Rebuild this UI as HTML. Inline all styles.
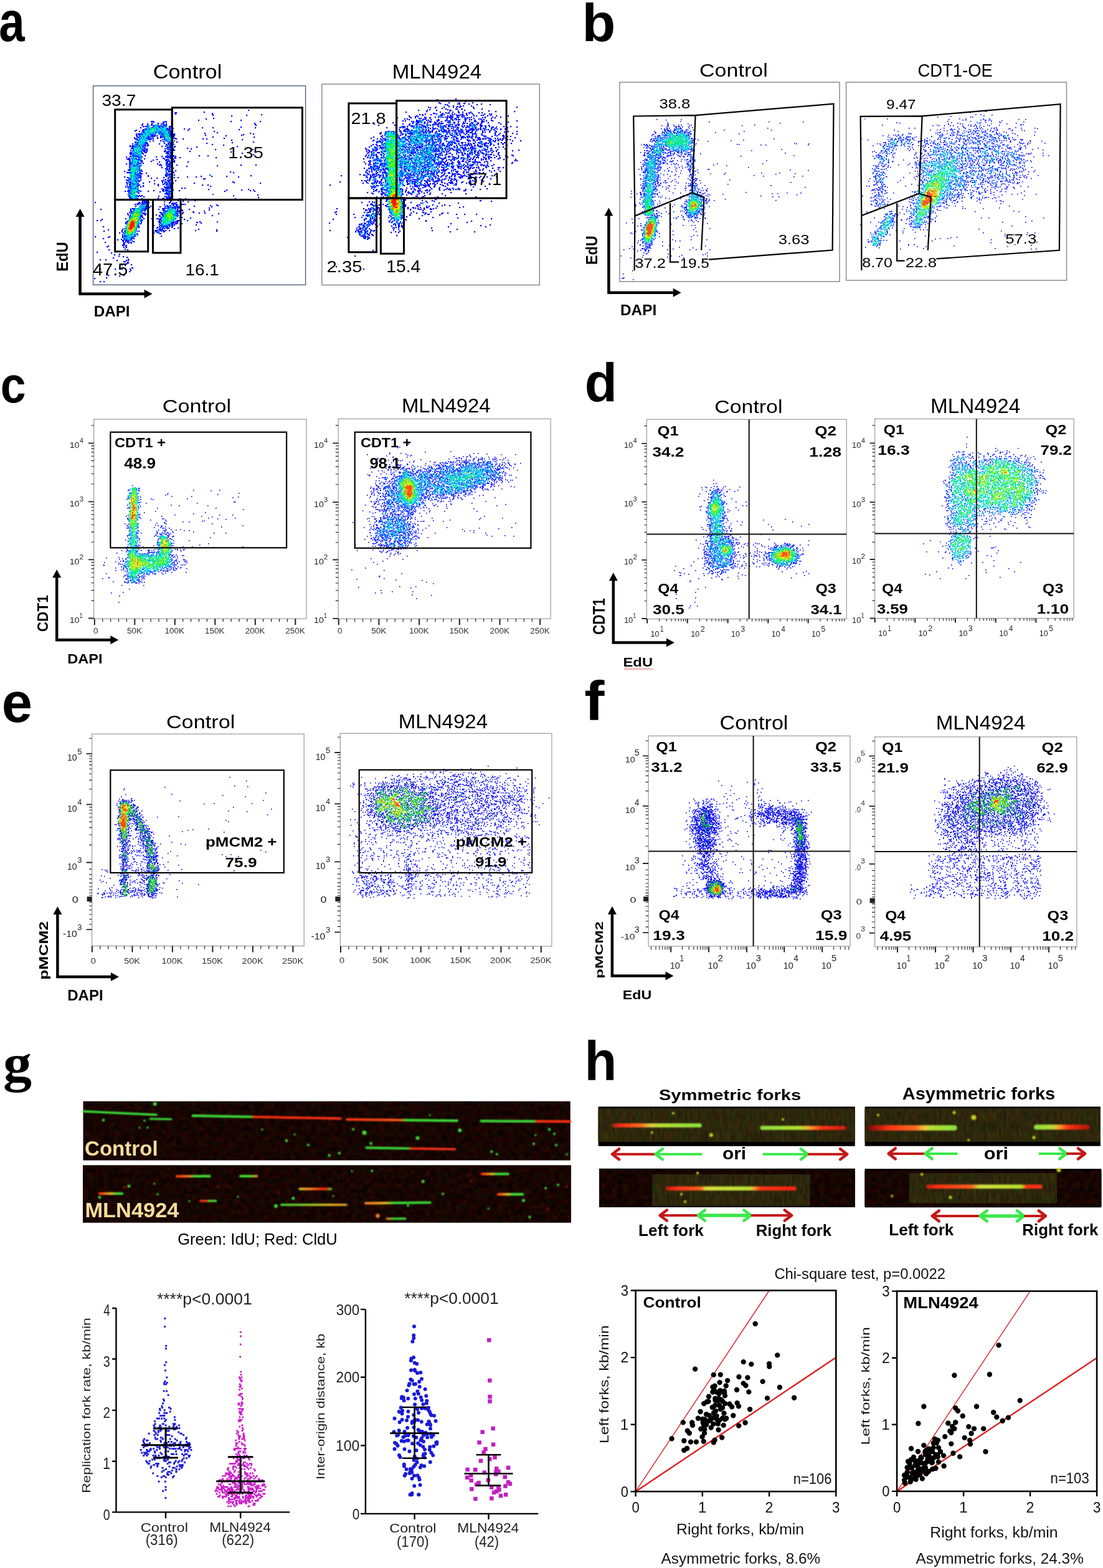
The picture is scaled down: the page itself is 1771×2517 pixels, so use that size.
<!DOCTYPE html><html><head><meta charset="utf-8"><title>Figure</title><style>html,body{margin:0;padding:0;background:#fff;width:1771px;height:2517px;overflow:hidden}svg{display:block}</style></head><body><svg width="1771" height="2517" viewBox="0 0 1771 2517" font-family="'Liberation Sans', Arial, sans-serif"><defs><marker id="k0" markerUnits="userSpaceOnUse" markerWidth="3" markerHeight="3" refX="0" refY="0" overflow="visible"><rect width="2.2" height="2.2" fill="#0000ff"/></marker><marker id="k1" markerUnits="userSpaceOnUse" markerWidth="3" markerHeight="3" refX="0" refY="0" overflow="visible"><rect width="2.2" height="2.2" fill="#0050ff"/></marker><marker id="k2" markerUnits="userSpaceOnUse" markerWidth="3" markerHeight="3" refX="0" refY="0" overflow="visible"><rect width="2.2" height="2.2" fill="#00b8ff"/></marker><marker id="k3" markerUnits="userSpaceOnUse" markerWidth="3" markerHeight="3" refX="0" refY="0" overflow="visible"><rect width="2.2" height="2.2" fill="#00f0c8"/></marker><marker id="k4" markerUnits="userSpaceOnUse" markerWidth="3" markerHeight="3" refX="0" refY="0" overflow="visible"><rect width="2.2" height="2.2" fill="#00f040"/></marker><marker id="k5" markerUnits="userSpaceOnUse" markerWidth="3" markerHeight="3" refX="0" refY="0" overflow="visible"><rect width="2.2" height="2.2" fill="#90f000"/></marker><marker id="k6" markerUnits="userSpaceOnUse" markerWidth="3" markerHeight="3" refX="0" refY="0" overflow="visible"><rect width="2.2" height="2.2" fill="#f8f000"/></marker><marker id="k7" markerUnits="userSpaceOnUse" markerWidth="3" markerHeight="3" refX="0" refY="0" overflow="visible"><rect width="2.2" height="2.2" fill="#ff8000"/></marker><marker id="k8" markerUnits="userSpaceOnUse" markerWidth="3" markerHeight="3" refX="0" refY="0" overflow="visible"><rect width="2.2" height="2.2" fill="#ff1800"/></marker><marker id="j0" markerUnits="userSpaceOnUse" markerWidth="3" markerHeight="3" refX="0" refY="0" overflow="visible"><rect width="1.6" height="1.6" fill="#0000ff"/></marker><marker id="j1" markerUnits="userSpaceOnUse" markerWidth="3" markerHeight="3" refX="0" refY="0" overflow="visible"><rect width="1.6" height="1.6" fill="#0050ff"/></marker><marker id="j2" markerUnits="userSpaceOnUse" markerWidth="3" markerHeight="3" refX="0" refY="0" overflow="visible"><rect width="1.6" height="1.6" fill="#00b8ff"/></marker><marker id="j3" markerUnits="userSpaceOnUse" markerWidth="3" markerHeight="3" refX="0" refY="0" overflow="visible"><rect width="1.6" height="1.6" fill="#00f0c8"/></marker><marker id="j4" markerUnits="userSpaceOnUse" markerWidth="3" markerHeight="3" refX="0" refY="0" overflow="visible"><rect width="1.6" height="1.6" fill="#00f040"/></marker><marker id="j5" markerUnits="userSpaceOnUse" markerWidth="3" markerHeight="3" refX="0" refY="0" overflow="visible"><rect width="1.6" height="1.6" fill="#90f000"/></marker><marker id="j6" markerUnits="userSpaceOnUse" markerWidth="3" markerHeight="3" refX="0" refY="0" overflow="visible"><rect width="1.6" height="1.6" fill="#f8f000"/></marker><marker id="j7" markerUnits="userSpaceOnUse" markerWidth="3" markerHeight="3" refX="0" refY="0" overflow="visible"><rect width="1.6" height="1.6" fill="#ff8000"/></marker><marker id="j8" markerUnits="userSpaceOnUse" markerWidth="3" markerHeight="3" refX="0" refY="0" overflow="visible"><rect width="1.6" height="1.6" fill="#ff1800"/></marker><marker id="i0" markerUnits="userSpaceOnUse" markerWidth="3" markerHeight="3" refX="0" refY="0" overflow="visible"><rect width="1.6" height="1.6" fill="#0000ff"/></marker><marker id="i1" markerUnits="userSpaceOnUse" markerWidth="3" markerHeight="3" refX="0" refY="0" overflow="visible"><rect width="1.6" height="1.6" fill="#0000d8"/></marker><marker id="i2" markerUnits="userSpaceOnUse" markerWidth="3" markerHeight="3" refX="0" refY="0" overflow="visible"><rect width="1.6" height="1.6" fill="#1a1aff"/></marker><marker id="i3" markerUnits="userSpaceOnUse" markerWidth="3" markerHeight="3" refX="0" refY="0" overflow="visible"><rect width="1.6" height="1.6" fill="#00b050"/></marker><marker id="i4" markerUnits="userSpaceOnUse" markerWidth="3" markerHeight="3" refX="0" refY="0" overflow="visible"><rect width="1.6" height="1.6" fill="#20e020"/></marker><marker id="i5" markerUnits="userSpaceOnUse" markerWidth="3" markerHeight="3" refX="0" refY="0" overflow="visible"><rect width="1.6" height="1.6" fill="#b0e800"/></marker><marker id="i6" markerUnits="userSpaceOnUse" markerWidth="3" markerHeight="3" refX="0" refY="0" overflow="visible"><rect width="1.6" height="1.6" fill="#f0e000"/></marker><marker id="i7" markerUnits="userSpaceOnUse" markerWidth="3" markerHeight="3" refX="0" refY="0" overflow="visible"><rect width="1.6" height="1.6" fill="#ff7000"/></marker><marker id="i8" markerUnits="userSpaceOnUse" markerWidth="3" markerHeight="3" refX="0" refY="0" overflow="visible"><rect width="1.6" height="1.6" fill="#ff1000"/></marker></defs><text x="-1.7" y="65.6" font-size="90.4" font-weight="bold" textLength="41.4" lengthAdjust="spacingAndGlyphs" fill="#000">a</text><text x="934.6" y="65.9" font-size="85.4" font-weight="bold" textLength="53.8" lengthAdjust="spacingAndGlyphs" fill="#000">b</text><text x="0.8" y="645.8" font-size="81.8" font-weight="bold" textLength="40.9" lengthAdjust="spacingAndGlyphs" fill="#000">c</text><text x="938.8" y="644" font-size="87.1" font-weight="bold" textLength="52.2" lengthAdjust="spacingAndGlyphs" fill="#000">d</text><text x="2.7" y="1158.7" font-size="90.4" font-weight="bold" textLength="49.2" lengthAdjust="spacingAndGlyphs" fill="#000">e</text><text x="938.3" y="1156.3" font-size="89.6" font-weight="bold" textLength="32.2" lengthAdjust="spacingAndGlyphs" fill="#000">f</text><text x="4.9" y="1736.1" font-size="85.6" font-weight="bold" font-family="'Liberation Serif', serif" textLength="46.0" lengthAdjust="spacingAndGlyphs">g</text><text x="938.6" y="1733.8" font-size="88.5" font-weight="bold" textLength="51.8" lengthAdjust="spacingAndGlyphs" fill="#000">h</text><g fill="none" stroke="none"><path d="m398 176-71 3-47 1 2 0 58 1-59 1 59 0 79 1-78 1 54 0-24 1-29 4-12 1-12 2 68 0-144 2 1 0 2 0 19 0 1 0 105 0 47 0-171 1 15 0 5 0-4 1-19 1 10 0 8 0 147 0-180 1 8 0 22 0 8 0-30 1 7 0 18 0 1 0 147 0-182 1 9 0 6 0 7 0 14 0 1 0 2 0 144 0-174 1 1 0 16 0 1 0 3 0 2 0-30 1 1 0 3 0 1 0 13 0 3 0 3 0 18 0 2 0-28 1 2 0 4 0 3 0 1 0 4 0 4 0 2 0 6 0 115 0-161 1 12 0 1 0 5 0 9 0 5 0 67 0 17 0 68 0-170 1 1 0 28 0 3 0 1 0 5 0-45 1 2 0 3 0 15 0 3 0 12 0 8 0 20 0 8 0-74 1 6 0 1 0 5 0 11 0 3 0 4 0 4 0 3 0 4 0 5 0 108 0-165 1 15 0 5 0 2 0 8 0 8 0 10 0 2 0 7 0 26 0-85 1 12 0 1 0 7 0 29 0 6 0-48 1 6 0 24 0 18 0 2 0 3 0 67 0-113 1 1 0 6 0 9 0 3 0 5 0 2 0 1 0 15 0-45 1 3 0 5 0 18 0 4 0 5 0 3 0 5 0 78 0-111 1 2 0 6 0 22 0 61 0 73 0-183 1 3 0 1 0 1 0 1 0 9 0 15 0 7 0 1 0 3 0 15 0 2 0 3 0 127 0-184 1 5 0 1 0 15 0 17 0 12 0 1 0 5 0 112 0-172 1 18 0 2 0 7 0 2 0 10 0 10 0 4 0 8 0 50 0 58 0-168 1 4 0 4 0 2 0 1 0 12 0 1 0 1 0 4 0 3 0 6 0 4 0 4 0 1 0 5 0 2 0 3 0 2 0 84 0-137 1 1 0 10 0 1 0 2 0 3 0 2 0 2 0 11 0 7 0 14 0-59 1 1 0 6 0 33 0 14 0 1 0 67 0 66 0-192 1 7 0 10 0 5 0 3 0 12 0 5 0 6 0 1 0 11 0 2 0-52 1 11 0 1 0 1 0 14 0 13 0 15 0 79 0-143 1 2 0 1 0 12 0 2 0 2 0 4 0 1 0 2 0 3 0 18 0 11 0 8 0 11 0 32 0 6 0-113 1 10 0 10 0 2 0 20 0 3 0 2 0 10 0 1 0 112 0-113 1 1 0 95 0-147 1 21 0 12 0 9 0 7 0-11 1 11 0-57 1 8 0 7 0 2 0 42 0 8 0 123 0-186 1 11 0 4 0 36 0 4 0 2 0 95 0-145 1 6 0 30 0 6 0 1 0 3 0 58 0-119 1 4 0 8 0 5 0 6 0 1 0 19 0 18 0 1 0-58 1 11 0 3 0 2 0 34 0 74 0-123 1 1 0 2 0 2 0 15 0 30 0 2 0 4 0 1 0 2 0 82 0-150 1 4 0 2 0 3 0 5 0 2 0 6 0 2 0 1 0 3 0 38 0-66 1 3 0 10 0 3 0 4 0 31 0 6 0 7 0 1 0 7 0 100 0-166 1 2 0 55 0 8 0 36 0-103 1 12 0 1 0 3 0 4 0 37 0 3 0 4 0-66 1 2 0 9 0 4 0 2 0 40 0 33 0-69 1 4 0 29 0 5 0 4 0 4 0 29 0-93 1 9 0 8 0 39 0 3 0 73 0 60 0-192 1 13 0 2 0 7 0 38 0 4 0 2 0-70 1 10 0 11 0 2 0 3 0 29 0 1 0 6 0 1 0 3 0-63 1 14 0 4 0 33 0 1 0 5 0 1 0 1 0 4 0 29 0-77 1 4 0 3 0 33 0 103 0-162 1 2 0 7 0 16 0 34 0 2 0 4 0-63 1 3 0 4 0 5 0 1 0 4 0 39 0 3 0 5 0 114 0-180 1 1 0 1 0 4 0 15 0 39 0-59 1 4 0 58 0 135 0-193 1 3 0 55 0-57 1 3 0 1 0 2 0 3 0 9 0 36 0 4 0 2 0 4 0 41 0 14 0-125 1 1 0 3 0 1 0 8 0 5 0 33 0 7 0 3 0 1 0 8 0 3 0-79 1 14 0 4 0 4 0 1 0 2 0 23 0 15 0 2 0 2 0 2 0 2 0-61 1 56 0 3 0 9 0 8 0 58 0-140 1 4 0 12 0 39 0 12 0 1 0 7 0-78 1 4 0 5 0 1 0 5 0 5 0 1 0 1 0 6 0 32 0 15 0-73 1 1 0 10 0 35 0 16 0 2 0 5 0 2 0-68 1 3 0 6 0 6 0 1 0 21 0 20 0 4 0 1 0 6 0-64 1 13 0 2 0 39 0 3 0 1 0 4 0 5 0-72 1 4 0 8 0 7 0 16 0 26 0 3 0 6 0-69 1 4 0 9 0 6 0 28 0 24 0 22 0-90 1 8 0 1 0 46 0 2 0 4 0 2 0-58 1 1 0 5 0 3 0 4 0 37 0 6 0-70 1 5 0 9 0 2 0 3 0 1 0 30 0 14 0 5 0 1 0-64 1 6 0 3 0 4 0 36 0 12 0 2 0-59 1 5 0 1 0 3 0 34 0 11 0 4 0 1 0 1 0 11 0 103 0 24 0-203 1 4 0 4 0 10 0 33 0 11 0 79 0-125 1 45 0 1 0 2 0 3 0 25 0-84 1 6 0 46 0 5 0 1 0-66 1 15 0 37 0 12 0 1 0-53 1 4 0 44 0 10 0-12 1 3 0 3 0-64 1 14 0 1 0 46 0 3 0-66 1 1 0 2 0 4 0 6 0 8 0 41 0-56 1 54 0 1 0 4 0 11 0-82 1 9 0 12 0 7 0 45 0 2 0-65 1 5 0 2 0 8 0 46 0 4 0 3 0 92 0-166 1 2 0 2 0 6 0 6 0 1 0 4 0 42 0 12 0 96 0-166 1 8 0 4 0 2 0 1 0 11 0-18 1 3 0 1 0 5 0 2 0 40 0 1 0 4 0-7 1 1 0 1 0 3 0 2 0 2 0-52 1 1 0 43 0 5 0 8 0-54 1 12 0 28 0 2 0 1 0 3 0 2 0 129 0-185 1 4 0 16 0 29 0 6 0 2 0 48 0 17 0 24 0-164 1 10 0 2 0 11 0 2 0 1 0 50 0 25 0 14 0 68 0-178 1 6 0 52 0 8 0 5 0 4 0 6 0-79 1 13 0 6 0 17 0 9 0 18 0-50 1 50 0 5 0 52 0 2 0-120 1 11 0 1 0 45 0 7 0-70 1 3 0 2 0 5 0 5 0 2 0 6 0 37 0-58 1 18 0 25 0 12 0 9 0 2 0 1 0 1 0 9 0-73 1 1 0 6 0 1 0 7 0 37 0 10 0 6 0-70 1 14 0 19 0 25 0 6 0 103 0-171 1 6 0 1 0 51 0 7 0 5 0 3 0 100 0-172 1 1 0 10 0 3 0 12 0 36 0 8 0 4 0 34 0 106 0-209 1 3 0 4 0 4 0 2 0 26 0 16 0 5 0 8 0-69 1 1 0 5 0 4 0 36 0 8 0 6 0 1 0 4 0 2 0-71 1 6 0 11 0 3 0 43 0 1 0 2 0 4 0 51 0 9 0-125 1 3 0 6 0 3 0 1 0 8 0 24 0 19 0-63 1 1 0 2 0 3 0 14 0 44 0 64 0-136 1 3 0 2 0 1 0 9 0 4 0 5 0 38 0 4 0 1 0-57 1 53 0 2 0 2 0 2 0 1 0 2 0 3 0-65 1 54 0 1 0 1 0 3 0 21 0 5 0-91 1 3 0 11 0 1 0 39 0 10 0 4 0-61 1 6 0 2 0 41 0 1 0 4 0 68 0 64 0-191 1 3 0 10 0 41 0 4 0 1 0 1 0 10 0 86 0 24 0 19 0-200 1 2 0 1 0 9 0 1 0 3 0 24 0 14 0 5 0 2 0 2 0 18 0 114 0-201 1 4 0 2 0 9 0 10 0 12 0 25 0 8 0 2 0 2 0 86 0 48 0-198 1 10 0 36 0 11 0-61 1 4 0 56 0 5 0 2 0-52 1 1 0 44 0 2 0 3 0 3 0 1 0-66 1 55 0 3 0 3 0 1 0-66 1 62 0 4 0 3 0-66 1 3 0 1 0 6 0 51 0 1 0 143 0-205 1 10 0 1 0 4 0 4 0 42 0 5 0 100 0-168 1 2 0 13 0 4 0 29 0 10 0 12 0-67 1 9 0 12 0 36 0 6 0 2 0-67 1 8 0 52 0 3 0 1 0 143 0-205 1 9 0 2 0 33 0 9 0 5 0 4 0 2 0-65 1 2 0 4 0 3 0 10 0 33 0 6 0 3 0 1 0 6 0 12 0 9 0 80 0-146 1 34 0 5 0 9 0 2 0 6 0 100 0-158 1 1 0 38 0 4 0 31 0 2 0-75 1 44 0 11 0 27 0-84 1 3 0 2 0 2 0 38 0 20 0-61 1 31 0 38 0-149 1 71 0 4 0 2 0 2 0 4 0 1 0 2 0 34 0 10 0-61 1 12 0 2 0 36 0 5 0 3 0-55 1 4 0 2 0 4 0 41 0 3 0 2 0-64 1 3 0 2 0 6 0 1 0 5 0 30 0 19 0 1 0 6 0 2 0 2 0 3 0-69 1 3 0 3 0 44 0 5 0 65 0-121 1 8 0 33 0 5 0 6 0 6 0 53 0 12 0-132 1 24 0 23 0 3 0 2 0 13 0 29 0-87 1 6 0 4 0 1 0 21 0 16 0 1 0 7 0 4 0 2 0 53 0-107 1 2 0 5 0 5 0 25 0 1 0 1 0 5 0 1 0 4 0 3 0 3 0-59 1 35 0 2 0 2 0 1 0 2 0 6 0 5 0 4 0 3 0 47 0-123 1 2 0 1 0 5 0 10 0 2 0 2 0 26 0 2 0 5 0 10 0 2 0 1 0-119 1 48 0 5 0 10 0 1 0 5 0 3 0 21 0 8 0 9 0 6 0 3 0 1 0 3 0 19 0-94 1 5 0 13 0 34 0 8 0 15 0 7 0 44 0-109 1 2 0 4 0 29 0 3 0 21 0 4 0 3 0-83 1 1 0 3 0 2 0 16 0 36 0 10 0 5 0 3 0 2 0 40 0-117 1 15 0 1 0 38 0 20 0 1 0 24 0-102 1 49 0 1 0 4 0 19 0 8 0 1 0 4 0 17 0-98 1 12 0 4 0 2 0 28 0 24 0 6 0 1 0 30 0 9 0-124 1 5 0 20 0 2 0 2 0 48 0 3 0 8 0 58 0-92 1 22 0 2 0-77 1 27 0 18 0 10 0 29 0-81 1 19 0 28 0 7 0 20 0 3 0 55 0-115 1 2 0 28 0 1 0 7 0 15 0-71 1 20 0-3 1 4 0 30 0 3 0 1 0 18 0 8 0 3 0-67 1 81 0-104 1 6 0 23 0 13 0 8 0 2 0 3 0 2 0 21 0 2 0-118 1 132 0-70 1 2 0 28 0 2 0-102 1 6 0 66 0 50 0 7 0 2 0 14 0-79 1 34 0 3 0 25 0-29 1 21 0 2 0 4 0 1 0 2 0 36 0 28 0-147 1 2 0 23 0 30 0 3 0 9 0 11 0 36 0 1 0-61 1 2 0 11 0 6 0 1 0 2 0 1 0 6 0 38 0-121 1 19 0 2 0 1 0 2 0 44 0 2 0 10 0 1 0 9 0-20 1 3 0 2 0-21 1 3 0 3 0 2 0 2 0 5 0 1 0 5 0 3 0 35 0-68 1 11 0 17 0 2 0-56 1 2 0 40 0 5 0 4 0 1 0-107 1 37 0 53 0 6 0 4 0 3 0 8 0-54 1 30 0 9 0 14 0-24 1 17 0 1 0 1 0 15 0-86 1 57 0 4 0 3 0 5 0 11 0-83 1 22 0 39 0 1 0 1 0 59 0-145 1 82 0 4 0 88 0-152 1 54 0 2 0 6 0 4 0 4 0 6 0 42 0-147 1 56 0 26 0 1 0 1 0 8 0 5 0 84 0-152 1 8 0 50 0 1 0 8 0-11 1 1 0 1 0-62 1 6 0 18 0 31 0-27 1 38 0-41 1-20 1 14 0 6 0-17 1 2 0 9 0-14 1 3 0 5 0 11 0 1 0 42 0-106 1 23 0 29 0-31 1 23 0 7 0 10 0-14 1 5 0 5 0 1 0 1 0-46 1 18 0 16 0 11 0 4 0-20 1-6 1 10 0 3 0 1 0 4 0 3 0 1 0-14 1 1 0 5 0-1 1 3 0 2 0-9 1 4 0 13 0-46 1 36 0 5 0-26 1 15 0 1 0 7 0 4 0-12 1-1 1 2 1-3 1 1 0 5 0-29 1-2 1 30 0-3 1 4 0-2 3-26 1 30 0-49 4 23 1 13 2-8 1 7 2 7 1 6 1-22 1 24 2-45 1 9 0 18 1 15 0 3 0-7 2 2 0 4 1 1 1-2 1-31 1 29 0-6 1 15 0-10 1 11 4 1 0-52 2 24 0 8 0 3 0 13 0 1 2-2 2-34 6 25 0-7 1-21 3-19 1 9 5 6 0" marker-start="url(#k0)" marker-mid="url(#k0)" marker-end="url(#k0)"/><path d="m252 199 10 0 1 0-17 1 5 0 15 0-28 1 7 0 4 0 3 0 7 0 6 0 1 0-28 1 9 0 3 0 2 0 9 0 4 0-14 1 2 0 6 0 1 0 2 0 1 0-27 1 4 0 10 0 6 0 1 0 2 0-22 1 5 0 1 0 4 0 7 0 1 0 2 0 2 0-23 1 3 0 1 0 1 0 7 0 2 0 2 0 3 0 4 0 6 0-28 1 18 0 10 0 2 0 1 0 4 0-41 1 5 0 25 0 1 0 1 0 5 0 4 0-35 1 8 0 2 0 7 0 4 0 5 0 4 0-34 1 3 0 3 0 5 0 1 0 3 0 2 0 5 0 6 0 3 0 1 0 5 0-35 1 1 0 2 0 6 0 9 0 2 0 1 0 2 0 1 0 3 0 2 0 8 0-39 1 7 0 10 0 7 0 9 0 3 0 4 0-42 1 5 0 4 0 8 0 7 0 6 0 1 0 5 0 3 0 2 0-46 1 3 0 1 0 3 0 1 0 8 0 13 0 12 0 1 0 8 0-51 1 1 0 6 0 2 0 6 0 8 0 10 0 4 0 3 0 1 0-39 1 1 0 3 0 15 0 14 0 6 0 4 0-47 1 40 0 10 0-49 1 3 0 1 0 3 0 12 0 22 0 7 0 2 0-50 1 4 0 5 0 2 0 6 0 20 0 6 0 3 0 3 0-44 1 4 0 11 0 29 0-50 1 2 0 1 0 1 0 4 0 2 0 6 0 39 0-55 1 11 0 1 0 5 0 30 0-47 1 4 0 43 0-50 1 1 0 9 0 36 0 2 0 1 0 1 0 1 0 3 0 1 0-51 1 1 0 1 0 8 0 33 0 3 0 9 0-57 1 1 0 2 0 1 0 2 0 4 0 8 0 21 0 2 0 5 0 2 0-52 1 14 0 42 0-57 1 7 0 3 0 3 0 45 0-55 1 1 0 2 0 7 0 2 0 43 0-58 1 2 0 2 0 5 0 1 0 1 0 3 0-13 1 7 0 1 0 44 0 1 0 3 0 4 0-52 1 44 0-46 1 44 0-47 1-7 1 4 0 1 0 49 0-40 1 2 0-13 1 4 0 1 0 1 0 1 0 3 0 50 0-63 1 3 0 5 0 3 0 43 0 2 0 3 0-58 1 1 0 1 0 8 0 4 0 4 0-24 1 5 0 2 0 1 0 6 0 1 0-2 1 1 0-11 1 5 0 1 0 1 0-4 1 6 0 1 0 1 0 1 0 48 0 3 0 1 0-57 1 2 0-8 1 6 0 1 0 4 0-8 1 3 0 3 0 2 0 46 0 3 0 1 0-64 1 3 0 10 0 2 0 46 0-59 1 7 0 2 0 2 0-7 1 7 0 44 0 4 0-55 1 2 0 3 0 5 0 45 0-59 1 11 0 1 0-12 1 5 0 5 0 48 0-59 1 2 0 1 0 1 0-2 1 1 0 2 0 2 1 2 0 1 0-8 1 6 0 1 0 49 0 1 0-57 1 1 0 1 0 2 0 3 0 1 0-9 1 6 0 2 0 1 0-6 1 2 0-10 1 3 0 4 0-5 1 1 1 8 0 1 0 1 0 3 0 1 0 44 0-57 1 6 0 49 0 2 0-52 1 1 0 2 0 48 0 3 0-60 1 2 0 3 0 1 0 58 0-60 1 6 0-12 1 10 0 4 0 50 0 1 0 1 0-63 1 4 0 7 0-4 1 4 0-14 1 2 0 2 0 1 0 1 0 3 0 3 0-5 1 57 0-63 1 2 0 2 0 2 0 2 0 7 0-10 1 9 0 43 0-47 1-9 1 5 0 60 0-66 1 1 0 9 0 48 0-57 1 1 0 4 0 3 0-8 1 1 0 3 0 2 0 51 0-56 1 1 1 4 0 1 0 1 0 2 0 51 0 65 0-127 1 3 0 7 0 1 0 48 0-59 1 2 0 5 0 1 0-6 1 2 0-5 1 2 0 1 0 6 0 1 0 4 0 51 0-64 1 5 0 2 0 1 0 1 0 2 0 1 0-6 1 5 0-10 1 2 0 2 0 1 0 5 0-13 1 5 0-1 1 1 0 7 0-7 1 3 0 2 0 48 0-59 1 1 0 6 0 5 0 2 0 1 0-11 1 2 0 1 1 3 0 2 0 47 0 6 0-60 1 7 0 51 0 1 0 3 0-54 1 51 0 1 0-56 1 1 0 2 0-9 1 11 0 50 0 1 0-59 1 5 1 1 0 1 0 51 0-64 1 3 0 1 0 2 0 3 0 2 0 3 0-10 1 6 0 3 0-5 1 3 0 49 0-53 1 6 0-10 1 2 0 5 0 2 0 2 0-12 1 3 0 12 0 48 0-61 1 5 0 3 0-6 1 3 0 2 0 2 0-11 1 5 0 1 0 7 0 51 0 1 0-66 1 63 0 1 0 1 0-62 1 1 0 4 0-7 1 6 0 55 0 72 0-131 1 2 0 57 0-62 1 4 0 5 0 2 0-10 1 1 0 3 0 4 0 1 0 54 0-61 1 5 0 54 0-61 1 2 0 2 0 2 0-2 1 8 0-5 1 3 0 55 1-40 4-4 1 0 1 3 2 1 0 1 0-3 1 2 0 43 0-47 1 44 0 11 0-59 1 2 0 3 0 42 0 6 0 7 0-60 1 2 0 1 0 1 0 3 0 40 0 10 0-11 1-55 1 9 0 42 0 7 0 5 0-70 1 11 0 5 0 3 0 2 0 42 0 5 0 1 0-59 1 1 0 2 0 3 0 2 0 4 0-17 1 4 0 3 0 1 0 5 0 3 0 33 0 7 0 2 0 1 0-59 1 6 0 2 0 1 0 48 0 4 0 1 0-60 1 7 0 1 0 1 0 1 0 5 0 32 0 2 0 6 0 2 0 4 0 2 0 1 0-61 1 6 0 38 0 1 0 1 0 12 0 1 0 2 0-67 1 1 0 3 0 44 0 15 0 2 0 1 0 3 0-71 1 1 0 1 0 3 0 1 0 6 0 41 0 3 0 3 0 4 0 4 0-18 1 8 0 12 0 2 0 3 0-72 1 12 0 37 0 2 0 4 0 9 0 5 0-58 1 2 0 37 0 15 0 1 0 2 0 2 0-60 1 37 0-50 1 1 0 4 0 7 0 39 0-50 1 9 0 40 0 2 0 6 0 12 0 4 0-76 1 16 0 37 0 3 0 6 0-61 1 52 0 4 0 1 0 13 0 1 0-72 1 16 0 33 0 6 0 17 0-55 1 38 0 6 0-47 1 42 0 13 0-72 1 1 0 54 0 1 0 1 0 9 0 1 0-69 1 2 0 1 0 13 0 6 0 44 0 7 0 1 0-72 1 1 0 56 0 6 0-47 1 51 0-69 1 17 0 39 0 2 0 3 0-44 1 41 0 3 0 1 0-1 1 1 0 9 0-54 1 1 0 39 0 4 0 4 0 6 0-70 1 15 0 39 0 3 0 3 0 1 0-45 1 39 0-56 1 56 0-40 1 37 0 1 0 3 1 6 0-64 1 53 0 1 0-54 2 14 0 37 0-53 1 58 0-59 1 1 0 16 0 3 0-15 1 49 0-53 1 3 0 13 0 35 0 3 0-49 1 9 0-15 1 8 0 48 0-55 1 1 0 1 0 10 0-7 1 10 0 5 0-19 1 1 1 2 0 3 0 7 0-11 1 1 0 1 0 3 0 1 0 1 0 1 0-14 1 2 0 2 0 6 0-9 1 3 0 2 0-3 1 3 0 3 0 5 0-8 1 2 0 2 0-4 1 4 0 1 0-2 1 6 1" marker-start="url(#k1)" marker-mid="url(#k1)" marker-end="url(#k1)"/><path d="m253 199-16 1 14 0-2 1-11 1 11 0 2 0 1 0 11 0-15 1 15 0 1 0-26 1 8 0 1 0 2 0 9 0 6 0-27 1 6 0 3 0 2 0 5 0 8 0-19 1 5 0 7 0 5 0 1 0 2 0-20 1 1 0 2 0 8 0 8 0 1 0 3 0 10 0-42 1 9 0 1 0 1 0 3 0 2 0 1 0 5 0 5 0 1 0 1 0 2 0 1 0-31 1 3 0 2 0 1 0 2 0 2 0 1 0 2 0 11 0 1 0 2 0 3 0-32 1 6 0 1 0 2 0 1 0 1 0 1 0 4 0 6 0 7 0 3 0 1 0-31 1 5 0 8 0 13 0 2 0-28 1 6 0 26 0-38 1 3 0 4 0 1 0 2 0 1 0 4 0 4 0 6 0 10 0 1 0-34 1 3 0 1 0 19 0 11 0 5 0-34 1 2 0 20 0 5 0 4 0 4 0-39 1 2 0 5 0 1 0 26 0 2 0 1 0 2 0-44 1 5 0 4 0 29 0 2 0-40 1 6 0 3 0 5 0 25 0 3 0 1 0-3 1 2 0 1 0 1 0 5 0 1 0-52 1 3 0 4 0 35 0 1 0 1 0 2 0-44 1 1 0 1 0 40 0 1 0 4 0-48 1 2 0 4 0 33 0 5 0 1 0 2 0-48 1 6 0 1 0 1 0 1 0 1 0 2 0 33 0 2 0 3 0-48 1 43 0 3 0-48 1 5 0 4 0 35 0 2 0 1 0 1 0-49 1 3 0 2 0 2 0 2 0 1 0-10 1 2 0 3 0 48 0-54 1 1 0 7 0-7 1 1 0 4 0-12 1 10 0 2 0 2 0-9 2-4 1 52 0-43 1-5 1-6 1 3 0 1 0 2 0-2 1 1 0-6 1 2 0 5 0 1 0-5 1 5 0 3 0-5 2 6 0 45 0-55 1 2 0 4 0-5 1 2 0 0 1 1 0 0 1 5 0-9 1 7 0 2 0-10 1 4 0 1 0 4 0-2 2 1 0-12 1 1 2 14 0-15 1 2 1 1 0 10 0-9 1-4 1 3 0 1 0 1 0 1 0 0 1 2 0 1 0 3 0-12 1 1 0 2 0 3 0-3 1 1 0 4 0-1 1-2 1-3 1 3 0 5 0-10 2 1 0 14 0-14 1 9 0-2 1-1 1 56 0-64 1 1 0 2 0 3 0 3 0 2 0-10 1 1 0 3 0 5 0-10 1 3 0 2 0 1 0 5 0-10 1 3 0 2 0 3 0-7 1 2 0 2 0 4 0-5 1 3 0 1 0 46 0-57 1 3 0 2 0 2 0-3 1 1 0 2 0-2 1 7 0-1 1 2 0-11 1 3 0-2 1 1 0 1 0 1 0-6 1 2 0 2 0 1 0 1 1 3 0 56 0-60 1 1 0-1 1 2 0-6 1 4 0 1 0 2 0-4 2 3 0 6 0 54 0-64 1 1 0 1 0 5 1-10 1 3 0-1 1 3 1 1 0 6 0-9 1 5 1-1 1 4 0-9 1 59 0-59 1 2 0 0 1 3 0 2 0-3 1 2 0-5 1 3 0-2 1-6 1 7 0 6 0-11 2 7 0 3 0 53 0-58 1 1 0 5 0 51 0-56 1 4 0-8 1 1 0 2 0 1 0 3 0 51 1-59 1 3 0 1 0 60 0-63 1 2 0 2 1 1 1-6 1 2 0 1 0 4 0 2 0-8 1 3 0 1 0 2 0-3 1-2 1 2 0 2 0-4 1 2 0 3 0 1 0 1 0-4 1 1 0-2 1 16 10 1 0 2 0-8 1 2 0 4 0-4 1 2 0-5 1 3 0 1 0 47 0-50 1 4 0 3 0-15 1 6 0 4 0 47 0-51 1 1 0 44 0 5 0-49 1 48 0 6 0-60 1 5 0 5 0 43 0 1 0 9 0-60 1 4 0 47 0 4 0 2 0-63 1 2 0 1 0 2 0 2 0 50 0 1 0 6 0 3 0-65 1 2 0 1 0 3 0 47 0 3 0 1 0 1 0 4 0-59 1 1 0 56 0-61 1 1 0 5 0 2 0 42 0 3 0 2 0 4 0 1 0 2 0 1 0 1 0-67 1 1 0 3 0 6 0 2 0 47 0 4 0-65 1 9 0 1 0 47 0 1 0 2 0 11 0-69 1 1 0 1 0 1 0 3 0 6 0 40 0 1 0-52 1 53 0 11 0-66 1 5 0 3 0 45 0 2 0 3 0 9 0 1 0 1 0-70 1 3 0 2 0 5 0 2 0 43 0 8 0 4 0 2 0 4 0-71 1 10 0 41 0 5 0 5 0 3 0 4 0-69 1 7 0 2 0 42 0 4 0 11 0-69 1 11 0 2 0 40 0 1 0 3 0 2 0 8 0 2 0-68 1 6 0 7 0 2 0 39 0 1 0 1 0 1 0 2 0 5 0 3 0 4 0-72 1 10 0 1 0 42 0 1 0 9 0 1 0 1 0 1 0 5 0-72 1 1 0 13 0 39 0 2 0 3 0 2 0 2 0-62 1 15 0 38 0 4 0 5 0 3 0 2 0-68 1 14 0 1 0 40 0 1 0 2 0 5 0-51 1 3 0 43 0 2 0 1 0 6 0-69 1 2 0 14 0 3 0 39 0 3 0 3 0-49 1 4 0 36 0 1 0 3 0 2 0 1 0 3 0-66 1 1 0 15 0 45 0 3 0-61 1 13 0 0 1 54 0-71 1 15 0-16 1 1 0 2 0-2 1 1 0 14 0 46 0-61 1-2 1 16 0 1 0-2 1-13 1 13 0-12 1 10 0-11 1 0 1 13 0-12 1 10 0-11 1 1 0 3 0 8 0-14 1 2 0 1 0 3 0 2 0 2 0 1 0 5 0-10 1 2 0 3 0-10 1 10 0-2 1 8 0-12 1 2 0-8 2 6 0 1 0 1 0-4 1 4 0-6 1 4 0 3 0-3 1 2 0" marker-start="url(#k2)" marker-mid="url(#k2)" marker-end="url(#k2)"/><path d="m240 204 8 0 4 0-8 1 17 0 1 0 1 0-27 1 5 0 14 0 8 0-19 1 3 0 2 0 7 0-20 1 4 0 5 0 1 0-5 1 1 0 2 0 20 0-32 1 2 0 1 1 10 0 1 0-11 1 8 0 24 1-30 1-7 2 36 0-38 1 7 0 29 0 2 0-34 1 35 0 1 0-36 1 37 0-41 1 4 0 33 0 1 0 1 0 4 2 2 0-1 1-46 1 2 0 2 1-4 2-4 3 2 0 1 0 0 3-3 2 4 0 0 1-9 1 6 0-7 2 1 0-1 1 7 0-8 1 5 0-3 1 7 2-3 1 3 0 1 0-10 11 0 1 3 0 0 2-4 1 3 2-1 1-3 5 2 0 1 0-1 1 1 0 1 0-4 1 1 0-4 1 2 1 3 0 0 1 3 0-8 1 2 0 2 0 4 1-6 1 2 1-4 1 0 1 3 0-2 1 1 0 2 0-2 1-4 2 3 0 1 1-1 1 1 0 0 1-1 1 1 0 3 4-1 1 2 0 1 4-6 3 4 0 4 1-7 4 3 0 1 0 2 0 0 1-5 1 3 0-3 1-1 2 2 1-2 1 2 0-5 1 3 0-1 1 1 0 2 1-3 1 3 2 10 17-5 1 60 0-62 2 1 0 2 0 2 0 0 1 49 0 7 0-60 1 5 0 50 0 4 0-60 1 2 0 1 0 3 0 44 0 4 0 2 0 3 0 1 0 1 0 1 0-62 1 4 0 1 0 48 0 1 0 1 0 2 0 1 0-59 1 4 0 1 0 1 0 44 0 2 0 2 0 2 0 1 0 1 0-60 1 2 0 1 0 1 0 3 0 1 0 46 0 1 0 4 0 1 0 1 0 1 0-61 1 1 0 2 0 4 0 1 0 40 0 4 0 5 0-60 1 1 0 1 0 1 0 2 0 1 0 2 0 1 0 43 0 5 0 2 0 1 0 1 0-57 1 4 0 44 0 3 0 2 0 1 0 1 0 2 0 1 0 1 0 1 0 4 0-65 1 2 0 49 0 3 0 1 0 4 0 1 0 2 0 1 0-66 1 8 0 40 0 3 0 5 0 1 0 4 0 1 0 1 0 2 0 2 0-69 1 1 0 1 0 2 0 4 0 1 0 46 0 3 0 5 0 1 0 2 0 1 0 2 0-64 1 3 0 1 0 2 0 44 0 8 0 3 0-67 1 4 0 4 0 3 0 43 0 2 0 2 0 1 0 1 0 4 0 1 0 1 0-66 1 2 0 4 0 3 0 47 0 3 0 2 0 1 0 2 0 1 0 1 0 1 0-66 1 8 0 44 0 6 0 1 0 3 0-63 1 8 0 44 0 7 0 1 0 2 0 1 0 3 0-58 1 42 0 3 0-44 1 41 0 3 0 4 0-60 1 1 0 11 0 44 0 2 0 3 0 4 0-65 1 13 0 50 0-64 1 12 0 1 0 1 0 45 0-2 1-57 1 12 0-13 1 2 0-2 1 1 0 11 0 1 0-13 1 12 1-12 1 8 0 2 0-1 2-11 1 13 0-10 1 6 0 3 0-11 1 1 0 1 0 4 0 2 0 3 0-8 1 1 0 6 0-10 1 3 0 1 0 1 0 2 0 3 0 1 0 1 0-12 1 6 0-8 1 1 0 4 1 3 3-5 1" marker-start="url(#k3)" marker-mid="url(#k3)" marker-end="url(#k3)"/><path d="m242 206 2 0 18 4 4 6 2 2-48 20 2 6-6 8-2 18-4 2 4 0-2 8 0 2 2 22-2 4 0 2 2 0-2 2 6 22 4 2 52 0 2 0-58 2 56 0-60 2 4 0 2 0 2 0 48 0 2 0-58 2 2 0 2 0 2 0 2 0 46 0 2 0 2 0 2 0-62 2 2 0 2 0 2 0 2 0 2 0 42 0 2 0 2 0 2 0 2 0 2 0 2 0-64 2 2 0 2 0 2 0 2 0 44 0 2 0 2 0 2 0 2 0 2 0-62 2 2 0 2 0 2 0 48 0 6 0 2 0 2 0-68 2 2 0 2 0 2 0 2 0 2 0 4 0 44 0 2 0 2 0 4 0 2 0-68 2 2 0 2 0 2 0 2 0 2 0 48 0 2 0-62 2 2 0 2 0 2 0 4 0 2 0 42 0 2 0 6 0-62 2 8 0 2 0 2 0 2 0 42 0-56 2 2 0 8 0-12 2 2 0 8 0 2 0-12 2 10 0 2 0-12 2 2 0 4 0 4 0 2 0-12 2 8 0 2 0 2 0-12 2 2 0 6 0 4 0-14 2 2 0 2 0 2 0 2 0 2 0-10 2 2 0 4 0 4 0-8 2 2 0 2 0-2 2" marker-start="url(#k4)" marker-mid="url(#k4)" marker-end="url(#k4)"/><path d="m244 208-28 134 2 0 52 0 2 0-58 2 2 0 2 0 2 0 48 0 2 0 4 0-6 2 2 0 2 0 2 0-60 2 2 0 2 0 2 0 50 0 2 0-60 2 2 0 2 0 60 0-66 2 2 0 2 0 2 0 2 0 52 0-62 2 2 0 2 0 2 0 2 0 2 0-12 2 2 0 2 0 2 0 2 0-8 2 8 0 2 0-10 2 2 0 6 0-10 2 2 0 2 0 4 0 2 0 2 0-12 2 2 0 2 0 2 0 4 0-10 2 2 0 2 0 2 0 2 0 2 0-10 2 2 0 2 0 2 0 2 0-6 2 2 0 2 0 2 0-6 2 2 0-2 2" marker-start="url(#k5)" marker-mid="url(#k5)" marker-end="url(#k5)"/><path d="m218 342-2 8-4 2 2 0 4 0-8 2 2 0 2 0-8 2 2 0 2 0 2 0 2 0-6 2 2 0 2 0 2 0-6 2 2 0 2 0 2 0 2 0-8 2 2 0 2 0 2 0-8 2 2 0 2 0 2 0-6 2 2 0 2 0 2 0-6 2 2 0 2 0 2 0-6 2 2 0" marker-start="url(#k6)" marker-mid="url(#k6)" marker-end="url(#k6)"/><path d="m218 342-6 10 4 0-6 2 4 0-6 2 2 0 2 0 2 0-6 2 2 0 2 0 2 0-6 2 2 0 2 0 2 0-6 2 2 0 2 0 2 0-8 2 2 0 2 0 2 0-6 2 2 0 2 0-2 2 2 0-4 2 4 0" marker-start="url(#k7)" marker-mid="url(#k7)" marker-end="url(#k7)"/><path d="m212 354-2 2 2 0 2 0-4 2 2 0 2 0-6 2 2 0 2 0 2 0-6 2 2 0 2 0 2 0-6 2 2 0 2 0-6 2 2 0 2 0" marker-start="url(#k8)" marker-mid="url(#k8)" marker-end="url(#k8)"/></g><rect x="149.6" y="137.7" width="341" height="319.6" fill="none" stroke="#5b6a88" stroke-width="1.5"/><rect x="184.7" y="175.9" width="91.5" height="144.7" fill="none" stroke="#000" stroke-width="3"/><rect x="276.4" y="172.8" width="209" height="147.8" fill="none" stroke="#000" stroke-width="3"/><rect x="184.7" y="320.6" width="53" height="83.2" fill="none" stroke="#000" stroke-width="3"/><rect x="245.5" y="320.6" width="44.5" height="85.3" fill="none" stroke="#000" stroke-width="3"/><text x="245.8" y="126" font-size="30.9" textLength="110.5" lengthAdjust="spacingAndGlyphs" fill="#000">Control</text><text x="163.4" y="170.2" font-size="26.5" textLength="55" lengthAdjust="spacingAndGlyphs" fill="#000">33.7</text><text x="366.3" y="253.8" font-size="26.5" textLength="56.6" lengthAdjust="spacingAndGlyphs" fill="#000">1.35</text><text x="148.9" y="441.5" font-size="26.9" textLength="56.5" lengthAdjust="spacingAndGlyphs" fill="#000">47.5</text><text x="297.5" y="441.5" font-size="26.5" textLength="54.2" lengthAdjust="spacingAndGlyphs" fill="#000">16.1</text><path d="M128.6 347V471.8H232.6" stroke="#000" stroke-width="4.5" fill="none" stroke-linejoin="miter"/><path d="M128.6 335l7 13h-14z" fill="#000"/><path d="M244.6 471.8l-13 7v-14z" fill="#000"/><text transform="translate(108.9 434.2) rotate(-90)" x="-1.6" y="0" font-size="25.9" font-weight="bold" textLength="47.6" lengthAdjust="spacingAndGlyphs" fill="#000">EdU</text><text x="150.8" y="508.2" font-size="24.3" font-weight="bold" textLength="57.8" lengthAdjust="spacingAndGlyphs" fill="#000">DAPI</text><g fill="none" stroke="none"><path d="m731 158-30 1 21 1 5 0 19 2-42 2 16 0 16 0 22 0-52 1 38 0 1 0-11 1 3 0 15 0 20 0-58 1 51 0 21 0-68 1 9 1 11 0 5 0 13 0-36 1 14 0 5 0-52 1 12 0 13 0 15 0 5 0 5 0 22 0 70 0-139 1 8 0 11 1 51 0-45 1 16 0 2 0 7 0 1 0 32 0-84 1 29 0-47 1 14 0 15 0 22 0 1 0 22 0-24 1 14 0 49 0-100 1 111 0 30 0-174 1 55 0 20 0 9 0 7 0 13 0-40 1 5 0 16 0 16 0 16 0 5 0-78 1 2 0 13 0 8 0 30 0 5 0 4 0-75 1 18 0 9 0 16 0 4 0 13 0 35 0 8 0 3 0-115 1 4 0 14 0 16 0 32 0 9 0 11 0-81 1 31 0 13 0 4 0 6 0 2 0 2 0 6 0 7 0 23 0 3 0 12 0-131 1 12 0 39 0 11 0 5 0 18 0 3 0 16 0 4 0 18 0 14 0 19 0-149 1 4 0 54 0 10 0-77 1 24 0 17 0 5 0 3 0 4 0 4 0 3 0 3 0 2 0 4 0 7 0 8 0 15 0 22 0 12 0 13 0-166 1 22 0 7 0 17 0 6 0 1 0 32 0 13 0 15 0 3 0 21 0 4 0 16 0-122 1 3 0 42 0 14 0 17 0 12 0 28 0-139 1 4 0 27 0 2 0 41 0 2 0 4 0 39 0 3 0-115 1 22 0 13 0 12 0 13 0 16 0 3 0 2 0 10 0 6 0 3 0 16 0 4 0-108 1 5 0 11 0 3 0 14 0 3 0 12 0 1 0 9 0 20 0 16 0 11 0 15 0-142 1 4 0 20 0 32 0 12 0 6 0 2 0 58 0 10 0 39 0-169 1 3 0 5 0 2 0 19 0 2 0 10 0 7 0 12 0 15 0 11 0 15 0 2 0 10 0 1 0 2 0-109 1 9 0 5 0 5 0 4 0 7 0 21 0 10 0 7 0 8 0 29 0 43 0-185 1 32 0 7 0 1 0 1 0 27 0 6 0 1 0 14 0 3 0 7 0 27 0 2 0 8 0 7 0 10 0 17 0-138 1 6 0 12 0 1 0 18 0 9 0 2 0 11 0 7 0 16 0 1 0 4 0 8 0 10 0-167 1 46 0 11 0 28 0 17 0 5 0 27 0 8 0 12 0 17 0 32 0-147 1 11 0 5 0 3 0 11 0 8 0 1 0 1 0 3 0 17 0 6 0 3 0 28 0 7 0 5 0-158 1 26 0 23 0 21 0 10 0 3 0 4 0 8 0 17 0 2 0 9 0 1 0 1 0 3 0 1 0 17 0 8 0 9 0 2 0 12 0-149 1 24 0 1 0 2 0 6 0 11 0 1 0 5 0 27 0 1 0 1 0 27 0 4 0 4 0 5 0 3 0 16 0 5 0-132 1 2 0 5 0 7 0 2 0 7 0 13 0 21 0 16 0 2 0 5 0 15 0 10 0 20 0 7 0 1 0 6 0 23 0 11 0-176 1 5 0 1 0 30 0 29 0 3 0 4 0 12 0 3 0 3 0 10 0 6 0 10 0 4 0 8 0 18 0 2 0 5 0 33 0-209 1 21 0 5 0 21 0 9 0 6 0 1 0 4 0 48 0 12 0 5 0 10 0 52 0-161 1 10 0 27 0 4 0 4 0 20 0 6 0 10 0 29 0 7 0 5 0 13 0 6 0-143 1 27 0 18 0 5 0 7 0 2 0 9 0 8 0 27 0 1 0 2 0 2 0 8 0 4 0 6 0 20 0 6 0 7 0-170 1 9 0 4 0 2 0 17 0 7 0 4 0 4 0 8 0 17 0 22 0 7 0 6 0 9 0 8 0 3 0 4 0 12 0 5 0 4 0 11 0 10 0-158 1 5 0 23 0 10 0 11 0 3 0 1 0 7 0 6 0 9 0 9 0 12 0 2 0 5 0 1 0 18 0-135 1 5 0 2 0 2 0 3 0 2 0 21 0 1 0 9 0 25 0 2 0 5 0 6 0 2 0 4 0 4 0 1 0 6 0 7 0 2 0 23 0 12 0 8 0-172 1 8 0 11 0 8 0 20 0 4 0 9 0 5 0 3 0 3 0 7 0 4 0 5 0 1 0 1 0 1 0 3 0 22 0 3 0 8 0 9 0 6 0 22 0 11 0 19 0 14 0-211 1 1 0 4 0 4 0 9 0 7 0 16 0 4 0 15 0 1 0 10 0 1 0 3 0 6 0 13 0 4 0 2 0 3 0 15 0 5 0 8 0 2 0 23 0 4 0 7 0 24 0-198 1 8 0 13 0 39 0 1 0 8 0 3 0 28 0 20 0 1 0 7 0 15 0 2 0 18 0 20 0-185 1 34 0 11 0 2 0 2 0 2 0 1 0 22 0 15 0 3 0 24 0 8 0 11 0 4 0 10 0 44 0 20 0-212 1 7 0 14 0 14 0 1 0 4 0 8 0 4 0 42 0 1 0 12 0 20 0 24 0 2 0 31 0 35 0-184 1 62 0 25 0 19 0 7 0 15 0 27 0-176 1 13 0 5 0 9 0 22 0 19 0 3 0 2 0 5 0 12 0 9 0 2 0 9 0 4 0 35 0 21 0 13 0-194 1 22 0 23 0 11 0 17 0 3 0 6 0 13 0 1 0 1 0 54 0 12 0 1 0 20 0 9 0 2 0-197 1 10 0 18 0 15 0 2 0 9 0 28 0 11 0 4 0 8 0 3 0 8 0 2 0 13 0 7 0 4 0 5 0 5 0 14 0 2 0 10 0 25 0 5 0-220 1 49 0 37 0 7 0 5 0 4 0 6 0 21 0 3 0 9 0 11 0 2 0 3 0 52 0-195 1 26 0 1 0 5 0 11 0 11 0 4 0 6 0 6 0 2 0 28 0 27 0 2 0 1 0 3 0 4 0 6 0 7 0 3 0 2 0 1 0 13 0 26 0 18 0-231 1 54 0 1 0 7 0 7 0 20 0 18 0 3 0 9 0 1 0 2 0 15 0 1 0 7 0 17 0 22 0 5 0 2 0 8 0 4 0 13 0-206 1 5 0 5 0 27 0 6 0 28 0 17 0 10 0 4 0 20 0 5 0 2 0 33 0 3 0 4 0 2 0 3 0 23 0 4 0 1 0-189 1 26 0 7 0 9 0 5 0 3 0 20 0 10 0 1 0 14 0 2 0 34 0 10 0 9 0 2 0 18 0 11 0 3 0 12 0 4 0-219 1 18 0 1 0 13 0 23 0 4 0 33 0 3 0 10 0 3 0 43 0 2 0 9 0 4 0 30 0 10 0-207 1 11 0 5 0 8 0 24 0 8 0 18 0 5 0 7 0 3 0 45 0 2 0 20 0 5 0 27 0 5 0 8 0 23 0 13 0-230 1 3 0 41 0 21 0 10 0 15 0 8 0 3 0 10 0 18 0 2 0 15 0 21 0 13 0 8 0 1 0-190 1 6 0 2 0 36 0 8 0 3 0 1 0 23 0 1 0 5 0 4 0 7 0 19 0 3 0 2 0 2 0 1 0 35 0-158 1 14 0 70 0 8 0 10 0 15 0 19 0 2 0 4 0 21 0 6 0 6 0 7 0 18 0 5 0-192 1 94 0 18 0 2 0 10 0 10 0 8 0 10 0 9 0 1 0 1 0 3 0 16 0 21 0-176 1 6 0 6 0 1 0 8 0 22 0 6 0 12 0 4 0 9 0 7 0 11 0 19 0 6 0 15 0 11 0 1 0 18 0 1 0-209 1 5 0 42 0 4 0 7 0 21 0 17 0 5 0 1 0 2 0 8 0 12 0 25 0 3 0 1 0 15 0 7 0 4 0 22 0-195 1 10 0 55 0 2 0 5 0 24 0 10 0 2 0 9 0 3 0 8 0 9 0 3 0 2 0 7 0 3 0 23 0 7 0 6 0 21 0-218 1 10 0 3 0 38 0 13 0 7 0 17 0 8 0 1 0 5 0 2 0 5 0 9 0 25 0 11 0 12 0 1 0 4 0 4 0 7 0 5 0-137 1 1 0 14 0 13 0 4 0 11 0 10 0 8 0 10 0 2 0 2 0 8 0 5 0 24 0 11 0 2 0 3 0 7 0-188 1 9 0 9 0 39 0 8 0 13 0 2 0 1 0 2 0 44 0 10 0 12 0 5 0 9 0 3 0 12 0 1 0 29 0 7 0-205 1 1 0 1 0 8 0 2 0 40 0 9 0 6 0 7 0 6 0 2 0 10 0 12 0 15 0 8 0 4 0 6 0 7 0 36 0 13 0-209 1 15 0 8 0 9 0 23 0 19 0 7 0 6 0 7 0 15 0 3 0 1 0 1 0 9 0 5 0 7 0 3 0 18 0 1 0 8 0 3 0 3 0 5 0 26 0-176 1 29 0 15 0 26 0 13 0 4 0 27 0 7 0 13 0 1 0 12 0 3 0 16 0 9 0 23 0-223 1 1 0 11 0 4 0 1 0 1 0 39 0 8 0 11 0 6 0 9 0 2 0 30 0 5 0 3 0 4 0 4 0 10 0 7 0 1 0 12 0 22 0 3 0 17 0-207 1 23 0 4 0 31 0 4 0 11 0 4 0 1 0 5 0 1 0 10 0 10 0 3 0 5 0 1 0 4 0 6 0 7 0 7 0 3 0 7 0 18 0 1 0 12 0 4 0 3 0 13 0 43 0-240 1 6 0 3 0 2 0 16 0 24 0 11 0 15 0 22 0 1 0 8 0 33 0 11 0 17 0 2 0 16 0 8 0 9 0 26 0-234 1 4 0 24 0 1 0 31 0 5 0 7 0 5 0 17 0 2 0 12 0 2 0 3 0 3 0 7 0 5 0 3 0 31 0 4 0 13 0 24 0 5 0-201 1 17 0 26 0 1 0 8 0 13 0 52 0 22 0 5 0 15 0 3 0 4 0 1 0 9 0 9 0 3 0 29 0-221 1 8 0 6 0 2 0 1 0 4 0 31 0 2 0 13 0 6 0 2 0 8 0 2 0 5 0 10 0 44 0 1 0 5 0 20 0 5 0 8 0 15 0 11 0-211 1 25 0 40 0 6 0 2 0 8 0 29 0 7 0 2 0 8 0 5 0 1 0 23 0 8 0 4 0 9 0 1 0 1 0 6 0 25 0-203 1 2 0 17 0 55 0 15 0 13 0 7 0 27 0 9 0 5 0 4 0 4 0 21 0 1 0 4 0-177 1 7 0 1 0 5 0 24 0 10 0 7 0 1 0 14 0 2 0 6 0 12 0 10 0 2 0 12 0 9 0 16 0 16 0 6 0 16 0 1 0 3 0 3 0 2 0 11 0-212 1 4 0 9 0 47 0 2 0 26 0 15 0 8 0 8 0 3 0 5 0 28 0 1 0 7 0 14 0 1 0 1 0 2 0 24 0 29 0-218 1 36 0 2 0 13 0 5 0 5 0 13 0 6 0 52 0 17 0 27 0 22 0 10 0 12 0-237 1 18 0 1 0 10 0 28 0 1 0 5 0 4 0 1 0 39 0 10 0 16 0 2 0 29 0 1 0 10 0 22 0 1 0 12 0-206 1 14 0 38 0 14 0 29 0 5 0 12 0 12 0 5 0 2 0 6 0 8 0 25 0 6 0 17 0 3 0 28 0-225 1 9 0 13 0 1 0 3 0 3 0 24 0 22 0 3 0 8 0 6 0 16 0 6 0 2 0 24 0 2 0 9 0 10 0 14 0 3 0 9 0 1 0 11 0 5 0 9 0-209 1 13 0 34 0 8 0 3 0 4 0 5 0 23 0 8 0 16 0 5 0 2 0 12 0 2 0 6 0 11 0 4 0 6 0 4 0 20 0 5 0 17 0-218 1 60 0 6 0 2 0 3 0 6 0 18 0 7 0 3 0 9 0 12 0 17 0 46 0 8 0 4 0 15 0-189 1 8 0 25 0 13 0 16 0 5 0 4 0 4 0 4 0 5 0 3 0 5 0 9 0 9 0 5 0 4 0 14 0 9 0 1 0 1 0 4 0 4 0 13 0 4 0 29 0 19 0-226 1 5 0 66 0 18 0 7 0 12 0 7 0 7 0 5 0 21 0 23 0-179 1 6 0 1 0 5 0 3 0 2 0 50 0 6 0 29 0 28 0 12 0 7 0 20 0 25 0 39 0 3 0-238 1 3 0 14 0 2 0 9 0 23 0 1 0 1 0 10 0 5 0 3 0 10 0 25 0 6 0 12 0 26 0 2 0 9 0 1 0 27 0-196 1 35 0 19 0 10 0 5 0 26 0 2 0 8 0 7 0 12 0 3 0 23 0 3 0 10 0 11 0 1 0 6 0 3 0 1 0 8 0 5 0-189 1 9 0 64 0 12 0 11 0 11 0 3 0 3 0 1 0 1 0 5 0 5 0 17 0 1 0 14 0 9 0 2 0 9 0 52 0-223 1 4 0 3 0 8 0 3 0 45 0 18 0 18 0 6 0 20 0 12 0 30 0 55 0-235 1 6 0 7 0 5 0 6 0 2 0 4 0 1 0 25 0 2 0 7 0 5 0 9 0 3 0 20 0 10 0 3 0 6 0 6 0 4 0 4 0 61 0-188 1 26 0 2 0 1 0 57 0 2 0 3 0 1 0 8 0 8 0 3 0 10 0 10 0 11 0 8 0 13 0 2 0 13 0 1 0 19 0-201 1 18 0 4 0 4 0 47 0 11 0 26 0 3 0 5 0 2 0 6 0 2 0 31 0 15 0 6 0 1 0 5 0-178 1 3 0 40 0 2 0 8 0 15 0 14 0 4 0 35 0 23 0 4 0 8 0 1 0 1 0 18 0 14 0-195 1 10 0 1 0 8 0 35 0 1 0 2 0 10 0 8 0 8 0 2 0 13 0 24 0 8 0 12 0 1 0 42 0 4 0-187 1 1 0 1 0 2 0 12 0 46 0 4 0 2 0 13 0 9 0 4 0 7 0 3 0 4 0 4 0 7 0 10 0 2 0 7 0 1 0 4 0 1 0 5 0 4 0 2 0 16 0 12 0-185 1 13 0 1 0 12 0 19 0 2 0 2 0 4 0 6 0 3 0 10 0 15 0 29 0 25 0 15 0 5 0 5 0 4 0 3 0 13 0 19 0 2 0 6 0-223 1 7 0 7 0 4 0 2 0 2 0 12 0 4 0 22 0 22 0 16 0 1 0 5 0 24 0 14 0 10 0 7 0 10 0 1 0 4 0 10 0 22 0-195 1 4 0 7 0 7 0 2 0 5 0 31 0 4 0 47 0 16 0 21 0 13 0 1 0 22 0-176 1 3 0 20 0 26 0 6 0 10 0 7 0 10 0 5 0 25 0 5 0 12 0 2 0 15 0 54 0-211 1 1 0 7 0 4 0 11 0 4 0 2 0 22 0 5 0 11 0 10 0 9 0 23 0 2 0 9 0 1 0 4 0 2 0 9 0 23 0 5 0 11 0 6 0 1 0 4 0-163 1 34 0 4 0 6 0 2 0 10 0 16 0 2 0 2 0 17 0 7 0 74 0 8 0-201 1 4 0 7 0 14 0 56 0 3 0 15 0 1 0 4 0 17 0 18 0 3 0 10 0 19 0 39 0-216 1 6 0 4 0 13 0 36 0 4 0 11 0 5 0 14 0 7 0 14 0 3 0 29 0 16 0 3 0 9 0 4 0 24 0-200 1 17 0 9 0 2 0 1 0 2 0 54 0 4 0 2 0 30 0 11 0 13 0 10 0 6 0 19 0 7 0-172 1 10 0 45 0 6 0 21 0 6 0 2 0 3 0 5 0 7 0 5 0 6 0 2 0 22 0 19 0 8 0 26 0-207 1 1 0 8 0 46 0 11 0 12 0 5 0 4 0 8 0 3 0 8 0 31 0 3 0 6 0 30 0 3 0-191 1 14 0 10 0 3 0 3 0 34 0 3 0 13 0 1 0 18 0 6 0 3 0 11 0 4 0 12 0 16 0 6 0 3 0 14 0 5 0 2 0-175 1 2 0 9 0 3 0 2 0 15 0 5 0 29 0 1 0 5 0 5 0 5 0 6 0 24 0 17 0 14 0 14 0 6 0-198 1 57 0 4 0 1 0 5 0 35 0 11 0 3 0 1 0 14 0 10 0 14 0 7 0 8 0 13 0 13 0 2 0 7 0 2 0 35 0-195 1 7 0 1 0 8 0 35 0 12 0 8 0 16 0 5 0 10 0 2 0 5 0 5 0 7 0 9 0 5 0 11 0 2 0 6 0 6 0 17 0-184 1 9 0 3 0 16 0 5 0 31 0 5 0 12 0 7 0 13 0 19 0 14 0 15 0 2 0 18 0 7 0 14 0 4 0 15 0-207 1 5 0 5 0 9 0 5 0 37 0 9 0 3 0 31 0 6 0 42 0 10 0 12 0 1 0 5 0-176 1 23 0 20 0 4 0 12 0 18 0 9 0 23 0 19 0 8 0 9 0 17 0 6 0-159 1 46 0 8 0 33 0 4 0 1 0 10 0 10 0 10 0 27 0 1 0 35 0-194 1 19 0 24 0 1 0 4 0 21 0 2 0 22 0 23 0 3 0 13 0 5 0 31 0 1 0-173 1 3 0 10 0 9 0 7 0 28 0 8 0 5 0 7 0 2 0 17 0 8 0 9 0 3 0 14 0 4 0 5 0 4 0 40 0-192 1 5 0 7 0 13 0 6 0 9 0 21 0 1 0 4 0 23 0 12 0 8 0 10 0 9 0 24 0 22 0 4 0-171 1 14 0 4 0 13 0 34 0 1 0 1 0 7 0 1 0 3 0 10 0 8 0 6 0 6 0 4 0 2 0 1 0 21 0 30 0 1 0 7 0 14 0-230 1 57 0 6 0 2 0 52 0 5 0 16 0 2 0 12 0 11 0 17 0 7 0 10 0 20 0-174 1 16 0 37 0 4 0 8 0 12 0 5 0 4 0 35 0 11 0 3 0 17 0 12 0 2 0-172 1 14 0 4 0 8 0 4 0 73 0 11 0 5 0 12 0 9 0 2 0 2 0 22 0-151 1 24 0 21 0 12 0 1 0 1 0 8 0 5 0 6 0 6 0 9 0 4 0 23 0 15 0 21 0-127 1 20 0 7 0 12 0 10 0 11 0 2 0 10 0 8 0 88 0-265 1 84 0 4 0 48 0 7 0 3 0 3 0 5 0 14 0 12 0 9 0 13 0 24 0 7 0-158 1 2 0 13 0 29 0 21 0 11 0 2 0 4 0 2 0 23 0-116 1 5 0 58 0 7 0 2 0 5 0 11 0 5 0 9 0 17 0 64 0-179 1 3 0 24 0 36 0 7 0 12 0 15 0 63 0-159 1 22 0 56 0 12 0 15 0-109 1 16 0 9 0 31 0 19 0 46 0 9 0-115 1 31 0 17 0 1 0 4 0 8 0 20 0 12 0 17 0 15 0 45 0-182 1 5 0 7 0 2 0 3 0 4 0 22 0 3 0 19 0 51 0 4 0 8 0 4 0 3 0 3 0 10 0 23 0-167 1 14 0 2 0 26 0 6 0 15 0 18 0 1 0 4 0 16 0 7 0 10 0 34 0-154 1 1 0 9 0 7 0 5 0 27 0 19 0 2 0 2 0 8 0 3 0 59 0 2 0-147 1 23 0 19 0 4 0 17 0 1 0 7 0-63 1 5 0 16 0 22 0 5 0 16 0 5 0-87 1 25 0 27 0 13 0 7 0 2 0 22 0 38 0-127 1 18 0 2 0 29 0 10 0 2 0 15 0 8 0 10 0-92 1 13 0 2 0 11 0 35 0 13 0 37 0 38 0-129 1 4 0 24 0 14 0 9 0 20 0-77 1 5 0 2 0 33 0 29 1 33 0-47 1 2 0-65 1 10 0 29 0 34 0 2 0 23 0 61 0-176 1 24 0 8 0 44 0 35 0-88 1 7 0 7 0 23 0 52 0 1 0 42 0-122 1 24 0 29 0 25 1 1 0-79 1 30 0 27 1 16 0 77 0 1 0-152 1 64 0 13 0 92 0-196 1 5 0 27 0 22 0-66 1 20 0 46 0 1 0 12 0 26 0-10 1 3 0 26 0 31 0-139 1 49 0-51 1 1 0 19 0 7 0 23 0-55 1 8 0 4 0 7 0 42 0 20 0 3 0 21 0 19 0-124 1 10 0 2 0 4 0 13 0 1 0 49 0 41 0 12 0-101 1 25 0 5 0 34 0 4 0 13 0-31 1 73 0-140 1 3 0 48 0 8 0 12 0 10 0 2 0 51 0-139 1 10 0 55 0 3 0 14 0 19 0-159 1 43 0 8 0 3 0 4 0 7 0 49 0 16 0 20 0 5 0-100 1 4 0 5 0 1 0 19 0 19 0 1 0 14 0 14 0 3 0 5 0 10 0 2 0-106 1 2 0 4 0 1 0 8 0 3 0 4 0 50 0-72 1 39 0 22 0 31 0-85 1 5 0 5 0 6 0-70 1 55 0 12 0 57 0 28 0-154 1 47 0 5 0 2 0 34 0 4 0 16 0 33 0 1 0-76 1 45 0 11 0 9 0 14 0 1 0 27 0 8 0-116 1 25 0 1 0 19 0 61 0-169 1 28 0 37 0 1 0 3 0 78 0 2 0 44 0 13 0 19 0-174 1 38 0 2 0 13 0 5 0 9 0 1 0 47 0-123 1 5 0 4 0 4 0 7 0 1 0 22 0 52 0-88 1 12 0 42 0-46 1 1 0 6 0 23 0 25 0-83 1 54 0 7 0 15 0 1 0 48 0-100 1 9 0 6 0 34 0 1 0 90 0-148 1 1 0 10 0 31 0 44 0 102 0 14 0-254 1 50 0 10 0 6 0 37 0 12 0-57 1 2 0 8 0 49 0-67 1 15 0 3 0 30 0 5 0 46 0-92 1 3 0 6 0 24 0 5 0 54 0 73 0-132 1 1 0 10 0 1 0 6 0-44 1 5 0 25 0 8 0 10 0 103 0-221 1 56 0 10 0 5 0 42 0 6 0-67 1 5 0 1 0 10 0 37 0 7 0 83 0-147 1 14 0 7 0 5 0 7 0 22 0 8 0-63 1 3 0 4 0 9 0 1 0 41 0 5 0 147 0-204 1 52 0 6 0 4 0 127 0-188 1 1 0 6 0 15 0 23 0 11 0 1 0 6 0-71 1 1 0 8 0 60 0 2 0 73 0 60 0-197 1 53 0 4 0-67 1 6 0 8 0 2 0 42 0 2 0 14 0 46 0-116 1 5 0 6 0 5 0-14 1 8 0 53 0 94 0-161 1 3 0 8 0 1 0 10 0 37 0-102 1 67 0 4 0 93 0-123 1 4 0 5 0 6 0 4 0 10 0 42 0-71 1 4 0 1 0 2 0 2 0 6 0 3 0 6 0 40 0 88 0 39 0-185 1 2 0 7 0 2 0 40 0 12 0-61 1 15 0-8 1-9 1 1 0 5 0 7 0 2 0 5 0-19 1 14 0 6 0-16 1 4 0 7 0 6 0 38 0-57 1 5 0-2 1 4 0 3 0-32 1 28 0 1 0 4 0 2 1-7 1 5 0-1 1 9 18-29 9-30 17 44 4" marker-start="url(#k0)" marker-mid="url(#k0)" marker-end="url(#k0)"/><path d="m717 167-5 16-8 2 33 0-30 2 7 0 30 0-20 1 22 0 1 1-2 1 16 2-89 1 3 0 1 0 46 0-50 1 81 0-79 1-7 1 30 1-2 1 9 0 32 0 28 0-95 1 52 0 38 0-91 1 16 0 69 0 3 0 6 0-56 1 1 0-39 1 5 0 3 0 31 0 17 0 37 0-116 1 19 0 8 0 22 0 16 0 42 0-89 1 1 0 4 0 6 0 1 0 11 0 20 0 51 0 22 0-108 1 39 0 1 0 23 0 44 0-46 1 7 0-71 1 2 0 1 0 70 0 20 0 19 0-125 1 20 0 79 0 11 0-106 1 3 0 3 0 1 0 2 0 18 0 43 0-105 1 3 0 6 0 18 0 15 0 7 0 6 0 8 0 43 0-108 1 5 0 9 0 17 0 4 0 5 0 2 0 5 0 1 0 5 0 9 0 35 0-97 1 13 0 22 0 11 0 48 0 13 0 2 0 9 0 3 0 19 0 33 0-167 1 61 0 10 0 22 0-104 1 2 0 3 0 34 0 6 0 9 0 3 0 2 0 2 0 23 0 15 0 15 0 17 0 16 0 8 0-143 1 9 0 22 0 3 0 15 0 2 0 22 0 20 0 24 0 5 0-134 1 51 0 1 0 3 0 3 0 3 0 1 0 2 0 1 0 2 0 7 0 9 0 4 0-69 1 15 0 21 0 28 0 1 0 2 0 50 0 5 0-138 1 1 0 39 0 3 0 5 0 2 0 3 0 7 0 17 0 18 0 12 0 1 0 12 0 5 0-115 1 9 0 33 0 3 0 11 0 7 0 40 0 25 0-134 1 13 0 10 0 2 0 22 0 1 0 10 0 9 0 3 0 1 0 18 0 12 0 27 0 12 0-146 1 14 0 4 0 10 0 1 0 9 0 1 0 3 0 2 0 7 0 7 0 10 0 90 0-156 1 1 0 16 0 4 0 19 0 6 0 2 0 12 0 5 0 7 0 6 0 7 0 24 0-116 1 10 0 27 0 4 0 9 0 21 0 5 0 18 0 9 0 24 0 47 0-174 1 9 0 2 0 18 0 11 0 9 0 5 0 4 0 7 0 6 0 2 0 5 0 12 0 26 0 1 0 54 0 1 0-170 1 9 0 3 0 8 0 2 0 7 0 11 0 14 0 6 0 3 0 4 0 4 0 3 0 16 0 1 0 1 0 19 0-89 1 5 0 2 0 1 0 18 0 19 0 2 0 11 0 28 0 48 0-164 1 16 0 3 0 16 0 5 0 12 0 5 0 5 0 26 0 1 0 3 0 9 0 18 0 4 0 59 0-175 1 26 0 28 0 4 0 1 0 4 0 18 0 26 0 4 0 45 0 4 0-151 1 5 0 8 0 16 0 10 0 3 0 3 0 8 0 8 0 36 0 2 0 14 0 19 0 17 0-159 1 3 0 7 0 15 0 9 0 7 0 12 0 3 0 5 0 5 0 10 0 8 0-77 1 22 0 6 0 11 0 8 0 3 0 1 0 13 0 3 0 2 0 48 0-123 1 8 0 14 0 4 0 11 0 5 0 4 0 6 0 26 0 3 0 6 0 17 0 3 0-115 1 5 0 14 0 11 0 3 0 25 0 3 0 14 0 11 0 18 0-92 1 1 0 21 0 9 0 4 0 41 0 40 0 49 0-168 1 1 0 2 0 29 0 5 0 5 0 12 0 25 0 12 0 13 0-97 1 6 0 34 0 3 0 12 0 4 0 6 0 4 0 2 0 12 0 4 0 7 0 30 0 15 0-156 1 10 0 1 0 27 0 8 0 10 0 1 0 4 0 20 0 18 0 3 0 7 0 23 0 26 0 13 0-178 1 24 0 6 0 19 0 31 0 13 0 1 0 7 0 20 0 30 0 13 0-126 1 25 0 24 0 1 0 2 0 13 0 2 0 6 0 6 0 8 0 11 0-131 1 2 0 13 0 12 0 10 0 7 0 3 0 6 0 1 0 5 0 10 0 8 0 12 0 3 0 15 0 26 0 4 0 8 0 5 0 37 0-172 1 5 0 1 0 11 0 7 0 2 0 5 0 1 0 14 0 16 0 8 0 4 0 2 0 7 0 70 0-174 1 15 0 1 0 44 0 2 0 7 0 4 0 9 0 2 0 28 0 36 0 12 0 28 0-136 1 1 0 7 0 6 0 19 0 5 0 3 0 6 0 13 0 9 0 15 0 24 0-143 1 8 0 15 0 18 0 4 0 5 0 8 0 5 0 4 0 1 0 8 0 66 0-159 1 3 0 20 0 26 0 9 0 23 0 6 0 5 0 17 0 15 0 41 0-122 1 2 0 5 0 13 0 8 0 2 0 7 0 9 0 4 0 1 0 13 0 54 0-158 1 16 0 24 0 23 0 6 0 7 0 5 0 6 0 14 0 3 0-108 1 41 0 3 0 10 0 18 0 8 0 15 0 4 0 10 0 37 0 8 0 3 0-153 1 13 0 12 0 25 0 7 0 13 0 8 0 11 0 7 0 71 0-116 1 29 0 8 0 11 0 1 0 26 0 50 0-181 1 21 0 11 0 22 0 21 0 2 0 8 0 2 0 2 0 1 0 2 0 12 0 30 0 25 0-108 1 3 0 13 0 19 0 8 0 4 0 3 0 1 0 6 0 13 0 28 0-146 1 6 0 11 0 4 0 15 0 14 0 4 0 7 0 11 0 4 0 10 0 43 0 16 0 3 0-142 1 16 0 7 0 12 0 9 0 6 0 3 0 7 0 15 0 3 0 6 0 7 0 17 0 21 0 7 0-139 1 5 0 33 0 9 0 11 0 9 0 6 0 5 0 10 0 5 0 3 0 5 0 24 0-126 1 1 0 3 0 13 0 23 0 10 0 1 0 15 0 4 0 19 0 4 0-94 1 7 0 6 0 1 0 29 0 14 0 16 0 10 0 3 0 1 0-74 1 5 0 3 0 1 0 32 0 1 0 8 0 6 0 17 0 20 0 3 0 2 0 45 0 7 0-106 1 6 0 5 0 5 0 1 0 3 0 4 0 4 0 25 0 17 0 38 0-125 1 4 0 3 0 4 0 2 0 1 0 2 0 9 0 2 0 5 0 3 0 1 0 10 0 2 0 1 0 4 0 36 0 23 0-150 1 5 0 5 0 2 0 2 0 5 0 28 0 1 0 10 0 8 0 10 0 27 0 23 0 23 0-147 1 2 0 20 0 14 0 11 0 8 0 1 0 17 0 14 0 49 0 12 0-111 1 25 0 4 0 5 0 29 0 52 0-154 1 11 0 1 0 5 0 24 0 3 0 9 0 22 0 5 0 6 0 3 0 3 0 1 0 40 0 7 0 41 0-168 1 2 0 2 0 32 0 10 0 4 0 8 0 9 0 11 0 1 0 2 0 7 0 26 0 7 0 19 0 28 0-180 1 7 0 5 0 4 0 35 0 5 0 11 0 1 0 1 0 2 0 1 0 13 0 2 0-80 1 7 0 23 0 6 0 13 0 6 0 20 0 14 0-102 1 10 0 55 0 2 0 10 0 1 0 21 0 2 0 28 0-121 1 20 0 25 0 2 0 12 0 17 0-87 1 26 0 32 0 6 0 11 0 10 0 2 0 14 0-83 1 49 0 15 0 1 0 8 0 10 0 54 0 4 0-145 1 1 0 3 0 6 0 22 0 1 0 11 0 12 0 4 0 13 0 3 0 14 0 2 0 26 0-136 1 8 0 8 0 19 0 13 0 6 0 25 0 5 0 7 0 10 0 8 0 30 0-91 1 15 0 11 0 6 0 3 0 26 0 14 0 13 0-110 1 28 0 2 0 1 0 17 0 6 0 14 0 11 0-80 1 1 0 26 0 14 0 11 0 21 0 10 0 52 0-134 1 6 0 23 0 2 0 2 0 5 0 6 0 15 0 52 0 19 0-126 1 3 0 15 0 1 0 6 0 20 0 4 0 16 0 1 0 6 0 10 0 31 0-89 1 3 0 7 0 2 0 8 0 5 0 18 0 6 0 3 0-90 1 7 0 26 0 1 0 8 0 2 0 1 0 2 0 26 0 4 0 10 0-103 1 33 0 10 0 5 0 6 0 1 0 11 0 21 0 4 0 16 0-76 1 20 0 4 0 12 0 9 0 6 0 11 0 2 0 6 0 64 0-133 1 17 0 4 0 16 0 11 0 11 0 12 0 7 0-83 1 3 0 36 0 2 0 1 0 12 0 5 0 3 0 11 0 32 0-120 1 13 0 13 0 30 0 1 0 17 0 4 0 20 0 17 0-98 1 26 0 11 0 1 0 17 0-72 1 22 0 3 0 41 0 2 0 2 0 1 0 2 0 19 0 11 0-105 1 4 0 38 0 4 0 8 0 1 0 1 0 15 0 8 0 17 0 1 0-59 1 8 0 13 0 13 0 6 0 11 0 17 0-83 1-21 1 57 0 3 0 3 0 4 0 8 0 80 0-144 1 4 0 4 0 3 0 3 0 12 0 5 0 3 0 21 0 7 0-83 1 8 0 26 0 37 0 13 0-71 1 8 0 31 0 3 0 16 0 5 0 8 0 1 0 55 0-110 1 4 0 3 0 11 0 2 0 6 0-36 1 12 0 45 0 5 0 56 0-128 1 12 0 4 0 9 0 2 0 7 0-36 1 1 0 19 0 8 0 12 0 1 0-42 1 3 0 28 0-14 1 14 0-3 1 110 0-114 1 23 0 30 0-59 1 18 0 6 0 88 0 7 0-106 1-7 1 2 0 3 0 10 0-28 1 80 0-75 1 6 0 4 0 4 0-8 1 5 0 2 0-2 1 20 0-20 1-5 1 3 0-1 1 23 0-24 1 19 0 3 0-20 1 3 3-4 1 2 0-1 1 22 0-1 1-18 1-2 1 21 0-20 1 18 0 1 3 3 3 1 0-48 1 44 0-21 1 2 0 20 0 2 0-50 1 50 0-48 1 46 0-44 1 24 0-24 1 23 0-24 1 2 0 42 0-44 1 46 0-53 2 51 0-16 1-29 1 9 0 37 0-43 1-13 1 8 0 2 0 42 0 41 0-93 1 3 0 1 0 54 0-46 1 44 0-52 1 54 0-53 1 41 0 3 0 2 0-59 1 14 0 3 0 39 0-50 1 14 0 30 0 1 0-31 1 32 1 11 0-17 1 13 0-1 1-9 1-41 1 2 0 2 0 2 0 2 0 33 0-38 2 53 1-66 1 13 0-3 1 4 1-3 1 1 0-1 1-4 2-1 3-5 1 1 0 9 0-2 1-7 2-4 1 3 0 8 0 2 0-5 3-2 1 1 4" marker-start="url(#k1)" marker-mid="url(#k1)" marker-end="url(#k1)"/><path d="m706 187-33 4 57 0-52 2-2 1-9 2 54 1-37 3 3 0 70 0-92 1 45 0-66 1 26 0 7 0 45 0 37 0-89 1 1 1-4 1 39 0 84 0-122 2 12 0 29 0-58 1 28 1-46 1 1 0 26 0 2 0 1 0 7 1 38 0-86 1 43 0 1 0 45 0-91 1 4 0 2 0 4 0 3 0 20 0 11 0 4 0 6 0 13 0 13 0-79 1 7 0 37 0 12 0-56 1 6 0 6 0 2 0 54 0 8 0 31 0-107 1 2 0 1 0 5 0 3 0 2 0 44 0 13 0 7 0 9 0 22 0-107 1 9 0 9 0-15 1 2 0 1 0 3 0 1 0 28 0 15 0 7 0 6 0 9 0-78 1 11 0 23 0 5 0 8 0 6 0 4 0 2 0 6 0-60 1 8 0 5 0 21 0 16 0 5 0 1 0 10 0-57 1 3 0 36 0 2 0 5 0 3 0-62 1 7 0 7 0 2 0 25 0 1 0 4 0 13 0 23 0 5 0-79 1 9 0 7 0 30 0-53 1 2 0 4 0 3 0 1 0 5 0 2 0 3 0 2 0 20 0 11 0 1 0 16 0-69 1 2 0 7 0 1 0 1 0 12 0 1 0 14 0 2 0 10 0 20 0 12 0 20 0-121 1 16 0 2 0 3 0 2 0 7 0 5 0 2 0 4 0 23 0 1 0 5 0 1 0 1 0-53 1 3 0 3 0 5 0 3 0 13 0 16 0 3 0 5 0 2 0 96 0-145 1 2 0 9 0 22 0 2 0 13 0-55 1 2 0 15 0 10 0 7 0 13 0 1 0-53 1 19 0 8 0 9 0 29 0 4 0 15 0-81 1 8 0 9 0 1 0 4 0 2 0 4 0 2 0 23 0 20 0-72 1 1 0 12 0 3 0 2 0 1 0 6 0 5 0 26 0 25 0 8 0-88 1 4 0 9 0 27 0 28 0-65 1 5 0 14 0 2 0 45 0 2 0 89 0-160 1 11 0 30 0 1 0 33 0 26 0-104 1 9 0 11 0 5 0 5 0 13 0 29 0 5 0 4 0-97 1 23 0 11 0 1 0 1 0 1 0 10 0 47 0 42 0 28 0 12 0-150 1 3 0 1 0 5 0 1 0 24 0 22 0-47 1 5 0 7 0 32 0-65 1 7 0 14 0 54 0 19 0-94 1 12 0 6 0 4 0 2 0 5 0 11 0 2 0 2 0 10 0 6 0 2 0-52 1 10 0 1 0 1 0 5 0 6 0 9 0 2 0 16 0 8 0 25 0 47 0-133 1 2 0 3 0 10 0 3 0 12 0 28 0 8 0 2 0 3 0 1 0-79 1 10 0 13 0 48 0-87 1 23 0 32 0 21 0 17 0 81 0-136 1 11 0 11 0 12 0-47 1 1 0 1 0 10 0 14 0 19 0 10 0 2 0 8 0 16 0 80 0-169 1 7 0 3 0 7 0 2 0 3 0 30 0 2 0 13 0 9 0-94 1 23 0 1 0 1 0 18 0 15 0 12 0-72 1 35 0 7 0 17 0 15 0 21 0 4 0-75 1 3 0 5 0 7 0 33 0 10 0 1 0-64 1 7 0 3 0 3 0 7 0 4 0 26 0 8 0 4 0 2 0-57 1 6 0 7 0 2 0 1 0 6 0 20 0 5 0 1 0 11 0 7 0-79 1 12 0 2 0 3 0 8 0 1 0 2 0 17 0 12 0-56 1 15 0 12 0 8 0 2 0 30 0 1 0 68 0-126 1 1 0 4 0 3 0 48 0 15 0 12 0-103 1 34 0 1 0 12 0 3 0 5 0 19 0-55 1 1 0 2 0 1 0 17 0 7 0 1 0 5 0 7 0 10 0 10 0 13 0 11 0-77 1 1 0 1 0 5 0 7 0 3 0 7 0 10 0 6 0 2 0 2 0 1 0 8 0-75 1 15 0 1 0 1 0 4 0 8 0 8 0 17 0 12 0 2 0 18 0-67 1 24 0 24 0 8 0-76 1 29 0 2 0 4 0 7 0 2 0 5 0 20 0 19 0 1 0 4 0 66 0-139 1 13 0 7 0 2 0 12 0 19 0 4 0-59 1 3 0 3 0 4 0 1 0 3 0 2 0 2 0 10 0 7 0 27 0 37 0-100 1 25 0 8 0 2 0 3 0 4 0 8 0 2 0 18 0 51 0-129 1 9 0 14 0 3 0 21 0 13 0 20 0 20 0 7 0-121 1 36 0 4 0 17 0 4 0 10 0 5 0 38 0 2 0-93 1 9 0 2 0 5 0 1 0 9 0 3 0 4 0 13 0 10 0 13 0-65 1 3 0 1 0 35 0 30 0 4 0-97 1 30 0 22 0 2 0 19 0 18 0-84 1 16 0 10 0 25 0 2 0 31 0-68 1 3 0 4 0 2 0 30 0 4 0 3 0 3 0 12 0 2 0 15 0-71 1 14 0 25 0 28 0-73 1 4 0 32 0-27 1 27 0 44 0-82 1 3 0 3 0 1 0 2 0 17 0 3 0 10 0 8 0-42 1 3 0 1 0 5 0 5 0 12 0 24 0-40 1 2 0 29 0 14 0-61 1 1 0 9 0 2 0-10 1 8 0 15 0-20 1 7 0 54 0-60 1 1 0 8 0 4 0 1 0 21 0 2 0 21 0 4 0 61 0-127 1 5 0 2 0 3 0 3 0 1 0-15 1 10 0 2 0 41 0 16 0-90 1 16 0 15 0 10 0 30 0-72 1 17 0 1 0 11 0 46 0 3 0-58 1 1 0 4 0-29 1 23 1 6 0 5 0 4 0 3 1 9 0-26 1 6 0 9 0 1 0 1 0 31 0-50 1 6 0 45 0-52 1 6 0 21 0-22 1 8 0 3 0 1 0 3 0 20 0 11 0-71 1 27 0 6 0 8 0 2 0-25 1 2 0 13 0 2 0 4 0 3 0-18 1 2 0 6 0 3 0 3 0 2 0 1 0 6 0-29 1 13 0 1 0 3 0 8 0-25 1 2 0 1 0 6 0 4 0 6 0 2 0 1 0 1 0-20 1 1 0 6 0 5 0 1 0 2 0 1 0 3 0-15 1 4 0 5 0 3 0 2 0 2 0-24 1 8 0 6 0 8 0-4 1 3 1 4 0-21 1 3 0 6 0 2 0 2 0 4 0 2 0 5 1-18 1 6 0 4 0 2 0 4 0-16 1 13 0-8 1 9 1-19 1 2 0 16 0 3 0-2 1 3 0 0 1-18 2-1 1 1 0 19 0-20 2 1 1-2 3 1 0 2 0 17 1 1 2 36 0-78 3 42 1-18 1 1 1 15 0 2 0-18 1 1 0 16 1-16 2 17 0-15 1 14 0-1 1-14 1 2 0 10 0-13 1 3 0 3 1 1 0 7 0 4 0-4 1 3 0-43 1 30 0 2 0 10 0-44 1 1 0 29 0 6 1 8 0-9 1-33 1 33 0 1 0-35 1 34 0 3 0 4 0 0 1 1 0-7 1 4 0 2 0-7 1 2 0 1 0 2 0 4 0-5 1-45 1 43 0 3 0-3 3 3 2-1 1-51 4-1 2 3 8-10 1 4 2" marker-start="url(#k2)" marker-mid="url(#k2)" marker-end="url(#k2)"/><path d="m760 203-96 2 9 0-4 2 1 0 0 3-44 1-4 1 1 0 3 1 4 0 4 0-10 1-3 1 2 0 5 0 40 0 1 0 3 0 14 0-62 1 1 0 5 0 2 0 67 0-72 1 9 0 31 0-43 1 1 0 9 0 1 0 32 0 2 0-44 1 1 0 6 0 3 0 40 0 15 0-59 1 5 0 24 0 16 0-47 1 5 0 31 0 5 0 9 0-51 1 2 0 3 0 15 0-15 1 1 0 29 0 11 0-39 1-7 1 2 0-6 1 9 0 40 0 3 0-53 1 11 0 3 0 4 0 20 0 11 0 3 0-46 1-6 1 8 0 1 0 1 0 12 0-22 1 5 0 1 0 5 0 5 0 5 0-24 1 4 0 2 0 1 0 2 0 2 0 3 0-12 1 9 0 13 0-19 1 2 0 10 0-16 1 1 0 5 0 8 0 1 0 52 0 2 0-64 1 4 0 4 0-14 1 3 0 4 0 2 0 7 0 1 0 6 0 38 0-52 1 1 0 3 0-6 1 11 0-21 1 7 0 1 0 1 0 4 0 1 0 4 0 1 0 1 0 1 0-15 1 8 0 55 0-65 1 3 0 2 0 7 0 1 0 13 0 41 0-62 1 5 0 1 0 5 0 54 0-67 1 6 0-7 1 2 0 2 0 1 0 3 0 3 0 10 0-24 1 5 0 1 0 1 0 2 0 7 0 55 0-71 1 6 0 1 0 6 0 2 0 1 0 3 0 7 0-21 1 7 0 2 0 34 0 2 0-44 1 3 0 2 0 2 0 41 0-51 1 2 0 4 0-6 1 4 0 1 0 1 0 13 0-21 1 4 0 4 0 2 0 9 0-16 1 10 0-15 1 11 0 5 0 1 0 19 0 10 0 12 0 17 0-73 1 4 0 9 0 14 0 37 0 13 0-75 1 2 0 4 0 2 0 2 0 1 0 1 0 1 0-13 1 2 0 1 0 4 0 4 0 36 0 4 0-53 1 5 0 5 0 2 0 6 0 12 0-44 1 21 0 2 0 5 0 1 0 4 0 23 0 5 0 12 0 11 0-69 1 5 0 2 0 1 0 1 0 5 0 1 0 10 0 24 0-49 1 3 0 12 0 42 0 4 0-59 1 6 0 8 0 58 0-69 1-5 1 6 0 1 0 2 0 24 0-30 1 8 0 3 0 19 0 34 0-66 1 2 0 1 0 2 0 3 0 4 0 17 0-32 1 8 0 4 0 4 0-12 1 1 0 3 0 6 0 6 0-14 1 3 0 1 0 3 0 2 0 3 0 17 0 5 0 35 0-69 1 1 0 1 0 30 0-34 1 1 0 5 0 2 0 3 0 3 0 45 0-58 1 6 0 4 0 1 0 38 0 6 0-55 1 10 0 3 0 55 0-66 1 2 0 2 0 2 0 1 0 1 0 1 0 3 0 34 0-44 1 3 0 36 0-45 1 4 0 1 0 4 0 2 0 14 0-26 1 2 0 4 0 2 0 1 0 3 0-6 1 1 0 1 0 8 0-14 1 1 0 3 0 4 0-8 1 2 0 3 0 3 0 2 0 1 0 5 0-14 2 4 0 4 0 1 0 2 0 3 0-11 1 1 0 3 0 4 0-11 1 2 0-6 1 5 0 2 0 4 0 4 0-16 1-1 1 3 0 1 0 3 0 2 0 2 0 2 0 1 0-12 1 1 0 2 0 3 0 2 0 2 0-10 1 8 0 5 0-2 1-12 1 3 0 2 0 5 0 1 0-4 1 1 0 1 0 2 0 5 0-14 1 3 0 1 0 2 0 5 0 1 0-2 1-6 1 1 0 10 0-9 1 4 0-8 1 1 0 3 0-4 1 4 0 4 0 5 0-5 1 4 0 2 0-22 1 18 1 1 0-3 1-4 1 6 0-10 1 1 0 3 0 5 0 2 0-6 1 2 0 3 0 1 0 4 0-15 1 3 0 1 0 1 0 9 0 1 0-5 1 2 0 2 0-7 1 1 0 2 0 2 0 1 0-6 1 32 0-38 1 4 0 1 0-9 1 4 0 1 0 8 0 2 0 3 0-15 1 14 0-15 1 5 0 10 0 1 0-15 2 1 0 1 0 0 2 13 0 1 0 0 1 1 0-3 1 1 0 1 0-16 2 1 1 2 0 12 0 0 1 1 1 1 0 1 1-19 1 17 0 1 0-19 1 4 0 1 0-2 1 0 1 18 0-14 2-4 1 2 0 1 0 10 0-2 1 1 0-7 1 9 0-11 1 7 0 6 0-13 1 2 0 1 0 7 0 1 0 4 1-6 1-7 1 1 0 2 0 6 0-5 1 2 0 2 0 1 0-4 1 2 0-9 1 1 0 1 0 2 0 2 0-1 1 6 0-10 1 3 0 1 0-2 1 3 0 1 0-1 1 1 0 1 0-44 1 45 1-5 1 1 0 2 0 1 0-2 1 3 0 3 0" marker-start="url(#k3)" marker-mid="url(#k3)" marker-end="url(#k3)"/><path d="m622 214 12 2-10 2 2 0 2 0 2 0 38 0-40 2 2 0 2 0-4 2 32 0-34 4 4 0-12 2 12 0 10 0-20 2 4 0 2 0 2 0 6 0-10 2 2 0 2 0 6 0-8 2 2 0 2 0 2 0-10 2 6 0-6 2 2 0 2 0 2 0 6 0 4 0-18 2 2 0 12 0-6 2 4 0-8 2 2 0 6 0 56 0-64 2 4 0 2 0 2 0-6 2 4 0 2 0-12 2 6 0 2 0 2 0 8 0-18 2 2 0 12 0 2 0-14 2 2 0 2 0 2 0 2 0-6 2 2 0 2 0 4 0-10 2 6 0 2 0 4 0 2 0 14 0-28 2 2 0 2 0 2 0 2 0 2 0 2 0-8 2 4 0 2 0 2 0-8 2 4 0 2 0 2 0-8 2 2 0 2 0 2 0 2 0-12 2 2 0 6 0 4 0 2 2-10 2 4 0 2 0 2 0 2 0-12 2 2 0 2 0 4 0 2 0-8 2 6 0 4 0-12 2 2 0 2 0-4 2 2 0 2 0 2 0-2 2 4 0 2 0-10 2 4 0 6 0-8 2 4 0-8 2 6 0 2 0-8 2 6 0 2 0 2 0-4 2 2 0 2 0 2 0-6 2 2 0 2 0 2 0 2 0-6 2 4 0-2 2-4 2 2 0 4 0-6 2 2 0 2 0 2 0-8 2 0 2 4 0 2 0 2 0-8 2 2 0 4 0 2 0 2 0 2 0-12 2 2 0 2 0 2 0 2 0 2 0 2 0-12 2 4 0 6 0 2 0-14 2 2 0 2 0 4 0 6 0-12 2 2 0 10 0 2 0-14 2 2 0 10 0 0 2 2 0-2 2-12 2 12 0 4 0-18 2 4 0 4 0 6 0 4 0-14 2 2 0 8 0 2 0-14 2 2 0 12 0 2 0-12 2 2 0 4 0 2 0-12 2 2 0 2 0 2 0 4 0 2 0 2 0 2 0-12 2 4 0 2 0 2 0-6 2 2 0 2 0 2 0 2 0-6 2 2 0 2 0-6 2 6 0-4 2 2 0 4 0-6 2 2 0" marker-start="url(#k4)" marker-mid="url(#k4)" marker-end="url(#k4)"/><path d="m628 220 4 0-2 2-2 10-4 6 2 0 2 2 2 0-2 2 2 0 2 0-4 2 2 0-2 2 2 2 2 0-6 6 8 0-10 2 2 0 2 0 2 0 4 0-2 4-4 2 2 0-4 2 2 0-4 2 6 0 2 2 4 2-2 2-8 2 2 2-2 2 4 0-6 2 2 0 2 0 2 0 4 0-6 2 2 0-2 4 4 0-4 2 2 2 0 2-4 4 2 0 4 0 2 0-6 8 2 0 2 0-2 4 2 0 2 0 2 0-8 2 2 0 2 0 2 0 2 0-10 2 2 0 4 0 2 0 2 0-10 2 2 0 2 0 2 0 2 0 2 0 2 0-10 2 8 0-10 2 2 0 2 0 6 0-10 2 2 0 10 0 2 0-16 2 2 0 2 0 6 0 2 0 2 0-12 2 2 0 8 0 2 0 2 0-12 2 2 0 2 0 4 0 2 0 2 0 2 0-14 2 6 0 2 0 2 0 2 0-10 2 2 0 2 0 2 0 2 0-10 2 2 0 2 0 2 0 2 0-6 2 2 0 2 0 6 0-8 2 2 0 6 0-8 2 2 0 6 0 2 0-10 2 2 0 2 0 2 0-2 2 0 4" marker-start="url(#k5)" marker-mid="url(#k5)" marker-end="url(#k5)"/><path d="m624 256 4 24 2 10 0 16 2 2 2 0-4 2 0 2 2 0 2 0 2 0-8 2 2 0 2 0 2 0 2 0-12 2 2 0 2 0 6 0 2 0 2 0-10 2 2 0 4 0 2 0-8 2 2 0 6 0 2 0-10 2 2 0 4 0 2 0 2 0-10 2 4 0 2 0 2 0 2 0-10 2 6 0 2 0 2 0-12 2 6 0 2 0 2 0-6 2 2 0 2 0 2 0 2 0 2 0-8 2 2 0 2 0 2 0 2 0-8 2 2 0 2 0 2 0-6 2 2 0 4 2" marker-start="url(#k6)" marker-mid="url(#k6)" marker-end="url(#k6)"/><path d="m630 312 2 0 2 0-8 2 4 0 4 0-6 2 2 0 2 0 2 0 2 0-8 2 2 0 2 0 2 0 2 0-8 2 2 0 2 0 2 0 2 0 2 0-10 2 2 0-2 2 4 0 2 0 4 0-8 2 2 0 2 0 2 0 2 0-8 2 2 0 2 0 2 0-6 2 4 0 4 0-8 2 2 0 2 0-4 2 6 4" marker-start="url(#k7)" marker-mid="url(#k7)" marker-end="url(#k7)"/><path d="m632 312 2 0-4 2 4 0-4 2 2 0 2 0-4 2 2 0 2 0-4 2 2 0 2 0-6 2 2 0 2 0 2 0-6 2 2 0 2 0 2 0-4 2 2 0 2 0 2 0-6 2 2 0 2 0-2 2 2 2 2 0 0 6" marker-start="url(#k8)" marker-mid="url(#k8)" marker-end="url(#k8)"/></g><rect x="516.8" y="135" width="349.5" height="322.5" fill="none" stroke="#8c8c8c" stroke-width="1.5"/><rect x="559.9" y="165.9" width="76.7" height="152.2" fill="none" stroke="#000" stroke-width="3"/><rect x="636.6" y="161.7" width="176.5" height="156.4" fill="none" stroke="#000" stroke-width="3"/><rect x="559.9" y="318.1" width="44.6" height="86.7" fill="none" stroke="#000" stroke-width="3"/><rect x="611.4" y="318.1" width="37.1" height="89.1" fill="none" stroke="#000" stroke-width="3"/><text x="629.7" y="125.8" font-size="31.9" textLength="143.6" lengthAdjust="spacingAndGlyphs" fill="#000">MLN4924</text><text x="563.5" y="198.8" font-size="26.5" textLength="56.1" lengthAdjust="spacingAndGlyphs" fill="#000">21.8</text><text x="751.4" y="297.3" font-size="26.9" textLength="54" lengthAdjust="spacingAndGlyphs" fill="#000">57.1</text><text x="524.5" y="437.2" font-size="26.5" textLength="57.1" lengthAdjust="spacingAndGlyphs" fill="#000">2.35</text><text x="620.3" y="437.2" font-size="26.9" textLength="55" lengthAdjust="spacingAndGlyphs" fill="#000">15.4</text><g fill="none" stroke="none"><path d="m1054 191 39 0-24 1 23 2 46 1 96 0 55 0-218 1 181 1-180 1 32 0-32 1-1 1 1 0 9 0 8 0 4 0 16 0 102 0-149 1 44 0 85 0-119 1 10 0 3 0 4 0-19 1 14 0 5 0 2 0 4 0 10 0-20 1 26 0-37 1 18 0 14 0 126 0-171 1 5 0 4 0 1 0 11 0 3 0 6 0 1 0 1 0-23 1 32 0-36 1 2 0 4 0 1 0 3 0 6 0 1 0 3 0 9 0 6 0 11 0 50 0 76 0-171 1 4 0 4 0 7 0 10 0 1 0 2 0 6 0-51 1 17 0 7 0 2 0 4 0 15 0 4 0 9 0 86 0-131 1 6 0 7 0 5 0 6 0 1 0 2 0 8 0 1 0 3 0-51 1 1 0 11 0 2 0 1 0 4 0 11 0 2 0 4 0 12 0 5 0 2 0 42 0-96 1 14 0 7 0 9 0 3 0 9 0 7 0 3 0 3 0-45 1 15 0 9 0 21 0 2 0 77 0-139 1 2 0 19 0 36 0 4 0-8 1 5 0-59 1 10 0 1 0 1 0 1 0 7 0 1 0 2 0 6 0 30 0-54 1 4 0 51 0 1 0-48 1-4 1 5 0 3 0 8 0-19 1 8 0 6 0 40 0 4 0-64 1 3 0 2 0 3 0 5 0 42 0 8 0 2 0 3 0 2 0 126 0-197 1 20 0-21 1 5 0 4 0 59 0 8 0 73 0-146 1 3 0 4 0 7 0 1 0 50 0 61 0-130 1 9 0 5 0 2 0 77 0-90 1 62 0 3 0-2 1 2 0-2 1 166 0-161 1 3 0 161 0 20 0-265 1 1 0 4 0 16 0 4 0 2 0 45 0 78 0 3 0-149 1 5 0 73 0 106 0 8 0 68 0-262 1 2 0 2 0 4 0 3 0 11 0 11 0 42 0-71 1 6 0 3 0 6 0 4 0 3 0 8 0 37 0 3 0-63 1 6 0 21 0 17 0-57 1 14 0 14 0 3 0-27 1 2 0 4 0 6 0 55 0 6 0-67 1 1 0 3 0 13 0 2 0 1 0 4 0 2 0 11 0 25 0 3 0 1 0-64 1 2 0 18 0 3 0 5 0 14 0 1 0 12 0 7 0 1 0 2 0 144 0-196 1 5 0 7 0 4 0 7 0 12 0 20 0 1 0-80 1 3 0 1 0 1 0 6 0 16 0 3 0 1 0 7 0 4 0 17 0 5 0 11 0 5 0 92 0-165 1 2 0 35 0 6 0 13 0 14 0-64 1 1 0 27 0 1 0 13 0 5 0 6 0 8 0-80 1 7 0 16 0 12 0 1 0 1 0 3 0 4 0 10 0 5 0 5 0 12 0 1 0 8 0-79 1 5 0 1 0 1 0 5 0 4 0 9 0 8 0 9 0 13 0 5 0 166 0-222 1 15 0 6 0 11 0 6 0 4 0 2 0 12 0 7 0 23 0-90 1 26 0 4 0 12 0 23 0 1 0 4 0 1 0 2 0-74 1 11 0 9 0 1 0 3 0 23 0 13 0 11 0 5 0 3 0-79 1 1 0 1 0 13 0 2 0 3 0 18 0 2 0 2 0 2 0 11 0 1 0 185 0-229 1 15 0 1 0 11 0 19 0 6 0 6 0 9 0 77 0-148 1 6 0 5 0 4 0 5 0 3 0 6 0 21 0 5 0 2 0 11 0 1 0-69 1 14 0 3 0 7 0 1 0 1 0 44 0-68 1 3 0 17 0 15 0 4 0 26 0-72 1 20 0 1 0 10 0 10 0 34 0-73 1 12 0 1 0 12 0 31 0 9 0 9 0-78 1 3 0 8 0 8 0 2 0 10 0 6 0 28 0 3 0 6 0 7 0-83 1 7 0 17 0 10 0 1 0 13 0 7 0 20 0 1 0 5 0 117 0-174 1 2 0 2 0 16 0 3 0 14 0 14 0 8 0-81 1 16 0 18 0 7 0 30 0 3 0 4 0-84 1 22 0 14 0 1 0-27 1 2 0 8 0 6 0 7 0 3 0 2 0 38 0 6 0-74 1 4 0 11 0 13 0 6 0 1 0 10 0 4 0 17 0 8 0 41 0 73 0-193 1 24 0 22 0 6 0 22 0-72 1 2 0 53 0 15 0 8 0 34 0-105 1 17 0 55 0 54 0-134 1 62 0 14 0 5 0-84 1 15 0 3 0 8 0 2 0 2 0 24 0 20 0 5 0 3 0-63 1 3 0 9 0 1 0 13 0 16 0 10 0 13 0 88 0-171 1 17 0 8 0 2 0 29 0 9 0 14 0 5 0-85 1 23 0 2 0 6 0 11 0 35 0 6 0-87 1 12 0 47 0 20 0 4 0 28 0 2 0-108 1 14 0 12 0 2 0 1 0 48 0 12 0 149 0-233 1 1 0 2 0 28 0 7 0 20 0 13 0 1 0 190 0-261 1 12 0 8 0 17 0 12 0 27 0 4 0-84 1 1 0 17 0 1 0 27 0 29 0 5 0-80 1 3 0 7 0 12 0 1 0 52 0 13 0-86 1 5 0 53 0 72 0 58 0 29 0-203 1 3 0 60 0 1 0 1 0 27 0 136 0-205 1 13 0 24 0 1 0 53 0 83 0-218 1 10 0 19 0 1 0 8 0 42 0 5 0 3 0-83 1 5 0 11 0 2 0 1 0 32 0 26 0 101 0-169 1 16 0 18 0 31 0 6 0 113 0 63 0-232 1 33 0 185 0-238 1 14 0 5 0 4 0-3 1 53 0 2 0-83 1 6 0 2 0 18 0 1 0 17 0 32 0 12 0 2 0-90 1 4 0 21 0 30 0 31 0 4 0-77 1 4 0 11 0 3 0 48 0 3 0 2 0 59 0-135 1 5 0 9 0 4 0 14 0 11 0 29 0 8 0 1 0 6 0-81 1 13 0 12 0-35 1 2 0 18 0 3 0 22 0 8 0 30 0-77 1 11 0 2 0 5 0 9 0 5 0 39 0 1 0 4 0 155 0-233 1 10 0 3 0 7 0 4 0 8 0 20 0 13 0 23 0-93 1 2 0 2 0 1 0 19 0 5 0 45 0 3 0 5 0 3 0 1 0-73 1 4 0 3 0 57 0 4 0 56 0-140 1 9 0 15 0 5 0 1 0 52 0 9 0-87 1 27 0 14 0 10 0 22 0 2 0 1 0 1 0 4 0 4 0 14 0 106 0-206 1 19 0 3 0 3 0 18 0 26 0 5 0 12 0-54 1 46 0 6 0-83 1 2 0 4 0 10 0 21 0 41 0 4 0 1 0 177 0-263 1 1 0 4 0 17 0 1 0 20 0 29 0 18 0 8 0-95 1 51 0 16 0 13 0 3 0 20 0-102 1 21 0 15 0 41 0 11 0 1 0-91 1 19 0 58 0 7 0 18 0-89 1 1 0 4 0 5 0 46 0 7 0 2 0 4 0 12 0 3 0 6 0-121 1 18 0 2 0 41 0 37 0 6 0 3 0 14 0-82 1-25 1 1 0 17 0 13 0 49 0 12 0 1 0 3 0 1 0 73 0-164 1 47 0 12 0 31 0 8 0 132 0 22 0-272 1 9 0 6 0 6 0 13 0 8 0 53 0 3 0 16 0 2 0 110 0 9 0-220 1 1 0 4 0 1 0 13 0 4 0 3 0 59 0 7 0 16 0 24 0-132 1 1 0 6 0 9 0 61 0 18 0 3 0 13 0 140 0-246 1 63 0 7 0 30 0-36 1 13 0 15 0 11 0 85 0-188 1 13 0 5 0 6 0 35 0 27 0 2 0 3 0 116 0 10 0-238 1 18 0 17 0 1 0 12 0 46 0 18 0-56 1 41 0 4 0 6 0 9 0-54 1 18 0 21 0 20 0 1 0-107 1 90 0 7 0 14 0 26 0-119 1 56 0 4 0 20 0 3 0 6 0-87 1 4 0 81 0 1 0 5 0 8 0 99 0-187 1 44 0 20 0 4 0 11 0-89 1 51 0 2 0 28 0 4 0-101 1 103 0-109 1 23 0 10 0 46 0 27 0-34 1 36 0-106 1 7 0 20 0 45 0-80 1 27 0 2 0 33 0 20 0-44 1 36 0 28 0 4 0-106 1 12 0 92 0 1 0 2 0 2 0-95 1 16 0 7 0 22 0 16 0 6 0 1 0 36 0-107 1 4 0 12 0 52 0 1 0-48 1 15 0 32 0 2 0 21 0-74 1 78 0-28 1 30 0 2 0-95 1 67 0 17 0 5 0 2 0 1 0-79 1 1 0 4 0 47 0 3 0-69 1 20 0 38 0 3 0 25 0 2 0-91 1 38 0 12 0 21 0 19 0 1 0 4 0-96 1 27 0 45 0 17 0-18 1 3 0 10 0 1 0 16 0-82 1 4 0 8 0 12 0 27 0 1 0 23 0-88 1 17 0 62 0 11 0-87 1 11 0 67 0 2 0 6 0 5 0-94 1 11 0 3 0 5 0 3 0 36 0 8 0 3 0 2 0-61 1 8 0 2 0 48 0 14 0-66 1 9 0 27 0 8 0 10 0 5 0 18 0-87 1 9 0 3 0 42 0 8 0 11 0 1 0 3 0-82 1 3 0 6 0 2 0 5 0 2 0 26 0 4 0 21 0 3 0 7 0 2 0 13 0-106 1 60 0 30 0 8 0 9 0-118 1 28 0 55 0-57 1 58 0 11 0-57 1 4 0 53 0 8 0-12 1 6 0-71 1 80 0-83 1 19 0 57 0-108 1 10 0 39 0-26 1 9 0 20 0 78 0-58 1-42 1 18 0-25 1 7 0 2 0 59 0 14 0 5 0-92 1 6 0 3 3 2 0 41 0 41 0 23 1-110 2 3 0 20 0 61 0-83 1 50 1-60 1 34 0 63 0-62 1-43 1 2 1 17 0 27 0-7 1-20 1 49 0-49 1 82 0 6 0-61 2 51 0-76 1 15 2 3 0-20 1 0 1 18 0 30 0 30 0 25 0-106 1-4 1 21 0 39 0 7 0-60 1 2 0 2 0 28 0-40 2 8 0 7 0 7 0-7 1 8 0-11 1 1 0 6 0-15 1 11 0 3 0 1 0 4 0-19 1 16 0 1 0 30 0-42 1 4 0 6 0 21 0 69 0-118 1 24 0 1 0 2 0-23 1 20 0 2 0 3 0 47 0-48 1 70 0-102 1 21 0 1 0 12 0-14 1 4 0 46 0-79 1 34 0 1 0 1 0 34 0 36 0 10 0 22 0-111 1 12 0 1 0-18 1 12 0 1 0 5 0-1 2-7 1 102 0-97 1-1 1 35 0 60 0-4 1-96 1 62 0-98 1 81 0 58 0-45 1-59 1 40 0-59 1 85 0 1 5 18 0 13 0-114 16-15 5 1 6-3 1 2 0 16 2" marker-start="url(#j0)" marker-mid="url(#j0)" marker-end="url(#j0)"/><path d="m1088 203-18 1 15 1-18 1 21 0 1 0 1 0-6 1-11 1 11 0 20 0-29 1 19 0-22 1 1 0 14 0 20 0-17 1 2 0 2 0-18 1 1 0 10 0 4 0 4 0 3 0 0 1 6 0-34 1 1 0 5 0 1 0 2 0 13 0 5 0 1 0-31 1 3 0-12 1 5 0 1 0 4 0 10 0 3 0 4 0 2 0 2 0 2 0 6 0 5 0-31 1 1 0 14 0 4 0 6 0 2 0 4 0 2 0-37 1 1 0 12 0 2 0 2 0 4 0 9 0 3 0 2 0-45 1 8 0 9 0 1 0 18 0-41 1 11 0 7 0 10 0 4 0 12 0 8 0-48 1 3 0 2 0 7 0 1 0 3 0 27 0 2 0-39 1 42 0-48 1 8 0 9 0 7 0 25 0-50 1 4 0 3 0 4 0 9 0 3 0-30 1 9 0 3 0 5 0 3 0 12 0 12 0 5 0 3 0 9 0 1 0-59 1 6 0 8 0 24 0 10 0-41 1 5 0 3 0 6 0-20 1 3 0 9 0 4 0 11 0 9 0 7 0 2 0 4 0 5 0-52 1 8 0 7 0 16 0 8 0 8 0 11 0-62 1 5 0 7 0 44 0 1 0-56 1 2 0 4 0 4 0 1 0 3 0 3 0 8 0 18 0 3 0 4 0-72 1 21 0 4 0 3 0 2 0 8 0 2 0 3 0 16 0 9 0 1 0-47 1 17 0 6 0 4 0 18 0-39 1 7 0 1 0 6 0 15 0 7 0 1 0 2 0 7 0 3 0-66 1 10 0 1 0 3 0 7 0 14 0 14 0 11 0 6 0 2 0-71 1 5 0 12 0 4 0 8 0 15 0 2 0 11 0 18 0-53 1 19 0 12 0 2 0 1 0-43 1 8 0 30 0 8 0 9 0-59 1 27 0 1 0 7 0 21 0 9 0-63 1 1 0 4 0 1 0 4 0 2 0 21 0 1 0 2 0 1 0 14 0 1 0 4 0 7 0-61 1 3 0 1 0 2 0 4 0 2 0 18 0 3 0 2 0 4 0 1 0 4 0 3 0 14 0-31 1 6 0 1 0 1 0-32 1 4 0 29 0 4 0 9 0-62 1 6 0 2 0 4 0 22 0 14 0 19 0-58 1 6 0 5 0 12 0-25 1 51 0 3 0-59 1 1 0 11 0 5 0 1 0 26 0 22 0-68 1 1 0 2 0 2 0 7 0 3 0 18 0 32 0 3 0-68 1 1 0 7 0 4 0 4 0 2 0 1 0-21 1 32 0 37 0-67 1 3 0-4 1 4 0 1 0 1 0 2 0 2 0 4 0 3 0 1 0 3 0 50 0-59 1 6 0 1 0-13 1 1 0 6 0 10 0 46 0-66 1 2 0 4 0 56 0 7 0-76 1 1 0 2 0 13 0 3 0 56 0-73 1 1 0 12 0 2 0 3 0 8 0-22 1 2 0 1 0 3 0 5 0 6 0-24 1 15 0 7 0 4 0 17 0 1 0 24 0 7 0-74 1 24 0-22 1 8 0 1 0 2 0 4 0 1 0 50 0-70 1 14 0 10 0 3 0-22 1 7 0 7 0 1 0 1 0 3 0 2 0 44 0 7 0-73 1 13 0 9 0 46 0 3 0-70 1 1 0 12 0 55 0-73 1 5 0 12 0 2 0 53 0 3 0-71 1 7 0 1 0-4 1 66 0-72 1 2 0 2 0 3 0 2 0 7 0 5 0-19 1 11 0 3 0-16 1 4 0 2 0-6 1 2 0 1 0 1 0 7 0 4 0 4 0 51 0 3 0-72 1 3 0 2 0 2 0 2 0 66 0-76 1 3 0 6 0 2 0 68 0-75 1 2 0 6 0 1 0-15 1 3 0 3 0 12 0 62 0-73 1 1 0 2 0 4 1 5 0 8 0-21 1 5 0 3 0 4 0 61 0-77 1 2 0 9 0 8 0 55 0-72 1 3 0 1 0 3 0 7 0-13 1 1 0 1 0-5 1 2 0 2 0 4 0 1 0 3 0 2 0 3 0 2 0 56 0-77 1 4 0 2 0 12 0 58 0-72 1 1 0 5 0 67 0 6 0-76 1 5 0 5 0 4 0-12 1 5 0 5 0 60 0-74 1 6 0 2 0 2 0 1 0 61 0 4 0-79 1 2 0-4 1 1 0 8 0 2 0 1 0 2 0 4 0 2 0-18 1 76 0-74 1 3 1 1 0 11 1-17 1 3 0 6 0 2 0 63 0-76 1 2 0 74 0-68 1 3 0 70 0 1 0-80 1 1 0 1 0 1 0 1 0 71 0 4 0-80 1 3 0 12 0 4 0 56 0-67 1 10 0-12 1-6 1 1 0 15 0 66 0-67 1 2 0 1 0-15 1 2 0 9 0-12 2 76 0-77 1 12 0 64 0-71 1 1 0 6 0 64 0-73 1 3 0 4 1 2 0 2 0 2 0 60 0 8 0-84 1 10 0 5 0 65 0 3 0-82 1 1 0 2 0 7 0 9 0 55 0 1 0 5 0 2 0 3 0-85 1 6 0 1 0 75 0 1 0-84 1 27 0 44 0 2 0 5 0 3 0 7 0-87 1 12 0 65 0 5 0 1 0 1 0-92 1 3 0 10 0 70 0 2 0 3 0 5 0 4 0-84 1-6 1 1 0 73 0 2 0 8 0 9 0-94 1 6 0 4 0 1 0 61 0 9 0 10 0-85 1 4 0 64 0 16 0 3 0-94 1 3 0 10 0 60 0 2 0 6 0 4 0-85 1 5 0 9 0 60 0 12 0 3 0 4 0-92 1 10 0 2 0 59 0 21 0-94 1 5 0 2 0 64 0 19 0 1 0 2 0-95 1 13 0 2 0 62 0 17 0 1 0-79 1-15 1 16 0 77 0 1 0-90 1 92 0-94 2 3 0 9 0 60 0 1 0-70 1 7 0 50 0 32 0-27 1 8 0 25 0-98 1 10 0 53 0 26 0-85 1 12 0 52 0 21 0 2 0-88 1 6 0 60 0 14 0 3 0-72 1 53 0 19 0 4 0-6 1-79 1 9 0 2 0 64 0 5 0-82 1 7 0 55 0 8 0 10 0-10 1 2 0 6 0 7 0-74 1 59 0 2 0 3 0 6 0 3 0 3 0-91 1 3 0 20 0 52 0 4 0 5 0 4 0-76 1 63 0 3 0 3 0 1 0 3 0-75 1 4 0 1 0 55 0 3 0 2 0 1 0 1 0-70 1 1 0 4 0 70 0-64 1 1 0 4 0 49 0 5 0 1 0 2 0 2 0-69 1 60 0 2 0-68 1 5 0 1 0 7 0 57 0-65 1 8 0 1 0 65 0-67 1 1 2 1 4-14 1 15 3-2 1 1 2-19 1 18 1-1 1 0 3 3 0-20 1 18 0 1 0-20 1 18 0-18 2 18 0-19 1 2 1 0 1 15 0 2 0-1 1 2 0-21 1 18 0 2 1-17 1 1 0-4 2 2 0-4 1 4 0 13 1-10 1-1 1 8 0 3 0-2 1 2 0-14 2 14 0-2 1 1 0-8 5-2 2 2 1 1 0 2 0-24 1" marker-start="url(#j1)" marker-mid="url(#j1)" marker-end="url(#j1)"/><path d="m1087 206 0 1 1 0-13 2 14 0 5 2-20 1-2 1 5 0 1 0 10 0 2 0 2 0 1 0 15 0-42 1 3 0 5 0 3 0 12 0-14 1 4 0 1 0 13 0 5 0-33 1 2 0 14 0 1 0 9 0 9 0 3 0-30 1 1 0 3 0 2 0 5 0 6 0 6 0-22 1 1 0 5 0 1 0 1 0 2 0 8 0 5 0 2 0 7 0-54 1 7 0 19 0 2 0 3 0 5 0 2 0 1 0 3 0 8 0 2 0-43 1 15 0 11 0 5 0 8 0 1 0 3 0-31 1 1 0 1 0 2 0 1 0 1 0 6 0 1 0 3 0 2 0 2 0 3 0 2 0 4 0-48 1 2 0 3 0 15 0 4 0 4 0 3 0 4 0 5 0 6 0 4 0 2 0-37 1 3 0 2 0 1 0 2 0 3 0 4 0 7 0 2 0 7 0 2 0 2 0 1 0 1 0-45 1 1 0 4 0 3 0 6 0 6 0 5 0 12 0 7 0-43 1 16 0 4 0 1 0 1 0 1 0 2 0 5 0 4 0 6 0 5 0-49 1 8 0 2 0 3 0 4 0 5 0 5 0 5 0 4 0-40 1 2 0 2 0 6 0 6 0 5 0 6 0 2 0 5 0 4 0 1 0 3 0 3 0 2 0 1 0 1 0 2 0 2 0-44 1 13 0 3 0 9 0 1 0 13 0 3 0 4 0-53 1 6 0 5 0 1 0 2 0 36 0-52 1 1 0 3 0 1 0 14 0 2 0 3 0 3 0 2 0 2 0 4 0 3 0 8 0 2 0 3 0 1 0 3 0-56 1 1 0 4 0 4 0 7 0 1 0 11 0 2 0 1 0 4 0 1 0 3 0 2 0 3 0 4 0-41 1 1 0 3 0 4 0 3 0 5 0 4 0 4 0 2 0 6 0 2 0 1 0 3 0 1 0 1 0 3 0-57 1 8 0 7 0 10 0 11 0 6 0 2 0 1 0 8 0 2 0 3 0-27 1 1 0 2 0 3 0 2 0 5 0 2 0 9 0 1 0 3 0 5 0-62 1 26 0 2 0 3 0 3 0 7 0 14 0 3 0 2 0-59 1 4 0 26 0 7 0 9 0 2 0 2 0 2 0-51 1 3 0 2 0 4 0 15 0 5 0 2 0 7 0 3 0 4 0 7 0 2 0-49 1 4 0 16 0 4 0 6 0 8 0 4 0 3 0 3 0 5 0-59 1 5 0 5 0 5 0 15 0 7 0 1 0 7 0 1 0 2 0 3 0 1 0 6 0-58 1 11 0 34 0 2 0 4 0-51 1 1 0 1 0 6 0 24 0 22 0-53 1 4 0 5 0 2 0 1 0 23 0-44 1 10 0 2 0 2 0 7 0-10 1 5 0 6 0 38 0-54 1 10 0 3 0 47 0-60 1 8 0 3 0 3 0-22 1 1 1 1 0 1 0 4 0-5 1 12 0-9 1 7 0 5 1-10 1 2 0 62 0-66 1 2 1 3 0-1 2 2 0 3 0-7 1 3 0-7 1 2 0 4 0 1 0 63 0-66 1 2 0-11 1 3 0 4 0 6 1-8 1 4 0 2 0 2 0-17 1 5 0 4 0 2 0 2 0 3 0-11 1 3 0 7 0 1 0 59 0-70 1 1 0 4 0-5 1 3 0 2 0 4 0 1 0 1 0-10 1 12 0-2 1 2 0-9 1 6 0-6 1 2 0 1 0 5 0-6 1 2 0 1 0-3 1-5 1 1 0 5 0 12 0-10 1-6 1 8 0-5 1 2 0 1 0-5 1 3 0 2 0-3 1 1 0 5 0 1 0 1 0-15 1 1 1 6 0 4 0-9 1 11 0 3 0-2 1-13 1 1 0 10 0 1 0-7 1 1 0 4 0 1 0 2 0-10 1 1 0 5 0 2 0-9 1-2 1 2 0 4 0 67 0-72 1 1 0-1 1 9 0 62 0-66 1 1 0 7 0-18 1 15 0 1 1-13 1 2 0 2 0 2 0 4 0-9 1 2 0 1 0 1 0 1 0 1 0-6 1 0 1 4 0 3 0 3 0-9 1 4 0-4 1 8 0 1 0 65 0-75 1 3 0 2 0 1 0 1 0-2 1 1 0 71 0-77 1 10 0-9 1 1 0 2 0 3 0 2 0-2 1-10 1 3 0 3 0 6 0-11 1 4 0 1 0 3 0 68 0 2 0-78 1 1 0 2 0 1 0 1 0 2 0 2 0 1 0 1 0 64 0-75 1 2 0 3 0 2 0 71 0-75 1 2 0 1 0 4 0 2 0 64 0 2 0-76 1 7 0 66 0 1 0 1 0 1 0 3 0-81 1 1 0 4 0 73 0 1 0-5 1 4 0 1 0-79 1 5 0 1 0 1 0 70 0 1 0-80 1 3 0 6 0 68 0 3 0-78 1 4 0 3 0 2 0 1 0 64 0 1 0 2 0 2 0 8 0 1 0-94 1 5 0 1 0 1 0 2 0 1 0 1 0 69 0 5 0 6 0-83 1 2 0 1 0 3 0 69 0 2 0 2 0 4 0-86 1 4 0 1 0 2 0 3 0 69 0 4 0-80 1 81 0 6 0-87 1 2 0 2 0 2 0 2 0 60 0 8 0 4 0 3 0 1 0 3 0-93 1 7 0 4 0 66 0 3 0 3 0 2 0-83 1 7 0 3 0 1 0 63 0 1 0 5 0 1 0-84 1 7 0 80 0 2 0 2 0-86 1 70 0 12 0 3 0 4 0-91 1 5 0 5 0 75 0 5 0-87 1 10 0 57 0 1 0 2 0 16 0-85 1 2 0 2 0 2 0 1 0 1 0 59 0 21 0-88 1 3 0 1 0 1 0 63 0 1 0 1 0 11 0-81 1 7 0 2 0 73 0 2 0-87 1 3 0 4 0 5 0 74 0-82 1 3 0 60 0 2 0 1 0 16 0-84 1 70 0-65 1 1 0 1 0 63 0 12 0 1 0-82 1 5 0 76 0-73 1 2 0 59 0 7 0-74 1 2 0 5 0 57 0 5 0 4 0 7 0-82 1 2 0 2 0 4 0 1 0 57 0 12 0 4 0-80 1 6 0 59 0 1 0 6 0 10 0-83 1 2 0 3 0 3 0 58 0 2 0 1 0 4 0 8 0-85 1 1 0 9 0 1 0 1 0 58 0 2 0 6 0 6 0-82 1 2 0 2 0 66 0 11 0-83 1 1 0 3 0 1 0 1 0 1 0 3 0 2 0 60 0 7 0 3 0 2 0-85 1 1 0 7 0 2 0 4 0 59 0 2 0 2 0 2 0 6 0-85 1 75 0-75 1 3 0 3 0 5 0 68 0-77 1 5 0 4 2 61 0-57 1-6 1 5 0-3 1 3 0 1 0 1 0 66 0 3 0-67 1-2 1-5 1 6 0 1 0-2 1 2 0-2 1-8 1 1 0 7 0-11 1 10 0-10 1 13 0 2 1-2 2 2 1-17 3 13 0 0 1 3 0-17 1-3 1 1 0 17 1-15 1 13 0-1 1-15 1 2 0 13 0-12 1-1 1 15 0-2 2-2 1-12 2 16 0-14 1 9 2 2 0-14 1 8 0 1 0 1 0 2 0-11 1 1 0 8 0-3 1-5 1 0 1 6 0-4 1 3 0 1 0-6 1 2 0 4 1 0 4-6 2" marker-start="url(#j2)" marker-mid="url(#j2)" marker-end="url(#j2)"/><path d="m1086 208 1 0-1 4-12 2 20 0-5 1 1 0 2 0 1 0 1 0 1 0 1 0 2 0-25 1 1 0 4 0 3 0 8 0 3 0 1 0 1 0 4 0-21 1 2 0 10 0 3 1 5 0 6 0-23 1 1 0 13 0 1 0 4 0-15 1 2 0 5 0 2 0 2 0 3 0 6 0-32 1 10 0 2 0 2 0 5 0 7 0 1 0 3 0-29 1 6 0 1 0 7 0 1 0 1 0 1 0 1 0 1 0 8 0 2 0-31 1 1 0 3 0 2 0 9 0 1 0 1 0 6 0 1 0 1 0 4 0 1 0 2 0 2 0-49 1 9 0 2 0 1 0 5 0 5 0 2 0 1 0 1 0 5 0 3 0 3 0 1 0 1 0-30 1 1 0 2 0 3 0 1 0 2 0 4 0 2 0 5 0 4 0 2 0 3 0 9 0-44 1 5 0 4 0 1 0 4 0 2 0 2 0 2 0 5 0 2 0 7 0 1 0 5 0 4 0-39 1 5 0 5 0 6 0 3 0 3 0 6 0 3 0 6 0 1 0 1 0 1 0-50 1 16 0 4 0 8 0 2 0 6 0 2 0 1 0 3 0 4 0 1 0 1 0-47 1 16 0 1 0 2 0 5 0 4 0 4 0 3 0 2 0 2 0 1 0 5 0 4 0-34 1 2 0 5 0 1 0 1 0 2 0 2 0 4 0 3 0 11 0 1 0-31 1 1 0 2 0 2 0 2 0 6 0 1 0 5 0 2 0-18 1 1 0 1 0 1 0 5 0 2 0 4 0 2 0 2 0 1 0 4 0 3 0-44 1 2 0 4 0 12 0 2 0 1 0 1 0 1 0 4 0 13 0 7 0-6 1-22 1 3 0 3 0 1 0 14 0 6 0 5 0-54 1 42 0 5 0 2 0 1 0 4 0-52 1 32 0 16 0-49 1 23 0 3 0 14 0 3 0 2 0 4 1-53 1-2 1 4 0 7 0-2 1 2 0-4 1 2 1-9 1 7 0 6 1-4 1-10 1-3 4 6 3-5 1 5 1-5 1-4 2 1 0 1 0 2 0 3 1-6 1-2 1 2 0 0 1 2 0 4 0 2 0-8 2 2 0 2 0-3 1 4 0 1 0-2 1-5 2 3 2 3 0-7 1 4 1 1 0-3 1 1 0 3 0 1 2 3 0-5 1-5 1 0 2 1 0 4 0 1 0 1 0 1 0-3 2 5 0-15 2 4 0 1 0 1 0 7 0-6 1 5 0-4 1-8 1 5 0 7 0-9 1 7 0 1 0 1 0-4 1 5 0-9 3 3 0 1 1-8 1 10 0-6 1 5 0 68 0-71 1 3 0-2 1 1 1-6 1 3 1 1 0 1 0 0 1 2 0-7 2 1 0 1 0 3 0 4 0-5 1 3 0 3 0-8 1 4 0 1 0-6 1 1 0 4 0 2 0 69 0-75 1 1 1 75 0-72 1 2 0 69 1-73 1 68 0-71 1 3 0 1 0 77 0-80 1 4 0 3 0 68 0 2 0-73 1 0 1 67 0 4 0 5 0-79 1-1 1 4 0 66 0 1 0 2 0-73 1 75 0-76 1 1 0 4 0 65 0 13 0-87 1 1 0 4 0 6 0 67 0 4 0-81 1 1 0 1 0 1 0 2 0 3 0 67 0 1 0 1 0 3 0 6 0-79 1 63 0 2 0 3 0 1 0 1 0 3 0 6 0-86 1 3 0 2 0 1 0 72 0 6 0-76 1 1 0 62 0 7 0-77 1 3 0 66 0 2 0 14 0 2 0-87 1 2 0 3 0 4 0 60 0 3 0 13 0 1 0 2 0-90 1 1 0 2 0 3 0 1 0 2 0 1 0 2 0 62 0 15 0-86 1 3 0 1 0 1 0 64 0 1 0 3 0-75 1 2 0 3 0 1 0 62 0 16 0 1 0 2 0-87 1 6 0 3 0 61 0 1 0 1 0 2 0-73 1 1 0 3 0 5 0 61 0-64 1 1 0 1 0 64 0 8 0 1 0 1 0 3 0-84 1 3 0 1 0 1 0 1 0 67 0 9 0 2 0 2 0-79 1 2 0 60 0 7 0 2 0-79 1 4 0 3 0 63 0 1 0 4 0 0 1-73 1 1 0 3 0 4 0 1 0 59 0 2 0 3 0 2 0 1 0-73 1 1 0 3 0 61 0 2 0 1 0 1 0 2 0-74 1 6 0 2 0 68 0-75 1 1 0 2 0 1 0 69 0-76 1 2 0 1 0 2 1 3 0 66 0-71 1 64 0-51 2-6 1 2 0-1 2 3 0 2 0-5 1-2 1 1 0 1 0 1 0 5 0-10 1 2 0 5 0-6 1 3 0 3 0-8 1 2 0 4 0 1 0 1 0-12 1 5 0 3 0 3 0-7 1 2 0 3 0 1 0 2 0 1 0-6 1 3 0 3 0 2 0-15 1 10 0-10 1 12 0 3 0-3 1 0 1-15 1 2 0 12 0 2 0 2 0-15 1 12 1 1 0-14 1 14 0-15 1 0 1 15 0-15 1 15 0-4 1 1 0 3 0-16 1 2 0-3 1 13 0 3 0-15 2 1 0 11 0 1 0-12 1 10 1-1 1 3 0-1 1 3 0-16 1 11 0-2 1 1 0-5 1 7 0-11 1 2 0 1 0 7 0 1 0-11 1 1 0-1 1 1 0 1 0 3 0 1 0-7 1 1 0 2 0 4 0-5 1 4 0 2 0-6 1 4 0 3 0-3 1-1 1 5 0" marker-start="url(#j3)" marker-mid="url(#j3)" marker-end="url(#j3)"/><path d="m1078 214-4 2 10 0 16 0-20 2 2 0 2 0 8 0 2 0-12 2 6 0 2 0-16 2 2 0 6 0 6 0 2 0 4 0-24 2 6 0 2 0 12 0 2 0 2 0 8 0-34 2 6 0 2 0 2 0 8 0 2 0 2 0 4 0 2 0 6 0 2 0-50 2 16 0 4 0 2 0 2 0 4 0 2 0 4 0 2 0 2 0 6 0-44 2 6 0 10 0 2 0 2 0 2 0 4 0 4 0 2 0 2 0 4 0 4 0 4 0-28 2 6 0 4 0 6 0 12 0-22 2 18 0-36 6-8 2 4 2-10 4 0 12 0 2 2 0-2 10-4 2 4 2-4 6 0 14 0 2 0 2-2 2-4 2 2 2 2 0 2 0-2 4 0 8 2 0-6 2 2 0 2 0 70 0 2 0 4 0 2 0-80 2 2 0 2 0 68 0 2 0 4 0 4 0-84 2 2 0 2 0 66 0 2 0 2 0 2 0 2 0 2 0 2 0 2 0 4 0-88 2 70 0 2 0 2 0 2 0 2 0 2 0 2 0 2 0 4 0-86 2 2 0 66 0 2 0 2 0 4 0 2 0 2 0 2 0 2 0-86 2 2 0 2 0 2 0 64 0 4 0 4 0 2 0 2 0 2 0-82 2 2 0 2 0 2 0 64 0 2 0 2 0 2 0 2 0 2 0-82 2 4 0 4 0 62 0 4 0 2 0 2 0 4 0-80 2 2 0 4 0 60 0 6 0 2 0-76 2 4 0 2 0 4 0 64 0-72 2 2 0 2 0 2 0 66 0-70 2 2 0-2 2 2 0 6 6 2 0-8 2 4 0 4 0-8 2 2 0 2 0 2 0 2 0-10 2 2 0 2 0 2 0 4 0-10 2 2 0 2 0 2 0 2 0-10 2 2 0 8 0-10 2-2 2 2 0 2 0 10 0-12 2 2 0 6 0 2 0-12 2 2 0 10 0 2 0-14 2 10 0 2 0 2 0-14 2 10 0 2 0-14 2 2 0 2 0 6 0 2 0-2 2 2 0-8 2 2 0 2 0 4 0-10 2 2 0 2 0 2 0 2 0-6 2 2 0 2 0 2 0 2 0-14 2 4 0 2 0 2 0 2 0-4 2 2 0" marker-start="url(#j4)" marker-mid="url(#j4)" marker-end="url(#j4)"/><path d="m1090 220-20 4 12 0 12 0-18 2-2 2-2 2 4 0 28 4-64 86 72 2 2 0-6 2 2 0 4 0 6 0-10 2 2 0 2 0 2 0 2 0-6 2 2 0 2 0 4 0-80 2 68 0 2 0 2 0 2 0 2 0-72 2 64 0 2 0 2 0 4 0 2 0-80 2 68 0 2 0 2 0 4 0 2 0-8 2 4 0-68 2 66 0-70 2 2 0 4 10-2 4 2 0 2 0-8 2 6 0 2 0-8 2 2 0 2 0 2 0 2 0 2 0-12 2 2 0 6 0 2 0-10 2 2 0 4 0 2 0 2 0 2 0-12 2 2 0 6 0-8 2 2 0 4 0 2 0 2 0-12 2 2 0 2 0 6 0 2 0-10 2 2 0 4 0 2 0-8 2 2 0 2 0 2 0 2 0 2 0-10 2 4 0 2 0 2 0-10 2 2 0 6 0-8 2 2 0 2 0 2 0 2 0 2 0-8 2 2 0-2 2 2 0 2 0-4 4" marker-start="url(#j5)" marker-mid="url(#j5)" marker-end="url(#j5)"/><path d="m1078 228 34 96 2 0-6 2 4 0 4 0 2 0-6 2 2 0 4 0-8 2 2 0 2 0 2 0-6 2 2 0 2 0-74 8 4 14 0 2 2 0-4 2 2 0 2 0-6 2 2 0 4 0 4 0-10 2 2 0 4 0 2 0-10 2 8 0 2 0-12 2 2 0 2 0 4 0 2 0 2 0-10 2 4 0 4 0-10 2 2 0 2 0 2 0 2 0 2 0 2 0-12 2 2 0 2 0 2 0 2 0 2 0-8 2 2 0 2 0 4 0-10 2 2 0 2 0 2 0 2 0-6 2 2 0 2 0-6 2 2 0 4 0 2 2" marker-start="url(#j6)" marker-mid="url(#j6)" marker-end="url(#j6)"/><path d="m1112 324 0 2 4 0-2 2-4 2 4 0 2 0-6 2 6 0-70 24-2 2-4 2 2 0 2 0 2 0-8 2 2 0 2 0 2 0 2 0-6 2 2 0 2 0 2 0 2 0-10 2 2 0 2 0 2 0 2 0-8 2 2 0 2 0 2 0 2 0-6 2 2 0 2 0 2 0-8 2 2 0 2 0 2 0-6 2 2 0 2 0-4 2 2 0 0 2 2 0" marker-start="url(#j7)" marker-mid="url(#j7)" marker-end="url(#j7)"/><path d="m1114 328 2 0-6 2 2 0-68 26-2 2 2 0-4 2 2 0 2 0 2 0 2 0-8 2 2 0 2 0 2 0-8 2 2 0 2 0 2 0 2 0-8 2 2 0 2 0 2 0 2 0-8 2 2 0 2 0 2 0-4 2 2 0 2 0-4 2 2 0 2 0-6 2 2 0 2 0 2 0-4 2 2 0" marker-start="url(#j8)" marker-mid="url(#j8)" marker-end="url(#j8)"/></g><rect x="994.9" y="132" width="353.1" height="320" fill="none" stroke="#8c8c8c" stroke-width="1.5"/><path d="M1017.2 186.5L1116.6 185.1L1111.4 309.6L1019.4 346.6Z" fill="none" stroke="#000" stroke-width="2.2" stroke-linejoin="miter"/><path d="M1116.6 185.1L1338.5 166.6L1336.6 401.6L1137.8 416.6" fill="none" stroke="#000" stroke-width="2.2" stroke-linejoin="miter"/><path d="M1111.4 309.6L1130.5 316.6L1126.1 401.6" fill="none" stroke="#000" stroke-width="2.2" stroke-linejoin="miter"/><path d="M1019.4 346.6L1018.6 434.3" fill="none" stroke="#000" stroke-width="2.2" stroke-linejoin="miter"/><path d="M1076 326L1076 420.6L1090 420.6" fill="none" stroke="#000" stroke-width="2.2" stroke-linejoin="miter"/><text x="1123" y="123.1" font-size="30.1" textLength="109.7" lengthAdjust="spacingAndGlyphs" fill="#000">Control</text><text x="1058.4" y="174.2" font-size="21.3" textLength="50" lengthAdjust="spacingAndGlyphs" fill="#000">38.8</text><text x="1249.8" y="392" font-size="21.3" textLength="49.7" lengthAdjust="spacingAndGlyphs" fill="#000">3.63</text><text x="1019.2" y="430.2" font-size="21.3" textLength="49.7" lengthAdjust="spacingAndGlyphs" fill="#000">37.2</text><text x="1091.6" y="430.2" font-size="21.3" textLength="47.3" lengthAdjust="spacingAndGlyphs" fill="#000">19.5</text><path d="M977.4 345.5V469.7H1081.7" stroke="#000" stroke-width="4.5" fill="none" stroke-linejoin="miter"/><path d="M977.4 333.5l7 13h-14z" fill="#000"/><path d="M1093.7 469.7l-13 7v-14z" fill="#000"/><text transform="translate(959.2 423.4) rotate(-90)" x="-1.6" y="0" font-size="26" font-weight="bold" textLength="46.6" lengthAdjust="spacingAndGlyphs" fill="#000">EdU</text><text x="996" y="506.4" font-size="23.8" font-weight="bold" textLength="58.3" lengthAdjust="spacingAndGlyphs" fill="#000">DAPI</text><g fill="none" stroke="none"><path d="m1581 178 2 0-26 2 9 3 8 0 18 1-13 1-53 1-21 1 53 0 3 0-137 3 116 0 10 0 38 0-65 1 55 0 57 0 11 0-101 1 5 0 24 0 13 0 3 0-9 1 1 0 26 0-87 1 37 0 33 0 13 1 39 0-204 1 88 0 47 0 8 0 24 0-162 1 93 0 35 0 59 0-109 1 19 0 4 0 71 0-94 1 117 0 3 0-226 1 88 0 50 0 4 0 7 0 8 0 12 0 19 0 34 0-141 1 10 0 9 0 9 0 5 0 15 0 22 0 21 0-30 1 5 0 16 0-42 1 9 0 21 0 5 0-25 1 28 0 24 0 31 0-171 1 9 0 47 0 34 0 19 0 23 0 4 0 1 0 43 0 22 0-134 1 12 0 26 0 4 0 4 0 27 0 19 0 2 0 44 0-156 1 16 0 2 0 5 0 23 0 30 0-150 1 58 0 36 0 29 0 32 0 7 0 3 0 1 0 24 0 15 0-125 1 5 0 17 0 10 0 15 0 1 0 4 0 4 0 10 0 43 0 20 0-203 1 88 0 36 0 24 0 5 0-85 1 28 0 17 0 23 0 2 0 14 0 6 0 12 0 50 0-156 1 3 0 29 0 17 0 6 0 16 0 5 0 18 0 16 0-157 1 44 0 25 0 18 0 23 0 1 0 15 0 20 0 21 0-165 1 2 0 50 0 8 0 16 0 27 0 21 0 15 0 2 0 28 0-180 1 56 0 57 0 10 0 17 0 7 0 5 0 6 0-181 1 8 0 3 0 4 0 1 0 67 0 4 0 12 0 6 0 5 0 3 0 4 0 37 0 1 0 37 0 42 0-243 1 91 0 18 0 3 0 12 0 7 0 19 0 3 0 21 0 12 0 30 0-194 1 18 0 38 0 50 0 7 0 19 0 14 0 4 0 22 0-186 1 20 0 10 0 4 0 2 0 9 0 65 0 39 0 2 0 13 0-139 1 7 0 52 0 10 0 22 0 14 0 5 0 5 0 10 0 10 0 7 0 3 0 2 0 5 0 12 0 5 0 6 0-183 1 4 0 18 0 1 0 13 0 10 0 18 0 9 0 8 0 14 0 19 0 6 0 3 0 5 0 2 0 25 0-166 1 1 0 5 0 5 0 11 0 70 0 19 0 6 0 31 0 15 0 10 0 11 0 4 0-194 1 11 0 2 0 11 0 7 0 5 0 23 0 21 0 4 0 19 0 12 0 6 0 7 0 25 0 10 0 4 0 28 0 6 0 4 0 8 0 1 0 2 0-248 1 53 0 1 0 3 0 6 0 4 0 7 0 25 0 48 0 9 0 5 0 3 0 3 0 9 0 26 0 33 0-247 1 99 0 7 0 1 0 12 0 15 0 1 0 19 0 15 0 1 0 23 0 8 0 17 0 1 0 4 0 3 0 4 0 4 0 7 0 18 0 13 0-227 1 2 0 12 0 1 0 6 0 13 0 14 0 1 0 2 0 7 0 3 0 22 0 25 0 6 0 29 0 3 0 82 0 18 0-226 1 8 0 62 0 30 0 9 0 6 0 16 0 9 0 2 0 12 0 21 0 1 0 14 0-218 1 2 0 1 0 42 0 11 0 10 0 15 0 11 0 4 0 20 0 31 0 7 0 12 0 8 0 16 0 42 0-229 1 8 0 9 0 13 0 6 0 31 0 5 0 12 0 21 0 5 0 16 0 16 0 74 0 2 0 4 0 10 0 24 0-269 1 4 0 14 0 60 0 12 0 7 0 15 0 8 0 20 0 8 0 17 0 6 0 1 0 14 0 1 0 46 0 8 0-217 1 15 0 18 0 25 0 11 0 7 0 7 0 1 0 1 0 14 0 7 0 12 0 50 0 11 0 22 0 16 0-236 1 6 0 1 0 18 0 13 0 13 0 21 0 31 0 24 0 11 0 18 0 12 0 28 0 2 0-210 1 35 0 1 0 3 0 6 0 28 0 8 0 12 0 1 0 29 0 22 0 36 0 15 0 40 0 7 0-226 1 6 0 56 0 5 0 35 0 7 0 65 0 2 0 11 0 41 0-229 1 14 0 4 0 25 0 49 0 5 0 8 0 13 0 35 0 1 0 27 0 5 0 25 0-200 1 3 0 33 0 19 0 7 0 10 0 9 0 23 0 5 0 7 0 1 0 17 0 3 0 18 0 11 0 23 0 5 0 17 0-113 1 13 0 4 0 12 0 3 0 9 0 3 0 5 0 2 0 11 0 20 0 10 0 3 0 17 0 8 0 20 0-247 1 38 0 48 0 12 0 26 0 6 0 13 0 3 0 6 0 4 0 12 0 2 0 3 0 28 0 17 0-214 1 4 0 11 0 23 0 5 0 16 0 11 0 28 0 7 0 22 0 39 0 25 0 9 0 14 0 1 0 19 0-179 1 6 0 14 0 22 0 9 0 6 0 36 0 103 0-259 1 6 0 11 0 27 0 27 0 16 0 25 0 9 0 26 0 3 0 4 0 4 0 23 0 38 0-231 1 81 0 2 0 20 0 2 0 4 0 33 0 8 0 15 0 29 0 12 0 20 0-229 1 14 0 5 0 4 0 79 0 3 0 26 0 37 0 5 0 35 0 4 0 6 0 13 0-225 1 24 0 1 0 39 0 56 0 8 0 11 0 13 0 63 0 3 0 16 0-228 1 5 0 5 0 14 0 43 0 10 0 49 0 1 0 13 0 13 0 5 0 11 0 11 0 10 0 53 0 19 0-247 1 7 0 36 0 9 0 73 0 34 0 26 0 4 0 1 0 30 0 3 0 1 0-241 1 74 0 6 0 19 0 17 0 19 0 16 0 32 0 34 0 4 0 22 0-244 1 23 0 36 0 25 0 1 0 10 0 6 0 3 0 14 0 21 0 5 0 6 0 26 0 14 0 12 0 11 0 13 0 2 0 5 0-236 1 4 0 2 0 1 0 9 0 60 0 9 0 12 0 59 0 15 0 13 0 4 0 21 0 1 0 23 0 5 0 30 0 9 0-282 1 6 0 16 0 108 0 9 0 22 0 8 0 11 0 4 0 5 0 12 0 15 0 24 0-226 1 18 0 38 0 9 0 31 0 25 0 37 0 7 0 18 0 8 0 3 0 15 0 35 0-240 1 15 0 44 0 15 0 1 0 30 0 6 0 14 0 11 0 73 0 4 0-228 1 64 0 4 0 16 0 18 0 18 0 16 0 4 0 5 0 5 0 5 0 8 0 33 0 9 0 4 0-191 1 57 0 4 0 16 0 9 0 15 0 12 0 15 0 29 0 30 0 9 0 10 0 11 0-225 1 3 0 5 0 74 0 16 0 11 0 70 0 2 0 5 0 5 0 1 0 33 0 4 0-193 1 53 0 63 0 4 0 7 0 7 0 15 0 21 0 11 0 1 0-213 1 7 0 47 0 10 0 3 0 57 0 7 0 7 0 3 0 21 0 3 0 9 0 10 0 2 0 21 0 14 0 9 0 5 0-221 1 55 0 20 0 22 0 9 0 6 0 5 0 5 0 6 0 9 0 23 0 9 0 5 0 5 0 34 0-220 1 6 0 37 0 7 0 7 0 26 0 55 0 19 0 28 0 26 0 18 0-230 1 45 0 5 0 3 0 13 0 40 0 32 0 6 0 26 0 7 0 9 0 20 0 5 0 7 0-173 1 37 0 30 0 16 0 4 0 26 0 13 0 7 0 13 0 22 0 6 0-229 1 45 0 89 0 9 0 11 0 67 0-226 1 12 0 121 0 3 0 21 0 14 0 39 0 8 0-208 1 22 0 15 0 13 0 5 0 10 0 58 0 9 0 6 0 12 0 8 0 27 0 2 0 20 0-225 1 3 0 10 0 61 0 2 0 17 0 1 0 35 0 5 0 23 0 5 0 7 0 7 0 2 0 7 0 1 0 21 0 2 0 18 0 12 0 3 0-238 1 2 0 2 0 8 0 1 0 6 0 82 0 32 0 12 0 42 0 22 0 4 0-202 1 54 0 78 0 84 0 4 0-212 1 4 0 35 0 79 0 12 0 1 0 7 0 9 0 20 0 12 0 14 0 20 0 18 0-249 1 63 0 3 0 67 0 3 0 19 0 4 0 4 0 20 0 18 0 3 0 24 0 6 0-241 1 10 0 12 0 115 0 13 0 25 0 18 0 8 0 12 0 11 0 7 0-217 1 5 0 60 0 5 0 97 0 3 0 2 0 29 0 7 0 5 0 1 0 18 0-243 1 89 0 52 0 32 0 21 0 4 0-121 1 2 0 13 0 48 0 14 0 5 0 2 0 8 0 6 0 4 0 39 0 4 0 18 0 18 0-257 1 2 0 1 0 2 0 2 0 58 0 4 0 20 0 4 0 44 0 19 0 7 0 8 0 11 0 15 0 5 0 9 0-198 1 67 0 67 0 5 0 9 0 25 0 15 0 25 0 6 0 1 0 3 0 11 0 8 0-258 1 13 0 4 0 73 0 56 0 5 0 1 0 62 0 15 0 1 0-223 1 52 0 124 0 41 0 8 0-232 1 19 0 53 0 68 0 5 0 12 0 12 0 7 0 11 0 10 0 6 0 11 0 13 0-217 1 67 0 23 0 50 0 58 0 41 0-175 1 88 0 7 0 5 0 2 0 24 0 3 0 13 0 24 0-223 1 56 0 8 0 3 0 67 0 29 0 11 0 4 0 31 0 5 0 13 0 21 0-261 1 65 0 80 0 23 0 8 0 9 0 7 0 12 0 18 0 16 0-241 1 1 0 19 0 1 0 49 0 10 0 47 0 22 0 17 0 24 0 10 0 11 0 8 0 27 0-243 1 45 0 17 0 66 0 19 0 33 0 4 0 11 0 28 0 8 0 2 0 6 0-239 1 13 0 62 0 10 0 42 0 9 0 19 0 1 0 7 0 3 0 15 0 2 0 9 0 18 0 11 0 21 0-251 1 88 0 54 0 2 0 11 0 10 0 17 0 1 0 36 0 16 0 24 0-250 1 64 0 50 0 67 0 17 0 30 0-155 1 5 0 4 0 39 0 52 0 38 0 8 0 3 0 9 0-226 1 35 0 33 0 70 0 12 0 3 0 4 0 10 0 18 0 20 0 6 0-227 1 9 0 77 0 49 0 7 0 6 0 11 0 4 0 24 0 3 0 4 0 4 0 14 0 1 0 2 0 4 0 4 0-210 1 6 0 114 0 23 0 7 0 7 0 36 0 6 0 14 0 21 0-232 1 4 0 3 0 25 0 41 0 7 0 35 0 30 0 6 0 2 0 13 0 3 0 40 0 4 0 11 0 3 0-156 1 56 0 38 0 12 0 6 0 2 0 3 0 30 0 6 0-227 1 9 0 60 0 73 0 41 0 19 0 3 0 23 0-216 1 1 0 44 0 18 0 49 0 2 0 6 0 13 0 20 0 3 0 3 0-175 1 1 0 2 0 3 0 70 0 3 0 73 0 9 0 27 0 9 0 8 0 12 0-203 1 57 0 66 0 6 0 14 0 33 0-201 1 4 0 26 0 32 0 123 0 22 0 40 0-224 1 2 0 4 0 126 0 29 0 10 0 12 0 3 0 5 0 10 0 2 0 33 0-240 1 14 0 51 0 58 0 19 0 8 0 11 0 21 0 34 0 1 0-216 1 1 0 156 0 1 0 1 0 7 0 39 0-210 1 70 0 73 0 20 0 12 0 16 0 16 0 15 0-225 1 5 0 9 0 64 0 47 0 2 0 3 0 15 0 42 0 18 0 7 0-215 1 10 0 2 0 5 0 120 0 4 0 1 0 8 0 7 0 23 0-181 1 3 0 7 0 12 0 92 0 19 0 4 0 16 0 9 0 23 0 16 0-186 1 7 0 51 0 71 0 20 0 18 0 9 0 17 0 37 0-228 1 48 0 4 0 99 0 14 0 24 0 9 0-210 1 6 0 5 0 53 0 11 0 37 0 23 0 32 0 5 0 5 0 14 0-185 1 12 0 12 0 109 0 15 0 32 0 49 0-219 1 51 0 54 0 3 0 18 0 8 0 17 0 3 0 16 0-70 1 17 0 5 0 30 0 52 0 9 0 30 0-256 1 60 0 2 0 64 0 1 0 5 0 1 0 18 0 37 0 13 0-203 1 62 0 49 0 7 0 8 0 7 0 24 0 82 0-260 1 20 0 5 0 8 0 44 0-57 1 128 0 5 0 2 0 21 0 43 0-204 1 65 0 51 0 8 0 14 0 7 0 4 0 11 0 23 0 1 0 3 0 10 0-199 1 10 0 17 0 49 0 47 0 24 0 24 0 4 0 5 0 3 0 18 0-183 1 51 0 48 0 10 0 16 0 19 0 34 0-188 1 24 0 31 0 3 0 56 0 5 0 11 0 36 0 70 0-238 1 9 0 5 0 3 0 54 0 98 0 3 0-170 1 2 0 58 0 10 0 40 0 11 0 4 0 2 0 1 0 72 0-207 1 3 0 16 0 101 0 26 0 24 0 31 0 8 0-199 1 9 0 8 0 34 0 59 0 19 0 73 0-195 1 47 0 52 0 5 0 9 0 8 0-68 1 45 0 60 0-166 1 99 0 9 0 17 0 74 0-208 1 9 0 4 0 9 0 4 0 42 0 53 0-120 1 18 0 3 0 4 0 37 0 59 0-111 1 114 0-119 1 5 0 4 0 29 0 19 0 36 0 11 0 2 0 23 0 87 0-171 1 54 0 4 0 8 0 30 0-134 1 45 0 6 1 37 0 21 0 84 0-59 1 4 0 29 0-130 1 17 0 2 0 37 0-49 1 16 0 33 0 3 1-77 1 29 0 36 0 3 0 129 0-236 1 36 0 4 0 24 0 110 0 70 0-164 1 26 0-53 1 57 0-77 1 7 0 6 0 57 0-73 1 1 0 6 0 1 0 22 0 42 0-57 1 5 0-8 1 7 0 26 0-31 1 1 0 67 0-84 1 21 0 20 0 1 0 28 0 1 0 156 0-225 1 7 0 2 0 33 0 8 0 13 0 6 0-87 1 30 0 30 0 22 0 16 0 74 0 12 0 88 0-241 1 22 0 3 0 1 0-39 1 71 0 5 0-78 1 14 0 13 0 9 0 40 0-48 1 16 0-47 1 44 0 32 0 9 0 155 0-225 1 7 0 26 0 2 0 21 0 7 0 7 0-104 1 13 0 25 0 50 0 7 0 117 0 37 0-233 1 57 0-16 1 35 0-55 1 25 0 2 0 2 0 13 0-95 1 98 0 6 0-69 1-10 1 27 0 28 0 163 0-211 1 49 0 14 0-11 1 4 0 5 0 2 0-64 1 2 0 12 0 6 0 36 0 8 0-64 1 39 0-42 1 162 0-106 1 12 0 5 0 6 0-50 1-31 1 2 0 40 0 158 0-203 1 19 0 1 0 45 1-72 1 7 0 2 0 18 0 25 0 129 0 71 0 12 0-256 2 208 0-191 1 6 0 199 0 21 0-163 2 6 0 122 0-195 1 118 1-10 1-117 1 5 0 54 0 41 0 12 0-121 1 101 0-108 1 198 0-178 1 5 0 5 0-25 1 2 0 11 0 33 0 52 0-103 1 1 1 270 0-251 1 177 0-178 2 46 1 9 0 162 0-228 1 7 0 4 0 46 0 197 0-124 1-124 1 65 0 14 0 131 0-228 1 22 1 71 1 115 0-152 1 210 0 8 0" marker-start="url(#j0)" marker-mid="url(#j0)" marker-end="url(#j0)"/><path d="m1388 190 190 0 3 1-13 4 1 2 22 1-26 1 73 1-66 3-23 3 28 0-73 2 22 0 43 1 6 0-24 1 6 0 25 0-43 1 18 0 9 0-36 1 2 0 16 0 17 0 16 0 18 0-69 1 29 1-30 1 26 0 1 0-108 1 64 0 30 0 40 0 9 0 15 0-158 1 63 0 41 0 55 0 3 0 7 0-105 1 46 0 11 0 13 0 22 0-160 1 51 0 15 0 69 0 13 0 18 0-182 1 27 0 12 0 97 0 47 0 1 0 13 0-181 1 10 0 63 0 17 0 32 0 14 0 18 0 15 0-159 1 84 0 8 0 7 0 14 0 45 0-183 1 2 0 27 0 7 0 101 0 32 0-168 1 12 0 3 0 12 0 131 0-156 1 3 0 49 0 65 0 22 0-112 1 36 0 32 0 12 0 56 0-155 1 58 0 26 0 25 0 11 0 2 0 8 0 25 0 5 0-169 1 3 0 65 0 19 0 44 0-127 1 4 0 8 0 50 0 31 0 24 0 6 0 8 0 40 0-176 1 27 0 2 0 29 0 13 0 61 0 4 0 18 0 8 0-170 1 28 0 97 0 23 0 3 0 7 0-154 1 77 0 2 0 3 0 11 0 63 0 35 0 1 0-180 1 163 0-178 1 5 0 4 0 20 0 5 0 88 0 35 0 14 0 8 0 1 0 12 0 1 0-190 1 33 0 40 0 6 0 54 0 24 0-164 1 82 0 3 0 7 0 11 0 29 0 30 0 36 0 3 0 17 0-203 1 73 0 39 0 3 0 1 0 11 0 42 0 17 0-196 1 2 0 8 0 68 0 12 0 20 0 4 0 9 0 2 0 24 0 4 0 1 0 18 0 7 0 32 0-213 1 89 0 2 0 37 0 29 0 11 0 7 0-172 1 73 0 8 0 21 0 26 0 31 0 10 0-180 1 19 0 83 0 8 0 29 0 31 0 15 0 3 0 27 0-208 1 1 0 5 0 66 0 1 0 4 0 21 0 4 0 79 0 8 0 5 0 18 0-135 1 15 0 19 0 18 0 23 0 4 0 4 0 11 0 7 0-169 1 69 0 20 0 14 0 13 0 38 0-162 1 76 0 4 0 14 0 5 0 3 0 1 0 19 0 12 0 47 0 25 0-108 1 8 0 8 0 7 0 39 0 26 0 1 0 10 0-195 1 72 0 1 0 9 0 5 0 9 0 28 0 5 0-75 1 15 0 6 0 21 0 62 0 41 0-136 1 28 0 24 0 1 0 5 0 10 0 17 0 1 0 11 0 3 0 38 0-210 1 99 0 2 0 9 0 3 0 27 0 17 0 12 0 5 0 13 0 11 0 13 0 10 0-225 1 99 0 17 0 16 0 10 0 11 0 7 0 4 0 5 0 1 0 14 0 38 0-225 1 2 0 5 0 92 0 21 0 39 0 7 0 54 0 1 0 6 0-225 1 6 0 51 0 18 0 30 0 16 0 26 0 26 0 8 0 1 0 25 0 15 0 2 0 2 0-233 1 11 0 1 0 7 0 80 0 13 0 1 0 4 0 9 0 8 0 6 0 25 0 4 0 21 0 10 0 34 0-211 1 111 0 13 0 5 0 3 0 2 0 20 0 11 0 4 0 19 0 4 0 12 0 4 0-216 1 94 0 2 0 19 0 31 0 23 0 30 0 26 0-140 1 46 0 40 0 1 0 17 0 9 0-198 1 74 0 3 0 3 0 1 0 34 0 2 0 21 0 61 0 2 0 2 0-209 1 1 0 4 0 78 0 7 0 3 0 10 0 4 0 2 0 40 0 15 0 12 0 2 0 5 0 32 0-144 1 27 0 10 0 3 0 3 0 58 0 4 0 18 0 9 0 4 0 2 0-209 1 3 0 11 0 55 0 3 0 10 0 26 0 8 0 4 0 3 0 10 0 34 0 9 0 20 0-191 1 51 0 7 0 3 0 1 0 7 0 21 0 7 0 3 0 2 0 15 0 7 0 7 0 13 0 11 0 16 0 22 0 6 0-145 1 2 0 39 0 4 0 91 0 10 0 5 0 5 0-127 1 25 0 36 0 44 0 19 0 7 0-216 1 11 0 49 0 6 0 7 0 2 0 7 0 28 0 11 0 9 0 70 0-120 1 7 0 10 0 4 0 56 0 22 0-123 1 19 0 17 0 3 0 20 0 3 0 11 0 1 0 12 0 3 0 15 0 18 0-187 1 72 0 5 0 11 0 11 0 6 0 10 0 14 0 7 0 33 0 16 0 11 0 12 0-205 1 72 0 3 0 14 0 3 0 5 0 5 0 11 0 10 0 13 0 13 0 18 0 3 0 10 0 18 0 7 0-210 1 80 0 5 0 23 0 9 0 13 0 53 0 9 0 2 0 11 0 33 0-226 1 71 0 35 0 17 0 8 0 31 0 20 0 2 0-195 1 93 0 36 0 26 0 16 0 15 0 8 0 2 0 42 0-155 1 17 0 24 0 60 0 4 0 8 0-101 1 31 0 30 0 10 0 2 0 17 0 50 0-158 1 7 0 3 0 3 0 43 0 52 0 1 0 15 0-188 1 63 0 5 0 8 0 52 0 12 0 33 0 4 0-179 1 108 0 17 0 6 0 62 0-203 1 73 0 8 0 11 0 21 0 31 0 7 0 5 0 8 0 20 0 41 0-224 1 9 0 76 0 39 0 1 0 83 0 16 0-219 1 75 0 8 0 65 0 37 0 8 0 15 0 7 0-222 1 3 0 1 0 5 0 76 0 45 0 10 0 31 0 42 0 19 0-231 1 4 0 2 0 108 0 24 0 1 0 10 0 13 0 39 0 13 0-93 1 1 0 2 0 14 0 2 0 11 0-146 1 76 0 19 0 48 0 1 0 19 0 2 0 17 0 9 0 8 0-196 1 80 0 49 0 16 0 9 0 2 0 21 0-184 1 6 0 87 0 29 0 15 0 15 0 42 0 7 0 2 0 16 0-214 1 4 0 1 0 104 0 2 0 50 0 9 0-170 1 91 0 18 0 12 0 2 0 7 0 2 0 2 0 27 0 47 0 6 0-220 1 78 0 4 0 11 0 30 0 8 0 8 0 5 0 9 0 5 0 14 0-61 1 17 0 3 0 9 0-137 1 3 0 68 0 1 0 11 0 21 0 21 0 15 0 28 0 5 0 46 0-212 1 110 0 15 0 6 0 5 0 9 0 2 0 22 0 1 0 1 0-180 1 111 0 3 0 2 0 4 0 13 0 85 0-100 1 7 0 1 0 66 0 33 0-154 1 45 0 90 0-198 1 121 0 4 0 4 0 3 0 2 0 14 0 1 0 34 0-115 1 37 0 4 0 1 0 9 0 16 0-26 1 15 0 2 0-57 1 34 0 1 0 6 0 2 0 21 0 17 0-82 1 38 0 13 0 12 0 22 0 27 0 7 0-187 1 64 0 32 0 15 0 4 0 16 0-133 1 3 0 59 0 4 0 47 0-5 1 5 0 18 0-143 1 1 0 83 0 27 0 6 0 16 0 34 0 12 0-175 1 15 0 55 0 38 0 1 0 4 0 3 0 28 0-73 2 40 0 9 0 5 0 41 0-147 1 85 0 12 0 4 0 13 0 22 0 22 0-114 1 8 0 44 0 5 0 47 0-172 1 16 0 59 0 38 0 1 0 1 0 22 0-127 1 1 0 113 0 12 0 23 0-149 1 114 0 3 0 1 0-116 1 67 0 41 0 24 0 1 0-131 1 51 0 54 0 1 0 57 0-166 1 3 0 60 0 54 0-126 1 66 0 11 0 49 0-21 1 7 0 13 0 3 0 28 0-148 1 102 0-42 1 42 0 7 0 7 0-56 1 39 0 3 0 7 0-53 1 6 1-1 2-66 1 2 0 12 0 45 0 2 0 38 0 6 0-104 1 1 0 64 0-65 1 7 0 1 0 86 1-26 1 5 0-73 1 62 0 1 0 7 0-5 1 26 0-27 1 26 0-1 1 22 0-98 1 43 0 8 0 4 0-3 1 3 0-3 1 5 0-9 1 4 0 19 0 20 0-80 1 40 0 20 0 4 0-65 1 41 1 16 0 7 0-32 1 6 0 23 0 4 0-64 1 2 0 30 0 1 0 3 0-37 1 8 0 47 0-60 1 42 0 20 0-64 1 41 0 19 0-55 1 6 0 57 0 3 0-24 1 18 0-16 1-42 1 3 0 40 0 10 0 7 0-65 1 1 0 64 0 5 0-64 1 1 0 36 0 10 0 3 0-10 1 8 0 2 0-49 1 2 0 37 0 14 0-66 1 5 0 6 0 4 0 35 0-43 1 6 0 2 0-18 1 17 0 49 0 2 0-68 1 47 0 1 0 10 0 9 0-65 1 10 0 45 0 2 0-49 1 36 0 15 0 3 0-61 1 7 0 48 0-58 1 15 0 47 0-63 1 14 0 42 0 3 0-6 1 6 0-54 1 66 0-60 1 46 0-44 1-13 2 5 0 5 0-1 2-9 1-9 1 11 0-6 2 14 0-6 1 3 0 1 0-23 1 3 0 4 0 4 0 4 1-5 1 5 0 3 0-16 1 13 0 5 0-20 1 4 0 2 0 3 0-6 1 8 1-2 1 1 1 2 1-8 1 2 0 9 0-19 1 14 0-11 1 14 1-2 1 1 1-2 1" marker-start="url(#j1)" marker-mid="url(#j1)" marker-end="url(#j1)"/><path d="m1570 213 9 2 9 1-144 1 67 0 35 0 7 0 36 0 23 0 1 0-20 1-136 1 51 0 106 0-231 3 62 0 72 0 36 0 29 0 20 0-155 2 119 0 24 0-142 1 132 0 10 0 2 0 6 0-142 1-22 1 14 0 40 0 83 0-138 1 6 0 88 0 41 0 3 0-133 1 89 0 39 0-133 1 19 0 9 0-25 1-7 1 5 0 170 0-20 1 4 0-166 1 167 0-88 1 86 0-84 1 24 0 58 0-167 1 150 0-145 1 145 0-136 1 76 0 2 0 15 0 53 0-35 1 38 0-164 1 127 0 7 0 2 0-54 1 16 0 61 0 6 0 18 0-21 1 19 0 3 0 24 0-111 1 25 0 45 0 22 0 19 0-201 1 85 0 5 0 8 0 105 0-48 1 1 0 19 0 17 0 3 0 4 0-122 1 4 0 5 0 3 0 4 0 24 0 57 0 28 0 2 0-125 1 1 0 13 0 22 0 79 0-115 1 5 0 12 0 11 0 13 0-15 1 50 0 8 0-174 1 117 0 97 0-215 1 106 0 1 0 2 0 10 0 2 0 22 0 52 0 19 0-95 1-2 1 26 0 42 0 32 0-217 1 2 0 93 0 35 0 21 0 56 0-196 1 83 0 2 0 8 0 11 0 9 0 81 0 19 0-217 1 89 0 9 0 15 0 4 0 49 0-171 1 86 0 2 0 13 0 14 0 63 0-96 1 3 0 17 0 1 0 7 0 3 0 17 0 77 1-128 1 3 0 4 0 4 0 1 0 15 0 101 0-142 1 17 0 2 0 4 0 14 0 7 0 97 0-120 1 2 0 5 0 2 0 4 0 28 0-58 1 2 0 5 0 2 0 17 0 4 0 3 0 3 0 3 0 7 0 7 0-49 1 10 0 2 0 2 0 7 0 3 0 8 0 1 0 16 0 16 0 4 0 70 0-141 1 24 0 5 0 14 0 3 0-51 1 19 0 6 0 11 0 10 0 3 0 45 0 33 0 37 0-163 1 3 0 23 0 3 0 7 0 9 0 3 0 34 0 27 0-84 1 2 0 8 0 6 0 4 0 36 0-76 1 15 0 1 0 11 0 10 0 7 0 29 0-75 1 16 0 1 0 6 0 4 0 3 0 2 0 1 0 6 0 9 0-35 1 10 0 3 0 4 0 8 0 5 0 3 0 2 0-109 1 90 0 19 0 1 0 1 0 6 0 52 0-189 1 3 0 3 0 95 0 3 0 9 0 11 0 4 0 2 0 3 0 3 0 48 0-67 1 15 0 35 0 20 0-103 1 8 0 5 0 9 0 1 0 2 0 5 0 4 0 3 0 41 0-78 1 23 0 18 0 3 0 1 0 27 0 16 0-93 1 21 0 1 0 13 0 3 0 5 0 1 0 1 0 21 0-59 1 1 0 1 0 4 0 4 0 14 0 7 0 10 0 28 0 22 0 10 0-176 1 2 0 73 0 2 0 2 0 7 0 11 0 8 0 10 0 5 0 75 0 8 0-119 1 13 0 1 0 10 0 6 0 26 0 8 0-151 1 70 0 12 0 23 0 16 0 1 0 6 0 4 0 2 0 34 0 26 0-83 1 1 0 1 0 11 0 6 0-40 1 6 0 8 0 7 0 13 0 1 0 2 0 71 0-115 1 2 0 38 0-19 1 18 0 7 0 2 0 62 0-105 1 1 0 3 0 12 0 6 0 14 0 9 0 70 0-128 1 1 0 7 0 2 0 13 0 11 0 73 0-179 1 77 0 1 0 4 0 23 0-31 1 4 0 2 0 26 0 5 0 5 0 35 0-150 1 2 0 72 0 4 0 11 0-7 1 16 0 13 0 39 0 1 0 32 0-84 1 4 0 24 0 1 0 22 0-79 1 3 0 23 0 7 0-9 1 12 0 12 0 8 0 1 0 22 0 30 0-108 1 1 0 27 0 2 0 5 0 6 0 52 0-95 1 12 0 14 0 5 0 24 0-122 1 68 0 24 0 11 0 13 0 3 0-48 1 23 0 3 0 26 0-57 1 37 0 2 0 10 0 7 0-59 1 6 0 10 0 21 0-32 1 21 0 18 0-45 1 31 0 13 0 19 0-44 1 12 0 13 0 12 1-64 1 13 0 28 0 5 0 4 0-52 1 4 0 1 0 2 0 7 0 25 0 2 0 7 0 8 1-49 1 3 0 3 0-5 1 33 0 13 0-6 1 11 0-117 1 63 0 59 0-123 1 65 0 7 0 27 0-34 1 1 0 3 0 29 0 3 0 8 0-8 1 1 0 2 0-41 1 38 0 23 0 22 0-81 2 34 0-1 1 8 0-37 1 25 0 1 0 1 0-31 1-74 1 70 0 35 0 24 0-55 1 30 1 2 0 8 0-105 1 62 0 2 0 27 0 1 0-91 1 1 0 60 0 1 0-2 1 30 0-28 1 26 0 9 0-15 1 1 0-16 1 26 1-33 1 2 0 3 0 14 1-18 1 3 0 13 0 6 0-13 1 8 2-24 1 5 0 9 0-17 1 3 0 2 0 7 0 10 0 3 0-3 1 7 0 1 0 4 1-25 1 13 0-21 1 4 0 18 0 6 0-21 2 12 0 4 0-61 1 44 0 1 0 3 0 6 0-5 1 8 0-57 1 51 0-55 1 2 1 47 0 7 0-56 1 53 0-47 1 47 0-54 1 45 0 6 0 6 0-55 1 1 0 60 0-65 1 9 0 1 0 36 0 15 0-62 1 5 0 1 0 3 0 1 0 2 0 46 0-57 1 2 0 2 0 5 0 39 0 8 0 7 0-63 1 11 0 38 0-48 1 46 0 2 0 1 1 1 0-52 1 2 0 2 0 2 0 6 0 2 0 41 0 1 0-49 1 49 0-5 1 2 0 3 0-54 1-9 1 7 0 3 0 52 0-58 2 1 0 1 0 4 0 6 0-5 1-2 1-10 2 2 0 4 1 4 0 1 0-6 1 1 0 1 0-8 1 4 0 5 0-12 1 4 0 5 0-2 1-1 1 2 1 4 0-17 2 4 0 1 0-4 1 2 0 3 1-5 1 3 0 5 2-6 2 3 0-6 1 5 0-5 2 2 0 1 1 1 0-1 2" marker-start="url(#j2)" marker-mid="url(#j2)" marker-end="url(#j2)"/><path d="m1553 220-122 4 2 1 1 3-1 2 1 0 90 0 19 5 9 0-41 2 6 2 76 1-94 1 1 0 21 3 59 0 20 0-109 1 50 0-29 1 8 0 1 0 21 0 33 0 7 0-69 1 90 0-102 1 45 0 6 0 4 0-40 1 20 0-17 2 71 0-9 2 12 1-44 1-20 2 2 0-13 1 1 0 7 1 4 0 61 0-101 1 38 0 3 0 8 0-18 1 3 0-16 1 14 0 4 0-30 1 3 0 27 0 3 0-44 1 3 0 1 0 10 0 24 0-34 1 13 0 16 0-13 1-11 1 9 0 3 0 14 0 8 0-7 1 1 0 66 0 1 0-76 1 3 0 16 0-16 1 4 0 5 0-4 1 1 0 3 0 5 0-2 1 8 0-39 1 7 0 21 0 2 0 72 0-90 1 2 0 7 0 2 0 7 0 2 0 3 0-47 1 28 0 8 0 9 0-24 1 1 0 1 0 8 0 2 0 21 0-52 1 16 0 7 0 7 0 23 0-50 1 14 0 2 0 9 0 1 0 2 0 4 0-24 1 13 0 1 0 11 0 3 0-34 1 7 0 1 0 4 0 2 0 2 0 5 0 2 0 5 0 10 0-40 1 9 0 3 0 9 0 13 0 2 0-33 1 9 0 31 0-39 1 1 0 3 0 8 0 4 0 5 0 4 0 16 0 21 0-60 1 8 0 7 0 1 0 1 0 6 0-12 1 2 0 13 0 3 0-32 1 12 0 2 0 64 0-77 1 10 0 3 0 3 0 2 0 8 0-19 1 9 0 2 0 1 0 2 0 2 0 4 0-26 1 4 0 19 0 5 0 3 0 4 0-41 1 10 0 4 0 2 0 3 0 2 0 5 0 7 0 41 0-57 1 3 0 26 0 1 0-26 1 8 0 7 0-30 1 13 0 29 0-38 1 2 0 1 0 8 0-29 1 6 0 1 0 3 0 3 0 13 0 5 0 4 0 27 0-59 1 1 0 5 0 15 0 6 0 4 0 27 0 1 0 20 0-70 1 6 0 7 0 9 0-33 1 9 0 3 0 4 0 1 0 10 0 4 0 2 0 32 0-65 1 3 0 6 0 1 0 8 0 10 0-27 1 31 0 1 0 7 0-36 1 12 0 12 0 9 0 4 0-36 1 5 0 13 0 2 0 3 0 12 0-39 1 4 0 24 0 4 0 5 0-38 1 7 0 19 0 2 1 4 0-37 1 5 0 16 0 11 0 2 1 7 0-35 1-2 1 1 0 1 1 1 0 24 0 0 1 1 0-25 1 26 0 1 0 11 0-44 1 35 0 12 0-20 1-27 1 3 0 27 0-2 1 1 0-26 1 26 0-30 1 3 0 28 0-9 1 3 0-21 1-4 1 27 0-26 1-2 2 28 0-27 1 25 0 3 0-25 1-9 1 21 0 10 0-24 1 1 0 14 0 1 0 6 0-27 2 4 1 9 0-2 2 3 0-15 1 17 0 3 0-16 1 1 0 1 0 6 0 6 0 3 0-13 1 2 0 3 0 4 0 6 0-18 1 5 0 2 0-15 1 10 0 8 0-13 1 1 0 2 0-1 1 1 0 4 0 9 0-15 1 3 0 3 0-9 1 5 0 10 0-13 1 9 0 2 0-13 1 1 0 2 0 1 0 1 1 4 0-54 1 45 0 6 0 1 0-51 1-1 1 3 0 46 0 2 0-54 1 46 1 2 1 7 0-8 1 3 0 2 0-51 2 2 0 46 0 4 0-6 1 4 0-55 1 3 0 59 0-11 1 8 0-10 1 2 0-41 1-8 1 1 0 8 0-14 1-1 1 2 0 2 1 1 0 1 1-4 2 1 2-6 3 2 2-1 1 1 0-5 1 2 0 2 0-10 4 11 0-9 2 0 2-3 1 3 0-2 2 8 0-6 1-1 1 1 0 0 1-4 1 1 0 4 0-5 1 1 0-1 1 2 0 1 0-2 1 3 0" marker-start="url(#j3)" marker-mid="url(#j3)" marker-end="url(#j3)"/><path d="m1436 230 164 12-82 12 0 2 12 0 2 0 62 0-70 6-6 4 2 0-16 2 12 0 6 0 4 0-12 2 12 0-10 2 2 0 10 0-18 2 14 0 2 0 4 0-24 2 2 0 4 0 2 0 4 0 10 0-38 2 18 0 4 0 2 0 6 0 4 0-26 2 2 0 4 0 2 0 10 0-20 2 4 0 2 0 2 0 6 0 4 0-20 2 2 0 8 0 2 0 4 0 2 0-10 2 6 0 4 0 4 0 16 0-34 2 6 0 4 0 2 0 2 0 2 0-16 2 2 0 2 0 2 0 4 0 4 0 6 0 4 0-32 2 4 0 2 0 2 0 4 0 2 0 2 0 6 0-24 2 4 0 4 0 2 0 2 0 4 0 2 0 4 0 6 0-28 2 2 0 6 0 2 0 2 0 2 0 4 0 2 0 6 0-26 2 2 0 2 0 2 0 2 0 2 0 4 0 2 0 2 0 4 0 2 0 2 0 6 0-32 2 14 0 4 0 6 0-24 2 2 0 12 0 2 0 2 0 4 0-24 2 4 0 2 0 2 0 2 0 2 0 2 0 4 0 2 0 2 0 4 0-22 2 14 0-22 2 22 0 4 0-10 2 4 0 6 0 2 0-26 2 18 0 6 0-26 2 2 0 2 0 14 0 2 0 2 0 2 0-26 2 2 0 18 0 2 0 2 0-26 2 2 0 22 0 2 0-26 2 4 0 14 0 2 0 6 0-6 2 2 0 4 0-26 2 12 0 6 0 2 0 2 0-22 2 10 0 8 0 8 0-18 2 2 0 4 0 2 0 2 0-12 2 4 0 2 0 2 0-18 2 6 0 2 0 2 0 2 0 2 0 4 0-16 2 8 0 2 0 2 0 2 0-12 2 2 0 4 0-8 2 8 0-6 2 4 0-8 2 2 0 2 0 2 0 2 0 2 0-6 2 2 0-8 6 4 0 0 4-56 2-2 2 2 2 2 2 0 6-6 4-6 2 2 0-8 10 4 0-4 6 2 0" marker-start="url(#j4)" marker-mid="url(#j4)" marker-end="url(#j4)"/><path d="m1528 258-18 20-10 4 2 0 6 0-2 2-14 2 16 0-2 2 6 0 6 0-22 2 4 0 4 0-14 2 14 0-12 2 2 0 6 0 2 0 2 0 2 0 8 0-26 2 6 0 6 0 2 0-10 2 12 0 4 0-12 2 6 0 2 0 4 0-22 2 4 0 2 0 2 0 4 0 4 0 2 0 2 0-18 2 4 0 2 0 2 0 2 0 2 0 2 0 2 0 2 0-18 2 4 0 2 0 2 0 2 0 2 0 2 0 2 0-18 2 2 0 2 0 6 0 4 0 2 0 6 0-24 2 4 0 8 0 2 0 2 0 2 0-16 2 6 0 6 0 2 0 2 0 2 0-14 2 6 0 4 0 2 0 2 0-26 2 8 0 8 0 6 0 2 0 2 0-24 2 4 0 6 0 8 0-16 2 12 0 2 0 2 0 2 0-20 2 2 0 12 0 2 0-14 2 10 0 4 0 2 0 2 0-20 2 12 0 2 0-16 2 4 0 4 0 6 0 2 0 2 0-16 2 2 0 2 0 2 0 2 0 2 0 2 0-12 2 4 0 4 0-4 2 2 0 2 0-12 4 2 2 2 0-2 2 2 0 4 0-2 2-8 6 2 6-56 2 2 8" marker-start="url(#j5)" marker-mid="url(#j5)" marker-end="url(#j5)"/><path d="m1498 296 2 0 4 0 2 0-6 2 4 0-10 4-4 2 8 0 6 0 2 0-18 2 8 0 4 0-14 2 2 0 2 0 2 0 4 0 6 0 2 0-18 2 2 0 4 0 2 0 2 0 6 0-16 2 8 0 2 0 2 0 2 0 2 0-14 2 4 0 4 0 2 0 2 0-14 2 2 0 6 0 2 0 2 0-14 2 2 0 4 0 2 0 4 0 2 0-18 2 2 0 2 0 2 0 4 0 2 0 4 0-16 2 12 0 2 0 2 0-14 2 8 0 2 0-10 2 2 0 2 0 2 0 4 0-12 2 2 0 2 0 2 0-6 2 2 0 2 0 4 0-6 2 2 0 2 0 4 0-14 6 2 2" marker-start="url(#j6)" marker-mid="url(#j6)" marker-end="url(#j6)"/><path d="m1504 292-8 2 4 0 0 8-8 2 2 0 6 0-6 2 2 0 2 0 2 0 2 0-16 2 10 0 2 0 2 0-12 2 2 0 2 0 2 0 2 0 2 0 2 0 2 0-14 2 2 0 2 0 2 0-6 2 6 0 2 0 4 0 2 0-18 2 2 0 2 0 2 0 2 0 2 0-8 2 2 0 2 0 4 0 2 0-12 2 4 0 2 0-6 2 2 0 4 0 2 0 4 0-16 2 2 0 2 0 2 0 2 0 4 0-10 2 2 0 4 0 2 0-10 2 2 0 4 0-4 2 2 0" marker-start="url(#j7)" marker-mid="url(#j7)" marker-end="url(#j7)"/><path d="m1490 306 6 0-8 2 2 0 2 0-4 2 2 0 2 0-4 2 2 0 2 0 2 0 2 0-6 2 2 0 2 0 4 0 2 0 2 0-16 2 2 0 2 0 2 0 2 0-8 2 4 0 2 0 2 0-8 2 2 0 2 0 2 0 2 0 2 0-16 2 2 0 2 0 2 0 2 0 2 0 2 0 2 0-12 2 2 0 2 0 2 0 2 0-10 2 2 0 2 0 2 0 2 0-6 2 2 0" marker-start="url(#j8)" marker-mid="url(#j8)" marker-end="url(#j8)"/></g><rect x="1358.6" y="132" width="353.9" height="318" fill="none" stroke="#8c8c8c" stroke-width="1.5"/><path d="M1381.6 186.9L1480.6 186.4L1475.6 310.7L1383.3 346.1Z" fill="none" stroke="#000" stroke-width="2.2" stroke-linejoin="miter"/><path d="M1480.6 186.4L1702.6 167.1L1700.9 401.8L1503.4 415.4" fill="none" stroke="#000" stroke-width="2.2" stroke-linejoin="miter"/><path d="M1475.6 310.7L1494.7 316.4L1489.8 401.8" fill="none" stroke="#000" stroke-width="2.2" stroke-linejoin="miter"/><path d="M1383.3 346.1L1383.3 434" fill="none" stroke="#000" stroke-width="2.2" stroke-linejoin="miter"/><path d="M1440.2 326.3L1440.2 418.6L1452.6 418.6" fill="none" stroke="#000" stroke-width="2.2" stroke-linejoin="miter"/><text x="1473.5" y="122.6" font-size="29.1" textLength="120.2" lengthAdjust="spacingAndGlyphs" fill="#000">CDT1-OE</text><text x="1423.1" y="175.3" font-size="21.3" textLength="47.4" lengthAdjust="spacingAndGlyphs" fill="#000">9.47</text><text x="1614.2" y="391.4" font-size="21.3" textLength="50" lengthAdjust="spacingAndGlyphs" fill="#000">57.3</text><text x="1384.2" y="429" font-size="21.3" textLength="48.8" lengthAdjust="spacingAndGlyphs" fill="#000">8.70</text><text x="1453.8" y="429" font-size="21.3" textLength="50.2" lengthAdjust="spacingAndGlyphs" fill="#000">22.8</text><g fill="none" stroke="none"><path d="m212 779 10 4 1 0-4 2-14 1 1 0 104 0 42 0-130 1 1 0 115 0-131 4 14 0 162 0-115 2 81 0-84 1 10 2 32 0-102 1 20 0 157 0-9 1-131 2 58 0-97 1 22 0 20 0-20 4 150 0 2 0-154 1 11 1 82 0-112 3 70 0 13 1 46 0-108 1-19 2-2 1 48 0 94 0 44 2-183 3 42 0-18 2 98 0-19 2-86 1-19 1 17 0 58 0 72 0 21 0-171 2 57 0 64 0-116 1 16 0 117 0-115 2 109 0 43 0-173 1 1 0 55 0 2 0 87 0-144 1 157 0-142 1 21 0 24 0 62 1-61 1 58 0-31 1 10 0-40 1-12 1 13 0-64 1 66 0 74 0-135 2 44 0-46 1 50 0 6 0 130 0-130 1-54 1 53 0 7 0 90 0-134 1 26 0-44 1 2 0 55 0 2 0 9 0-6 1 9 1 15 0-35 1 12 0 16 0-20 1 2 0 31 0 8 0-95 1 14 0 29 0 13 0 12 0 34 1-50 1 4 0 4 0 1 0 8 0-57 1 6 0 25 0 1 0 91 0 19 0-143 1 37 0 3 0 3 0 8 0 3 0-16 1 8 0 1 0-60 1 12 0 31 0 1 0 8 0 13 0-67 1 64 0 2 0-66 1 16 0 27 0 5 0 7 0 18 0 1 0-9 1 1 0 6 0-20 1 81 0-69 1-45 1 31 0 18 0 1 0 2 1-74 1 22 0 55 1 25 0-98 1 47 1-28 1 29 0-36 1 35 0 26 0-3 1 59 0-112 2 32 0 66 0-96 1 22 0 7 0 21 0 3 0-63 1 7 0-17 1 25 0 64 0 15 0 81 0-183 1 7 0 31 0 8 0-51 1 20 0 53 0 5 0-76 1 19 1 59 0 3 0 11 0-91 1 34 0 15 0 31 0 5 0 5 0-99 1 8 0 2 0 21 0 11 0 1 0 1 0 4 0-24 1 56 0 15 0-88 1 36 0 14 0 2 0 1 0-16 1 2 0 2 0 1 0 3 0 27 0-87 1 49 0 2 0-14 1 7 0-27 1 23 0 23 0 20 0 2 0 1 0-66 1 70 0 5 0-7 1 1 0 16 0 2 0-56 1 37 0 9 0-5 1 1 0-90 1 14 0 73 0-107 1 114 0-88 1 6 0 73 0-84 1 10 0 81 1 1 0 11 0 2 0-99 1 42 0 41 0-87 1 4 0 1 0 84 0 15 0 2 0-114 1 16 0 78 0 8 0 9 0-129 1 110 0 7 0-94 1 86 0 3 0 20 0-99 1 84 0-94 1 3 0 3 0 83 0-113 1 111 0 3 0 2 0 8 0 3 0 3 0-130 1 32 0 70 1 4 0-78 1 4 0 3 0 50 0 23 0 5 0 6 0-19 1 6 0 5 0 13 0-105 1 12 0 5 0 79 0 8 0-91 1 70 0 1 0 5 0 4 0 5 0 16 0-71 1 1 0 29 0 9 0 15 0-88 1 3 0 74 0 7 0-93 1 19 0 20 0 34 0 4 0 1 0 5 0 12 0-80 1 41 0 20 0 4 0 2 0 2 0-66 1 37 0 14 0-18 1 39 0 23 0-72 1 33 0 6 0-95 1 61 0 8 0 5 0 5 0-46 1 32 0 1 0 12 0 13 0-31 1 8 0-39 1 2 0 3 0 17 0 6 1 5 0-34 1 6 0 2 0 2 0 21 0-55 1 45 0 4 0 7 0-56 1 53 0-63 1 39 0 2 0 26 0-30 1 8 1 10 0 1 0 3 0 4 0-19 1 13 0-16 1 10 0-34 1 18 0 17 0 6 0 3 0-25 1 2 0 3 0 7 0 2 0 13 0 4 0-27 1 13 0 1 0 1 0-24 4 35 0-23 6-10 5-19 1 13 5-1 10" marker-start="url(#j0)" marker-mid="url(#j0)" marker-end="url(#j0)"/><path d="m216 782 2 1-6 1 6 1 4 0-14 1 9 2-8 2-2 1 3 0 9 0 50 0-50 2-14 2 2 1 15 0-2 1-16 2 2 0 13 0-13 1 16 0-1 2-1 1-13 3 1 0 13 0 1 0-15 2 16 1-15 3 13 0 1 1-15 1-3 1 18 0-15 1 2 3 12 3-13 1 12 3 1 3 2 1-19 1 16 1-13 3-1 1 12 3 3 0-15 1 12 1 2 1 1 0-13 2 12 1-12 1 49 0-50 1 5 0 4 0 3 0-1 1-11 2 13 0-12 1 13 0 44 0-56 1 8 0-3 1 5 0 33 0-34 1-10 1 4 0 9 0-14 1 60 0-59 1 8 0-7 1-2 1 53 0 9 0-51 1 38 0 7 1 7 0-61 1 5 0 5 0 1 0 37 0-52 1 4 0 8 0 4 0 46 0-60 1 49 0-48 1 45 1 14 0 2 0-16 1-33 1-15 1 50 1-2 1 22 0-68 1 3 0 9 0 55 0-66 1 44 0-47 1 11 0 40 0-39 1 1 0 1 0 36 0 21 0-62 1 4 0 55 1-55 1 32 0 1 0-40 1 5 0 4 0 39 0-46 1 2 0 33 1 6 0-45 1 45 0-37 1 3 0 26 0 30 0-69 1 11 0-5 1 5 0 29 0 27 0-28 1 4 0 4 0-37 1 2 0 33 0 18 0-42 1 5 0 12 0 7 0 3 0-39 1 14 0 5 0 2 0-13 1 4 0 6 0 8 0 1 0 3 0 4 0 1 0 4 0 1 0 1 0 9 0-61 1 19 0 18 0 29 0 1 0-51 1 3 0 16 0 1 0 7 0 2 0 5 0-14 1-36 1 42 0 18 0 8 0-41 2 17 0 24 1 1 0 20 0-54 1 3 0 5 0 15 0 13 0-1 1-70 1 2 0 39 0 26 0 2 0-72 1 1 0 2 0 42 0 24 0-26 1 15 0 6 0 3 2 5 0 1 1 4 0-76 1 61 0 9 0-74 1 1 0 51 0 18 0-70 1 60 0 20 0-77 1 3 0 32 0 23 0 7 0 3 0 1 0-14 1 3 0 5 0 9 0-43 1 29 0 3 0-59 1 34 0 21 0 3 0-59 1 54 0 20 0-23 1 19 0-65 1 24 0 6 0 10 0 4 0 5 0-25 1 14 0 3 0-25 1 2 0 17 0 4 0-30 1 11 0 1 0 11 0 2 0 2 0-39 1 6 0 15 0 2 0 6 0 2 0-27 1 13 0 3 0 22 0-25 1 8 0-2 2-21 1 4 0 1 0 4 0 7 0-11 1 6 0 6 0-6 1-10 1 2 0 2 0 6 0 3 0-9 1 1 0 16 0-27 1 1 0 9 0 9 0 1 0-10 1-7 1 3 0 2 1 13 0-17 2 17 0-12 1 11 1" marker-start="url(#j1)" marker-mid="url(#j1)" marker-end="url(#j1)"/><path d="m212 783 4 0-8 1 3 0 1 0 1 0 1 0 1 0 4 0-2 1 1 1-6 1 6 0-6 2-4 1 1 2 1 0-3 2 12 1-10 2 11 0-12 2 13 0-10 2 6 0 4 4-13 3-1 1 10 0 2 0 2 2-13 1 10 0-7 2-3 1 1 1 10 0 2 1-2 2 1 0-12 1 1 4 11 0-14 5 13 2-1 3-12 1 5 0-3 4 11 1-11 1 6 3 2 0 1 0 3 0-1 1-10 1 1 1 2 0 7 0-10 1 2 0 3 1 0 2-8 1 3 0 2 1 3 0-4 1 2 0-1 1-1 1 8 0-6 1 4 0 48 0-54 1 1 0 7 0-10 1 3 0 1 0 1 0 2 1 42 0 1 0 1 0-44 1 1 0 43 0-48 1 4 0 1 0 40 0 9 0 2 0-57 1 1 0 2 0 4 0 40 0 3 0 5 0-55 1 3 0 3 0 3 0-9 1 1 0-2 1 11 0 50 0-64 1 12 0 48 0 3 0-61 1 3 0 4 0 2 0 3 0 38 0-42 1 1 0 53 0 3 0-64 1 3 0 4 0 2 0 1 0 36 0 4 0-51 1 1 0 5 0 2 0 36 0 6 0-51 1 2 0 3 0 7 0 53 0-61 1 7 0-5 1 59 0-62 1 1 0 44 0-47 1 1 0 7 0 42 0 13 0-59 1 8 0 35 0 18 0-62 1 5 0 55 0 1 0-62 1 3 0 3 0 35 0 5 0 14 0-58 1 2 0 5 0 32 0 4 0 6 0-5 1 15 0 2 0-64 1 1 0 6 0 41 0 3 0-53 1 5 0 3 0 59 0-66 1 1 0 51 0 5 0 6 0 3 0-68 1 2 0 5 0 1 0 3 0 4 0 37 0-51 1 2 0 7 0 3 0 39 0 1 0 1 0 1 0-52 1 1 0 2 0 3 0 3 0 32 0 2 0 5 0 1 0 8 0-45 1 1 0 1 0 23 0 5 0 6 0 4 0 3 0 7 0-67 1 1 0 8 0 10 0 7 0-25 1 1 0 11 0 9 0 4 0 2 0 12 0 1 0 16 0 1 0 1 0 3 0-49 1 3 0 16 0 1 0 1 0 5 0 2 0 1 0 10 0 11 0 3 0-60 1 13 0 3 0 6 0 2 0 1 0 1 0 3 0 4 0 2 0 3 0 3 0 3 0 12 0-58 1 13 0 6 0 2 0 4 0 18 0 19 0-64 1 1 0 20 0 15 0 16 0 3 0-56 1 26 0 6 0 3 0 11 0 1 0 6 0 8 0 4 0-42 1 40 0-42 1 5 0 8 0 7 0 5 0 1 0 17 0 5 0-69 1 28 0 3 0 1 0 3 0 7 0 10 0 17 0-71 1 39 0 2 0 6 0 9 0 7 0 2 0-64 1 1 0 2 0 30 0 2 0 13 0 19 0 2 0-48 1 25 0 1 0 17 0 1 0 1 0-64 1 30 0 36 0-26 1-42 1 1 0 32 0 1 0 30 0 1 0 5 0-71 1 48 0 10 0 5 0 3 0 1 0-68 1 39 0 25 0 1 0-62 1 24 0 14 0 15 0 1 0 6 0 5 0-32 1 8 0 8 0 16 0-72 1 9 0 32 0 9 0 7 0 5 0 5 0 1 0-66 1 29 0 3 0 15 0 5 0 3 0 8 0-31 1 20 0 11 0-58 1 3 0 1 0 4 0 17 0 1 0 4 0 2 0 2 0 14 0 6 0 10 0-34 1 12 0 6 0-31 1 2 0 6 0 4 0 1 0 1 0 10 0 4 0 2 0-29 1 4 0 6 0 4 0 1 0 1 0-5 1 4 0 1 0 3 0 10 0-33 1 1 0 4 0 5 0 6 0 2 0-32 1 2 0 1 0 20 0 2 0 1 0 4 0 10 0-36 1 1 0 5 0 2 0-6 1 12 0 1 0-18 1 8 0 1 0 6 0 9 0-24 1 3 0 2 0 8 1-13 1 4 0 16 1-21 1 2 0 3 0 5 0 4 0-5 1 2 0 1 0 0 1-2 1-1 1-3 1 2 0-3 2 3 0 10 0-11 1-7 1" marker-start="url(#j2)" marker-mid="url(#j2)" marker-end="url(#j2)"/><path d="m213 782-2 1 2 0 1 0 3 0-4 1 2 0 2 0-5 1 1 0 2 0-3 2 2 0 5 0-6 1 5 0-6 1 2 0 3 0 1 0-7 1 0 1 3 0-3 1 4 0 2 0 2 0-10 1 4 0 1 0 3 0-6 1 1 0 6 0-9 1 4 0 2 0 4 0-12 1 9 1 1 0-10 1 1 0 2 0 1 0-1 1 8 0 1 0-8 1 6 0-7 1 1 0-1 1 8 0 1 0-9 1 7 0 4 0-5 2 3 1 1 0-10 1 5 0 2 0 2 0 1 0-12 1 2 0 7 3-7 1 2 0-3 1 11 1-2 1-10 1 2 0 10 3-12 1 11 1 0 1-8 1-2 1 11 0 1 0-4 1-10 1 2 0 1 0 8 1-11 1 0 1 10 0 1 0 1 0-10 1 9 0-9 1 7 0 1 0 2 0-12 1 1 1-1 1 1 0 1 0 1 1 5 0 2 1-1 1 1 0 1 1-10 1 4 0 1 0-5 1 4 0 3 0 5 0-11 1 3 0 5 0 4 0-10 1 3 0-3 2 4 0 1 0-5 1 3 2 2 0 2 0-8 1 3 1 1 0 2 0-6 1 2 0 3 0-1 1 0 1 3 0-4 1-1 1 3 0 2 0-1 2-8 1 2 1 6 0 0 1 1 1 37 0 4 0 3 0 1 0-49 1 2 0 46 0 3 0 1 0-48 1 41 0 1 0 4 0 1 0 1 0-49 1 45 0 3 0-3 1 1 0 2 0-53 1 3 0 44 0 1 0 6 0-51 1 1 0 45 0 1 0-50 1 2 0 45 0 2 0 8 0-58 1 5 0 1 0 43 0 2 0 3 0 5 0 1 0-59 1 1 0 1 0 45 0 10 0 2 0 3 0-64 1 4 0 4 0 39 0 13 0 4 0-62 1 7 0 39 0 2 0 11 0-60 1 1 0 43 0 1 0 1 0 15 0-56 1 4 0 32 0 9 0 4 0 7 0 1 0 1 0-62 1 3 0 54 0-10 1 12 0-56 1 1 0 38 0 18 0-61 1 2 0 1 0 3 0 44 0 2 0 4 0 5 0-8 1 1 0-7 1 9 0-55 1 4 0 1 0 43 0 12 0 1 0-54 1 40 0-48 1 3 0 1 0 2 0 41 0 7 0 6 0-10 1 1 0 1 0-49 1 46 0 9 0 2 0-59 1 1 0 53 0 5 0 2 0-66 1 8 0 2 0 49 0-60 1 7 0 47 0 2 0 5 0 2 0 3 0 1 0-66 1 2 0 4 0 6 0 41 0 1 0 3 0 7 0 1 0-64 1 1 0 1 0 3 0 27 0 11 0 8 0 5 0 3 0-54 1 7 0 2 0 3 0 7 0 36 0-56 1 2 0 1 0 13 0 1 0 1 0 2 0 22 0 2 0 3 0 4 0 4 0 1 0-61 1 6 0 1 0 3 0 3 0 3 0 5 0 6 0 2 0 1 0 9 0 11 0 1 0 2 0 5 0-49 1 2 0 8 0 5 0 13 0 11 0 2 0 3 0 1 0 1 0 9 0-62 1 7 0 1 0 7 0 2 0 4 0 4 0 5 0 2 0 3 0 2 0 2 0 4 0 5 0 1 0 6 0 8 0-62 1 10 0 1 0 5 0 6 0 15 0 2 0 3 0 2 0 8 0 5 0-56 1 10 0 1 0 3 0 1 0 2 0 3 0 3 0 9 0 1 0 1 0 5 0 1 0 2 0 1 0 3 0 4 0 1 0 5 0 2 0 1 0 1 0 1 0-62 1 23 0 1 0 7 0 2 0 3 0 9 0 14 0-59 1 14 0 3 0 9 0 8 0 2 0 8 0 4 0 2 0 2 0 1 0 2 0 8 0-63 1 10 0 8 0 1 0 2 0 5 0 1 0 1 0 4 0 5 0 6 0 4 0 1 0 1 0 1 0 2 0 4 0 1 0-61 1 5 0 12 0 4 0 3 0 8 0 5 0 1 0 2 0 4 0 5 0 1 0 3 0 7 0 6 0-62 1 1 0 19 0 4 0 2 0 4 0 4 0 2 0 1 0 10 0 2 0 1 0 2 0 4 0 1 0-60 1 3 0 28 0 2 0 6 0 3 0 13 0 7 0-65 1 11 0 5 0 5 0 4 0 3 0 1 0 6 0 10 0 4 0 9 0 6 0 1 0 6 0-68 1 3 0 33 0 3 0 2 0 6 0 2 0 3 0 3 0 3 0-28 1 9 0 4 0 1 0 4 0 2 0 1 0 6 0 7 0-67 1 4 0 24 0 3 0 7 0 4 0 1 0 4 0 4 0 8 0 7 0 3 0-70 1 2 0 2 0 2 0 18 0 2 0 4 0 7 0 2 0 5 0 8 0 1 0 3 0 2 0 1 0 1 0-50 1 9 0 9 0 3 0 1 0 3 0 1 0 1 0 2 0 6 0 10 0 3 0-39 1 8 0 7 0 8 0 1 0 1 0 1 0 3 0 6 0 4 0-53 1 19 0 8 0 8 0 1 0 3 0 3 0 5 0 18 0-65 1 22 0 3 0 8 0 5 0 2 0 5 0-44 1 10 0 7 0 19 0 2 0-37 1 6 0 3 0 1 0 1 0 15 0 5 0 1 0 1 0 8 0 1 0 1 0 5 0-50 1 1 0 2 0 6 0 3 0 16 0 15 0 1 0-44 1 1 0 1 0 1 0 2 0 6 0 4 0 3 0 11 0 16 0-42 1 3 0 1 0 3 0 3 0 2 0 11 0-22 1 2 0 5 0 2 0 1 0 7 0-19 1 2 0 1 0 1 0 1 0 1 0 3 0 18 0-27 1 4 0 10 0-15 1 5 0 3 0 1 0 2 0-7 1 3 0-6 1 2 0 1 0 4 0-4 1 4 0-1 1-6 1 6 0 1 0-3 1 0 2 4 0-2 1 5 2-9 2" marker-start="url(#j3)" marker-mid="url(#j3)" marker-end="url(#j3)"/><path d="m212 784 2 0 2 0-4 2 2 0 2 0-4 2 4 0-4 2 2 0 2 0 2 0-8 2 2 0 2 0-6 2 2 0 4 0 2 0 2 0-8 2 6 0 2 0-10 2 4 0 2 0 2 0 2 0-8 2 4 0 2 0 2 0-10 2 2 0 4 0 2 0-6 2 2 0 4 0 2 0-10 2 2 0 2 0 2 0 2 0 2 0-8 2 4 0-4 2 6 0 2 0-8 2 2 0 4 0-4 2 4 0 2 0-2 2 2 0-8 2 8 0-10 2 2 0 4 0-6 2 2 0 2 0 4 0 2 0-10 2 2 0 6 0-8 2 2 0 8 0-2 2 2 0-8 2 6 0-8 2 2 0 8 0-8 2 2 0 2 0 2 0-8 2 4 0 2 0 2 0-8 2 4 0 2 0 2 0-6 2 2 0 2 0 2 0 2 0-10 2 2 0 2 0 4 0 2 0-8 2 4 0 2 0 2 0-8 2 2 0 2 0-2 2 2 0-2 2 2 0-2 2 2 0-2 2-2 2 2 2 2 0-4 2 2 2 4 0 44 0 2 0-4 2 2 0-52 2 4 0 46 0 2 0 2 0 2 0-58 2 8 0 44 0 6 0 2 0 2 0-56 2 6 0 38 0 2 0 2 0 6 0-56 2 48 0 2 0 4 0 4 0 2 0 2 0-62 2 50 0 2 0 2 0 2 0 4 0 2 0-14 2 2 0 2 0 2 0 2 0 2 0 2 0-12 2 2 0 2 0 4 0-50 2 50 0 2 0 2 0-58 2 46 0 4 0 2 0 2 0 2 0 2 0-60 2 2 0 2 0 44 0 2 0 2 0 2 0 2 0 2 0-60 2 54 0 6 0-62 2 4 0 2 0 42 0 4 0 2 0 4 0 2 0-60 2 2 0 2 0 2 0 18 0 30 0 6 0 4 0-62 2 4 0 2 0 4 0 2 0 2 0 8 0 12 0 12 0 4 0 6 0-56 2 2 0 2 0 4 0 2 0 2 0 2 0 2 0 6 0 4 0 14 0 4 0 2 0 6 0 2 0 4 0 2 0-60 2 4 0 2 0 2 0 4 0 2 0 2 0 2 0 4 0 2 0 6 0 2 0 2 0 2 0 6 0 2 0 2 0 4 0 4 0 4 0 2 0-58 2 2 0 2 0 2 0 2 0 2 0 2 0 2 0 2 0 2 0 2 0 2 0 2 0 10 0 10 0 2 0 4 0 2 0 2 0 4 0 2 0-62 2 2 0 2 0 2 0 2 0 2 0 2 0 2 0 2 0 2 0 2 0 2 0 2 0 2 0 10 0 4 0 4 0 2 0 2 0 2 0 4 0 2 0-58 2 2 0 4 0 4 0 2 0 2 0 2 0 4 0 4 0 2 0 2 0 2 0 10 0 2 0 4 0 2 0 2 0 2 0 2 0 2 0 2 0 2 0 2 0 2 0-64 2 2 0 2 0 2 0 2 0 2 0 4 0 4 0 2 0 2 0 4 0 2 0 2 0 2 0 2 0 4 0 2 0 4 0 2 0 2 0 2 0 2 0 2 0 2 0 2 0 4 0-62 2 2 0 2 0 2 0 4 0 4 0 2 0 2 0 2 0 4 0 4 0 2 0 2 0 2 0 2 0 2 0 2 0 4 0 2 0 2 0 2 0 2 0-54 2 2 0 2 0 2 0 2 0 4 0 4 0 4 0 2 0 8 0 6 0 2 0 2 0 2 0 4 0 4 0 2 0 12 0-58 2 2 0 4 0 2 0 2 0 2 0 2 0 10 0 2 0 6 0 4 0 6 0-44 2 2 0 4 0 2 0 2 0 2 0 2 0 4 0 8 0 10 0 4 0 2 0 2 0-42 2 2 0 4 0 2 0 2 0 2 0-10 2 2 0 2 0 2 0 4 0-6 2 2 0 2 0 6 0-18 2 6 0 2 0-6 2 6 0-8 2 6 0 2 0-6 2 4 0 0 6" marker-start="url(#j4)" marker-mid="url(#j4)" marker-end="url(#j4)"/><path d="m214 784 2 2-2 2 2 0-4 2-2 4 2 0 2 0 2 0-4 2 2 0-4 2 2 0 2 0 2 0-6 2 2 0 2 0 2 0 2 0-8 2 2 0 4 0-6 2 2 0 2 0 2 0-8 2 2 0 2 0 2 0 2 0-6 2 2 0 2 0-2 2 2 0 2 0-6 2 6 0 2 0-6 2 2 0 2 0-8 2 4 0 2 0 4 0-6 2 2 0 2 0 2 0-8 2 2 0 2 0 2 0-8 2 2 0 2 0 2 0 2 0 2 0-8 2 2 0 2 0 2 0-8 2 2 0 2 0 2 0 2 0-6 2 4 0-4 2 2 0 2 0-4 2 2 0 2 0 2 0-4 2 2 0 2 0-6 2 2 0 2 0-4 2 2 0 2 0 2 0-8 2 2 0 4 0 4 0-8 2 6 0-4 2 2 2 0 2-2 2 2 0-2 2 2 6 0 4 2 0 44 0 0 2 2 0 2 0-48 2 42 0 2 0 2 0 4 0-8 2 2 0 4 0 2 0-50 2 44 0 2 0 2 0 2 0 2 0-8 2 2 0 2 0 2 0 2 0-56 2 46 0 2 0 2 0 4 0 2 0-10 2 2 0 2 0 2 0 2 0-8 2 2 0 2 0 2 0 2 0 2 0-6 2 2 0 4 0-6 2 4 0 2 0-6 2 4 0 4 0-58 2 46 0 6 0 2 0-56 2 2 0-4 2 2 0 2 0 2 0-4 2 2 0 2 0 2 0 50 0 2 0-60 2 2 0 2 0 2 0 2 0 2 0 2 0 10 0 14 0 22 0-56 2 2 0 4 0 6 0 2 0 18 0 18 0 2 0 2 0-56 2 2 0 4 0 2 0 2 0 6 0 6 0 16 0 2 0 6 0 4 0 4 0 2 0-56 2 4 0 2 0 2 0 2 0 2 0 6 0 4 0 26 0 2 0 4 0 2 0-56 2 4 0 2 0 2 0 2 0 2 0 2 0 4 0 2 0 2 0 2 0 4 0 2 0 10 0 2 0 2 0 4 0 2 0 2 0 4 0-56 2 2 0 2 0 2 0 2 0 2 0 2 0 2 0 2 0 2 0 2 0 4 0 2 0 4 0 16 0 4 0-50 2 4 0 2 0 2 0 2 0 2 0 2 0 2 0 2 0 2 0 4 0 4 0 8 0 16 0-52 2 2 0 2 0 2 0 2 0 2 0 2 0 4 0 2 0 4 0 10 0 4 0 2 0-36 2 2 0 2 0 2 0 2 0 2 0 2 0 2 0 12 0-24 2 2 0 2 0 6 0-12 2 4 0 2 0 2 4-4 6" marker-start="url(#j5)" marker-mid="url(#j5)" marker-end="url(#j5)"/><path d="m214 790-2 4 2 0 2 0-4 2 2 0-4 2 2 0 2 0 2 0-2 2 2 0 2 0-8 2 2 0 2 0-4 2 2 0 4 0-6 4 4 0-2 2 2 0 2 0 2 0-6 2 4 0-6 2 2 0 2 0 2 0-6 2 2 0 2 0 2 0-6 2 2 0 4 0-4 2 2 0 2 0-6 2 4 0 2 0-6 2 2 0 2 0 2 0-4 2 2 0 2 0-8 2 2 0 2 0 2 0 2 0-6 2 2 0 2 0 2 0-6 2 2 0 2 0-2 2 2 0 0 4 0 10 50 18 0 2-4 2 2 0 2 0 2 0-2 2 2 0-6 2 2 0-2 2 4 0 4 0-4 2 2 0-4 2 2 0 2 0-2 2 0 2-54 8 42 0-34 2 0 2-8 2 4 0 4 0-2 2 2 0 2 0 14 0 30 0-54 2 4 0 4 0 2 0 2 0 2 0 2 0-16 2 6 0 2 0 2 0 4 0 2 0 4 0 4 0 2 0-24 2 2 0 2 0 2 0 2 0 6 0-18 2 6 0 2 0 4 0 2 0 2 0 2 0 16 0-32 2 2 0 2 0-2 2 2 0" marker-start="url(#j6)" marker-mid="url(#j6)" marker-end="url(#j6)"/><path d="m210 798 2 0 6 2-8 4 0 2 2 0 0 4 2 0 0 4 0 2 2 0-4 2 2 0 2 0 2 0-4 2-2 2 0 2 2 0-2 2 2 0 2 0-6 2 2 0 2 0-4 2 2 0 4 0-6 2 2 0 2 0-2 6 50 38 6 0-8 2-36 18-8 2 4 0 2 0-6 2 6 0-8 4 6 0 12 0-12 2 4 0-12 4 6 0" marker-start="url(#j7)" marker-mid="url(#j7)" marker-end="url(#j7)"/><path d="m214 800 0 4-2 4 2 2 0 2-2 2 2 0 2 0-2 2-2 2 0 4 0 4 2 0 2 0-4 2-2 2 2 0 54 38-6 2 4 4-52 24 8 4" marker-start="url(#j8)" marker-mid="url(#j8)" marker-end="url(#j8)"/></g><rect x="150.7" y="672.9" width="341.3" height="320.3" fill="none" stroke="#9a9a9a" stroke-width="1.2"/><rect x="177.3" y="693.7" width="282.8" height="185.6" fill="none" stroke="#000" stroke-width="2.2"/><path d="M142 992.5h9M142 898.3h9M142 805.3h9M142 711.3h9" stroke="#222" stroke-width="1.8" fill="none"/><path d="M146.5 964.1h4.5M146.5 947.6h4.5M146.5 935.8h4.5M146.5 926.7h4.5M146.5 919.2h4.5M146.5 912.9h4.5M146.5 907.4h4.5M146.5 902.6h4.5M146.5 870.3h4.5M146.5 853.9h4.5M146.5 842.3h4.5M146.5 833.3h4.5M146.5 825.9h4.5M146.5 819.7h4.5M146.5 814.3h4.5M146.5 809.6h4.5M146.5 777h4.5M146.5 760.5h4.5M146.5 748.7h4.5M146.5 739.6h4.5M146.5 732.2h4.5M146.5 725.9h4.5M146.5 720.4h4.5M146.5 715.6h4.5M146.5 683h4.5" stroke="#222" stroke-width="1.1" fill="none"/><text x="111.7" y="999.9" font-size="12.2" textLength="15.8" lengthAdjust="spacingAndGlyphs" fill="#222">10</text><text x="127.4" y="991.8" font-size="11.5" textLength="5.1" lengthAdjust="spacingAndGlyphs" fill="#222">1</text><text x="111.7" y="905.7" font-size="12.2" textLength="15.8" lengthAdjust="spacingAndGlyphs" fill="#222">10</text><text x="127.5" y="897.6" font-size="11.3" textLength="6.6" lengthAdjust="spacingAndGlyphs" fill="#222">2</text><text x="111.7" y="812.7" font-size="12.2" textLength="15.8" lengthAdjust="spacingAndGlyphs" fill="#222">10</text><text x="127.7" y="804.6" font-size="11.3" textLength="6.3" lengthAdjust="spacingAndGlyphs" fill="#222">3</text><text x="111.7" y="718.7" font-size="12.2" textLength="15.8" lengthAdjust="spacingAndGlyphs" fill="#222">10</text><text x="127.9" y="710.6" font-size="11.5" textLength="5.9" lengthAdjust="spacingAndGlyphs" fill="#222">4</text><path d="M151.8 993.2v10M216.3 993.2v10M280.8 993.2v10M345.3 993.2v10M409.8 993.2v10M474.3 993.2v10" stroke="#222" stroke-width="2" fill="none"/><path d="M164.7 993.2v5M177.6 993.2v5M190.5 993.2v5M203.4 993.2v5M229.2 993.2v5M242.1 993.2v5M255 993.2v5M267.9 993.2v5M293.7 993.2v5M306.6 993.2v5M319.5 993.2v5M332.4 993.2v5M358.2 993.2v5M371.1 993.2v5M384 993.2v5M396.9 993.2v5M422.7 993.2v5M435.6 993.2v5M448.5 993.2v5M461.4 993.2v5" stroke="#222" stroke-width="1.2" fill="none"/><text x="150" y="1017" font-size="12.5" textLength="7.5" lengthAdjust="spacingAndGlyphs" fill="#333">0</text><text x="204.1" y="1017" font-size="12.5" textLength="24" lengthAdjust="spacingAndGlyphs" fill="#333">50K</text><text x="264.6" y="1017" font-size="12.5" textLength="31.5" lengthAdjust="spacingAndGlyphs" fill="#333">100K</text><text x="329.1" y="1017" font-size="12.5" textLength="31.5" lengthAdjust="spacingAndGlyphs" fill="#333">150K</text><text x="393.8" y="1017" font-size="12.5" textLength="31.5" lengthAdjust="spacingAndGlyphs" fill="#333">200K</text><text x="458.3" y="1017" font-size="12.5" textLength="31.5" lengthAdjust="spacingAndGlyphs" fill="#333">250K</text><text x="260.7" y="661.5" font-size="29.9" textLength="110.4" lengthAdjust="spacingAndGlyphs" fill="#000">Control</text><text x="184" y="718.4" font-size="22.1" font-weight="bold" textLength="82.1" lengthAdjust="spacingAndGlyphs" fill="#000">CDT1 +</text><text x="199.2" y="751.8" font-size="23.1" font-weight="bold" textLength="50.8" lengthAdjust="spacingAndGlyphs" fill="#000">48.9</text><path d="M91.2 926.3V1027.2H178.3" stroke="#000" stroke-width="4.5" fill="none" stroke-linejoin="miter"/><path d="M91.2 914.3l7 13h-14z" fill="#000"/><path d="M190.3 1027.2l-13 7v-14z" fill="#000"/><text transform="translate(77.2 1013.3) rotate(-90)" x="-0.9" y="0" font-size="24.2" font-weight="bold" textLength="58.9" lengthAdjust="spacingAndGlyphs" fill="#000">CDT1</text><text x="108.2" y="1065" font-size="21.2" font-weight="bold" textLength="56.4" lengthAdjust="spacingAndGlyphs" fill="#000">DAPI</text><g fill="none" stroke="none"><path d="m619 703-23 9 59 0-14 5-3 1 85 6-41 1-57 1 18 1 117 0 7 0-142 1 26 0 130 0-192 1 164 0 51 0 23 0-173 1 6 0-40 1 38 0 96 0-26 1 15 0 7 0-120 1 1 0 22 0 95 0 7 0 9 0 20 0 10 0-58 1 1 0 36 0 38 0-205 1 125 0 2 0 7 0 20 0 14 0 22 0-191 1 5 0 110 0 20 0 8 0 13 0 7 0 3 0 2 0 4 0 8 0 5 0 2 0 2 0 14 0-133 1 84 0 9 0 26 0 8 0-179 1 16 0 6 0 88 0 3 0 11 0 5 0 2 0 13 0 7 0 23 0 9 0 9 0-173 1 22 0 69 0 8 0 3 0 4 0 11 0 8 0 24 0-160 1 59 0 29 0 3 0 5 0 19 0 3 0 45 0-185 1 48 0 6 0 35 0 26 0 7 0 6 0 6 0 2 0 6 0 1 0 25 0 5 0 14 0-168 1 68 0 10 0 3 0 5 0 8 0 3 0 3 0 12 0 6 0 1 0 2 0 11 0 2 0 8 0 2 0 3 0 7 0 24 0 3 0 6 0 1 0-133 1 23 0 9 0 2 0 1 0 29 0 2 0 4 0 4 0 11 0 15 0 3 0 30 0 19 0-182 1 59 0 21 0 1 0 13 0 13 0 2 0 3 0 2 0 11 0 3 0 16 0 5 0 9 0 15 0-206 1 5 0 13 0 5 0 10 0 1 0 42 0 6 0 6 0 19 0 10 0 10 0 7 0 12 0 3 0 6 0 5 0 8 0 18 0 11 0 9 0-187 1 2 0 21 0 20 0 18 0 5 0 5 0 4 0 18 0 4 0 2 0 4 0 1 0 6 0 3 0 14 0 29 0 6 0 4 0 13 0-176 1 46 0 11 0 4 0 1 0 7 0 10 0 22 0 12 0 14 0 4 0 28 0 8 0 11 0-217 1 21 0 2 0 5 0 33 0 6 0 22 0 18 0 4 0 2 0 2 0 4 0 5 0 12 0 10 0 15 0 4 0 3 0 22 0 6 0 3 0-173 1 4 0 4 0 5 0 18 0 15 0 30 0 2 0 13 0 7 0 17 0 3 0 24 0 13 0 2 0 4 0 21 0-174 1 9 0 1 0 42 0 3 0 1 0 11 0 2 0 4 0 6 0 4 0 17 0 4 0 18 0 1 0 1 0 4 0 14 0 4 0 15 0 5 0 10 0 1 0 10 0-230 1 25 0 20 0 5 0 4 0 6 0 2 0 23 0 7 0 14 0 3 0 22 0 10 0 60 0 3 0 3 0 4 0-167 1 7 0 6 0 1 0 5 0 4 0 3 0 1 0 16 0 1 0 5 0 7 0 7 0 2 0 4 0 1 0 4 0 5 0 5 0 5 0 6 0 42 0 12 0 12 0 9 0 9 0-194 1 4 0 5 0 6 0 4 0 19 0 14 0 9 0 14 0 13 0 15 0 6 0 2 0 13 0 12 0 17 0 20 0 2 0 2 0 2 0-180 1 5 0 21 0 4 0 19 0 2 0 15 0 2 0 9 0 15 0 4 0 10 0 6 0 1 0 3 0 3 0 23 0 7 0 7 0 4 0 11 0 5 0 32 0-223 1 6 0 22 0 27 0 8 0 5 0 9 0 4 0 3 0 6 0 17 0 7 0 10 0 6 0 8 0 29 0 8 0 1 0-135 1 10 0 5 0 5 0 13 0 5 0 4 0 10 0 2 0 1 0 3 0 12 0 9 0 2 0 6 0 4 0 3 0 13 0 25 0 28 0-212 1 20 0 11 0 5 0 8 0 1 0 1 0 28 0 9 0 9 0 9 0 1 0 13 0 5 0 5 0 3 0 12 0 44 0 1 0 2 0 8 0 3 0 7 0 6 0-165 1 4 0 11 0 3 0 8 0 1 0 9 0 10 0 10 0 8 0 10 0 66 0 4 0 16 0 8 0-180 1 11 0 21 0 4 0 19 0 16 0 4 0 6 0 18 0 5 0 62 0 10 0 6 0-201 1 9 0 7 0 26 0 13 0 16 0 2 0 23 0 3 0 2 0 8 0 16 0 1 0 3 0 41 0 8 0 3 0 6 0 1 0-209 1 38 0 4 0 23 0 8 0 28 0 4 0 5 0 40 0 3 0 9 0 15 0 6 0 9 0 7 0 5 0 16 0-217 1 62 0 9 0 4 0 4 0 4 0 5 0 5 0 18 0 8 0 16 0 8 0 50 0 4 0 27 0 3 0-228 1 41 0 7 0 3 0 16 0 13 0 5 0 15 0 9 0 9 0 27 0 50 0 4 0 3 0 9 0 7 0-206 1 27 0 7 0 5 0 6 0 8 0 17 0 3 0 5 0 3 0 8 0 1 0 8 0 7 0 79 0 4 0 9 0 5 0-188 1 17 0 1 0 5 0 24 0 5 0 7 0 6 0 6 0 5 0 3 0 11 0 7 0 1 0 51 0 20 0 10 0-184 1 2 0 3 0 3 0 13 0 10 0 36 0 1 0 7 0 2 0 1 0 7 0 8 0 1 0 2 0 7 0 14 0 3 0 54 0 15 0 2 0 24 0-220 1 21 0 2 0 9 0 3 0 30 0 4 0 14 0 12 0 2 0 68 0 10 0 1 0 1 0 4 0 1 0 11 0 3 0 2 0-177 1 11 0 23 0 19 0 4 0 7 0 4 0 9 0 11 0 41 0 10 0 5 0 7 0 20 0-182 1 1 0 9 0 38 0 4 0 5 0 10 0 13 0 7 0 9 0 43 0 6 0 17 0 4 0 4 0 3 0 3 0 1 0 8 0 8 0-178 1 3 0 40 0 13 0 10 0 7 0 12 0 15 0 8 0 31 0 18 0 3 0 8 0 3 0 1 0 9 0 5 0 3 0-219 1 5 0 17 0 10 0 27 0 31 0 2 0 36 0 23 0 15 0 10 0 14 0-174 1 6 0 4 0 3 0 49 0 1 0 8 0 4 0 6 0 2 0 8 0 45 0 8 0 2 0 20 0 12 0 9 0-194 1 11 0 63 0 7 0 5 0 5 0 11 0 35 0 6 0 7 0 3 0 17 0 11 0 23 0-201 1 13 0 53 0 16 0 10 0 7 0 22 0 4 0 4 0 4 0 2 0 10 0 28 0 8 0 9 0-203 1 8 0 7 0 9 0 5 0 2 0 1 0 5 0 50 0 13 0 34 0 13 0 32 0 1 0 1 0 1 0-175 1 6 0 2 0 13 0 38 0 21 0 6 0 8 0 15 0 5 0 1 0 17 0 20 0 8 0 1 0 5 0 3 0 12 0 3 0-164 1 7 0 45 0 11 0 4 0 1 0 24 0 1 0 14 0 4 0 2 0 28 0 6 0 12 0 1 0-186 1 1 0 62 0 16 0 17 0 9 0 4 0 50 0 3 0 9 0 2 0 2 0 11 0 3 0-188 1 9 0 9 0 2 0 5 0 7 0 39 0 12 0 15 0 59 0 2 0 1 0 36 0-194 1 1 0 12 0 1 0 5 0 4 0 44 0 17 0 23 0 3 0 30 0 9 0 18 0 2 0 13 0 5 0 27 0-225 1 12 0 10 0 14 0 2 0 43 0 7 0 6 0 8 0 10 0 11 0 6 0 34 0 6 0 2 0 4 0 4 0 1 0 12 0 38 0-219 1 11 0 6 0 2 0 6 0 5 0 36 0 29 0 18 0 19 0 3 0 22 0 7 0 5 0-181 1 4 0 2 0 9 0 1 0 5 0 2 0 9 0 4 0 1 0 9 0 43 0 7 0 2 0 25 0 28 0 12 0 6 0 10 0-169 1 1 0 12 0 15 0 3 0 47 0 11 0 9 0 48 0 10 0 14 0 4 0 4 0 23 0-206 1 4 0 12 0 62 0 1 0 6 0 5 0 24 0 12 0 16 0 8 0 5 0 1 0 7 0 18 0 11 0-191 1 6 0 4 0 15 0 2 0 9 0 38 0 1 0 11 0 11 0 11 0 18 0 8 0 2 0 5 0 34 0 8 0-173 1 8 0 3 0 7 0 1 0 5 0 37 0 14 0 2 0 10 0 18 0 15 0 4 0 14 0 3 0 5 0-161 1 4 0 20 0 3 0 1 0 4 0 11 0 1 0 45 0 4 0 3 0 6 0 25 0 13 0 2 0 7 0 1 0 11 0-151 1 18 0 4 0 4 0 75 0 9 0 1 0 7 0 3 0 4 0 10 0 3 0 1 0 2 0 16 0-164 1 9 0 76 0 2 0 9 0 39 0 14 0 8 0-159 1 14 0 4 0 5 0 17 0 33 0 20 0 4 0 14 0 22 0 2 0 1 0 3 0 3 0 2 0 12 0 1 0-153 1 8 0 11 0 18 0 41 0 5 0 13 0 15 0 2 0 7 0 3 0 24 0 1 0-152 1 27 0 9 0 52 0 6 0 4 0 10 0 2 0 4 0 2 0 13 0 2 0 19 0 8 0 3 0-168 1 11 0 14 0 9 0 5 0 2 0 47 0 10 0 3 0 11 0 7 0 16 0 3 0 1 0 7 0 9 0 7 0 24 0-153 1 1 0 53 0 10 0 4 0 11 0 1 0 4 0 19 0 5 0 6 0 33 0-175 1 16 0 4 0 2 0 2 0 1 0 7 0 7 0 4 0 45 0 17 0 11 0 18 0 18 0-136 1 18 0 1 0 8 0 1 0 42 0 1 0 2 0 2 0 10 0 12 0 7 0 3 0 10 0 1 0 6 0-141 1 24 0 20 0 35 0 4 0 13 0 14 0 14 0 4 0 18 0 55 0-189 1 13 0 13 0 9 0 32 0 9 0 2 0 22 0 3 0 1 0 2 0 2 0 2 0 13 0 7 0 25 0-129 1 3 0 42 0 1 0 10 0 1 0 4 0 35 0 13 0-136 1 5 0 3 0 2 0 4 0 6 0 9 0 6 0 48 0 10 0 1 0 2 0 22 0 4 0 16 0-133 1 7 0 11 0 4 0 36 0 7 0 19 0 15 0-102 1 16 0 2 0 8 0 11 0 31 0 8 0 8 0 13 0-108 1 8 0 17 0 21 0 3 0 58 0 6 0 3 0 9 0 3 0 56 0-179 1 4 0 3 0 9 0 8 0 5 0 1 0 4 0 5 0 25 0 13 0 29 0-85 1 9 0 5 0 4 0 27 0 13 0-78 1 1 0 15 0 3 0 2 0 2 0 3 0 50 0 3 0 77 0-156 1 7 0 5 0 24 0 2 0 34 0 21 0 29 0-123 1 6 0 15 0 5 0 5 0 32 0 9 0 1 0 26 0 17 0 8 0 87 0-225 1 30 0 16 0 14 0 2 0 13 0 8 0 4 0 9 0-71 1 7 0 1 0 20 0 12 0 9 0 8 0 14 0 14 0 1 0 100 0-200 1 18 0 3 0 4 0 5 0 15 0 3 0 7 0 11 0 1 0 4 0 1 0 33 0 14 0-117 1 4 0 9 0 15 0 3 0 3 0 5 0 12 0 10 0 2 0 4 0 5 0 8 0-77 1 15 0 27 0 2 0 3 0 31 0 4 0-63 1 6 0 13 0 12 0 1 0 1 0 11 0 10 0 42 0-101 1 5 0 2 0 2 0 8 0 5 0 17 0 5 0 28 0 72 0-157 1 2 0 1 0 10 0 4 0 9 0 1 0 17 0 3 0 7 0 2 0 6 0-57 1 2 0 2 0 2 0 3 0 31 0 3 0 9 0-78 1 35 0 3 0 4 0 9 0 5 0 1 0 3 0 11 0 1 0 9 0 4 0 13 0 9 0-80 1 6 0 17 0 33 0 48 0 52 0-172 1 21 0 5 0 11 0 1 0 1 0 3 0 9 0 1 0 2 0 6 0 2 0 6 0 1 0 4 0 23 0-87 1 25 0 33 0-62 1 28 0 2 0 27 0 8 0 10 0 11 0-71 1 5 0 11 0 4 0 1 0 9 0 5 0 7 0 3 0 1 0 2 0-35 1 7 0 4 0 1 0 1 0 3 0 19 0-31 1 5 0 4 0 1 0 6 0 8 0 2 0 5 0-45 1 3 0 2 0 8 0 27 0-59 1 35 0 6 0 3 0 6 0 1 0 5 0 23 0 101 0-177 1 15 0 7 0 7 0 16 0 3 0 2 0 5 0 4 0-49 1 1 0 5 0 1 0 4 0 11 0 7 0 16 0 11 0-74 1 27 0 16 0 19 0 5 0 2 0 32 0 78 0 35 0-217 1 12 0 2 0 7 0 5 0 2 0 27 0 6 0 4 0-53 1 10 0 11 0 1 0 4 0 4 0 8 0 2 0 12 0 5 0 8 0 103 0-158 1 18 0 6 0 1 0 6 0 1 0 7 0 72 0-118 1 4 0 2 0 31 0 5 0 3 0 46 0-103 1 11 0 1 0 5 0 2 0 18 0 4 0 37 0 5 0 3 0 2 0 31 0-101 1 3 0 11 0 6 0 4 0 4 0 9 0 7 0 4 0 1 0-93 1 35 0 7 0 9 0 4 0 13 0-17 1 1 0 16 0 15 0 4 0 12 0 162 0-200 1 6 0 10 0 1 0 5 0 7 0 1 0 5 0-69 1 11 0 7 0 2 0 9 0 4 0 25 0 4 0 11 0-62 1 11 0 16 0 8 0 1 0 8 0 9 0 1 0 12 0 1 0-72 1 5 0 1 0 12 0 18 0 28 0 25 0-89 1 16 0 6 0 17 0 4 0 9 0 4 0 7 0-67 1 15 0 6 0 15 0 11 0 1 0 1 0 2 0 18 0-80 1 20 0 2 0 22 0 7 0 2 0 2 0 13 0 10 0 2 0 53 0 104 0-221 1 4 0 1 0 2 0 28 0 11 0 2 0 1 0 34 0 86 0-174 1 13 0 7 0 16 0 17 0 5 0 5 0 12 0 130 0-202 1 4 0 1 0 5 0 39 0 9 0 1 0 4 0 81 0-149 1 6 0 16 0 5 0 1 0 8 0 21 0 4 0 17 0 7 0-73 1 11 0 9 0 5 0 13 0 24 0 87 0 6 0-154 1 4 0 15 0 2 0 4 0 5 0 10 0 3 0 7 0 4 0 4 0 81 0-129 1 3 0 4 0 11 0 4 0 5 0 13 0 2 0 9 0-74 1 12 0 10 0 5 0 9 0 12 0 3 0 2 0 7 0 5 0 7 0 95 0-166 1 8 0 2 0 29 0 6 0 2 0 7 0 6 0 8 0 5 0 4 0 27 0 81 0-164 1 32 0 2 0 1 0 6 0 3 0 17 0-64 1 5 0 20 0 18 0 5 0-57 1 6 0 2 0 3 0 14 0 5 0 3 0 5 0 2 0 1 0 10 0 7 0 120 0-186 1 9 0 9 0 4 0 3 0 1 0 11 0 6 0 7 0 10 0 155 0-221 1 18 0 3 0 2 0 13 0 4 0 18 0 18 0 2 0 2 0 120 0 35 0-221 1 16 0 7 0 23 0 6 0 9 0-65 1 3 0 10 0 2 0 26 0 2 0 4 0 2 0 14 0 8 0 2 0 14 0-90 1 17 0 10 0 1 0 22 0 4 0 5 0 17 0-77 1 5 0 1 0 13 0 12 0 7 0 2 0 16 0 1 0 5 0 3 0-75 1 16 0 5 0 9 0 2 0 42 0 8 0-69 1 3 0 4 0 2 0 2 0 3 0 14 0 15 0 1 0 2 0-42 1 17 0 1 0 23 0 6 0 1 0 4 0 4 0-48 1 3 0 20 0 1 0 7 0 1 0 9 0 2 0-48 1 7 0 12 0 13 0 1 0 18 0-65 1 13 0 14 0 1 0 1 0 13 0 5 0 9 0 2 0 8 0 1 0-55 1 25 0 11 0 1 0 10 0 4 0 3 0 3 0 7 0-69 1 1 0 2 0 9 0 15 0 3 0 17 0-37 1 18 0 3 0 3 0 10 0 23 0-95 1 37 0 4 0 4 0 5 0 1 0 5 0 7 0 9 0 13 0-46 1 3 0 1 0 4 0 1 0 32 0 1 0 3 0 14 0-70 1 4 0 9 0 5 0 4 0 3 0 10 0 33 0-46 1 2 0 5 0 12 0 6 0 8 0-43 1 11 0 4 0 23 0 2 0-34 1 7 0 9 0 8 0-33 1 12 0 5 0 6 0 1 0 1 0 8 0 7 0 4 0-23 1 9 0 2 0 4 0-45 1 17 0 15 0-57 1 51 0 3 0 42 0-60 1 5 0 21 0-24 1 10 0 18 0-27 1 7 0 19 0-11 1 11 0-4 1 8 0-16 1 13 0-7 1-7 2 28 0-58 4 26 0 25 1-32 3-15 2 6 3-19 6-22 3 52 1 28 5-35 4-1 1 8 3-44 1 63 1 42 1 7 3 11 2-54 5 26 0-92 1 84 1-48 4 18 2 33 0-60 2 10 0 49 3 31 1-24 5" marker-start="url(#j0)" marker-mid="url(#j0)" marker-end="url(#j0)"/><path d="m771 737-34 2 41 0-3 1 8 0 3 0 1 0-72 1 52 0 8 0 9 0 2 0-75 1 34 0 24 0 12 0 6 0-34 1 1 0 8 0 13 0 9 0-58 1 12 0 1 0 18 0 1 0 30 0 2 0 5 0-72 1 2 0 1 0 16 0 32 0 8 0 7 0-85 1 44 0 8 0 2 0 5 0 9 0 4 0 2 0 2 0 3 0 7 0-76 1 7 0 3 0 24 0 9 0 5 0 14 0 6 0 4 0-137 1 63 0 34 0 5 0 1 0 1 0 9 0 6 0 16 0 5 0 1 0-143 1 41 0 2 0 50 0 3 0 38 0 1 0 25 0-141 1 51 0 3 0 4 0 5 0 11 0 2 0 21 0 4 0 1 0 5 0 5 0 8 0 17 0 3 0-159 1 70 0 2 0 18 0 4 0 6 0 1 0 2 0 3 0 4 0 23 0 2 0 9 0 3 0 12 0-142 1 1 0 28 0 12 0 11 0 11 0 11 0 9 0 9 0 8 0 6 0 2 0 16 0-136 1 39 0 36 0 4 0 1 0 6 0 10 0 2 0 3 0 25 0-131 1 3 0 38 0 19 0 7 0 11 0 4 0 10 0 2 0 14 0 1 0 5 0 5 0 1 0 6 0 1 0 6 0 4 0 3 0 2 0 8 0 3 0-129 1 36 0 7 0 2 0 7 0 6 0 1 0 4 0 2 0 5 0 8 0 2 0 2 0 14 0 3 0 5 0 10 0 3 0 1 0 1 0 4 0-143 1 2 0 2 0 6 0 13 0 3 0 17 0 16 0 2 0 3 0 9 0 3 0 18 0 2 0 5 0 1 0 5 0 4 0 2 0 3 0 6 0 5 0 12 0 5 0-145 1 1 0 4 0 15 0 13 0 14 0 8 0 3 0 2 0 16 0 11 0 13 0 1 0 14 0 9 0 6 0 6 0 4 0 7 0 7 0-158 1 1 0 1 0 1 0 5 0 1 0 3 0 15 0 13 0 2 0 9 0 15 0 9 0 4 0 1 0 13 0 12 0 6 0 6 0 4 0 19 0 10 0 5 0-155 1 3 0 2 0 8 0 3 0 2 0 43 0 3 0 7 0 2 0 1 0 1 0 3 0 4 0 2 0 11 0 14 0 3 0 5 0 1 0 6 0 6 0 4 0 15 0 4 0 1 0-153 1 12 0 2 0 12 0 1 0 2 0 3 0 2 0 10 0 5 0 33 0 5 0 13 0 9 0 8 0 1 0 12 0 21 0-144 1 9 0 11 0 2 0 4 0 3 0 3 0 3 0 3 0 1 0 5 0 6 0 5 0 5 0 3 0 9 0 13 0 1 0 23 0 14 0 1 0 16 0 4 0-153 1 3 0 1 0 8 0 1 0 1 0 8 0 26 0 6 0 13 0 3 0 3 0 1 0 5 0 6 0 1 0 4 0 8 0 6 0 27 0 1 0 5 0 2 0 8 0 8 0-160 1 4 0 5 0 13 0 13 0 6 0 1 0 7 0 14 0 2 0 10 0 11 0 7 0 17 0 3 0 8 0 6 0 2 0 6 0-138 1 4 0 1 0 2 0 2 0 4 0 21 0 13 0 38 0 3 0 6 0 12 0 3 0 3 0 8 0 4 0 7 0 13 0 3 0 9 0 8 0-165 1 10 0 38 0 2 0 6 0 8 0 2 0 1 0 3 0 10 0 5 0 1 0 1 0 6 0 11 0 2 0 3 0 4 0 16 0 2 0 4 0 5 0 17 0 3 0 1 0-180 1 1 0 30 0 1 0 26 0 1 0 12 0 23 0 27 0 21 0 2 0 2 0 1 0 11 0 2 0 18 0 2 0 2 0 1 0-163 1 7 0 14 0 2 0 1 0 5 0 8 0 2 0 8 0 3 0 13 0 5 0 6 0 1 0 12 0 14 0 9 0 2 0 7 0 1 0 4 0 13 0 6 0 1 0-164 1 3 0 12 0 55 0 1 0 27 0 3 0 1 0 9 0 14 0 5 0 19 0 15 0 10 0 4 0-156 1 27 0 3 0 16 0 2 0 8 0 10 0 10 0 6 0 5 0 2 0 8 0 10 0 8 0 4 0 4 0 7 0 26 0-155 1 7 0 14 0 5 0 1 0 5 0 2 0 3 0 2 0 8 0 21 0 5 0 1 0 7 0 5 0 16 0 10 0 1 0 11 0 4 0 2 0-136 1 34 0 2 0 17 0 1 0 6 0 10 0 19 0 5 0 15 0 9 0 1 0 13 0 2 0 2 0 2 0 3 0 1 0 2 0-141 1 4 0 27 0 40 0 4 0 2 0 3 0 1 0 1 0 14 0 2 0 14 0 11 0 7 0 1 0 17 0-152 1 6 0 3 0 3 0 1 0 24 0 5 0 2 0 4 0 1 0 4 0 3 0 14 0 1 0 1 0 8 0 3 0 13 0 23 0 3 0 16 0-89 1 6 0 20 0 6 0 3 0 3 0 5 0 4 0 13 0 13 0 3 0 3 0 4 0 1 0 2 0 2 0 1 0 7 0-157 1 19 0 3 0 32 0 1 0 12 0 3 0 5 0 1 0 32 0 3 0 1 0 10 0 2 0 7 0 1 0 1 0 11 0 3 0 5 0 2 0 13 0-118 1 1 0 2 0 9 0 4 0 10 0 15 0 5 0 22 0 7 0 9 0 2 0 11 0-143 1 11 0 5 0 31 0 1 0 2 0 2 0 10 0 9 0 7 0 2 0 6 0 10 0 21 0 3 0 3 0 1 0 1 0 8 0 1 0-123 1 4 0 37 0 5 0 4 0 13 0 6 0 7 0 29 0 3 0 2 0 10 0 10 0-143 1 10 0 5 0 30 0 7 0 6 0 5 0 5 0 4 0 1 0 5 0 5 0 8 0 14 0 16 0 3 0 2 0 3 0 6 0 1 0-126 1 9 0 39 0 6 0 5 0 9 0 3 0 1 0 1 0 3 0 3 0 1 0 4 0 8 0 10 0 17 0 1 0 2 0 4 0 2 0 4 0-145 1 2 0 2 0 19 0 29 0 8 0 4 0 14 0 8 0 4 0 7 0 4 0 3 0 10 0 1 0 17 0 2 0 1 0 17 0-155 1 5 0 12 0 2 0 6 0 29 0 2 0 3 0 3 0 7 0 8 0 8 0 2 0 23 0 2 0 2 0 1 0 3 0 2 0 7 0 1 0 6 0 1 0 5 0-140 1 3 0 56 0 19 0 13 0 4 0 14 0 6 0 1 0 3 0 8 0 7 0 1 0-128 1 20 0 27 0 12 0 16 0 2 0 1 0 8 0 1 0 2 0 8 0 11 0 1 0 5 0 2 0 22 0-129 1 4 0 32 0 1 0 1 0 1 0 3 0 3 0 1 0 3 0 2 0 15 0 4 0 5 0 1 0 2 0 8 0 6 0 14 0 1 0-110 1 7 0 7 0 29 0 8 0 18 0 9 0 2 0 10 0 3 0 4 0 1 0 3 0 14 0 1 0 4 0-120 1 5 0 7 0 1 0 2 0 33 0 7 0 29 0 1 0 4 0 19 0 5 0 6 0 2 0 4 0-131 1 4 0 4 0 8 0 32 0 4 0 3 0 6 0 10 0 2 0 2 0 4 0 14 0 6 0 2 0 12 0 7 0-114 1 7 0 5 0 1 0 58 0 7 0 4 0 3 0 4 0 3 0 37 0-138 1 4 0 10 0 5 0 26 0 8 0 3 0 18 0 8 0 4 0 1 0 2 0 2 0 4 0 4 0 1 0 4 0 7 0-124 1 20 0 2 0 1 0 2 0 8 0 29 0 24 0 9 0 6 0-93 1 5 0 4 0 6 0 2 0 7 0 4 0 26 0 7 0 4 0 4 0 12 0 14 0 13 0 1 0 4 0 3 0-113 1 4 0 2 0 12 0 4 0 1 0 6 0 28 0 4 0 20 0 6 0 7 0 4 0 4 0-102 1 7 0 6 0 39 0 2 0 8 0 28 0 3 0-105 1 18 0 4 0 9 0 1 0 6 0 34 0 1 0 33 0-72 1 3 0 46 0-60 1 8 0 38 0 11 0 8 0 7 0-73 1 3 0 1 0 11 0 29 0 27 0-81 1 47 0 7 0 2 0 8 0 1 0 4 0-67 1 13 0 1 0 35 0 6 0 6 0 6 0 1 0-58 1 7 0 2 0 6 0 2 0 25 0 27 0-74 1 44 0 10 0-40 1 8 0 24 0-49 1 2 0 13 0 4 0 12 0 13 0 12 0-82 1 29 0 3 0 6 0 2 0 3 0 3 0 22 0 2 0-49 1 5 0 1 0 21 0-30 1 15 0 8 0 8 0 5 0 2 0 12 0 4 0-51 1 6 0 5 0 1 0 7 0 11 0 1 0 4 0 9 0 7 0 9 0-53 1 25 0 5 0 20 0-49 1 17 0 2 0 5 0 5 0 27 0-55 1 6 0 5 0 18 0-40 1 13 0 16 0 5 0 24 0-43 1 3 0 6 0 1 0 14 0 1 0 8 0 3 0-43 1 4 0 21 0 2 0 3 0 7 0 2 0-26 1 5 0 14 0 1 0 5 0 1 1-41 1 19 0 7 0 19 0-47 1 10 0 3 0 16 0 9 0-37 1 19 0 6 0 10 0 2 0-39 1 13 0 19 0 2 0-38 1 29 0 13 0 1 0-39 1 27 0 14 0-3 1-34 1 32 0-25 1 30 0 4 0-43 1 1 0 30 1 7 0-43 1 10 0-1 1 1 0 10 0 9 0 1 0-17 1 5 0 21 0-40 1 19 0 5 0 7 0-16 1 2 0 5 0 3 0 4 0 2 0-24 1 6 0 3 0 18 0-22 1 11 0 1 0 9 0-24 1 14 0 8 0-37 1 4 0 1 0 5 0 12 0 6 0 4 0 8 0-28 1 1 0 7 0 2 0 5 0 6 0-27 1 2 0 1 0 7 0 10 0 6 0 9 0-23 1 4 0 4 0 3 0 6 0 6 0-36 1 4 0 7 0 3 0 2 0 5 0 2 0 2 0 7 0 1 0-45 1 23 0 25 0-25 1 6 0 1 0 6 0 15 0 3 0-39 1 6 0 10 0 11 0 2 0 1 0 2 0 1 0-26 1 14 0 10 0 4 0-32 1 28 0 5 0 6 0 3 0-50 1 5 0 5 0 4 0 1 0 2 0 12 0 15 0 6 0-50 1 11 0 6 0 14 0 15 0-50 1 9 0 1 0 7 0 8 0 5 0 5 0 5 0-33 1 1 0 1 0 16 0 6 0 5 0 1 0 4 0-38 1 5 0 4 0 22 0 9 0 2 0 3 0-36 1 7 0 2 0 6 0 6 0-32 1 1 0 4 0 1 0 13 0 1 0 4 0 6 0 1 0-29 1 11 0 11 0 2 0 7 0 1 0 9 0 5 0-46 1 13 0 8 0 9 0 8 0-39 1 4 0 14 0 7 0 2 0 13 0-43 1 10 0 6 0 4 0 4 0 3 0 15 0-29 1 4 0 4 0 2 0 2 0 17 0-39 1 1 0 5 0 2 0 1 0 4 0 7 0 1 0 3 0 17 0 1 0 6 0 10 0-64 1 14 0 6 0 34 0-36 1 20 0 1 0 9 0-44 1 5 0 5 0 5 0 7 0 20 0-34 1 3 0 3 0 14 0 1 0 10 0 8 0-49 1 2 0 12 0 1 0 15 0 1 0 1 0 4 0 8 0-22 1 1 0 5 0 2 0 5 0 7 0 1 0 19 0-47 1 1 0 14 0 27 0-59 1 14 0 22 0 10 0-46 1 11 0 3 0 8 0 1 0 7 0 2 0 3 0 7 0 9 0 4 0-56 1 23 0 7 0 17 0-17 1 7 0 3 0-23 1 14 0 17 0-30 1 6 0 5 0 10 0-23 1 2 0 11 0 1 0 17 0-37 1 10 0 5 0 12 0 2 0 3 0 1 0 6 0-26 1 7 0-9 1 8 0 16 0 3 0-18 1 7 0 2 0 4 0-22 1 20 0-28 1 17 0 13 0-14 2 5 0-14 4" marker-start="url(#j1)" marker-mid="url(#j1)" marker-end="url(#j1)"/><path d="m756 743 24 0-54 2 22 0 7 1 4 0 3 0 14 0 2 0 8 0-37 1 37 0-45 1 15 0 1 0 3 0 1 0 1 0 22 0-74 1 7 0 26 0 13 0 1 0 31 0-65 1 5 0 14 0 4 0 4 0 1 0 1 0 3 0 4 0 5 0 16 0-71 1 10 0 8 0 5 0 13 0 25 0 8 0 3 0 2 0-92 1 4 0 2 0 12 0 30 0 9 0 5 0 1 0 7 0 9 0 1 0 2 0-52 1 23 0 2 0 6 0 4 0 3 0 14 0 5 0 2 0 3 0-135 1 59 0 15 0 3 0 2 0 4 0 10 0 6 0 7 0 1 0 2 0 18 0 1 0-124 1 89 0 19 0 13 0 3 0 2 0 5 0 4 0 4 0-130 1 47 0 3 0 8 0 26 0 10 0 4 0 3 0 2 0 5 0 1 0 1 0 2 0 12 0 1 0-78 1 8 0 17 0 12 0 1 0 10 0 3 0 7 0 1 0 6 0 12 0 3 0 1 0 4 0-142 1 31 0 32 0 13 0 2 0 5 0 3 0 2 0 3 0 7 0 2 0 5 0 4 0 5 0 4 0 2 0 2 0 18 0 1 0-139 1 42 0 15 0 2 0 29 0 8 0 9 0 15 0 26 0-151 1 1 0 4 0 27 0 1 0 40 0 12 0 1 0 5 0 6 0 12 0 9 0 3 0 3 0 2 0 13 0-137 1 3 0 52 0 8 0 5 0 12 0 21 0 3 0 2 0 3 0 2 0 6 0 1 0 2 0 5 0-128 1 3 0 2 0 24 0 10 0 30 0 27 0 1 0 1 0 1 0 5 0 18 0 1 0 3 0-131 1 5 0 1 0 2 0 2 0 2 0 2 0 4 0 18 0 13 0 7 0 1 0 5 0 15 0 1 0 2 0 2 0 5 0 4 0 2 0 4 0 5 0 6 0 6 0 6 0 3 0 1 0 2 0 3 0 14 0 16 0-141 1 16 0 21 0 3 0 18 0 6 0 3 0 3 0 7 0 12 0 5 0 1 0 6 0 3 0 6 0 9 0 1 0 4 0-133 1 1 0 10 0 44 0 9 0 1 0 1 0 3 0 9 0 3 0 1 0 3 0 1 0 5 0 1 0 8 0 3 0 2 0 4 0 13 0 3 0 5 0 20 0-154 1 4 0 4 0 1 0 6 0 2 0 7 0 1 0 1 0 4 0 26 0 10 0 5 0 5 0 4 0 5 0 7 0 5 0 3 0 5 0 6 0 3 0 11 0 1 0 13 0-138 1 1 0 5 0 1 0 7 0 15 0 5 0 31 0 9 0 9 0 1 0 5 0 5 0 4 0 5 0 23 0 7 0-140 1 4 0 1 0 1 0 6 0 6 0 6 0 9 0 3 0 24 0 9 0 4 0 8 0 5 0 5 0 7 0 26 0 4 0-133 1 1 0 2 0 2 0 2 0 12 0 10 0 20 0 2 0 20 0 7 0 8 0 2 0 3 0 8 0 3 0 11 0 15 0 2 0 10 0-134 1 2 0 11 0 2 0 1 0 21 0 4 0 26 0 6 0 7 0 6 0 6 0 3 0 2 0 5 0 3 0 3 0 7 0 4 0 10 0 3 0 2 0 6 0 1 0-146 1 6 0 4 0 15 0 5 0 1 0 6 0 19 0 17 0 12 0 3 0 7 0 3 0 1 0 1 0 5 0 3 0 1 0 4 0 1 0 2 0 12 0 5 0 8 0-142 1 2 0 5 0 16 0 3 0 1 0 5 0 9 0 2 0 6 0 2 0 15 0 20 0 19 0 1 0 10 0 4 0 4 0 4 0 2 0 9 0 1 0-110 1 7 0 5 0 4 0 22 0 10 0 8 0 3 0 9 0 2 0 28 0 13 0 5 0-134 1 15 0 1 0 8 0 2 0 3 0 1 0 8 0 1 0 26 0 2 0 10 0 2 0 3 0 8 0 3 0 18 0 6 0 8 0 2 0-140 1 6 0 2 0 1 0 20 0 1 0 8 0 10 0 19 0 8 0 11 0 2 0 2 0 6 0 2 0 2 0 2 0 11 0 15 0 7 0 8 0-95 1 2 0 3 0 25 0 9 0 4 0 1 0 1 0 3 0-94 1 29 0 4 0 19 0 7 0 36 0 1 0 8 0 3 0 1 0 4 0-115 1 27 0 4 0 3 0 65 0 5 0 7 0 4 0 6 0 1 0 4 0-117 1 1 0 30 0 4 0 18 0 4 0 4 0 25 0 1 0 15 0 5 0 3 0 4 0 5 0-118 1 22 0 2 0 8 0 4 0 15 0 2 0 12 0 4 0 9 0 18 0 9 0 13 0-122 1 24 0 4 0 11 0 26 0 10 0 14 0 1 0 2 0 1 0 3 0 1 0 1 0 11 0-125 1 16 0 4 0 2 0 22 0 12 0 7 0 14 0 23 0 3 0 3 0 12 0 7 0 1 0 9 0-119 1 27 0 7 0 26 0 4 0 5 0 1 0 11 0 1 0 5 0 9 0 6 0 8 0-123 1 11 0 29 0 12 0 29 0 4 0 1 0 8 0 3 0 11 0 3 0-98 1 5 0 21 0 4 0 5 0 30 0 1 0 14 0 17 0-116 1 10 0 11 0 33 0 5 0 19 0 21 0 1 0 1 0 3 0 8 0 8 0-114 1 44 0 28 0 2 0 5 0 15 0 14 0 11 0-76 1 4 0 1 0 3 0 14 0 16 0 1 0 2 0 11 0 1 0 8 0 2 0 4 0-106 1 9 0 31 0 8 0 15 0 5 0 2 0 4 0 13 0-75 1 1 0 1 0 2 0 27 0 3 0 11 0 9 0 1 0 19 0-94 1 42 0 1 0 6 0 25 0 9 0 10 0 1 0 4 0-100 1 10 0 10 0 5 0 27 0-43 1 9 0 2 0 28 0 3 0 20 0 13 0-74 1 3 0 1 0 3 0 3 0 2 0 2 0 23 0 5 0-41 1 6 0 29 0-47 1 46 0 2 0 3 0-26 1-14 1 7 0 1 0 2 0 3 0 2 0 2 0 23 0 1 0 28 0-59 1 2 0 1 0 22 0 2 0 1 0-33 1 2 0 6 0 2 0 1 0 1 0 14 0 2 0-17 1 5 0 2 0 10 0 2 0-43 1 2 0 3 0 10 0 1 0 1 0 9 0 3 0 14 0-45 1 14 0 2 0 4 0 6 0 3 0 1 0 6 0 6 0 3 0-44 1 6 0 8 0 12 0 1 0 2 0 3 0 13 0-28 1 1 0 1 0 4 0 3 0 1 0 1 0 3 0 3 0 1 0 1 0 1 0 1 0-15 1 13 0 1 0 1 0 8 0 4 0 4 0-27 1 5 0 6 0 2 0 3 0 4 0 2 0-22 1 6 0-9 1 5 0 3 0 8 0 7 0-29 1 5 0 8 0 0 1 3 0 2 0 10 0-42 1-2 1 24 0 9 0-31 1 1 0 31 0-3 1-6 1-13 2 7 3-24 1-4 3 41 1-21 1 13 2-25 2 4 0 16 0-22 1 3 0 1 0-1 1 13 1 3 0-18 1 21 0-17 1 10 0-25 1 30 0 3 0-24 1 15 0 5 0 3 0-20 1 14 0 8 0-32 1 7 0 12 0 1 0 10 1 3 0 7 0 5 0-42 1 6 0 2 0 2 0 7 0 5 0-14 1 9 0 6 0 6 0-6 1 3 0-24 1 3 0 1 0 1 0 2 0 1 0 3 0 16 0 3 0 4 0-30 1 2 0 2 0 17 0-26 1 5 0 3 0 4 0 6 0 2 0 1 0 4 0-33 1 30 0-26 1 26 0-24 1 6 0 1 0 21 0-35 1 3 0 7 0 12 0 9 0 5 0 4 1 2 0-28 1 14 0 2 0-17 1 9 0 20 0-41 1 6 0 14 0-21 1 2 0 14 0 9 0-24 1 2 0 20 0 17 0-25 1 12 0 5 0-21 1 11 0 5 0-2 1 2 0-5 1 24 0-32 1 23 0-27 1 30 0-9 1 9 0 1 0 6 1-12 2-37 2 52 0-40 3 7 0 5 0-3 1 17 1 1 0-11 1-5 1-19 3" marker-start="url(#j2)" marker-mid="url(#j2)" marker-end="url(#j2)"/><path d="m767 743 10 0-61 3 42 0-16 2 3 2-34 1 33 1 7 0 5 0 11 0 3 0 2 0-7 1 1 0-23 1 24 0 2 0-26 1 7 0 17 0-119 1 95 0 2 0 1 0 1 0 1 0 6 0 5 0 5 0-21 1 1 0 1 0 25 0-36 1 24 0-110 1 3 0 70 0 12 0 37 0 9 0-129 1 33 0 47 0 2 0 21 0 6 0 2 0 5 0 3 0 28 0-146 1 32 0 14 0 22 0 12 0 5 0 20 0 2 0 2 0 9 0-48 1 2 0 24 0 4 0 5 0 3 0 6 0 3 0 3 0-122 1 2 0 29 0 3 0 11 0 36 0 2 0 13 0 2 0 1 0 5 0 3 0 6 0 7 0 11 0-133 1 3 0 3 0 26 0 36 0 7 0 4 0 12 0 10 0 14 0 27 0-66 1 3 0 15 0 5 0 3 0 4 0 8 0 1 0-109 1 18 0 55 0 15 0 2 0 4 0 1 0 1 0 4 0 5 0 11 0 10 0-129 1 8 0 3 0 64 0 1 0 10 0 3 0 15 0 13 0 8 0-128 1 5 0 1 0 2 0 2 0 56 0 10 0 14 0 5 0 7 0 1 0 33 0-139 1 35 0 30 0 14 0 3 0 1 0 6 0 2 0 4 0 2 0 5 0 1 0-102 1 6 0 1 0 4 0 4 0 16 0 5 0 31 0 14 0 3 0 5 0 1 0 5 0 1 0 1 0 1 0-98 1 1 0 1 0 18 0 7 0 52 0 11 0-90 1 6 0 4 0 5 0 4 0 57 0 4 0 6 0 14 0 8 0 4 0-116 1 3 0 3 0 3 0 1 0 10 0 19 0 42 0 44 0-125 1 3 0 1 0 2 0 1 0 13 0 57 0 3 0 11 0 12 0 24 0 2 0-129 1 9 0 2 0 6 0 2 0 1 0 2 0 2 0 19 0 48 0 10 0 4 0 3 0 5 0 2 0 16 0-137 1 11 0 1 0 21 0 1 0 54 0 24 0-102 1 1 0 1 0 16 0 2 0 80 0 2 0-106 1 1 0 6 0 18 0 6 0 22 0 1 0 25 0 11 0 6 0 7 0 13 0-113 1 2 0 19 0 24 0 24 0 11 0 8 0-91 1 3 0 1 0 15 0 3 0 5 0 20 0 38 0 3 0 9 0 8 0 1 0-106 1 1 0 6 0 18 0 3 0 29 0 13 0-68 1 3 0 31 0 22 0 27 0 2 0 1 0 7 0 11 0-105 1 3 0 2 0 33 0 27 0 19 0 14 0-96 1 20 0 7 0 50 0-55 1 4 0 29 0 2 0 4 0-58 1 18 0 10 0 31 0-59 1 2 0 17 0 1 0 1 0 68 0-88 1 17 0 42 0-64 1 3 0 20 0 35 0 23 0-60 1 6 0 1 0-22 1 18 0 2 0 38 0 15 0-84 1 6 0 24 0-31 1 6 0 3 0 17 0-26 1 1 0 4 0 5 0 2 0 17 0-18 1 2 0 12 0 1 0 1 0-18 1 3 0 17 0 3 0-39 1 17 0 1 0 1 0 12 0 7 0 4 0-25 1 1 0 2 0 4 0 7 0 3 0 1 0 1 0 1 0-20 1 2 0 1 0 1 0 9 0 3 0 1 0 4 0-31 1 1 0 3 0 9 0 13 0 2 0-23 1 13 0 2 0 1 0 3 0 7 0 1 0-15 1 2 0 3 0-12 1 4 0 3 0 1 0 3 0 1 0 2 0 4 0 3 0-17 1 1 0 10 0 2 0 2 0 1 0-24 1 22 0-10 1 1 0 2 0-13 1 12 0 1 0-30 1 28 0 2 0-3 1-28 2 29 0-1 2-4 22-26 1 12 0-13 1-1 4 1 0 16 0-17 5 0 2 23 0-6 1-28 1 30 0 3 0-4 1 10 2-39 1 20 1-7 1 7 0-2 3 2 1 10 3-7 1" marker-start="url(#j3)" marker-mid="url(#j3)" marker-end="url(#j3)"/><path d="m752 752 14 2 6 0 14 2-138 2 2 0 94 0 12 0 2 2-34 2 26 0 6 0 14 0-96 2 48 0 10 0 10 0 12 0 4 0-108 2 74 0 6 0 4 0 12 0 2 0 2 0 4 0-104 2 2 0 2 0 2 0 2 0 66 0 12 0-88 2 2 0 2 0 2 0 2 0 4 0 72 0-88 2 4 0 2 0 2 0 2 0 2 0 2 0 2 0-14 2 2 0 2 0 2 0 2 0 2 0 2 0 2 0 2 0-20 2 2 0 4 0 2 0 2 0 4 0 4 0 2 0 2 0 66 0-84 2 6 0 2 0 6 0 2 0 2 0 64 0 18 0-104 2 2 0 2 0 2 0 2 0 10 0 2 0 2 0 62 0-82 2 4 0 16 0 84 0-104 2 2 0 2 0 14 0 2 0 70 0-86 2 2 0 12 0 2 0 58 0-74 2 2 0 14 0 4 0-26 2 2 0 4 0 2 0 8 0 4 0 2 0-22 2 4 0 2 0 4 0 2 0 6 0 2 0 2 0 2 0-20 2 2 0 2 0 2 0 8 0 2 0 2 0 2 0 2 0-18 2 2 0 2 0 2 0 2 0 2 0 2 0 4 0-22 2 6 0 2 0 2 0 2 0 2 0 2 0 2 0 2 0-16 2 2 0 2 0 2 0 4 0 2 0-18 2 4 0 4 0 2 0 4 0 4 0-6 2 6 0-2 2 2 0-20 46" marker-start="url(#j4)" marker-mid="url(#j4)" marker-end="url(#j4)"/><path d="m752 752-2 6 6 0-2 6 4 0-108 4 2 0 2 0 4 0-8 2 2 0 2 0 2 0-10 2 4 0 2 0 2 0 2 0 2 0 4 0-20 2 2 0 6 0 2 0 2 0 2 0 2 0 2 0 4 0-20 2 2 0 2 0 2 0 2 0 2 0 2 0 2 0 2 0 2 0-16 2 2 0 2 0 2 0 2 0 2 0 2 0 2 0 2 0-16 2 2 0 2 0 2 0 4 0 2 0 2 0 2 0 4 0 64 0-82 2 2 0 4 0 4 0 4 0 2 0-16 2 2 0 2 0 2 0 2 0 4 0 2 0 2 0-18 2 2 0 2 0 2 0 4 0 6 0-14 2 2 0 2 0 8 0 2 0-16 2 4 0 4 0 2 0 2 0 2 0-14 2 4 0 2 0 2 0 4 0 2 0 2 0 2 0-14 2 2 0 4 0 2 0 2 0 2 0-12 2 2 0 2 0 2 0 2 0 2 0 2 0 2 0-14 2 2 0 2 0 2 0 2 0 2 0-6 2 6 0-4 2 4 0-6 8" marker-start="url(#j5)" marker-mid="url(#j5)" marker-end="url(#j5)"/><path d="m654 770 2 0-6 2 4 0-6 2 8 0 2 0-6 2 4 0 2 0-14 2 4 0 2 0 2 0 2 0 2 0 4 0-12 2 2 0 2 0 2 0 2 0 2 0 2 0-12 2 2 0 2 0 2 0 2 0 2 0 2 0 2 0-14 2 2 0 2 0 2 0 2 0 2 0 2 0 2 0-14 2 6 0 2 0 2 0 2 0 2 0-12 2 2 0 2 0 2 0 2 0 2 0 2 0-12 2 2 0 2 0 2 0 2 0 2 0-6 2 2 0 2 0-8 2 2 0 2 0 2 0 2 0 2 0-10 2 2 0 4 0 4 0-8 2 2 0 2 0 2 0 2 0-4 2 4 0-4 2 0 2" marker-start="url(#j6)" marker-mid="url(#j6)" marker-end="url(#j6)"/><path d="m650 770 0 2 6 0-8 6 4 0 2 0 2 0-8 2 4 0 2 0 2 0 2 0-10 2 2 0 2 0 4 0 2 0 4 0-8 2 2 0 2 0 2 0-10 2 2 0 2 0 2 0 2 0 2 0 2 0-10 2 2 0 2 0 4 0-10 2 2 0 2 0 2 0 2 0-8 2 2 0 2 0 2 0 2 0 2 0 2 0-8 2 2 0 2 0 2 0-8 2 4 0 2 0-4 2" marker-start="url(#j7)" marker-mid="url(#j7)" marker-end="url(#j7)"/><path d="m658 778-6 2 2 0 2 0 2 0 2 0-10 2 2 0 2 0 2 0 2 0 2 0-8 2 2 0 2 0 2 0 2 0-4 2 2 0-8 2 4 0 2 0 2 0 2 0-6 2 2 0 4 0-8 2 2 0 2 0 2 0 2 0-6 2 2 0 2 0-2 2 2 0-4 2" marker-start="url(#j8)" marker-mid="url(#j8)" marker-end="url(#j8)"/></g><rect x="543.1" y="672.4" width="341" height="320.9" fill="none" stroke="#9a9a9a" stroke-width="1.2"/><rect x="569.7" y="693.7" width="282.7" height="186.1" fill="none" stroke="#000" stroke-width="2.2"/><path d="M534.3 992.8h9M534.3 898.5h9M534.3 806.2h9M534.3 711.4h9" stroke="#222" stroke-width="1.8" fill="none"/><path d="M538.8 964.4h4.5M538.8 947.8h4.5M538.8 936h4.5M538.8 926.9h4.5M538.8 919.4h4.5M538.8 913.1h4.5M538.8 907.6h4.5M538.8 902.8h4.5M538.8 870.7h4.5M538.8 854.5h4.5M538.8 842.9h4.5M538.8 834h4.5M538.8 826.7h4.5M538.8 820.5h4.5M538.8 815.1h4.5M538.8 810.4h4.5M538.8 777.7h4.5M538.8 761h4.5M538.8 749.1h4.5M538.8 739.9h4.5M538.8 732.4h4.5M538.8 726.1h4.5M538.8 720.6h4.5M538.8 715.7h4.5M538.8 682.9h4.5" stroke="#222" stroke-width="1.1" fill="none"/><text x="504" y="1000.2" font-size="12.2" textLength="15.8" lengthAdjust="spacingAndGlyphs" fill="#222">10</text><text x="519.7" y="992.1" font-size="11.5" textLength="5.1" lengthAdjust="spacingAndGlyphs" fill="#222">1</text><text x="504" y="905.9" font-size="12.2" textLength="15.8" lengthAdjust="spacingAndGlyphs" fill="#222">10</text><text x="519.8" y="897.8" font-size="11.3" textLength="6.6" lengthAdjust="spacingAndGlyphs" fill="#222">2</text><text x="504" y="813.6" font-size="12.2" textLength="15.8" lengthAdjust="spacingAndGlyphs" fill="#222">10</text><text x="520" y="805.5" font-size="11.3" textLength="6.3" lengthAdjust="spacingAndGlyphs" fill="#222">3</text><text x="504" y="718.8" font-size="12.2" textLength="15.8" lengthAdjust="spacingAndGlyphs" fill="#222">10</text><text x="520.2" y="710.7" font-size="11.5" textLength="5.9" lengthAdjust="spacingAndGlyphs" fill="#222">4</text><path d="M543.7 993.3v10M608.4 993.3v10M673.1 993.3v10M737.8 993.3v10M802.5 993.3v10M867.2 993.3v10" stroke="#222" stroke-width="2" fill="none"/><path d="M556.6 993.3v5M569.6 993.3v5M582.5 993.3v5M595.5 993.3v5M621.3 993.3v5M634.3 993.3v5M647.2 993.3v5M660.2 993.3v5M686 993.3v5M699 993.3v5M711.9 993.3v5M724.9 993.3v5M750.7 993.3v5M763.7 993.3v5M776.6 993.3v5M789.6 993.3v5M815.4 993.3v5M828.4 993.3v5M841.3 993.3v5M854.3 993.3v5" stroke="#222" stroke-width="1.2" fill="none"/><text x="541.9" y="1016.7" font-size="12.5" textLength="7.5" lengthAdjust="spacingAndGlyphs" fill="#333">0</text><text x="596.2" y="1016.7" font-size="12.5" textLength="24" lengthAdjust="spacingAndGlyphs" fill="#333">50K</text><text x="656.9" y="1016.7" font-size="12.5" textLength="31.5" lengthAdjust="spacingAndGlyphs" fill="#333">100K</text><text x="721.6" y="1016.7" font-size="12.5" textLength="31.5" lengthAdjust="spacingAndGlyphs" fill="#333">150K</text><text x="786.5" y="1016.7" font-size="12.5" textLength="31.5" lengthAdjust="spacingAndGlyphs" fill="#333">200K</text><text x="851.2" y="1016.7" font-size="12.5" textLength="31.5" lengthAdjust="spacingAndGlyphs" fill="#333">250K</text><text x="644.9" y="662" font-size="31.7" textLength="142.8" lengthAdjust="spacingAndGlyphs" fill="#000">MLN4924</text><text x="579" y="717.8" font-size="22.1" font-weight="bold" textLength="81.2" lengthAdjust="spacingAndGlyphs" fill="#000">CDT1 +</text><text x="593.4" y="751.6" font-size="23.1" font-weight="bold" textLength="49.7" lengthAdjust="spacingAndGlyphs" fill="#000">98.1</text><g fill="none" stroke="none"><path d="m1145 770 4 5-4 1 1 4 5 0 13 0-32 1 29 0 26 0-61 1 8 0 7 0 4 2 6 0 2 0 7 0-9 1 1 0 19 0-32 1 1 0 8 0 3 0 3 0 3 0 27 0-26 1-25 1 11 0 8 0 15 0 12 0-37 1 8 0 1 0 4 0 1 0 10 0-17 1 6 0-13 1 12 0-31 1 14 0 14 0 10 0-21 1 1 0 4 0 12 0-1 2 6 0-41 1 31 0 2 0 10 0-27 1 4 0 2 0 2 0-5 1 2 0 3 0-3 1 32 1-38 1 5 0 15 0-1 1 3 0-28 1 12 0 20 1-3 1 1 0 21 0 16 0-60 1 1 0 25 0-26 1 24 0-1 1 1 0 5 0-6 2 32 1 6 0-73 1-2 1 13 0 25 0-27 1 47 0-45 1 2 0 23 0 7 2-44 1 37 0 24 0-49 1 35 0-38 1 1 1 21 0 8 0 5 0-34 1 1 1 2 1 24 0-1 2-20 1 24 0 1 0-3 1-26 1 23 0-13 1 13 0 2 0-25 1 1 0 3 0 21 0 1 0 1 0 3 0-27 1 3 0 25 1 93 0-126 1 27 0 64 0-68 1 2 0 9 0 15 1 8 1 81 0-131 1 24 0-23 1 2 0 16 1 1 0 12 0-38 1 1 0 5 0 92 0 65 0-160 1 1 0 50 0-50 1 1 0 2 0 10 0-16 1 25 0 125 0-147 1 17 0 7 0 7 0 68 0-112 1 12 1 32 0-30 1 25 0 9 0-46 1 32 0 0 1 80 0-107 1 7 0 16 0 7 0 4 0 5 0 1 0-32 1 25 0 7 0-34 2 3 0 16 0 8 1-22 1 16 0 3 0-20 1 27 0 14 0 37 0-80 1 31 0 1 0-37 1 5 0 1 0-3 1 1 0 23 0 5 0 2 0-41 1 6 0 23 0 1 0 6 0 3 0 7 0 13 0-23 1 3 0 7 0-36 1 2 0 2 0 11 0 8 0 8 0 7 0-17 1 8 0 1 0 7 0 5 0-40 1 15 0 78 0-117 1 41 0 2 0 10 0 3 0 8 0 3 0-51 1 1 0 22 0 1 0 20 0 121 0-160 1 2 0 30 0-5 1 3 0 4 0 1 0-31 1 32 0 1 0 7 0 1 0 3 0-54 1 2 0 1 0 11 0 7 0 24 0 4 0 31 0 31 0 16 0-135 1 11 0 36 0 3 0 12 0 10 0 4 0 15 0 3 0 42 0 3 0 4 0-139 1 7 0 18 0 15 0 7 0 8 0 1 0 10 0 51 0 17 0 2 0-122 1 1 0 3 0 30 0 3 0 30 0 13 0 36 0 6 0 4 0 5 0 1 0 10 0 13 0-162 1 34 0 30 0 45 0 10 0 8 0 4 0 6 0-141 1 5 0 4 0 38 0 12 0 33 0 10 0 13 0 1 0 18 0 8 0-98 1 37 0 15 0 15 0 12 0 3 0 12 0 3 0-142 1 8 0 11 0 8 0 36 0 50 0 1 0 2 0 5 0 3 0 15 0 10 0-158 1 30 0 24 0 10 0 52 0 2 0 22 0 17 0 10 0-154 1 5 0 2 0 7 0 3 0 27 0 37 0 18 0 45 0-148 1 8 0 6 0 92 0 44 0-151 1 47 0 63 0 2 0 34 0 9 0-69 1 63 0 11 0-158 1 1 0 7 0 4 0 3 0 4 0 4 0 61 0-83 1 8 0 39 0 6 0 26 0 8 0 9 0 53 0-151 1 6 0 11 0 26 0 11 0 38 0 13 0 1 0 3 0 2 0-111 1 50 0 24 0 11 0 14 0 5 0-101 1 22 0 21 0 20 0 32 0 3 0 2 0 55 0-158 1 4 0 2 0 3 0 3 0 1 0 12 0 20 0 22 0 41 0 39 0 3 0 9 0-156 1 4 0 18 0 13 0 3 0 7 0 4 0 5 0 15 0 8 0 8 0 8 0 54 0 5 0-150 1 5 0 29 0 11 0 13 0 19 0 2 0 12 0 7 0 2 0 46 0-136 1 7 0 22 0 23 0 9 0 8 0 24 0 42 0 3 0-153 1 10 0 6 0 29 0 4 0 31 0 9 0 15 0 4 0 41 0-147 1 3 0 11 0 32 0 16 0 36 0 1 0 48 0-152 1 15 0 3 0 28 0 2 0 18 0 32 0 9 0 47 0 1 0-162 1 11 0 2 0 4 0 6 0 3 0 9 0 3 0 14 0 106 0-112 1 2 0 5 0 36 0 17 0 9 0 3 0-101 1 9 0 13 0 10 0 2 0 5 0 39 0 17 0 3 0-102 1 2 0 11 0 1 0 25 0 1 0 46 0 7 0 51 0 3 0-149 1 52 0 3 0 91 0 6 0 2 0-172 1 22 0 4 0 5 0 1 0 4 0 19 0 5 0 21 0 21 0 24 0-104 1 4 0 13 0 20 0 5 0 31 0 34 0 3 0 28 0-140 1 4 0 2 0 1 0 2 0 3 0 15 0 6 0 1 0 9 0 50 0 3 0 5 0 12 0 24 0 4 0 2 0-145 1 7 0 12 0 1 0 13 0 13 0 3 0 17 0 12 0 1 0 13 0 11 0 10 0 10 0 5 0 14 0 3 0-146 1 8 0 19 0 5 0 11 0 11 0 55 0 8 0 1 0 12 0 23 0-146 1 7 0 8 0 2 0 1 0 15 0 1 0 2 0 18 0 35 0 5 0 9 0 17 0 3 0 4 0 4 0-159 1 47 0 4 0 19 0 18 0 50 0 4 0 16 0-183 1 47 0 16 0 13 0 1 0 29 0 1 0 12 0 30 0 19 0 3 0-115 1 4 0 1 0 4 0 17 0 10 0 4 0 3 0 31 0 5 0 32 0 8 0 7 0 6 0-137 1 16 0 6 0 3 0 13 0 1 0 72 0-118 1 9 0 40 0 10 0 8 0 55 0 14 0 5 0-172 1 52 0 2 0 1 0 23 0-41 1 4 0 10 0 13 0 88 0 13 0-129 1 12 0 11 0 6 0 3 0 2 0 2 0-87 1 34 0 25 0 18 0-20 1 3 0 1 0 15 0 2 0 134 0-140 1 10 0 91 0-165 1 48 0 6 0 4 0 3 0 1 0 6 0 3 0 3 0 125 0-197 1 66 0 27 0-87 1 31 0 7 0 6 0 1 0 1 0 13 0 121 0 20 0-193 1 46 0 5 0 35 1-100 1 1 0 38 0 66 0 95 0-107 1-35 1 5 0 14 1-26 1 128 0-149 1 64 0-27 1 1 1-51 1-1 2 25 9-12 3-4 5-31 3 31 6-31 1 30 6-7 6 11 0-13 3" marker-start="url(#j0)" marker-mid="url(#j0)" marker-end="url(#j0)"/><path d="m1150 781 1 3-24 1 21 1 2 0-4 1 1 0 1 1-6 1 1 1 2 0-1 1 3 0 1 1-4 1 1 0 13 0-12 1 6 0 3 0-11 1 7 0 1 0-10 2 4 0 3 0 4 0 0 1 4 0-5 1-9 1 10 0-6 1 2 1 3 0 3 0 2 0-8 1-9 1 4 0 14 1-18 1 4 0 14 0-5 2 5 0-19 1 1 0 15 0 4 0-23 2 5 0 17 1-21 1 3 0 17 2 0 2 3 1 1 0-2 1-21 2 23 0-26 1 3 0 18 1 7 0-25 1 18 0 3 0-20 1 4 1-7 1 10 0 7 0 3 0 7 0-22 2 18 1-22 1 10 0 4 0 5 0-15 1 3 0 15 0-16 1 1 0 4 0 4 0-12 1 2 0 10 0 3 0-14 2 8 0 7 0 1 0 1 0 2 0-23 1 11 0 7 0-10 1 6 0 4 0-7 1-9 1 4 1 5 1 2 0 4 0 3 0 1 0-17 1 11 0 1 0 2 0 1 0 1 0 14 0-26 1 8 0-10 1 4 0 3 0 3 0 1 0 1 0-15 1 8 0 3 0-8 1 1 0 3 0 12 0-12 1 3 0-11 1 8 0 7 0 7 0-22 1 6 0 1 0-2 1 5 0-5 1-4 1 11 0 4 0 4 0 1 0-18 1 8 0 9 0-12 1-4 1 14 0-12 1 4 0 8 0-19 1 7 0 6 0-13 1 13 0 1 0 7 0-11 1 7 0 7 0 3 0-24 1 11 1-13 1 6 0 6 0 5 0 8 0-16 1 13 0 3 0-15 1 8 0 3 0 5 0-25 1 13 0 6 0 1 0 11 0-23 1 18 0 5 0-39 1 8 0 2 0 1 0 1 0 10 0 1 0 6 0 5 0-29 1 3 0 3 0 3 0 2 0 2 0 21 0-20 1 4 0 4 0 1 0 3 0 4 0 2 0 1 0 7 0-34 1 12 0 6 0 3 0-24 1 4 0 14 0 1 0 1 0 3 0 9 0-31 1 1 0 7 0 6 0 8 0 2 0-17 1 4 0 5 0 3 0 2 0 105 0-128 1 1 0 3 0 7 0 10 0 6 0 7 0 2 0 72 0 2 0 4 0 7 0 4 0 1 0-125 1 1 0 9 0 21 0 4 0 78 0 12 0-123 1 6 0 3 0 91 0 15 0 3 0 11 0-131 1 1 0 6 0 6 0 3 0 87 0 2 0 10 0 3 0 5 0-121 1 3 0 2 0 10 0 85 0 3 0 21 0 3 0 9 0-138 1 3 0 35 0 65 0 6 0 18 0 6 0-139 1 7 0 3 0 1 0 4 0 1 0 23 0 1 0 3 0 64 0 2 0 3 0 7 0 4 0-121 1 4 0 6 0 1 0 9 0 21 0 64 0 4 0 10 0 18 0 1 0-135 1 8 0 4 0 2 0 89 0 8 0 24 0-136 1 5 0 4 0 8 0 17 0 80 0 19 0-137 1 6 0 14 0 21 0 104 0-140 1 2 0 7 0 9 0 20 0 56 0 5 0-93 1 6 0 8 0 14 0 60 0 6 0 4 0 32 0-134 1 11 0 3 0 15 0 8 0 64 0 36 0-136 1 10 0 16 0 109 0 10 0-156 1 15 0 3 0 7 0 79 0 4 0 34 0-135 1 9 0 1 0 6 0 4 0 5 0 5 0 5 0 60 0 6 0 35 0 3 0-136 1 4 0 4 0 8 0 73 0 45 0-137 1 4 0 9 0 5 0 2 0 3 0 1 0 7 0 4 0 56 0 9 0 5 0 34 0-131 1 7 0 15 0 20 0 50 0 42 0-136 1 5 0 3 0 4 0 2 0 1 0 1 0 5 0 1 0 7 0 57 0 13 0 39 0-142 1 7 0 15 0 2 0 17 0 49 0 6 0 41 0 2 0-132 1 92 0-96 1 13 0 2 0 7 0 111 0 1 0-135 1 1 0 6 0 3 0 12 0 2 0 11 0 58 0 1 0 2 0 3 0 13 0-103 1 4 0 11 0 11 0 72 0 25 0-130 1 1 0 1 0 9 0 2 0 13 0 71 0 3 0 8 0 15 0 4 0 7 0-122 1 9 0 5 0 92 0 7 0 6 0-135 1 6 0 15 0 87 0 5 0 3 0 2 0 5 0 15 0-127 1 12 0 1 0 90 0 3 0 6 0 7 0 8 0-135 1 17 0 2 0 5 0 7 0 1 0 73 0 6 0 1 0 4 0 9 0 1 0-128 1 3 0 8 0 1 0 1 0 9 0 7 0 5 0 59 0-94 1 18 0 5 0 2 0 7 0 80 0 1 0-110 1 3 0 3 0 9 0 2 0 1 0 2 0 1 0 14 0 97 0-132 1 1 0 8 0 12 0 83 0 13 0-117 1 11 0 5 0 1 0 1 0-17 1 9 0 1 0-17 1 1 0 31 2-8 4-9 5" marker-start="url(#j1)" marker-mid="url(#j1)" marker-end="url(#j1)"/><path d="m1147 789-4 1 7 1-6 2 8 1 4 0-13 1 8 1 1 0-4 1 5 0-7 1 1 0 1 0 1 0 1 1 2 0-8 1 2 0 2 0 6 0-5 1 5 0-3 1 4 0 2 0-16 1 3 0 1 0 4 0 1 0-9 1 3 0 9 0 3 0 3 0-15 1 2 0 3 0-4 1 1 0 5 1 1 0 2 0 3 0-18 1 1 0 10 0 6 0-17 1 4 0 4 0 6 0 4 0-15 1 6 0 4 0 4 0 1 0 2 0-19 1 18 0-20 1 6 0 14 0-21 1 4 1 3 0 12 0 1 0 3 0-22 1 15 0 2 0-16 1 1 0 1 0 15 0 4 0-23 1 3 0 1 0 16 0-21 1 4 0 3 0 10 0 1 1 3 0 1 0 1 0 1 0-6 1 4 0 1 0-18 1 5 0 12 0-18 1-6 1 4 0 2 0 4 0 5 0 3 0 5 0 2 0-18 1 2 0-6 1 1 0 1 0 1 0 12 0 1 0 2 0 5 0-17 1 1 0 2 0 2 0 8 0-15 1 10 0 2 0 4 0-10 1 3 0 5 0 1 0-11 1 1 0 6 0-9 1 0 1 8 0 1 0 2 0-12 1 2 0 1 0 6 0 10 1-17 1 6 0-6 1 1 0 4 0 4 0 1 0 1 0-16 1 11 0-9 1 5 0 3 0 1 0 2 0 1 0 1 0 1 0-5 1 5 0-8 1 10 0-15 1 1 0 6 0 2 0 3 0-11 1 4 0-5 1 3 0 4 0 2 0-3 1 5 0-11 1 1 0 7 0 5 0 5 0-17 1 10 0 3 0 1 0 2 0-18 1 9 0 7 0-13 1 4 1 2 0 1 0 2 1-4 1 2 0 2 0 1 0 1 0-6 1 5 0 4 0 4 1-15 1 6 0 1 0 2 0 1 0-13 1 4 0 5 0 4 0-13 1 6 0 1 0 3 0-7 1 1 0 5 0 3 0 1 0 5 0-11 1 2 0 2 0 2 0-13 1 10 0 2 0-12 1 1 0 2 0 1 0 1 0 6 0 4 0-10 1 9 0-11 1 3 0-10 1 8 0 3 0 2 0 2 0 4 0-15 1 6 0 3 0 1 0 4 0 4 0 8 0-27 1 4 1 2 0-8 1 4 0 2 0 2 0 1 0 12 0 5 0-17 1 1 0 3 0 3 0 2 0 7 0 3 0 4 0 3 0-11 1 1 0-11 1 8 0-15 1 1 0 2 0 13 0-9 1 6 0 3 0-24 1 1 0 21 0-7 1 1 0 16 0 1 0-21 1 1 0 1 0 1 0 1 0 9 0 2 0 1 0 87 0-105 1 4 0 1 0 8 0 11 0 89 0-126 1 22 0 9 0 2 0 3 0 1 0-37 1 12 0 2 0 4 0 4 0 8 0-30 1 22 0 8 0 4 0 86 0-114 1 12 0 2 0 12 0 78 0 6 0 14 0-128 1 17 0 1 0 100 0 2 0 2 0 3 0-111 1 90 0 2 0 3 0 2 0 1 0 2 0 3 0 9 0 3 0-119 1 25 0 3 0 67 0 3 0 1 0 3 0 5 0 13 0 3 0-133 1 14 0 6 0 11 0 72 0 2 0 5 0 6 0 7 0 10 0-121 1 4 0 5 0 14 0 73 0 3 0 2 0 4 0 17 0 1 0-141 1 17 0 5 0 3 0 14 0 99 0 4 0-127 1 5 0 4 0 2 0 13 0 2 0 66 0 1 0 3 0 1 0 25 0 8 0-124 1 2 0 1 0 10 0 7 0 64 0 5 0 1 0-97 1 3 0 16 0 2 0 2 0 2 0 68 0 4 0 31 0 6 0-139 1 12 0 7 0 1 0 9 0 1 0 66 0 2 0 5 0 1 0 25 0 4 0-132 1 18 0 4 0 1 0 73 0 30 0 7 0 2 0-128 1 3 0 7 0 6 0 3 0 69 0 3 0 31 0 5 0-130 1 3 0 3 0 6 0 3 0 7 0 69 0 4 0 7 0 21 0 3 0 3 0 4 0-128 1 10 0 8 0 68 0 33 0-133 1 8 0 2 0 20 0 66 0 5 0 3 0 28 0 1 0 6 0-134 1 5 0 8 0 16 0 65 0 1 0 3 0 5 0-95 1 8 0 81 0 6 0 18 0 13 0-123 1 2 0 10 0 73 0 1 0 6 0 23 0 2 0 5 0 1 0-129 1 4 0 1 0 2 0 12 0 74 0 2 0 1 0 1 0 26 0 1 0 3 0 3 0-121 1 1 0 7 0 1 0 76 0 17 0 6 0 1 0 3 0 1 0 2 0 6 0-133 1 1 0 6 0 2 0 105 0 5 0 3 0 3 0 1 0 3 0-122 1 9 0 80 0 1 0 1 0 1 0 13 0 4 0 5 0 3 0 1 0 1 0-120 1 9 0 2 0 2 0 8 0 73 0 3 0 8 0 1 0-121 1 30 0 5 0 73 0 7 0-96 1 14 0 81 0 6 0 6 0-101 1 86 0 6 0 4 0 1 0 5 0-120 1 18 0 5 0 96 0 3 0-108 1 105 0-120 1 2 0 3 0 2 0 4 0 4 0 5 0-19 1 8 1 2 1 7 7" marker-start="url(#j2)" marker-mid="url(#j2)" marker-end="url(#j2)"/><path d="m1146 793 3 0 3 0-2 1 4 0-7 3 5 0-7 1 3 1 0 1 3 1 3 0-8 1 0 1 6 0 3 0 1 0 1 0-10 1 2 0 1 0 4 0 1 0-10 1 3 1 3 0 1 0 1 0 1 0-8 1-5 1 4 0-2 1 1 0 2 0 7 0 3 0-19 1 2 0 1 0 11 0 3 0-14 1 4 0 3 0 5 0 2 0-3 1 1 0 1 0-9 1-4 1 5 0 10 0 1 0-7 1 3 0 3 0 5 0-14 1 8 0 2 0-14 1 9 0 1 0 7 0-16 1 12 0 1 0-13 1 1 0 4 0 3 0 3 0 2 0-14 1 2 0 3 0 4 0 1 0 7 0-20 1 1 0 1 0 2 0 1 0 1 0 1 0 1 0 5 0 1 0-12 1 1 0 11 0-11 1 1 0 7 0-7 1 7 0 1 0 4 0 2 0-10 1 3 0-6 1 1 0 3 0 1 0-8 1 6 0 2 0 3 0 1 0 2 0 1 0-12 1 3 0 5 0 1 0 1 0-8 1 8 0 2 0-12 1 1 0 9 0-11 1 5 0 2 1 2 0-8 1 5 0 3 0-1 3 1 0-5 2 2 0 4 0-3 1 0 1-1 1-7 1 8 0 1 0 1 0-3 3 1 0 5 0 2 0-14 2 2 0 4 0 0 1-1 1 5 0 4 0-13 1 0 1 2 0 4 0 2 0 1 0 2 0-10 1 1 0 5 0 3 0 2 1-4 1 2 0 3 0 3 0-17 1 6 1 8 0-8 1 1 0 5 0-8 3-5 1 7 0-1 1 6 0-9 1 2 1 7 0-5 1-1 1 3 0 16 0-25 1 5 0 1 0 4 0 12 0-12 1 10 0 5 0-17 2 1 0-4 1 17 1-12 1 6 1 10 0-29 1 20 0 1 0 7 0 2 0 1 1-28 1 18 0 1 0 3 0 1 0-27 1 16 0 3 0 2 0 8 0 2 0 2 0 88 0-103 1 5 0 10 0 83 0 2 0 4 0-115 1 4 0 23 0 80 0 2 0 9 0 1 0 2 0-124 1 17 0 10 0 1 0 1 0 1 0 1 0 78 0 7 0 1 0 1 0 2 0 1 0 3 0 2 0-122 1 14 0 1 0 1 0 1 0 10 0 70 0 8 0 3 0 3 0 9 0 1 0-123 1 15 0 12 0 1 0 76 0 4 0 9 0 2 0 2 0 1 0 3 0-121 1 12 0 1 0 8 0 1 0 1 0 1 0 1 0 1 0 79 0 1 0 6 0 11 0-115 1 3 0 10 0 1 0 4 0 69 0 6 0 3 0 5 0 13 0 1 0 4 0-120 1 7 0 5 0 2 0 1 0 3 0 70 0 1 0 2 0 4 0 2 0 2 0 17 0 4 0-132 1 15 0 3 0 1 0 3 0 2 0 1 0 4 0 1 0 93 0 1 0 6 0 2 0-122 1 9 0 1 0 2 0 1 0 76 0 9 0 24 0 2 0-117 1 1 0 2 0 6 0 72 0 5 0-101 1 7 0 9 0 79 0 6 0 31 0-111 1 76 0 2 0 7 0 19 0 5 0-122 1 9 0 79 0 3 0 26 0 3 0-112 1 2 0 82 0 1 0 1 0 24 0 1 0-112 1 1 0 7 0 74 0 1 0 29 0 4 0 3 0-38 1 6 0 2 0 20 0-23 1 3 0 1 0 4 0 7 0 13 0-124 1 19 0 84 0 5 0 8 0 1 0 1 0 2 0 1 0-118 1 95 0 3 0 2 0 2 0 2 0 1 0 1 0 4 0 1 0 10 0-108 1 78 0 3 0 1 0 4 0-109 1 11 0 91 0 1 0 3 0 13 0 3 0 3 0 1 0 1 0-26 1 1 0 1 0 6 0 12 0-105 1 88 0 3 0 2 0 1 0 3 0 9 0-22 1 6 0 3 0-91 1 3 0 87 0 7 0-93 1 84 0 10 0 1 0-106 3 4 1" marker-start="url(#j3)" marker-mid="url(#j3)" marker-end="url(#j3)"/><path d="m1152 796-4 2 0 4 2 0 2 0-6 2 6 0-8 2 2 0 2 0 2 0-10 2 4 0 2 0 2 0 2 0 2 0 2 0-16 2 4 0 2 0 2 0 4 0 4 0-14 2 2 0 4 0 2 0 2 0 2 0 2 0-14 2 2 0 4 0 2 0-4 2 2 0 2 0 4 0 2 0 2 0-14 2 6 0 2 0 2 0 4 0 2 0-16 2 2 0 2 0 2 0 2 0 4 0-14 2 4 0 2 0 2 0 2 0 4 0-12 2 2 0 2 0 2 0 2 0 2 0-4 2-4 2 4 2-2 8 10 0-6 4-2 2 4 0 2 0-4 8 4 2 0 2 0 2-6 2 0 2 2 0-6 4 2 0 4 0 12 0-14 2 10 2-2 4 0 2 4 0 4 0 2 0 2 0 2 0-14 2 4 0 4 0 2 0 6 0 86 0-100 2 2 0 2 0 2 0 2 0 2 0 2 0 92 0 2 0 4 0-108 2 2 0 2 0 2 0 4 0 80 0 2 0 4 0 2 0 2 0 4 0 4 0 2 0-110 2 2 0 4 0 2 0 2 0 76 0 2 0 4 0 2 0 2 0 4 0 2 0 4 0 2 0-110 2 6 0 84 0 4 0 12 0 2 0 2 0 2 0 2 0-106 2 72 0 2 0 2 0 2 0 2 0 2 0 2 0 2 0 2 0 14 0 2 0 2 0 2 0 2 0-112 2 78 0 2 0 2 0 2 0 4 0 18 0 4 0 2 0-32 2 2 0 2 0 4 0 2 0 6 0 2 0 4 0 4 0 2 0-30 2 2 0 2 0 2 0 2 0 2 0 4 0 2 0 2 0 2 0 4 0 2 0 2 0 2 0-32 2 8 0 2 0 2 0 2 0 2 0 2 0 2 0 6 0 2 0 2 0 2 0-26 2 2 0 2 0 4 0 4 0 2 0 4 0 2 0-24 2 6 0 2 0 2 0 4 0 2 0 4 0 2 0 2 0 4 0-24 2 4 0 14 0" marker-start="url(#j4)" marker-mid="url(#j4)" marker-end="url(#j4)"/><path d="m1144 808 4 0-4 2 2 0 2 0 4 0-8 2 4 0 2 0 2 0-10 2 2 0 2 0 2 0 2 0 2 0-8 2 2 0 2 0-4 2 2 0 2 0 2 0-6 2 2 0 2 0 4 0-8 2 4 0-6 2 6 0 4 0-8 2 6 18 4 8 10 24 6 0-8 2 4 0 2 0 2 0 2 0-12 2 2 0 2 0 2 0 2 0 90 0 2 0-100 2 2 0 2 0 4 0 90 0 2 0 2 0 6 0-108 2 2 0 2 0 2 0 2 0 80 0 4 0 2 0 2 0 2 0 4 0 2 0 2 0 4 0 2 0-110 2 2 0 2 0 80 0 2 0 4 0 2 0 2 0 2 0 2 0 2 0 2 0 2 0-102 2 82 0 2 0 2 0 2 0 2 0 2 0 4 0 2 0 2 0 2 0 2 0-104 2 82 0 2 0 2 0 2 0 2 0 2 0 2 0 2 0 4 0 2 0 2 0 6 0-32 2 2 0 2 0 2 0 2 0 2 0 2 0 2 0 2 0 2 0 2 0 2 0 2 0 2 0 2 0-24 2 2 0 2 0 2 0 2 0 2 0 2 0 2 0 2 0 2 0 2 0-20 2 4 0 2 0 2 0 2 0 2 0 2 0 2 0 2 0 2 0-22 2 12 0 10 0 4 0-20 2" marker-start="url(#j5)" marker-mid="url(#j5)" marker-end="url(#j5)"/><path d="m1146 810 0 2 2 0-4 2 2 0 4 0-6 2 2 0 2 0-4 2 2 0 2 0 12 62 2 0 4 0-4 2 2 0-2 2 2 0 2 0 92 0 2 0 2 0 6 0-104 2 90 0 2 0 2 0 4 0 2 0 2 0-22 2 6 0 2 0 2 0 2 0 2 0 2 0 2 0 2 0 2 0 8 0-28 2 4 0 2 0 2 0 4 0 2 0 2 0 2 0 2 0-18 2 4 0 2 0 2 0 2 0 2 0 2 0 2 0-12 2 2 0 2 0 2 0 2 0 2 0 2 0 2 0 2 0 2 0-14 2 2 0 6 0 2 0-6 2" marker-start="url(#j6)" marker-mid="url(#j6)" marker-end="url(#j6)"/><path d="m1148 810 0 2 16 70 94 0-96 2 2 0 96 0-4 2 4 0 4 0-12 2 2 0 2 0 2 0 2 0 2 0 2 0-16 2 6 0 2 0 4 0 2 0 2 0 2 0-20 2 8 0 2 0 4 0 4 0-4 2 2 0 2 0 2 0 0 2" marker-start="url(#j7)" marker-mid="url(#j7)" marker-end="url(#j7)"/><path d="m1164 882 102 2-10 2 2 0 2 0 2 0 4 0-10 2 2 0 2 0 2 0 4 0-10 2 2 0 2 0 2 0 4 0-14 2 4 0 2 0 4 0" marker-start="url(#j8)" marker-mid="url(#j8)" marker-end="url(#j8)"/></g><rect x="1038.4" y="673.3" width="320.8" height="320.3" fill="none" stroke="#9a9a9a" stroke-width="1.2"/><path d="M1202.7 673.3V993.6M1038.4 857.4H1359.2" stroke="#111" stroke-width="2"/><path d="M1030.4 993h8M1030.4 898.9h8M1030.4 805.6h8M1030.4 711.8h8" stroke="#222" stroke-width="1.8" fill="none"/><path d="M1034.4 964.7h4M1034.4 948.1h4M1034.4 936.3h4M1034.4 927.2h4M1034.4 919.8h4M1034.4 913.5h4M1034.4 908h4M1034.4 903.2h4M1034.4 870.8h4M1034.4 854.4h4M1034.4 842.7h4M1034.4 833.7h4M1034.4 826.3h4M1034.4 820.1h4M1034.4 814.6h4M1034.4 809.9h4M1034.4 777.4h4M1034.4 760.8h4M1034.4 749.1h4M1034.4 740h4M1034.4 732.6h4M1034.4 726.3h4M1034.4 720.9h4M1034.4 716.1h4M1034.4 683.6h4" stroke="#222" stroke-width="1.1" fill="none"/><text x="1001.9" y="1000.3" font-size="12.3" textLength="14.4" lengthAdjust="spacingAndGlyphs" fill="#222">10</text><text x="1016.3" y="992.4" font-size="11.5" textLength="5.1" lengthAdjust="spacingAndGlyphs" fill="#222">1</text><text x="1001.9" y="906.2" font-size="12.3" textLength="14.4" lengthAdjust="spacingAndGlyphs" fill="#222">10</text><text x="1016.4" y="898.3" font-size="11.3" textLength="6.6" lengthAdjust="spacingAndGlyphs" fill="#222">2</text><text x="1001.9" y="812.9" font-size="12.3" textLength="14.4" lengthAdjust="spacingAndGlyphs" fill="#222">10</text><text x="1016.6" y="805" font-size="11.3" textLength="6.3" lengthAdjust="spacingAndGlyphs" fill="#222">3</text><text x="1001.9" y="719.1" font-size="12.3" textLength="14.4" lengthAdjust="spacingAndGlyphs" fill="#222">10</text><text x="1016.8" y="711.2" font-size="11.5" textLength="5.9" lengthAdjust="spacingAndGlyphs" fill="#222">4</text><path d="M1039.1 993.6v7M1103.8 993.6v7M1168.6 993.6v7M1233.3 993.6v7M1297.6 993.6v7" stroke="#222" stroke-width="2" fill="none"/><path d="M1058.6 993.6v4M1070 993.6v4M1078.1 993.6v4M1084.3 993.6v4M1089.4 993.6v4M1093.8 993.6v4M1097.5 993.6v4M1100.8 993.6v4M1123.3 993.6v4M1134.7 993.6v4M1142.8 993.6v4M1149.1 993.6v4M1154.2 993.6v4M1158.6 993.6v4M1162.3 993.6v4M1165.6 993.6v4M1188.1 993.6v4M1199.5 993.6v4M1207.6 993.6v4M1213.8 993.6v4M1218.9 993.6v4M1223.3 993.6v4M1227 993.6v4M1230.3 993.6v4M1252.7 993.6v4M1264 993.6v4M1272 993.6v4M1278.2 993.6v4M1283.3 993.6v4M1287.6 993.6v4M1291.4 993.6v4M1294.7 993.6v4M1317 993.6v4M1328.3 993.6v4M1336.3 993.6v4M1342.5 993.6v4M1347.6 993.6v4M1351.9 993.6v4M1355.7 993.6v4" stroke="#222" stroke-width="1.1" fill="none"/><text x="1044.6" y="1021.6" font-size="12" textLength="13.9" lengthAdjust="spacingAndGlyphs" fill="#222">10</text><text x="1059.9" y="1014.1" font-size="12.2" textLength="5.4" lengthAdjust="spacingAndGlyphs" fill="#222">1</text><text x="1109.3" y="1021.6" font-size="12" textLength="13.9" lengthAdjust="spacingAndGlyphs" fill="#222">10</text><text x="1124.7" y="1014.1" font-size="12" textLength="7" lengthAdjust="spacingAndGlyphs" fill="#222">2</text><text x="1174.1" y="1021.6" font-size="12" textLength="13.9" lengthAdjust="spacingAndGlyphs" fill="#222">10</text><text x="1189.6" y="1014.1" font-size="12" textLength="6.7" lengthAdjust="spacingAndGlyphs" fill="#222">3</text><text x="1238.8" y="1021.6" font-size="12" textLength="13.9" lengthAdjust="spacingAndGlyphs" fill="#222">10</text><text x="1254.5" y="1014.1" font-size="12.2" textLength="6.3" lengthAdjust="spacingAndGlyphs" fill="#222">4</text><text x="1303.1" y="1021.6" font-size="12" textLength="13.9" lengthAdjust="spacingAndGlyphs" fill="#222">10</text><text x="1318.6" y="1014.1" font-size="12.2" textLength="6.7" lengthAdjust="spacingAndGlyphs" fill="#222">5</text><text x="1147.2" y="662.5" font-size="29.9" textLength="109.3" lengthAdjust="spacingAndGlyphs" fill="#000">Control</text><text x="1055.4" y="699.2" font-size="22" font-weight="bold" textLength="34.3" lengthAdjust="spacingAndGlyphs" fill="#000">Q1</text><text x="1047.5" y="733.2" font-size="22" font-weight="bold" textLength="50.9" lengthAdjust="spacingAndGlyphs" fill="#000">34.2</text><text x="1308.2" y="699.2" font-size="22" font-weight="bold" textLength="34.7" lengthAdjust="spacingAndGlyphs" fill="#000">Q2</text><text x="1299.3" y="733.2" font-size="22" font-weight="bold" textLength="51.7" lengthAdjust="spacingAndGlyphs" fill="#000">1.28</text><text x="1056.3" y="952.1" font-size="22" font-weight="bold" textLength="32.8" lengthAdjust="spacingAndGlyphs" fill="#000">Q4</text><text x="1048.1" y="986.1" font-size="22" font-weight="bold" textLength="50.8" lengthAdjust="spacingAndGlyphs" fill="#000">30.5</text><text x="1309.4" y="952.1" font-size="22" font-weight="bold" textLength="33.4" lengthAdjust="spacingAndGlyphs" fill="#000">Q3</text><text x="1301.4" y="986.1" font-size="22" font-weight="bold" textLength="50.1" lengthAdjust="spacingAndGlyphs" fill="#000">34.1</text><path d="M984.8 931.2V1031.5H1070.9" stroke="#000" stroke-width="4.5" fill="none" stroke-linejoin="miter"/><path d="M984.8 919.2l7 13h-14z" fill="#000"/><path d="M1082.9 1031.5l-13 7v-14z" fill="#000"/><text transform="translate(971.2 1018.1) rotate(-90)" x="-0.9" y="0" font-size="27.5" font-weight="bold" textLength="58.6" lengthAdjust="spacingAndGlyphs" fill="#000">CDT1</text><text x="1000.5" y="1069.6" font-size="21.1" font-weight="bold" textLength="47.6" lengthAdjust="spacingAndGlyphs" fill="#000">EdU</text><polyline points="1002,1073.3 1003.5,1074.5 1005,1073.3 1006.5,1074.5 1008,1073.3 1009.5,1074.5 1011,1073.3 1012.5,1074.5 1014,1073.3 1015.5,1074.5 1017,1073.3 1018.5,1074.5 1020,1073.3 1021.5,1074.5 1023,1073.3 1024.5,1074.5 1026,1073.3 1027.5,1074.5 1029,1073.3 1030.5,1074.5 1032,1073.3 1033.5,1074.5 1035,1073.3 1036.5,1074.5 1038,1073.3 1039.5,1074.5 1041,1073.3 1042.5,1074.5 1044,1073.3 1045.5,1074.5 1047,1073.3 1048.5,1074.5" fill="none" stroke="#e03030" stroke-width="0.9"/><g fill="none" stroke="none"><path d="m1552 701-1 11 0 5 47 2 36 0-33 3 15 1-78 1 9 0 51 0-63 1 5 0 5 0 60 0 1 0 3 0 11 0-59 1 9 0 15 0 31 0-11 1-58 1 10 0 15 0 14 0 9 0 20 0-86 1 15 0 11 0 31 0 9 0 18 0 14 0-70 1 36 0 47 0 6 0-67 1 59 0-107 1 30 0 37 0 6 0 3 0 13 0 2 0 8 0 15 0 14 0-109 1 10 0 11 0 29 1 49 0 5 0-96 1 4 0 42 0 8 0 11 0 13 0-105 1 10 0 38 0 14 0 13 0 28 0 27 0-115 1 35 0 9 0 58 0-122 1 10 0 30 0 15 0 6 0-61 1 16 0 15 0 15 0 8 0 40 0 1 0 1 0 25 0-96 1 33 0 9 0 38 0-60 1 4 0 14 0 45 0 11 0 5 0 21 0-132 1 4 0 8 0 15 0 81 0 6 0-98 2 12 0 19 0 58 0 8 0-108 1 10 0 103 0-79 1 72 0-124 1 8 0 23 0 12 0 81 0 6 0-99 1 17 0 79 0-130 1 5 0 30 0 8 0 77 0 17 0-131 1 29 0 88 0 14 1-132 1 128 1-125 1 144 0-19 1 8 1-139 1 136 0 8 0-140 1 145 0-146 4 130 0 12 0 1 0-139 1 135 0 6 1-150 1 137 0-132 1 141 0-6 1 11 0 2 0-152 1 153 1-160 1 0 1-3 1 9 1 1 0 142 1-151 1 8 0 147 1-152 1 146 0-144 1 145 0-3 1-135 1-4 1 126 0-122 1 128 1 1 0 6 1 8 0-145 1 141 0-139 1 132 0-140 1 146 0 3 0 6 0 5 0-158 2 139 1 15 0-156 1 68 0 78 0-145 2 8 0 1 0 136 0-142 2 12 1 9 0-28 1 1 0 5 0 11 0 108 0-123 1 101 0 27 0 15 0-140 1 130 0 9 1 1 0-132 1 138 0-148 1 25 0 119 0-113 1 67 0 40 0-139 1 4 0 8 2 59 0 67 0 3 0-138 2-1 1 32 0 41 0 59 0 10 0-129 1 114 0 6 0-141 1 20 0-3 1 22 0 105 0 1 0-139 2 71 0 6 0 52 0-125 1 11 0 35 0 13 0-57 1 38 0 17 0 46 0 24 0 11 0-8 1-16 1 7 0 9 0-133 1 2 0 5 0 46 0 76 0 7 0-70 1 15 0 14 0-87 1 54 0 7 0 5 0 42 0-104 1 36 0 2 0 50 0 26 0 3 0-120 1 69 0 54 0-73 1 24 0 30 0 9 0-36 1 20 0 4 0 26 0-130 1 70 0-23 1 3 0 4 0 60 0-118 1 44 0 23 0 35 0-107 1 96 0-83 1 68 0 33 0 15 0 2 0 5 0 2 0-132 1 11 0 59 0 52 0-123 1 44 0 18 0 15 0 10 0-32 1-43 1 29 0 26 0 3 0 15 0 42 0-123 1 82 0-55 1 29 0 3 0 38 0-55 1 36 0-81 1 32 0 64 0 11 0-109 1 24 0 6 0 45 0-77 1 51 0 13 0 65 0-110 1 19 0 6 0 17 0 9 0 31 0-99 1 12 0 23 1 71 0-73 1-31 1 2 0 6 0 12 0 26 0 7 0 23 0 53 0-125 1 33 0 94 0-21 1-102 1 8 0 22 0 52 0-88 1 18 0 3 0 3 0 5 0 24 0 13 0 24 0-80 1 20 0-9 2 23 0-42 1 30 0 1 0-3 2-6 1-24 1 7 0 25 3 33 0-62 1 5 0 33 1 4 0-6 2-37 2-33 1 39 0-7 2-6 2-37 1 40 2 45 0-49 1 35 0-40 1 82 2-30 1 26 0 2 0-71 2 80 2-74 1 26 0 3 0 13 0-83 1 19 0 12 0-1 1 41 0-34 1 31 0 45 0-43 1-28 1 29 0-6 2 32 0-48 1 14 0 41 0-52 1 15 1-41 1 15 0 1 1 0 2 17 1 49 0-54 2-3 1 39 0 61 0-79 1-32 3 15 0 53 2-73 3 7 1 90 0-37 2-79 3 125 0-45 1-98 3 7 1 63 1 50 3-96 2 41 0" marker-start="url(#j0)" marker-mid="url(#j0)" marker-end="url(#j0)"/><path d="m1574 728-29 1 2 0-9 2 8 0-9 1 16 0 36 0 1 0 24 0-35 1 40 0-82 1 2 0 16 0 78 0-98 1 12 0 60 0 5 0 4 0 13 0-41 1 2 0 23 0 15 0-97 1 6 0 47 0 31 0 36 0-103 1 35 0 47 0 5 0-106 1 5 0 23 0 7 0 28 0 26 0 9 0 6 0 2 0-72 1 77 0-109 1 7 0 40 0 12 0 27 0 10 0-94 1 1 0 7 0 7 0 2 0 22 0 22 0 42 0 8 0-115 1 3 0 50 0 7 0 38 0 3 0 8 0-108 1 10 0 5 0 5 0 15 0-35 1 7 0 36 0 8 0 2 0 10 0 53 0-91 1 8 0 48 0 23 0-103 1 13 0 1 0 4 0 3 0 9 0 6 0 70 0 16 0 3 0-7 1-116 1 6 0 10 0 22 0 8 0 9 0 21 0 25 0 9 0-109 1 4 0 6 0 9 0 71 0 11 0-76 1 3 0 9 0-37 1 5 0 1 0 6 0 7 0 24 0 2 0 70 0-115 1 3 0 6 0 2 0 4 0 26 0 62 0 28 0-136 1 2 0 25 0 72 0 15 0 2 0 9 0-106 1 38 0 66 0 8 0-83 1 67 0 13 0 4 0 4 0-127 1 36 0 5 0-29 1 22 0 69 0 8 1 6 0-125 1 4 0 12 0 98 0 11 0-121 1 101 0 18 0-127 1 1 0 2 0 4 0 58 0 51 1 14 0-122 2 109 1 13 0-129 1 135 0 7 0-138 1 2 0 29 0 76 1-97 1 53 0 9 0 42 0 17 0-72 1 33 0 26 0 14 0-110 1 58 0 11 0 42 0-140 1 22 1 91 0 18 0 2 0 7 0-116 1 54 0-60 1 93 0 20 0-125 1 14 0 66 0 46 0-136 1 4 0 85 0-70 1 98 0-117 1 16 0 56 1 57 0-125 1 139 1 1 0-78 1 77 0-140 1 18 0 4 0 27 1-54 1 9 0 6 0 5 0 49 0 72 0-139 1 6 0 21 0 37 0 6 0 8 0 52 0 14 0 7 0-43 1 29 0 7 0-135 1 66 0 28 0 5 0 33 0-42 1 41 0 13 0 5 0-157 2 1 0 18 0 4 0 104 0-99 1-7 1 50 0-68 2 24 0 33 0 35 0-83 1 19 0 35 0 64 0-132 1 5 0 11 0 8 0 10 0-7 1 4 0 7 0 1 0 74 0-86 1 88 0 19 0 14 0-142 1 25 0 28 0 39 0 35 0-130 1 1 0 21 0 25 0 42 0 34 0 8 0 4 0 6 0-136 1 8 0 40 0 85 0-89 1 3 0 19 0 40 0 13 0 7 0-86 1 69 0-113 1 44 0 56 0 20 0 13 0-117 1 97 0 2 0-102 1 2 0 10 0 21 0 33 0 15 0 33 0-86 1 27 0 57 0-126 1 22 0 13 0 45 0 47 0-129 1 2 0 14 0 38 0 3 0 72 0 6 0-125 1 62 0 2 0 29 0 9 0 18 0-55 1 3 0 2 0 20 0 9 0 11 0-102 1 48 0 16 0 3 0 20 0 16 0-114 1 2 0 35 0 6 0 10 0 2 0 57 0 13 0-123 1 28 0 33 0 3 0 4 0 24 0 8 0 1 0 4 0 22 0-114 1 37 0 1 0 24 0 24 0 7 0 2 0-73 1 37 0 13 0 3 0 23 0-105 1 13 0 25 0-38 1 29 0 13 0 26 0 3 0 2 0 12 0 6 0 12 0-103 1 1 0 33 0 19 0 3 0 32 0 4 0 7 0-101 1-3 1 9 0 54 0 50 0-116 1 37 0 1 0 57 0-91 1 3 0 111 0-111 1 26 0 3 0 6 0 10 0 12 0-40 1 2 0 57 0-83 1 41 2 15 0-61 1 8 0 24 0 9 0-17 1 6 0-31 1 26 0-5 1 12 0 6 0-37 1 7 1 53 0-59 1 7 0 13 0 4 0 101 0-97 1-27 1 4 0 5 0 23 0-21 1 3 0 7 0 1 0 10 0 8 0-22 1 7 1 14 0-31 1 29 0-9 1-9 1 9 0-3 2-23 1 13 0 7 1 4 1 7 1-28 1 5 0-2 1 2 0 21 0-6 1-15 2-2 1 7 0-11 1 18 0 5 0-20 1 2 0 23 2-20 1-7 2 28 0-35 3 35 0-49 1 34 0 13 1-30 2 19 0-1 2-20 2 0 1 74 0-74 1-4 1 6 1 31 0-24 1 13 0-20 1 11 1 16 1 0 4-21 1 15 0-7 2 5 0-13 1 11 0 12 0-17 1-9 1 17 0 5 0 1 1-13 1-2 3 5 0 1 2-3 3" marker-start="url(#j1)" marker-mid="url(#j1)" marker-end="url(#j1)"/><path d="m1545 733 1 1-2 1 55 0 16 0-82 1 9 0 61 0-73 1 65 0 4 0 1 0 4 0-67 1 60 0 1 0 4 0 4 0 14 0 11 0-56 1 2 0 31 0 4 0-69 1 21 0 47 0 3 0-52 1 13 0 36 0-67 1 17 0 6 0 11 0 22 0 8 0 21 0-67 1 15 0 5 0 11 0 4 0 12 0 3 0 4 0 10 0 3 0-65 1 12 0 21 0 6 0 1 0 15 0 21 0 4 0-117 1 4 0 21 0 20 0 1 0 10 0 7 0 17 0 3 0 6 0 2 0 7 0-94 1 8 0 1 0 9 0 36 0 2 0 1 0 1 0 2 0 32 0 1 0-88 1 14 0 2 0 14 0 12 0 2 0 19 0 3 0 8 0 1 0 15 0 2 0 1 0 1 0-42 1 7 0 9 0 25 0-95 1 11 0 2 0 27 0 41 0 4 0 4 0 6 0-89 1 30 0 6 0 2 0 7 0 17 0 19 0 4 0 16 0-93 1 1 0 102 0-119 1 2 0 1 0 39 0 26 0 1 0 40 0 9 0 4 0-103 1 6 0 4 0 1 0 16 0 1 0 48 0 11 0 1 0 6 0 8 0 10 0-102 1 58 0 1 0 16 0 11 0 4 0 3 0 8 0-121 1 7 0 2 0 18 0 18 0 55 0 20 0-124 1 13 0 5 0 1 0 10 0 1 0 1 0 13 0 21 0 26 0 1 0 12 0 8 0-113 1 5 0 1 0 3 0 5 0 4 0 3 0 7 0 11 0 61 0 11 0 8 0-124 1 4 0 3 0 11 0 3 0 20 0 1 0 28 0 19 0 38 0-113 1 24 0 56 0 1 0 25 0-86 1 38 0 23 0 14 0 16 0-112 1 61 0 31 0-106 1 13 0 11 0 12 0 17 0 64 0 5 0 2 0 6 0-76 1 6 0 5 0 8 0 26 0 11 0 4 0-107 1 1 0 30 0 19 0 9 0 40 0 6 0 6 0 2 0 1 0 23 0-134 1 51 0 3 0 13 0 16 0 1 0 4 0 9 0-100 1 8 0 21 0 4 0 34 0 2 0 3 0 3 0 28 0-111 1 15 0 58 0 24 0 18 0 5 0 10 0-131 1 13 0 65 0 2 0 1 0 35 0 5 0-80 1 3 0 85 0-129 1 19 0 1 0 45 0 19 0 29 0 2 0 1 0 1 0 10 0-128 1 15 0 13 0 17 0 31 0 2 0 11 0 44 0 7 0-135 1 5 0 4 0 49 0 62 0 1 0-122 1 15 0 38 0 52 0 3 0 14 0 7 0 1 0 2 0-120 1 69 0 36 0-119 1 6 0 3 0 2 0 69 0 31 0 3 0 5 0 13 0-131 1 13 0 10 0 97 0 4 0-111 1 6 0 40 0 7 0 19 0 11 0 6 0 1 0 4 0 17 0 4 0-130 1 1 0 22 0 3 0 2 0 7 0 33 0 2 0 4 0 6 0 1 0 13 0 3 0 24 0 4 0 9 0-130 1 13 0 4 0 8 0 9 0 31 0 53 0 3 0 4 0-138 1 24 0 3 0 28 0 11 0 33 0 11 0 14 0-110 1 10 0 1 0 7 0 7 0 2 0 42 0 43 0-113 1 11 0 15 0 4 0 16 0 70 0 2 0 9 0-123 1 6 0 5 0 14 0 3 0 12 0 54 0 17 0-120 1 8 0 19 0 7 0 12 0 17 0 53 0 11 0-109 1 49 0 10 0 15 0-82 1 1 0 33 0 12 0 71 0-128 1 5 0 20 0 27 0 23 0 53 0 1 0-82 1 47 0 28 0-102 1 6 0 33 0 11 0 2 0 8 0 1 0 5 0 2 0 13 0 11 0 5 0 14 0-123 1 5 0 4 0 41 0 8 0 23 0 41 0-121 1 54 0 1 0 8 0 28 0 16 0-120 1 61 0 7 0-59 1 11 0 5 0 1 0 65 0 5 0 9 0 1 0 16 0 7 0 6 0-126 1 2 0 18 0 24 0 74 0 4 0 8 0-86 1 2 0 8 0 19 0 15 0 2 0 3 0 1 0 6 0 22 0 1 0 4 0-129 1 3 0 49 0 1 0 10 0 30 0 22 0 4 0-110 1 7 0 15 0 33 0 23 0 29 0 3 0-124 1 2 0 28 0 18 0 9 0 33 0 7 0 1 0 3 0 9 0 15 0 5 0 2 0-124 1 9 0 2 0 5 0 17 0 22 0 18 0 17 0 20 0 8 0 3 0-125 1 4 0 31 0 57 0 2 0 1 0 3 0 26 0 2 0-107 1 2 0 1 0 1 0 4 0 9 0 4 0 2 0 16 0 77 0-136 1 11 0 14 0 15 0 3 0 2 0 1 0 6 0 3 0 2 0 1 0 10 0 27 0 17 0-113 1 4 0 27 0 24 0 41 0 5 0-100 1 7 0 7 0 8 0 24 0 31 0 2 0 20 0 6 0-106 1 4 0 5 0 6 0 2 0 54 0 8 0 14 0 2 0 1 0 4 0-96 1 13 0 10 0 24 0 4 0 7 0 16 0 4 0 33 0 2 0-102 1 6 0 2 0 1 0 8 0 9 0 11 0 5 0 30 0 2 0 4 0 6 0 6 0-88 1 5 0 12 0 32 0 5 0 14 0 10 0-77 1 8 0 10 0 17 0 1 0 4 0 24 0 3 0 17 0 3 0 8 0-67 1 15 0 17 0 6 0 4 0 28 0 3 0-114 1 3 0 14 0 1 0 21 0 1 0 10 0 40 0 11 0 1 0 5 0 3 0-101 1 4 0 20 0 14 0 29 0 1 0 3 0 11 0 11 0-92 1 14 0 8 0 8 0 19 0 8 0 5 0 2 0 5 0 17 0 4 0 7 0-114 1 6 0 3 0 21 0 11 0 2 0 1 0 3 0 13 0 1 0 13 0 8 0 3 0 8 0 20 0 1 0 2 0-116 1 19 0 2 0 9 0 8 0 27 0 22 0 16 0-99 1 5 0 5 0 6 0 5 0 40 0 11 0 40 0-112 1 19 0 58 0 1 0 10 0 23 0-93 1 15 0 1 0 5 0 42 0 2 0 15 0-95 1 7 0 8 0 2 0 8 0 2 0 3 0 27 0 18 0 19 0-73 1 58 0 1 0 1 0 10 0 7 0 2 0-91 1 18 0 35 0 9 0 3 0 2 0-63 1 13 0 49 0 18 0-88 1 17 0 7 0 16 0 17 0 31 0-86 1 3 0 15 0 16 0 15 0 40 0-83 1 17 0 1 0 6 0-33 1 8 0 8 0-25 1 4 0 10 0 2 0-5 1 9 0 15 0 1 0-27 1 5 0 11 0 9 0 1 0-41 1 22 0 1 0 3 0 10 0 3 0-33 1 2 0 7 1 2 0 12 0-22 1 5 0 11 0 10 0 1 0 3 0-25 1 5 0 16 0 12 0-34 1 1 0 10 0 14 0 3 0-22 2 2 0 7 0 12 0-25 1-6 1 1 0 3 0 9 0 10 0 11 0 1 0-1 1-23 1 3 0 18 0-1 1 6 0-33 1 28 0-26 1 4 0 6 2 1 0-3 1 3 0 11 0-13 1 4 4 2 0 2 0-5 1-4 1-2 1 3 0-3 1 7 0-15 1 9 0 2 1-5 1 5 0 11 0-22 1 0 1 6 0 10 0 5 0 1 0 3 0-28 1 6 1 5 0 11 0 2 0-23 2 5 0 1 0 6 0 2 0 11 0-26 1 6 0 1 0 10 0 3 0-21 1 20 0-22 1 10 0 21 0-25 1 6 0 15 0 3 0-25 1 20 0-23 1 6 0 6 0 8 0 10 0-19 1 16 0-28 1 3 0 8 0-8 1 13 0 12 0-28 1 4 0 7 0 5 0 13 0-26 1 1 0 3 0 6 0 18 0-20 1 7 0 4 0 6 0 2 0 1 0-25 1 22 0-25 1 6 0 16 0-24 1 14 0 1 0 10 0-26 1 7 0-7 1 3 0 15 0 7 0-10 1 10 0-18 1 12 0 4 0 1 0 4 0-18 1 3 0 3 0 5 0 3 0-21 1 1 0 1 0 2 0 8 0 8 0 3 0-4 1-13 1 9 0 6 0-20 1 2 0-3 1 11 0 1 0 4 0 1 0-18 1 5 0 11 1-7 1 8 0 1 0-15 1 1 0 0 1 9 0 3 0 1 0-4 1 8 0-15 1 2 0 5 2-2 1" marker-start="url(#j2)" marker-mid="url(#j2)" marker-end="url(#j2)"/><path d="m1543 734-1 2 1 0-8 1 63 0 13 1-13 1 15 0-14 1 7 0 2 0 17 0-32 1 5 0 1 0 3 0 2 0 10 0 5 0-12 1 11 0 6 0-61 1 34 0 19 0 3 0-21 1 7 0 2 0 12 0 10 0-25 1 16 0 3 0 1 0 8 0 11 0-96 1 30 0 12 0 9 0 7 0 9 0 1 0 11 0 6 0 11 0-44 1 3 0 4 0 11 0 24 0-93 1 35 0 8 0 4 0 19 0 11 0 13 0 2 0-99 1 11 0 30 0 16 0 1 0 3 0 2 0 1 0 26 0 9 0-101 1 44 0 8 0 2 0 13 0 9 0 2 0 5 0 9 0 7 0-60 1 3 0 7 0 2 0 5 0 7 0 5 0 17 0 1 0 4 0 1 0 1 0 2 0 8 0 4 0 2 0-102 1 3 0 9 0 4 0 1 0 26 0 9 0 11 0 1 0 9 0-63 1 29 0 1 0 34 0 14 0 6 0 13 0-107 1 7 0 6 0 24 0 16 0 13 0 8 0 2 0 2 0 2 0 4 0 6 0 5 0-78 1 4 0 17 0 6 0 4 0 9 0 5 0 8 0 22 0-102 1 50 0 13 0 7 0 1 0 24 0 3 0-93 1 5 0 10 0 13 0 20 0 1 0 1 0 10 0 11 0 11 0 3 0 6 0 5 0-95 1 5 0 11 0 2 0 6 0 6 0 8 0 1 0 4 0 2 0 2 0 6 0 1 0 2 0 10 0 2 0 13 0 1 0 25 0-92 1 4 0 8 0 9 0 3 0 9 0 4 0 4 0 4 0 7 0 19 0 8 0 15 0-110 1 10 0 4 0 6 0 13 0 4 0 3 0 3 0 12 0 1 0 2 0 5 0 18 0 5 0 4 0 3 0 8 0-101 1 3 0 15 0 2 0 7 0 9 0 3 0 27 0 23 0 2 0-89 1 51 0 7 0 7 0 9 0 3 0 3 0 5 0 5 0 15 0 8 0-111 1 4 0 13 0 27 0 3 0 6 0 7 0 3 0 1 0 5 0 3 0 13 0 22 0-111 1 1 0 4 0 5 0 12 0 9 0 10 0 2 0 17 0 10 0 28 0-73 1 19 0 20 0 12 0 7 0 1 0 17 0 9 0-114 1 2 0 13 0 19 0 29 0 1 0 8 0 11 0 4 0 7 0 1 0 10 0 10 0-107 1 8 0 9 0 4 0 19 0 4 0 2 0 13 0 2 0 8 0 12 0 8 0 15 0 3 0 1 0-124 1 6 0 4 0 2 0 6 0 1 0 36 0 3 0 5 0 7 0 3 0 18 0 8 0 2 0 5 0 17 0 4 0-117 1 12 0 15 0 2 0 3 0 7 0 1 0 6 0 6 0 13 0 3 0 6 0 7 0 25 0 8 0 6 0-107 1 4 0 10 0 9 0 10 0 2 0 3 0 21 0 15 0 30 0 2 0-129 1 2 0 5 0 1 0 3 0 10 0 9 0 5 0 4 0 16 0 9 0 2 0 21 0 4 0 1 0 11 0 5 0 15 0-117 1 3 0 12 0 12 0 5 0 33 0 1 0 45 0 3 0 2 0-123 1 3 0 3 0 2 0 1 0 6 0 11 0 3 0 9 0 4 0 2 0 2 0 3 0 25 0 1 0 4 0 5 0 5 0 7 0 25 0 5 0-108 1 3 0 2 0 37 0 7 0 12 0 2 0 4 0 6 0 3 0 8 0 13 0-97 1 7 0 3 0 4 0 4 0 3 0 20 0 7 0 1 0 1 0 11 0 3 0 7 0 1 0 2 0 6 0-94 1 1 0 2 0 25 0 2 0 9 0 15 0 11 0 2 0 3 0 20 0 4 0 2 0 2 0 12 0 12 0-106 1 8 0 8 0 6 0 3 0 4 0 10 0 3 0 10 0 9 0 4 0 3 0 9 0 2 0 3 0 14 0-108 1 21 0 4 0 5 0 5 0 20 0 3 0 6 0 12 0 3 0 8 0 4 0 15 0 1 0-105 1 11 0 3 0 3 0 16 0 6 0 3 0 21 0 6 0 1 0 10 0 1 0 5 0 7 0 4 0-98 1 10 0 21 0 15 0 1 0 11 0 6 0 14 0 1 0 11 0 29 0-107 1 6 0 6 0 7 0 19 0 2 0 6 0 4 0 8 0 5 0 2 0 2 0 11 0 4 0 8 0 6 0-108 1 2 0 1 0 1 0 8 0 4 0 11 0 4 0 7 0 7 0 4 0 2 0 39 0 5 0 25 0-126 1 6 0 31 0 6 0 12 0 7 0 4 0 3 0 6 0 18 0 8 0 7 0 3 0 10 0-114 1 3 0 1 0 1 0 15 0 6 0 6 0 7 0 3 0 7 0 12 0 17 0 5 0 2 0 3 0 26 0-108 1 6 0 8 0 4 0 24 0 17 0 4 0 10 0 8 0 2 0 1 0 1 0 20 0-116 1 2 0 23 0 14 0 9 0 29 0 15 0 13 0 1 0 4 0 3 0-104 1 8 0 10 0 42 0 13 0-73 1 19 0 25 0 7 0 8 0 18 0 15 0 21 0-121 1 2 0 3 0 3 0 33 0 9 0 8 0 20 0 22 0 2 0 20 0-118 1 1 0 1 0 1 0 16 0 1 0 3 0 9 0 2 0 13 0 6 0 11 0 24 0 8 0 5 0 5 0 5 0 5 0-124 1 1 0 3 0 13 0 5 0 29 0 8 0 19 0 10 0 1 0 18 0 5 0 2 0 5 0 5 0 2 0-113 1 6 0 8 0 1 0 18 0 24 0 5 0 7 0 6 0 8 0 7 0 13 0 6 0 1 0-111 1 17 0 3 0 7 0 8 0 5 0 4 0 8 0 14 0 20 0 20 0 5 0-86 1 5 0 2 0 3 0 3 0 29 0 2 0 4 0 17 0 6 0 2 0 2 0-111 1 9 0 11 0 5 0 6 0 27 0 26 0 8 0 12 0 1 0-100 1 12 0 8 0 5 0 12 0 2 0 29 0 1 0 5 0 27 0 5 0 5 0 7 0-93 1 5 0 1 0 7 0 1 0 4 0 2 0 5 0 23 0 4 0 18 0 9 0-81 1 23 0 3 0 4 0 23 0 17 0 10 0 4 0 2 0-109 1 2 0 3 0 1 0 28 0 4 0 3 0 3 0 6 0 5 0 1 0 18 0 1 0 7 0 8 0 7 0 5 0 4 0 2 0 5 0-112 1 2 0 1 0 31 0 1 0 4 0 28 0 3 0 10 0 13 0 7 0 8 0-106 1 8 0 7 0 33 0 5 0 1 0 1 0 6 0 5 0 10 0 18 0 1 0 3 0 9 0 4 0-121 1 9 0 20 0 2 0 2 0 12 0 27 0 6 0 2 0 3 0 7 0 23 0-111 1 1 0 7 0 17 0 19 0 2 0 1 0 8 0 13 0 10 0 6 0 12 0 5 0 7 0 2 0 2 0 4 0-114 1 4 0 1 0 16 0 10 0 3 0 9 0 8 0 1 0 2 0 3 0 9 0 11 0 6 0 2 0 26 0-110 1 8 0 17 0 1 0 24 0 1 0 2 0 3 0 4 0 7 0 2 0 12 0 7 0 1 0 17 0 3 0-106 1 1 0 4 0 2 0 18 0 17 0 6 0 1 0 7 0 22 0 16 0 3 0-107 1 27 0 1 0 2 0 30 0 6 0 8 0 1 0 23 0 12 0 2 0-107 1 4 0 8 0 13 0 19 0 6 0 3 0 10 0 5 0 17 0-66 1 7 0 3 0 10 0 33 0 1 0 9 0 13 0 6 0 4 0 3 0 5 0-106 1 22 0 18 0 4 0 15 0 1 0 13 0 1 0 6 0-76 1 5 0 12 0 14 0 8 0 4 0 36 0 5 0 3 0-88 1 16 0 17 0 5 0 9 0 28 0 5 0 6 0 2 0-89 1 12 0 6 0 8 0 4 0 3 0 19 0 14 0 4 0 4 0 1 0-90 1 15 0 5 0 3 0 7 0 3 0 17 0 7 0 35 0 4 0 12 0-95 1 20 0 3 0 1 0 34 0 19 0-85 1 7 0 10 0 3 0 63 0 2 0 12 0-84 1 8 0 3 0 6 0 47 0-68 1 2 0 1 0 5 0 9 0 50 0 7 0 1 0-75 1 74 0-73 1 1 0 20 0-4 1 2 0-8 1 3 0 2 0 13 0 9 0-37 1 2 1 5 0 2 0-20 1 16 0 2 0 5 0 1 0-22 2 5 0 2 0 10 0 1 0 3 0 10 0-26 1 11 0-14 1 9 0 4 0 16 0-14 1 1 0 3 0 10 0-24 1 18 0-23 1 1 0 3 0 17 0-17 1-2 1 1 0 5 0 16 0-23 1 4 0 5 1 13 0-23 1 7 0-4 1 3 0 3 0-5 1 6 0 13 0 0 1-3 1-13 2 18 0-23 1 2 0 4 3 5 4 2 2-10 2 2 1-5 1 5 0-3 2 2 0 6 0-18 1 15 0 1 0 1 1-11 1 2 0 4 0 9 0 3 0-16 1 11 0-5 1 7 0-11 1 3 0 8 0 1 0-10 1 4 0 6 0 6 0 1 0-24 1 6 0 12 0 2 0-22 1 4 0 20 0-8 1-8 1 3 0 5 0-13 1 6 0 5 0 3 0 3 0-19 1 4 0 10 0-13 1 14 0-21 1 8 0-4 1 9 0 6 0 9 0-26 1 4 0 1 0 1 0 3 0 2 0 10 0 1 0-14 1 4 0 16 0-12 1 1 0 2 0 1 0 8 0-27 1 19 0-18 1 3 0 5 0 9 0 2 0-7 1 3 0-14 1 11 0 2 0-10 1 15 1-12 1 2 0 0 1 1 0 7 0-13 1 12 0-14 1 17 0 5 0-16 1 1 0-3 1-1 1 1 3 9 1" marker-start="url(#j3)" marker-mid="url(#j3)" marker-end="url(#j3)"/><path d="m1600 738-8 2 6 0 2 0 14 0-16 2 4 0 8 0 4 0-16 2 2 0 6 0 6 0 4 0 2 0 2 0 6 0-60 2 20 0 12 0 6 0 8 0 2 0 6 0 22 0-62 2 6 0 4 0 6 0 14 0 2 0 4 0 12 0 12 0-58 2 8 0 2 0 8 0 4 0 2 0 4 0 2 0 2 0 2 0 2 0 10 0-92 2 12 0 30 0 2 0 4 0 2 0 2 0 4 0 2 0 2 0 2 0 10 0 6 0 4 0 4 0 12 0-102 2 12 0 16 0 4 0 30 0 12 0 2 0 2 0 4 0 4 0 14 0 2 0-76 2 4 0 2 0 6 0 14 0 4 0 2 0 2 0 6 0 2 0 2 0 4 0 6 0 6 0 2 0 14 0 2 0 2 0-84 2 2 0 12 0 12 0 10 0 2 0 2 0 2 0 2 0 2 0 8 0 4 0 4 0 6 0 6 0 2 0 2 0 4 0-94 2 14 0 2 0 2 0 2 0 2 0 2 0 4 0 6 0 8 0 4 0 8 0 4 0 8 0 12 0 2 0 28 0-108 2 6 0 2 0 4 0 2 0 4 0 4 0 8 0 4 0 2 0 8 0 6 0 10 0 6 0 4 0 2 0 2 0 2 0 2 0 12 0 2 0 6 0 4 0-106 2 12 0 4 0 2 0 2 0 2 0 8 0 4 0 2 0 2 0 6 0 4 0 6 0 2 0 4 0 6 0 2 0 4 0 2 0 4 0 2 0 2 0 12 0 24 0-120 2 4 0 2 0 6 0 8 0 2 0 2 0 2 0 10 0 2 0 2 0 6 0 4 0 8 0 4 0 2 0 4 0 2 0 6 0 8 0 2 0 4 0 2 0 4 0 2 0 2 0 6 0-96 2 2 0 12 0 4 0 2 0 2 0 4 0 2 0 8 0 2 0 6 0 4 0 2 0 2 0 4 0 10 0 2 0 2 0 2 0 2 0 2 0 2 0 8 0 2 0 2 0 4 0 6 0 10 0-126 2 2 0 6 0 14 0 4 0 2 0 2 0 4 0 10 0 6 0 12 0 2 0 2 0 16 0 40 0 2 0-122 2 24 0 2 0 2 0 8 0 6 0 4 0 2 0 2 0 4 0 8 0 2 0 4 0 6 0 10 0 2 0 4 0 2 0 2 0 2 0 2 0 2 0 2 0 10 0 8 0-118 2 14 0 6 0 4 0 2 0 2 0 2 0 4 0 2 0 2 0 2 0 6 0 2 0 6 0 8 0 2 0 2 0 14 0 4 0 8 0 2 0 2 0 4 0 8 0-110 2 14 0 2 0 6 0 8 0 2 0 2 0 6 0 4 0 6 0 2 0 2 0 2 0 2 0 14 0 8 0 2 0 2 0 6 0 2 0 6 0 8 0 2 0 4 0 8 0-122 2 16 0 14 0 2 0 4 0 6 0 2 0 4 0 4 0 4 0 8 0 8 0 2 0 6 0 4 0 12 0 4 0 4 0 2 0 4 0 2 0-108 2 2 0 6 0 6 0 6 0 8 0 10 0 2 0 6 0 2 0 4 0 6 0 16 0 4 0 4 0 14 0 4 0 4 0 4 0 2 0-108 2 16 0 4 0 8 0 14 0 6 0 2 0 6 0 2 0 2 0 2 0 4 0 2 0 4 0 4 0 2 0 8 0 2 0 4 0 2 0 2 0 4 0 2 0 6 0-108 2 4 0 6 0 4 0 2 0 2 0 8 0 12 0 4 0 4 0 12 0 2 0 2 0 4 0 2 0 2 0 2 0 2 0 6 0 2 0 4 0 2 0 2 0 4 0 2 0 4 0 4 0 2 0 2 0-110 2 14 0 2 0 6 0 2 0 4 0 2 0 2 0 4 0 4 0 4 0 10 0 2 0 2 0 2 0 2 0 10 0 4 0 4 0 6 0 4 0 12 0 2 0 2 0 4 0 6 0-118 2 2 0 14 0 2 0 16 0 4 0 2 0 2 0 2 0 2 0 2 0 22 0 8 0 2 0 2 0 2 0 6 0 8 0 2 0 2 0 4 0 2 0 2 0 8 0 4 0-124 2 4 0 4 0 10 0 2 0 2 0 4 0 2 0 4 0 4 0 2 0 2 0 4 0 4 0 2 0 10 0 4 0 2 0 6 0 6 0 8 0 2 0 4 0 8 0 2 0 4 0 2 0 16 0-102 2 2 0 4 0 4 0 6 0 4 0 6 0 4 0 6 0 4 0 4 0 4 0 2 0 2 0 2 0 2 0 2 0 2 0 6 0 2 0 2 0 2 0 8 0 6 0 12 0-98 2 2 0 2 0 4 0 4 0 2 0 8 0 8 0 8 0 2 0 2 0 2 0 2 0 2 0 6 0 4 0 6 0 4 0 8 0 6 0 2 0 4 0 6 0 2 0-96 2 10 0 8 0 10 0 14 0 2 0 6 0 2 0 6 0 2 0 2 0 6 0 6 0 2 0 2 0 6 0 4 0 8 0-110 2 6 0 24 0 4 0 2 0 4 0 14 0 2 0 2 0 2 0 4 0 6 0 2 0 18 0 2 0 6 0 6 0-80 2 2 0 2 0 2 0 2 0 22 0 2 0 2 0 4 0 2 0 2 0 2 0 6 0 16 0 2 0 2 0 4 0 2 0 6 0 2 0-94 2 2 0 4 0 2 0 2 0 20 0 6 0 4 0 6 0 2 0 10 0 18 0 2 0 10 0 4 0-110 2 20 0 2 0 2 0 4 0 2 0 14 0 64 0-110 2 10 0 14 0 4 0 4 0 14 0 10 0 6 0 2 0 2 0 4 0 22 0 4 0-80 2 10 0 28 0 4 0 2 0 12 0 2 0 6 0 14 0 2 0-84 2 12 0 16 0 18 0 14 0 8 0 12 0 4 0 10 0 2 0-98 2 4 0 2 0 22 0 14 0 30 0 2 0-86 2 8 0 10 0 8 0 8 0 44 0 4 0 4 0-66 2 56 0 6 0 4 0-66 2 2 0 2 0-14 2 2 0 12 0-14 2 2 0 2 0 2 0 6 0-12 2 2 0 2 0 8 0-6 2-2 2 2 0 14 0-28 2 6 0-2 2 4 0 14 0-20 2 2 2 6 0-2 4 2 0 6 10-16 6 6 0 4 2 6 2-12 2 2 0 6 0-8 2 2 0 4 0 12 0-10 2 2 0 2 0 4 0 2 0-16 2 4 0 2 0 2 0 4 0-22 2 12 0 14 0-24 4 22 0-22 2 16 0 4 0 6 0-12 2 4 0-14 2 6 0 2 0 4 0-12 2 4 0 4 0-4 4 0 2 4 4-10 2 2 0" marker-start="url(#j4)" marker-mid="url(#j4)" marker-end="url(#j4)"/><path d="m1620 738-14 6 10 0-38 2 12 0 4 0 12 2 34 0-52 2 4 0 2 0 28 0 4 0-32 2 2 0 16 0-52 2 30 0 16 0 6 0 4 0 16 0-72 2 30 0 4 0 6 0 14 0 18 0 2 0 2 0 2 0-88 2 36 0 8 0 2 0 2 0 2 0 8 0 6 0 2 0 6 0 4 0-86 2 20 0 24 0 26 0 2 0 4 0 16 0-80 2 2 0 4 0 18 0 6 0 2 0 4 0 22 0 8 0 12 0 12 0-102 2 10 0 4 0 10 0 8 0 4 0 4 0 2 0 8 0 6 0 30 0-78 2 2 0 2 0 4 0 16 0 4 0 2 0 4 0 2 0 2 0 16 0 8 0 4 0 2 0 4 0 10 0 2 0 2 0 18 0-114 2 34 0 2 0 2 0 2 0 6 0 12 0 8 0 10 0 2 0 2 0 10 0 2 0 2 0 2 0-84 2 6 0 2 0 2 0 8 0 6 0 6 0 14 0 6 0 20 0 6 0 6 0-74 2 10 0 2 0 2 0 4 0 4 0 4 0 8 0 2 0 10 0 22 0 4 0 2 0 2 0 8 0-88 2 14 0 2 0 8 0 32 0 2 0 4 0 2 0 22 0-84 2 4 0 2 0 12 0 2 0 2 0 2 0 16 0 30 0 16 0-96 2 32 0 6 0 52 0 6 0-78 2 22 0 38 0 2 0 14 0-90 2 4 0 12 0 8 0 4 0 34 0 2 0 10 0 14 0 2 0 2 0-90 2 4 0 2 0 6 0 2 0 10 0 18 0 4 0 12 0 2 0 10 0 2 0 8 0 4 0 8 0-92 2 4 0 6 0 4 0 2 0 32 0 12 0 6 0 14 0 2 0 2 0 4 0 2 0 2 0 10 0-106 2 6 0 10 0 4 0 6 0 6 0 20 0 12 0 6 0 18 0 4 0 8 0 8 0-110 2 6 0 2 0 2 0 4 0 2 0 4 0 2 0 2 0 10 0 2 0 4 0 8 0 14 0 2 0 20 0 4 0 2 0 2 0 12 0-114 2 24 0 4 0 2 0 16 0 6 0 8 0 2 0 2 0 2 0 2 0 2 0 4 0 22 0 2 0-84 2 10 0 40 0 2 0 24 0 6 0 4 0-42 2 4 0 4 0 14 0 20 0 2 0-100 2 58 0 4 0 2 0 6 0 2 0 4 0 14 0 8 0 2 0-78 2 32 0 6 0 8 0 2 0 6 0 16 0 12 0-88 2 6 0 50 0 18 0 10 0-76 2 2 0 24 0 8 0 2 0 32 0-68 2 24 0 2 0 10 0 4 0 22 2 2 0 2 0-14 2 14 0 2 0-88 4 68 0 4 0-66 2 8 4-12 4 6 0 4 0-10 4-4 36 8 2 0 2-14 2-2 2 2 0-2 2 10 4-4 2 4 0 2 0 2 0-12 4" marker-start="url(#j5)" marker-mid="url(#j5)" marker-end="url(#j5)"/><path d="m1598 744-6 6 16 2 2 0 4 0-26 2 2 0 24 0-8 2 2 0 2 0 4 0 2 0 16 0-22 2 4 0 2 0 0 2-62 2 22 0 30 0-54 2 24 0 4 0-4 2-16 2 54 0-30 2 44 0-80 2 34 0 48 0-62 2 6 0 0 4 24 2 40 2-12 2-58 2-12 2 6 0 2 0 2 0 12 0-24 2 8 0 4 0 2 0 26 0 10 0-44 2 46 0 2 0-14 2 4 2 0 2 4 0 8 0 22 0-38 2 6 0 10 0-44 2-4 2 66 6" marker-start="url(#j6)" marker-mid="url(#j6)" marker-end="url(#j6)"/><path d="m1612 756 0 2-62 6 10 0 22 0-6 2-20 4 6 16 2 2 4 0-2 2 2 0-10 4" marker-start="url(#j7)" marker-mid="url(#j7)" marker-end="url(#j7)"/><path d="m1614 758-38 6-4 10-8 12" marker-start="url(#j8)" marker-mid="url(#j8)" marker-end="url(#j8)"/></g><rect x="1404.6" y="672.4" width="319.6" height="320.1" fill="none" stroke="#9a9a9a" stroke-width="1.2"/><path d="M1567.8 672.4V992.5M1404.6 856.4H1724.2" stroke="#111" stroke-width="2"/><path d="M1396.6 992.5h8M1396.6 898h8M1396.6 806.2h8M1396.6 711.4h8" stroke="#222" stroke-width="1.8" fill="none"/><path d="M1400.6 964.1h4M1400.6 947.4h4M1400.6 935.6h4M1400.6 926.4h4M1400.6 919h4M1400.6 912.6h4M1400.6 907.2h4M1400.6 902.3h4M1400.6 870.4h4M1400.6 854.2h4M1400.6 842.7h4M1400.6 833.8h4M1400.6 826.6h4M1400.6 820.4h4M1400.6 815.1h4M1400.6 810.4h4M1400.6 777.7h4M1400.6 761h4M1400.6 749.1h4M1400.6 739.9h4M1400.6 732.4h4M1400.6 726.1h4M1400.6 720.6h4M1400.6 715.7h4M1400.6 682.9h4" stroke="#222" stroke-width="1.1" fill="none"/><text x="1368.1" y="999.8" font-size="12.3" textLength="14.4" lengthAdjust="spacingAndGlyphs" fill="#222">10</text><text x="1382.5" y="991.9" font-size="11.5" textLength="5.1" lengthAdjust="spacingAndGlyphs" fill="#222">1</text><text x="1368.1" y="905.3" font-size="12.3" textLength="14.4" lengthAdjust="spacingAndGlyphs" fill="#222">10</text><text x="1382.6" y="897.4" font-size="11.3" textLength="6.6" lengthAdjust="spacingAndGlyphs" fill="#222">2</text><text x="1368.1" y="813.5" font-size="12.3" textLength="14.4" lengthAdjust="spacingAndGlyphs" fill="#222">10</text><text x="1382.8" y="805.6" font-size="11.3" textLength="6.3" lengthAdjust="spacingAndGlyphs" fill="#222">3</text><text x="1368.1" y="718.7" font-size="12.3" textLength="14.4" lengthAdjust="spacingAndGlyphs" fill="#222">10</text><text x="1383" y="710.8" font-size="11.5" textLength="5.9" lengthAdjust="spacingAndGlyphs" fill="#222">4</text><path d="M1404.8 992.5v7M1469.3 992.5v7M1534 992.5v7M1598.7 992.5v7M1663.3 992.5v7" stroke="#222" stroke-width="2" fill="none"/><path d="M1424.2 992.5v4M1435.6 992.5v4M1443.6 992.5v4M1449.9 992.5v4M1455 992.5v4M1459.3 992.5v4M1463 992.5v4M1466.3 992.5v4M1488.8 992.5v4M1500.2 992.5v4M1508.3 992.5v4M1514.5 992.5v4M1519.6 992.5v4M1524 992.5v4M1527.7 992.5v4M1531 992.5v4M1553.5 992.5v4M1564.9 992.5v4M1573 992.5v4M1579.2 992.5v4M1584.3 992.5v4M1588.7 992.5v4M1592.4 992.5v4M1595.7 992.5v4M1618.1 992.5v4M1629.5 992.5v4M1637.6 992.5v4M1643.9 992.5v4M1649 992.5v4M1653.3 992.5v4M1657 992.5v4M1660.3 992.5v4M1682.7 992.5v4M1694.1 992.5v4M1702.2 992.5v4M1708.5 992.5v4M1713.6 992.5v4M1717.9 992.5v4M1721.6 992.5v4" stroke="#222" stroke-width="1.1" fill="none"/><text x="1410.3" y="1020.5" font-size="12" textLength="13.9" lengthAdjust="spacingAndGlyphs" fill="#222">10</text><text x="1425.6" y="1013" font-size="12.2" textLength="5.4" lengthAdjust="spacingAndGlyphs" fill="#222">1</text><text x="1474.8" y="1020.5" font-size="12" textLength="13.9" lengthAdjust="spacingAndGlyphs" fill="#222">10</text><text x="1490.2" y="1013" font-size="12" textLength="7" lengthAdjust="spacingAndGlyphs" fill="#222">2</text><text x="1539.5" y="1020.5" font-size="12" textLength="13.9" lengthAdjust="spacingAndGlyphs" fill="#222">10</text><text x="1555" y="1013" font-size="12" textLength="6.7" lengthAdjust="spacingAndGlyphs" fill="#222">3</text><text x="1604.2" y="1020.5" font-size="12" textLength="13.9" lengthAdjust="spacingAndGlyphs" fill="#222">10</text><text x="1619.9" y="1013" font-size="12.2" textLength="6.3" lengthAdjust="spacingAndGlyphs" fill="#222">4</text><text x="1668.8" y="1020.5" font-size="12" textLength="13.9" lengthAdjust="spacingAndGlyphs" fill="#222">10</text><text x="1684.3" y="1013" font-size="12.2" textLength="6.7" lengthAdjust="spacingAndGlyphs" fill="#222">5</text><text x="1494.1" y="663.3" font-size="33.5" textLength="144.1" lengthAdjust="spacingAndGlyphs" fill="#000">MLN4924</text><text x="1418.6" y="697" font-size="22" font-weight="bold" textLength="33.5" lengthAdjust="spacingAndGlyphs" fill="#000">Q1</text><text x="1409.3" y="730" font-size="22" font-weight="bold" textLength="51.3" lengthAdjust="spacingAndGlyphs" fill="#000">16.3</text><text x="1678.5" y="697" font-size="22" font-weight="bold" textLength="33.8" lengthAdjust="spacingAndGlyphs" fill="#000">Q2</text><text x="1670.6" y="730" font-size="22" font-weight="bold" textLength="50.2" lengthAdjust="spacingAndGlyphs" fill="#000">79.2</text><text x="1416" y="951.7" font-size="22" font-weight="bold" textLength="32.9" lengthAdjust="spacingAndGlyphs" fill="#000">Q4</text><text x="1407.9" y="985" font-size="22" font-weight="bold" textLength="50" lengthAdjust="spacingAndGlyphs" fill="#000">3.59</text><text x="1673.8" y="951.7" font-size="22" font-weight="bold" textLength="33.6" lengthAdjust="spacingAndGlyphs" fill="#000">Q3</text><text x="1664.8" y="985" font-size="22" font-weight="bold" textLength="51.3" lengthAdjust="spacingAndGlyphs" fill="#000">1.10</text><g fill="none" stroke="none"><path d="m368 1247 27 6-19 8 21 1-133 1-65 2-1 2 228 5-151 2-74 1 156 1-163 2 199 0-182 3-20 1 5 0 14 0-13 1 0 1 4 0 5 0 5 0 4 0 207 0-232 1 20 0 2 0 76 0-82 1-13 1 15 0 2 0-23 2 5 0 5 0 146 0 61 0-191 1 114 0-114 1 2 0-28 1 27 0 2 1-3 1 7 0-29 1 30 0 153 0-154 1-2 1-28 1 245 0-217 1 3 0-5 2 3 0 8 0 139 0-148 1 178 0-206 1 19 0 15 1-1 1-31 1 27 1 1 0 7 0 202 0-214 1-26 1 0 1 30 0 67 0-68 1 2 0 8 0 1 0 23 0-63 1 23 2-4 1 2 0 4 0 20 1 128 0-149 1 16 0-14 1 151 0-135 1-12 1-30 1 19 0 3 0 5 0-2 1 4 0-34 1 2 0 21 0 27 1-23 1 22 0 4 0-7 1-23 1 12 1 11 0-42 1 2 0 19 0 8 0 18 0 4 0-49 1 16 0 12 0 18 0 2 0 1 0 95 0-128 1 10 0 1 0 2 0 90 0-122 1 31 0 6 0 77 0-91 1-18 1 43 0 5 0 52 0-50 1 2 0 115 0-134 1 2 0 15 0-50 1 14 0 13 0 2 0 18 0-46 1 32 0 14 0 7 0-56 2 1 0 18 0 15 0 2 0 6 0-3 1 1 0 2 0 1 0 9 0 29 0-52 1 6 1 10 0 4 0-48 1 26 0 28 0-56 1 14 0 4 0-19 1 25 0 12 0-35 1 12 0 20 0 4 1 18 0-39 1 21 0 19 0-52 1 15 0 13 0 8 0 14 0-39 1 1 0 17 0 53 0-50 1 4 0 16 0 4 1-28 1 7 0 16 0 13 0 33 0-82 1 89 0-100 1 4 0 23 0 22 0 85 0-128 1 3 0 2 0 4 0 4 0 10 0-38 1 24 0 17 0 6 0 18 0-48 1 25 0 21 1-53 1 6 0 8 0 13 0 4 0 22 0-57 1 1 0 53 0 1 0-48 1 49 0-59 1 13 0 1 0 9 0 5 0 5 0 8 0 186 0-222 1 14 0 12 0 2 0 9 0 16 0-53 1 6 0 10 0 3 0 6 0 52 0-54 1 4 0 6 0 23 0 174 0-219 1 3 0 16 0 21 0 4 0-40 1 39 0 19 0-21 1-55 1 24 0 139 0 14 0-179 1 30 0 8 0-34 1 24 0 5 0 6 0 22 0 1 0 31 0-72 1 21 0 18 0 111 0 20 0-191 1 1 0 12 0 27 0 3 0 8 0 8 0-15 1 3 0 11 0 11 0-65 1 18 0-10 1 2 0 10 0 14 0 12 0-43 1 16 0 17 0 2 0-34 1 36 0 5 0 11 1-46 1 11 0 10 0 15 0 9 0-36 1 14 0 14 0 7 0 20 0-50 1 13 0 4 0 1 0 10 0-50 1 13 0 28 0 10 0 5 0-61 1 5 0 5 0 23 0 11 0-35 1 18 0 28 0 9 0 6 0-59 1 6 0 77 0-85 1 24 0 28 0 150 0-197 1 29 0-42 1 10 0 50 0 11 0-43 1 8 0 24 0-48 1 2 0 1 0 27 0 2 0 2 0 12 0-58 1 4 0 56 0 2 0-92 1 55 0 3 0 5 0 1 0 26 0 38 0-123 1 3 0 24 0 1 0 7 0 8 0 24 0 34 0-73 1 17 0 3 0 2 0 3 0 15 0 2 0 14 0 1 0 122 0-205 1 57 0 5 0 7 0-67 1 29 0 16 0 17 0-57 1 12 0 3 0 4 0 7 1 1 0 37 0 1 0 5 0-54 1 2 0 27 0 1 0 23 0-48 1 30 0 23 0 21 0-83 1 14 0 20 0 3 0 8 0 8 0 9 0 3 0-92 1 32 0 11 0 16 0 9 0 20 0 4 0-87 1 26 0 16 0 19 0 3 0 6 0 12 0-51 1 7 0 32 0-31 1 30 0 15 0-75 1 55 0 1 0 2 0-8 1 41 0-75 1 3 0 1 0 23 0 8 0 8 0-75 1 42 0 6 0 20 0-37 1 1 0 3 0 21 0 14 0 57 0-122 1 35 0 14 0-52 1 47 0 3 0 12 0-54 1 30 0 4 0 12 0 8 0 2 0 5 0 30 0-68 1 4 0 7 0 16 0 43 0 29 0-98 1 14 0 47 0-63 1 1 0 11 0 27 0 3 0 3 0 15 0 66 0-136 1 26 0 16 0 29 0-27 3-47 1 36 0 15 0 26 0-81 1 33 0 5 0 9 0 12 0 16 0 10 0-103 1 60 0 17 0-58 1 11 0 8 0 11 0 15 0 10 0 5 0 13 0 6 0 28 0-90 1 24 0 33 0-82 1 9 0 12 0 19 0 3 0 2 0 1 0 3 0 7 0 2 0 3 0 23 0-66 1 6 0 24 0 16 0 5 0-58 1 31 0 2 0-46 1 9 0 14 0 6 0 10 0 4 0 6 0 5 0 3 0 22 0 11 0-99 1 10 0 4 0 7 0 4 0 11 0 26 0 9 0 11 0 10 0 10 0-103 1 10 0 10 0 17 0 32 0 1 0 1 0 4 0 7 0 9 0 1 0 3 0-88 1 1 0 3 0 48 0 5 0 12 0 5 0 7 0-80 1 17 0 33 0 1 0 3 0 11 0 2 0 6 0 1 0 7 0-68 1 11 0 13 0 10 0 5 0 5 0 5 0 12 0 10 0 2 0-77 1 1 0 19 0 2 0 17 0 26 0 1 0 4 0-75 1 5 0 3 0 2 0 13 0 18 0 19 0 12 0 1 0 2 0 41 0-121 1 1 0 21 0 37 0 24 0 3 0-5 1" marker-start="url(#i0)" marker-mid="url(#i0)" marker-end="url(#i0)"/><path d="m199 1284 4 0-7 1 1 1 2 0 1 0 2 0-10 1 6 1 3 1 9 2 0 1 6 0-2 1-1 1-24 1 2 0 21 1 2 0 5 0-28 3 22 0-22 1 24 0-24 1 23 0-21 1 25 0-1 1 6 1-31 2 12 0 3 0 5 0 8 0 3 0-8 1 1 0 4 0-29 1 21 0 5 0-9 1 3 0 3 0 5 0 6 0-20 1 10 0 8 0-31 1 21 0 6 0 4 0-6 1-29 1 20 0 1 0 4 0 8 0-13 1 15 0 2 0 1 0-19 1 12 0 8 0-20 1 1 0 10 0 5 1-17 2 10 0 7 0 2 0 2 0 2 1-40 1 14 0 17 0-30 1 30 0 6 0 1 0-9 1 1 0 1 0-15 1 12 0 7 0 6 0-39 1 14 0 24 0-10 1 1 0 9 0-22 1 12 0 2 0 13 0-29 1 14 0-1 1-25 1 25 0 7 0 3 0 2 0-27 1 1 0 18 0 2 0 8 0-40 1 9 0 20 0 9 0 2 0-40 1 35 0 2 0 5 0 2 0 2 0-46 1 9 0 5 0 27 0 3 0 1 0-32 1 19 0 2 0 7 0 3 0-42 1 11 0 29 0 1 0-41 1 1 0 36 0 1 0 4 0 1 0-9 1-38 1 5 0 37 0-35 1 8 0 1 0 26 0 8 0-47 1 9 0 1 0 4 0 2 0 30 0-38 1 2 0 1 0 19 0 5 0 2 0 8 0-43 1 35 0 3 0 3 0 2 0 1 0-14 1 6 0 7 0 3 0-47 1 28 0 8 0-4 1 2 0 5 0 5 0-46 1 7 1 2 0 4 0 24 0 1 0 9 0 4 0 1 0-49 1 2 0 2 0 8 0 21 0 3 0 7 0 3 0 2 0-48 1 3 0 3 0 34 0 3 0 4 0-47 1 2 0-5 1 3 0 1 0 6 0 27 0 6 0 1 0 6 0 1 0 1 0-42 1 35 0 10 0-52 1 4 0 2 0 2 0 1 0 26 0 6 0 2 1 3 0 5 0-17 1 14 0 5 0-47 1 31 0 2 0 1 0-43 1 4 0 2 0 37 0 8 0 4 0-48 1 34 0 4 0-37 1 39 0-43 1 37 0-36 1 9 0 27 0 13 0-48 1 3 1 4 0 33 0-43 1 39 0 3 0 11 0-54 1 39 0 2 0-33 1 33 0-36 1 1 0 2 0 2 0 33 0 7 0 6 0-49 1 5 1 35 0-45 1 8 0 34 0-42 1 3 0 1 0 46 0 4 0 1 0-54 1 51 0-46 1 37 0 4 0 2 0-51 1 2 0 41 0 1 0 1 0 6 0 2 0 2 0-50 1 37 0 7 0 3 0 1 0-55 1 5 0 5 0 44 0-3 1-46 1 2 0 2 0 38 0 7 0 2 0 4 0-57 1 2 0 3 0 40 0 5 0 2 0 3 0-54 1 8 0 35 0 3 0-4 1-42 1 1 0 3 0 50 0-49 1 2 0 37 0 12 0-55 2 42 0 5 0 4 0 4 0-40 1 24 0 4 0 7 0-51 1 2 0 6 0 35 0 5 0-43 1 6 0 28 0 2 0 5 0 3 0 7 0-57 1 3 0 1 0-1 1 13 0 26 0 3 0-44 1 40 0-38 1 42 0 10 0-55 1 8 0 23 0 16 0 9 0-50 1 37 0 4 0 5 0-49 1 1 0 31 0 20 0 4 0-53 1 45 0 2 0 2 0 2 0-13 1-3 1 2 0 4 0 4 0 4 0-51 1 38 0-3 1-37 1 50 0-49 1 7 0 23 0-25 1 39 0 2 0-47 1 2 0 3 0 32 0 6 0 4 0-44 1 1 0 37 1 1 0 5 0-45 1 2 0 2 0 26 0 16 0-46 1 38 0 13 0-54 1 6 0 32 0 2 0-40 1 5 0 1 0 49 0-57 1 1 0 39 0-3 1-37 1 36 0 8 0 1 0 10 0-55 1 46 0-47 1 57 0-52 1 30 0-29 1 39 0 2 0 10 0-56 1 5 0 37 0 4 0 11 0-51 1 36 0 3 0-42 2 1 0 37 0 1 0 7 0-43 1 3 0-8 1 5 0 38 0-1 1 6 0 1 0-27 1 20 0-39 1 7 0 31 0 15 0 1 0-54 1 25 0 1 0 3 0 24 0-54 1 24 0 5 0 10 0 11 0 4 0-46 1 30 0 3 0 8 0 2 0-55 1 10 0 23 0-34 1 43 0-50 1 11 0 10 0 37 0-6 1-42 1 1 0 4 0 3 0 39 0-11 1 12 0-58 1 17 0 43 0-47 1 40 0" marker-start="url(#i1)" marker-mid="url(#i1)" marker-end="url(#i1)"/><path d="m194 1285 6 1 2 0-5 1 8 1 1 0-12 1 7 0-9 1 13 0-12 2 12 0 4 1 0 1 2 2-19 1 18 0 0 1 7 0-3 1-22 1-1 1 20 0 1 1 2 0 1 0 4 0-6 1-21 1 13 0 4 0 3 0-5 1 5 0 3 0-4 1-18 1 12 0 6 0-4 1 4 1 6 0-27 1 20 0-20 1 31 0-21 1 6 0 18 0-10 1 8 0-7 1 5 0 6 0-10 1 2 0-2 1 2 0 7 0-21 1-15 1 30 0 7 0-8 1 4 0-3 1 4 0 5 0-10 1 2 1-16 1 14 0 9 0-37 1 41 0-4 1 3 1-7 1 1 0 4 0-36 1 33 1 4 0-35 1 34 0 4 0-6 1 1 1 5 0 3 0-9 1 10 0-42 1 34 1 4 0-29 1 22 0 6 0-31 1 28 0-25 1-4 1 37 0 1 0-43 1 45 1-45 1 4 0 4 0-6 1 40 0-42 1 1 0 4 0 3 0 35 0-41 1 7 0 34 0 1 0-46 1 4 0 36 0 7 0-42 1 2 0 33 0-35 1 2 0 37 0 3 0-4 1 4 0-5 1-36 1 3 0 34 0 1 0 6 0 2 0-46 3 31 0 9 0-40 1 1 0 32 0-33 1 35 0 7 0 2 0-4 1 2 0-45 1 4 0-3 1 3 0 44 0-43 1 1 0 35 0 0 1 8 0-46 1 38 0 4 0 2 0-7 1 3 0 5 0-2 1 1 0 2 0-46 1 1 0 36 0 5 0 2 0-41 1 42 0-9 1 8 0-46 1 3 0 41 0 6 0-9 1 1 0 1 0 7 0-48 1 6 0 30 0 2 0 8 0-43 2 1 0 38 0 6 0-48 1 37 0 6 0-42 1 42 0 8 0-49 1 1 0 34 0 10 0-46 2 1 0 43 0-1 1 2 0 2 0 4 0-50 1 37 0-36 1-5 1 3 1 1 0 39 0 3 0-45 1 4 0 1 0 36 0-40 1 39 0 6 0 3 0-2 1-49 1 42 0-40 2 1 2 41 0 11 0-52 1 51 1-6 1 3 0 1 0 1 1-52 1 2 0 2 0 2 0 43 1 1 0 1 0 2 0-48 1 37 1 2 0 4 0 3 0 1 0-53 1 5 0 39 0 1 0 3 0-43 1 0 1 45 0 1 2-46 1 1 0 1 0 1 0 42 0 1 1-47 1 40 1 5 0 1 0-46 1 38 0 4 0 3 0 1 0-48 1 1 0 45 0 1 0 4 0-8 1 4 0 2 0-50 1 2 0 2 0 3 0 45 0 1 1-55 1 4 0 3 0 40 0-45 1 42 0-42 1 1 0 45 0-41 1 37 0 3 0 8 0 1 0-50 1 47 0-10 1-42 1 39 0 15 0-49 1 38 0 3 0 8 0-46 1 33 0-39 1 1 0 4 0 1 0 1 0 34 0 4 0 4 0 5 0 1 0-54 1 39 0 1 0 10 0-7 1-5 1 5 0 6 0 2 0-11 1 5 0 2 0-44 2 4 0 42 0-48 1 1 0 4 0 37 0-49 1 8 0 1 0 1 0 40 0 7 0-49 1 43 0-48 1 47 0-6 1 10 0-50 1 49 0-47 1 2 0 1 0 0 1 1 0 0 1" marker-start="url(#i2)" marker-mid="url(#i2)" marker-end="url(#i2)"/><path d="m202 1286 2 0-8 1 3 0 2 0 2 1 1 0-10 1 1 0-1 1 3 0 9 0-12 1 2 0 1 0 7 0 3 0-14 1 1 0 12 1 2 0-3 1 3 0 4 0-19 1 16 0 2 0 1 0-2 1-4 1 2 0-1 1 3 0-17 1 13 0 3 0 4 0 1 0-21 1 14 0 1 0 7 0-8 1 1 0-14 1 19 0 2 0-14 1 5 0 2 0 1 0-14 1 8 0 8 0 2 0 4 0-7 1 3 0 3 0-23 1 12 0-12 1 10 0 6 0-4 1 4 0 7 0-7 1 1 0 5 0-19 1 6 0 4 0 1 0 6 0 9 0-30 1 11 0 1 0 15 0-27 1 2 1 25 0-14 1 1 0 1 0-4 1 1 0 16 0 3 0-31 1 14 0 14 0 2 0 2 0-33 1 1 0 10 0 22 0-30 1 6 0 4 0 19 0 3 1-35 1 30 0 5 1-23 1 15 0 10 0 3 1-11 1 2 0 7 0-36 1 11 0 21 0 1 0-32 1 10 0 22 0 1 0 1 0-2 1 0 1 2 0 1 0-37 1 4 0 5 0 23 0-31 1 9 0 23 0-28 1-3 1 2 0 5 0 28 0 3 0-38 1 4 0 27 0 6 0 3 0-37 1 1 0 4 0 24 0 5 0-31 1 35 0-39 1 31 0-30 1 1 0 37 0 1 0-36 1-4 1 1 1 3 0-5 1 3 0 4 0 35 0 1 0-45 1 7 0-5 1 5 0-4 1 2 0 1 0 1 0 28 0 8 0 1 0-41 1 3 0 35 0 6 0-6 2 1 0 1 0 4 0-1 1 1 0-47 1 41 0 3 0 4 0-46 1 38 0 7 1-6 2-38 1 39 0 3 1-3 1 1 0 2 0 2 0-4 1 2 0 2 0 3 0-44 1 42 2 1 0-1 2 2 0-4 1 2 0 2 0 1 0-5 1 4 2 1 0-44 1 40 0 2 0 1 0-42 1 38 0 2 0 3 0 1 0-44 1 39 0 1 0 2 0-42 1 40 0-45 1 49 0-48 1 1 0 3 0 35 0-35 1 37 0 1 0 2 0-40 1 1 0-3 2 41 1 2 0 5 0-3 1-48 3 49 0-4 1-41 1 39 2 4 0-4 1 5 0-4 1 0 1 1 0 1 0-3 1 3 0 1 1 4 0-7 1 1 0 1 0 1 0 1 1 1 0 2 0 3 0-8 1 5 0 1 1-4 1-45 1 2 0 39 0-39 1 42 0 5 0-48 1 40 0-42 2 49 0 3 1-53 1 46 0-44 2 2 0-1 2 41 0 2 0-2 1 0 1 2 0 4 0-47 1 41 0-42 1 37 0 3 0 0 1 7 0 1 0-9 1 1 0 1 0 1 0 1 0 7 0-9 1 6 0 2 0 2 0-53 1 2 0 42 0 4 0 1 0 4 0-9 1 2 0 5 0 2 0-52 1 41 0 7 0 3 0-52 1 2 0 41 0 3 0 5 0-4 1 7 0-56 1 2 0 41 0 6 0-46 1 4 0 40 0 2 0 2 1-46 1 2 0 1 0 36 0 1 0 4 0 3 0-48 1 2 0 36 0 5 0 2 0-46 1 43 0 4 0-45 1 1 0 46 0-45 1 38 0 3 0 1 0 1 0-6 1-39 1 1 0 1 0 1 0 35 0 3 0 4 0-47 1 6 0 35 0 4 0 3 0-48 1 41 0 5 0-47 1 1 0 2 0 43 0 4 0-44 1 37 0-33 2-9 1 1 0 1 0 2 0 1 0-4 1 0 1 2 0" marker-start="url(#i3)" marker-mid="url(#i3)" marker-end="url(#i3)"/><path d="m194 1288 4 0 0 2 2 0 2 0 2 0 2 0-12 2 2 0 2 0 2 0 2 0 4 0-16 2 2 0 2 0 2 0 8 0 2 0 4 0-18 2 2 0 10 0 4 0-14 2 2 0 2 0 6 0 4 0-14 2 2 0 2 0 6 0 2 0-14 2 2 0 2 0 4 0 2 0 2 0 2 0 2 0 4 0 4 0-20 2 2 0 2 0 2 0 10 0-18 2 4 0 2 0 2 0 2 0 4 0 2 0 6 0-22 2 2 0 2 0 4 0-6 2 2 0 4 0-12 2 2 0 10 0-10 2 2 0 6 0 2 0 2 0 16 0 2 0-32 2 2 0 12 0-12 2 8 0 2 0 18 0 4 0-34 2 6 0-4 2 2 0 4 0 2 0 2 0 2 0 18 0 2 0-30 2 2 0 4 0 2 0-8 2 2 0 4 0 2 0 22 0 2 0-32 2 2 0 4 0 2 0 22 0 2 0-32 2 2 0-2 2 2 0 28 0 8 0-38 2 2 0 2 0 4 0 24 0 2 0-30 2 2 0 2 0-8 2 6 0 2 0 30 0-36 2 2 0 4 0-4 2 2 0 4 0-8 2 4 2-2 2 32 0 8 0-40 2 42 4 2 0-2 6-2 2 4 0 2 0-4 2-2 2 2 0-42 2 2 0 38 0 2 0 4 2-44 6 42 2-42 4 38 6 2 0 2 2 0 4 2 0 4 0-50 2 50 0-50 2 4 0 40 12-2 2 2 0 2 0 4 0-6 2 6 0-8 2 2 0 2 0-4 2 4 0 2 0 2 0-48 2 40 0 2 0 2 0 2 0 2 0-52 2 4 0 44 0 2 0 2 0-8 2-40 2 38 0 4 0-4 2 2 0 2 0-42 2 40 0 2 0-46 2 2 0 2 2 0 2" marker-start="url(#i4)" marker-mid="url(#i4)" marker-end="url(#i4)"/><path d="m200 1290 6 0-12 2 2 0 2 0 2 0 2 0 2 0-8 2 2 0 6 0 2 0 2 0-14 2 2 0 4 0 2 0 2 0-12 2 2 0 2 0 6 0 2 0 6 0-16 2 2 0 4 0 2 0 2 0-8 2 6 0-8 2 2 0 2 0 2 0 2 0-8 2 4 0 4 0-6 2 2 0 2 0-8 2 4 0 2 0-4 2 4 0 2 0 2 0-10 2 2 0 8 0 2 0-12 2 2 0 2 0 2 0 4 0-12 2 2 0 2 0 2 0 4 0 2 0-10 2 2 0 4 0 4 0-8 2 2 0 4 0 2 0 24 0-30 2 4 0 2 0-2 2-6 2 4 0-4 2 4 0 2 0-4 2 2 0 2 0 0 2 0 2 36 28 2 0 4 24 2 0-2 2 4 0-2 4 6 0-4 16 0 2-46 8 42 0 4 0-2 4-2 2-40 2-2 2 0 4" marker-start="url(#i5)" marker-mid="url(#i5)" marker-end="url(#i5)"/><path d="m198 1290 0 2 2 0 2 0-8 2 4 0 4 0 2 0-10 2 2 0 2 0 2 0-4 2 2 0 2 0 2 0 2 0-6 2 2 0 2 0 2 0-8 2 8 0-8 2 2 0 4 0-8 2 2 0 2 0-2 2 2 0-4 2 2 0 2 0 2 0-6 2 2 0 2 0-4 2 2 0 4 0-8 2 4 0 2 0 2 0-6 2 2 0 4 0-6 2 2 0 2 0 2 0-6 2 6 2 2 0-8 2 2 0 2 0 2 0-6 2 2 0 2 0 2 0-2 2-2 2 2 10 2 2" marker-start="url(#i6)" marker-mid="url(#i6)" marker-end="url(#i6)"/><path d="m198 1292 2 0 2 0-6 2 2 0 2 0-4 2 2 0 0 2 2 0 2 0-6 4 4 0-2 4 0 2 2 0-6 2 2 0 6 0-4 2 2 0 2 0-8 2 2 0 2 0 2 0 2 0-6 2 2 0 2 0-6 2 2 0 2 0-2 2-4 2 2 0 2 0 2 0 2 0-4 2 2 0 2 0-4 8" marker-start="url(#i7)" marker-mid="url(#i7)" marker-end="url(#i7)"/><path d="m198 1292 6 0-8 2-2 2 2 0 2 2 2 0-2 2 2 0 2 0 2 0-8 6 2 0-2 2-2 2 2 0 4 0-6 2 4 0-2 2 2 0-2 2 2 0-2 2 2 0 2 0-8 2 2 0 2 0 2 0 2 0-6 2 2 0 2 0 2 0-6 2 2 0 2 0 2 0-4 2 2 0 2 0-2 2-2 2" marker-start="url(#i8)" marker-mid="url(#i8)" marker-end="url(#i8)"/></g><rect x="147.6" y="1178.2" width="340.6" height="340.3" fill="none" stroke="#9a9a9a" stroke-width="1.2"/><rect x="177.3" y="1236.3" width="278.5" height="164.7" fill="none" stroke="#000" stroke-width="2.2"/><path d="M138.6 1209.8h9M138.6 1291.3h9M138.6 1384.5h9M138.6 1492.1h9M139.6 1440.2h8M139.6 1441.7h8M139.6 1443.2h8M139.6 1444.7h8M139.6 1446.2h8" stroke="#222" stroke-width="1.8" fill="none"/><path d="M143.1 1356.4h4.5M143.1 1340h4.5M143.1 1328.4h4.5M143.1 1319.4h4.5M143.1 1312h4.5M143.1 1305.7h4.5M143.1 1300.3h4.5M143.1 1295.6h4.5M143.1 1266.8h4.5M143.1 1252.4h4.5M143.1 1242.2h4.5M143.1 1234.3h4.5M143.1 1227.9h4.5M143.1 1222.4h4.5M143.1 1217.7h4.5M143.1 1213.5h4.5M143.1 1185.3h4.5M143.1 1395.1h4.5M143.1 1403.9h4.5M143.1 1410.9h4.5M143.1 1417.4h4.5M143.1 1423.2h4.5M143.1 1428.5h4.5M143.1 1433.2h4.5M143.1 1437.3h4.5M143.1 1483.8h4.5M143.1 1475.5h4.5M143.1 1467.7h4.5M143.1 1460.8h4.5M143.1 1454h4.5M143.1 1448.1h4.5" stroke="#222" stroke-width="1.1" fill="none"/><text x="108" y="1221.4" font-size="14.2" textLength="15.6" lengthAdjust="spacingAndGlyphs" fill="#222">10</text><text x="124.3" y="1210.6" font-size="13.2" textLength="7.3" lengthAdjust="spacingAndGlyphs" fill="#222">5</text><text x="108" y="1302.9" font-size="14.2" textLength="15.6" lengthAdjust="spacingAndGlyphs" fill="#222">10</text><text x="124.5" y="1292.1" font-size="13.2" textLength="6.8" lengthAdjust="spacingAndGlyphs" fill="#222">4</text><text x="108" y="1396.1" font-size="14.2" textLength="15.6" lengthAdjust="spacingAndGlyphs" fill="#222">10</text><text x="124.3" y="1385.3" font-size="13" textLength="7.3" lengthAdjust="spacingAndGlyphs" fill="#222">3</text><text x="115.7" y="1449" font-size="14.2" textLength="10" lengthAdjust="spacingAndGlyphs" fill="#222">0</text><text x="100.9" y="1503.7" font-size="14.2" textLength="22.8" lengthAdjust="spacingAndGlyphs" fill="#222">-10</text><text x="124.3" y="1492.9" font-size="13" textLength="7.3" lengthAdjust="spacingAndGlyphs" fill="#222">3</text><path d="M147.9 1518.5v10M212.4 1518.5v10M276.9 1518.5v10M341.4 1518.5v10M405.9 1518.5v10M470.4 1518.5v10" stroke="#222" stroke-width="2" fill="none"/><path d="M160.8 1518.5v5M173.7 1518.5v5M186.6 1518.5v5M199.5 1518.5v5M225.3 1518.5v5M238.2 1518.5v5M251.1 1518.5v5M264 1518.5v5M289.8 1518.5v5M302.7 1518.5v5M315.6 1518.5v5M328.5 1518.5v5M354.3 1518.5v5M367.2 1518.5v5M380.1 1518.5v5M393 1518.5v5M418.8 1518.5v5M431.7 1518.5v5M444.6 1518.5v5M457.5 1518.5v5" stroke="#222" stroke-width="1.2" fill="none"/><text x="145.8" y="1547.3" font-size="13.5" textLength="8.1" lengthAdjust="spacingAndGlyphs" fill="#333">0</text><text x="199.2" y="1547.3" font-size="13.5" textLength="25.9" lengthAdjust="spacingAndGlyphs" fill="#333">50K</text><text x="259.4" y="1547.3" font-size="13.5" textLength="34.1" lengthAdjust="spacingAndGlyphs" fill="#333">100K</text><text x="323.9" y="1547.3" font-size="13.5" textLength="34.1" lengthAdjust="spacingAndGlyphs" fill="#333">150K</text><text x="388.6" y="1547.3" font-size="13.5" textLength="34.1" lengthAdjust="spacingAndGlyphs" fill="#333">200K</text><text x="453.1" y="1547.3" font-size="13.5" textLength="34.1" lengthAdjust="spacingAndGlyphs" fill="#333">250K</text><text x="266.9" y="1168.9" font-size="29.9" textLength="110.4" lengthAdjust="spacingAndGlyphs" fill="#000">Control</text><text x="330" y="1359.2" font-size="22.5" font-weight="bold" textLength="114.5" lengthAdjust="spacingAndGlyphs" fill="#000">pMCM2 +</text><text x="361.5" y="1391.7" font-size="22.5" font-weight="bold" textLength="51" lengthAdjust="spacingAndGlyphs" fill="#000">75.9</text><path d="M92.4 1467V1568H178.9" stroke="#000" stroke-width="4.5" fill="none" stroke-linejoin="miter"/><path d="M92.4 1455l7 13h-14z" fill="#000"/><path d="M190.9 1568l-13 7v-14z" fill="#000"/><text transform="translate(77 1571.1) rotate(-90)" x="-1.7" y="0" font-size="19.4" font-weight="bold" textLength="94" lengthAdjust="spacingAndGlyphs" fill="#000">pMCM2</text><text x="108.2" y="1606.1" font-size="24" font-weight="bold" textLength="57.4" lengthAdjust="spacingAndGlyphs" fill="#000">DAPI</text><g fill="none" stroke="none"><path d="m783 1229 46 3-74 1-43 1 29 0 16 1 38 0-98 1 21 0-3 1-33 1 8 0 5 0 11 0 5 0 60 0-78 1 13 0 1 0 16 0 21 0 8 1 4 0 7 0-68 1 16 0 51 0 50 0-149 1 12 0 55 0 6 0 3 0 3 0 17 0 13 0 4 0-123 1 47 0 28 0-99 1 11 0 86 0 17 0 34 0-138 1 45 0 43 0 3 0 41 0 7 0 12 0 12 0 29 0-194 1 26 0 1 0 6 0 4 0 1 0 23 0 1 0 6 0 8 0 10 0 10 0 4 0 14 0 43 0-214 1 39 0 24 0 40 0 2 0 53 0 20 0 2 0 14 0 9 0 7 0 8 0-180 1 31 0 2 0 29 0 6 0 11 0 17 0 34 0 11 0 4 0 25 0 12 0 16 0 2 0 41 0-257 1 30 0 16 0 18 0 24 0 3 0 26 0 22 0 16 0 40 0 17 0-187 1 5 0 9 0 10 0 3 0 2 0 2 0 15 0 10 0 36 0 5 0 21 0 3 0 46 0 30 0 23 0-218 1 16 0 3 0 10 0 16 0 14 0 34 0 2 0 5 0 8 0 2 0 16 0 24 0 7 0 4 0 37 0-188 1 14 0 3 0 50 0 6 0 24 0 31 0 15 0 29 0 8 0 7 0-194 1 37 0 8 0 23 0 2 0 6 0 37 0 4 0 8 0 10 0 12 0 19 0-184 1 31 0 13 0 6 0 11 0 88 0 11 0 10 0 3 0 2 0 6 0 48 0-229 1 4 0 11 0 12 0 11 0 10 0 4 0 35 0 12 0 5 0 10 0 5 0 39 0 2 0 28 0-236 1 19 0 9 0 8 0 6 0 20 0 7 0 4 0 13 0 61 0 37 0 9 0 4 0 6 0 29 0 12 0 13 0-212 1 13 0 55 0 43 0 3 0 29 0 22 0 20 0 51 0-280 1 1 0 17 0 22 0 32 0 37 0 2 0 3 0 8 0 1 0 14 0 8 0 16 0 9 0 2 0 3 0 6 0 34 0 24 0 8 0 20 0 1 0-256 1 34 0 37 0 18 0 29 0 14 0 24 0 8 0 14 0 3 0 12 0 5 0-211 1 54 0 11 0 18 0 69 0 1 0 11 0 15 0 2 0 2 0 1 0 2 0 5 0 14 0 26 0 13 0 6 0 8 0 2 0-264 1 15 0 8 0 50 0 9 0 6 0 3 0 32 0 6 0 11 0 23 0 27 0 29 0 1 0 5 0 1 0 14 0 24 0 19 0-244 1 6 0 16 0 3 0 3 0 39 0 3 0 4 0 16 0 2 0 15 0 1 0 9 0 8 0 12 0 23 0 4 0 40 0-239 1 34 0 3 0 8 0 6 0 4 0 1 0 40 0 15 0 20 0 6 0 3 0 23 0 25 0 25 0 3 0 9 0 7 0 8 0 27 0-188 1 18 0 1 0 7 0 13 0 4 0 1 0 80 0 8 0 9 0 3 0 7 0 14 0 14 0 5 0 5 0 5 0 19 0-271 1 11 0 1 0 8 0 47 0 18 0 39 0 8 0 10 0 45 0 7 0 10 0 17 0-222 1 3 0 5 0 5 0 4 0 15 0 4 0 35 0 43 0 1 0 23 0 5 0 4 0 5 0 4 0 2 0 22 0 12 0 4 0 19 0 5 0 8 0 42 0-250 1 9 0 7 0 42 0 10 0 22 0 22 0 7 0 17 0 16 0 13 0 1 0 12 0 41 0 5 0 12 0 3 0-254 1 7 0 30 0 44 0 6 0 20 0 50 0 13 0 6 0 7 0 4 0 9 0 43 0-241 1 13 0 56 0 33 0 1 0 26 0 35 0 17 0 3 0 3 0 34 0 10 0 13 0 11 0 12 0-238 1 106 0 6 0 4 0 11 0 2 0 6 0 1 0 6 0 2 0 38 0 22 0 9 0 5 0 6 0-155 1 8 0 4 0 21 0 6 0 7 0 5 0 16 0 25 0 19 0 1 0 1 0-204 1 72 0 6 0 18 0 16 0 8 0 15 0 9 0 3 0 51 0 10 0 3 0 4 0 1 0 3 0 10 0 4 0 27 0-265 1 4 0 4 0 4 0 70 0 12 0 13 0 16 0 1 0 12 0 17 0 28 0 21 0 24 0 29 0-272 1 5 0 15 0 106 0 15 0 3 0 1 0 25 0 21 0 10 0 1 0-190 1 85 0 37 0 3 0 22 0 25 0 5 0 3 0 66 0 21 0-269 1 8 0 13 0 39 0 31 0 11 0 17 0 31 0 3 0 20 0 10 0 4 0 9 0 2 0 2 0 4 0 9 0 13 0 9 0 3 0 4 0 14 0-248 1 4 0 150 0 7 0 13 0 4 0 11 0 8 0 1 0 17 0 8 0 19 0 1 0 2 0-199 1 50 0 7 0 14 0 14 0 1 0 18 0 1 0 15 0 4 0 4 0 3 0 23 0 6 0 5 0 6 0 7 0 1 0 8 0 9 0 5 0-253 1 15 0 65 0 24 0 3 0 28 0 6 0 21 0 48 0 21 0 4 0 10 0 26 0-264 1 102 0 24 0 11 0 22 0 21 0 8 0 3 0 21 0 5 0 71 0-285 1 104 0 12 0 41 0 1 0 19 0 18 0 28 0 17 0-249 1 8 0 90 0 11 0 3 0 1 0 15 0 30 0 2 0 28 0 4 0 11 0 16 0 22 0 9 0 5 0-254 1 14 0 102 0 16 0 4 0 8 0 11 0 17 0 9 0 33 0 44 0 5 0-260 1 117 0 7 0 26 0 3 0 20 0 42 0 12 0 39 0-274 1 12 0 100 0 4 0 13 0 60 0 1 0 5 0 17 0 2 0 11 0-98 1 25 0 22 0 9 0 3 0 12 0 14 0 5 0 29 0 2 0 22 0-270 1 105 0 1 0 14 0 5 0 12 0 4 0 14 0 7 0 5 0 28 0 3 0 5 0 52 0-260 1 5 0 97 0 11 0 74 0 4 0 54 0 18 0-139 1 11 0 6 0 28 0 11 0 6 0 24 0 5 0 10 0 14 0 54 0-284 1 109 0 24 0 22 0 2 0 12 0 16 0 8 0 4 0 6 0 5 0 1 0 21 0 7 0 31 0-259 1 98 0 5 0 32 0 16 0 5 0 40 0 2 0 14 0 18 0-244 1 10 0 103 0 17 0 15 0 1 0 11 0 17 0 20 0 30 0 16 0-240 1 14 0 109 0 7 0 23 0 15 0 17 0 33 0 12 0 4 0 13 0 4 0-246 1 132 0 14 0 39 0 26 0 8 0 54 0-277 1 140 0 14 0 18 0 3 0 39 0 4 0 33 0 14 0-147 1 17 0 31 0 10 0 12 0 13 0 13 0 68 0-285 1 122 0 42 0 16 0 19 0 14 0 15 0 17 0 4 0 5 0-269 1 149 0 10 0 26 0 2 0 37 0 11 0 12 0 13 0 16 0-251 1 7 0 114 0 2 0 20 0 10 0 20 0 16 0 14 0 30 0 3 0 7 0 4 0 4 0-262 1 9 0 120 0 17 0 8 0 10 0 12 0 6 0 5 0 10 0 2 0 10 0 15 0 31 0-238 1 86 0 15 0 1 0 2 0 4 0 3 0 7 0 15 0 4 0 28 0 7 0 13 0 4 0 4 0 40 0 19 0-279 1 50 0 126 0 11 0 55 0-229 1 4 0 11 0 131 0 16 0 5 0 4 0 1 0 22 0 22 0 22 0 7 0 7 0 3 0-237 1 15 0 90 0 8 0 20 0 2 0 9 0 2 0 35 0 12 0 10 0 1 0 1 0 6 0 26 0-151 1 6 0 19 0 10 0 26 0 21 0 2 0 3 0 12 0 4 0 9 0 7 0 8 0 25 0 6 0 2 0-151 1 8 0 4 0 46 0 3 0 11 0 4 0 19 0 1 0 31 0 30 0 2 0-260 1 6 0 89 0 19 0 11 0 2 0 21 0 12 0 2 0 2 0 25 0 14 0 7 0 5 0 17 0 33 0-275 1 7 0 6 0 96 0 17 0 6 0 9 0 5 0 5 0 8 0 15 0 38 0 11 0 7 0 18 0-232 1 96 0 10 0 15 0 109 0 21 0 1 0 6 0-257 1 16 0 86 0 12 0 5 0 10 0 25 0 5 0 36 0 14 0 4 0 17 0-252 1 14 0 7 0 155 0 57 0 1 0-197 1 74 0 19 0 9 0 13 0 33 0 9 0 9 0 26 0 2 0 7 0 42 0-164 1 6 0 49 0 2 0 11 0 7 0 10 0 3 0 5 0 31 0 1 0 11 0 4 0-229 1 96 0 8 0 15 0 7 0 2 0 5 0 23 0 5 0 10 0 14 0 9 0 19 0 5 0-262 1 7 0 121 0 9 0 34 0 16 0 27 0 11 0 10 0 16 0-205 1 96 0 32 0 15 0 3 0 12 0 1 0 18 0-196 1 4 0 2 0 11 0 33 0 31 0 17 0 12 0 19 0 17 0 7 0 4 0 54 0 20 0-220 1 12 0 94 0 17 0 15 0 9 0 15 0 12 0 30 0 3 0 2 0 7 0 12 0 27 0 4 0 3 0-249 1 6 0 50 0 4 0 22 0 10 0 11 0 23 0 15 0 3 0 13 0 11 0 30 0 5 0 3 0 18 0 3 0-267 1 24 0 16 0 35 0 52 0 10 0 14 0 1 0 7 0 2 0 16 0 1 0 22 0 4 0 17 0 9 0 26 0 8 0-249 1 15 0 28 0 34 0 25 0 12 0 3 0 25 0 32 0 2 0 4 0 20 0 6 0 53 0-242 1 86 0 6 0 44 0 36 0 17 0 13 0-232 1 16 0 2 0 11 0 11 0 18 0 2 0 62 0 3 0 10 0 7 0 23 0 20 0 22 0 13 0 5 0 16 0 13 0 36 0-302 1 41 0 19 0 1 0 46 0 7 0 6 0 6 0 25 0 33 0 5 0 7 0 9 0 8 0-166 1 4 0 4 0 26 0 26 0 21 0 16 0 20 0 2 0 4 0 12 0 7 0 20 0 15 0 17 0 35 0-213 1 12 0 26 0 5 0 26 0 16 0 45 0 11 0 12 0 20 0 13 0 13 0 12 0-231 1 3 0 1 0 8 0 4 0 6 0 88 0 7 0 11 0 6 0 57 0 7 0 37 0-243 1 25 0 7 0 48 0 1 0 4 0 39 0 40 0 35 0 10 0-214 1 18 0 8 0 16 0 12 0 3 0 12 0 72 0 16 0 7 0 14 0 60 0 9 0-265 1 36 0 7 0 13 0 10 0 20 0 11 0 32 0 19 0 10 0 12 0 4 0 3 0 13 0 7 0 25 0 16 0 5 0-218 1 6 0 18 0 36 0 15 0 15 0 35 0 31 0 1 0 10 0-182 1 27 0 3 0 21 0 19 0 26 0 4 0 25 0 24 0 4 0 22 0 51 0-245 1 35 0 20 0 14 0 3 0 2 0 8 0 55 0 10 0 13 0 4 0 5 0 5 0 2 0 4 0 28 0 11 0 18 0 10 0 3 0-238 1 47 0 17 0 1 0 58 0 48 0 27 0 11 0 1 0 25 0-196 1 20 0 17 0 3 0 37 0 54 0 44 0-213 1 35 0 49 0 28 0 25 0 1 0 2 0 12 0 9 0 3 0 1 0 7 0 5 0 4 0 48 0-229 1 8 0 24 0 18 0 7 0 16 0 6 0 8 0 12 0 7 0 12 0 10 0 43 0 31 0 18 0 10 0-215 1 19 0 9 0 38 0 42 0 22 0 12 0 43 0 15 0 35 0-237 1 11 0 84 0 7 0 9 0 15 0 1 0 12 0 27 0 15 0 10 0 5 0 21 0-248 1 65 0 1 0 3 0 11 0 7 0 18 0 3 0 6 0 13 0 47 0 16 0 12 0 6 0 2 0 1 0 23 0-193 1 20 0 3 0 11 0 2 0 41 0 15 0 72 0 12 0 48 0 16 0-271 1 83 0 39 0 10 0 43 0 18 0 37 0 27 0 5 0-261 1 1 0 18 0 21 0 66 0 53 0 23 0 7 0 1 0 36 0 4 0 44 0-248 1 3 0 46 0 6 0 10 0 13 0 34 0 119 0 9 0 6 0 4 0-228 1 24 0 49 0 5 0 44 0 70 0 4 0 19 0 13 0-247 1 41 0 7 0 37 0 68 0 49 0-217 1 9 0 35 0 23 0 34 0-113 1 58 0 57 0 22 0 46 0 25 0 31 0 8 0 14 0-176 1 1 0 24 0 1 0 10 0 34 0 16 0 66 0 17 0 9 0-257 1 6 0 6 0 10 0 27 0 43 0 34 0 23 0 23 0 5 0 3 0 40 0 7 0 6 0-177 1 3 0 62 0 51 0 36 0 28 0-248 1 11 0 17 0 7 0 24 0 16 0 4 0 14 0 91 0 28 0 12 0 21 0 3 0-147 1 39 0 45 0 11 0 9 0 25 0 38 0-268 1 21 0 79 0 33 0 12 0 35 0 5 0 95 0-250 1 53 0 9 0 64 0 96 0-244 1 50 0 101 0 2 0 18 0 99 0-226 1 40 0 63 0 9 0 34 0 40 0-238 1 7 0 116 0 7 0 27 0 28 0 63 0 8 0 18 0-187 1 54 0 70 0 30 0 31 0 9 0-267 1 11 0 27 0 84 0 8 0 31 0 27 0 16 0-178 1 3 0 57 0 4 0 11 0 83 0 28 0-214 1 14 0 88 0 48 0 1 0 3 0 50 0 7 0 3 0 21 0-220 1 54 0 5 0 43 0 45 0 37 0 11 0 7 0 35 0 18 0-272 1 33 0 15 0 2 0 91 0 46 0 2 0 55 0 14 0 11 0-274 1 13 0 29 0 23 0 32 0 24 0 48 0 69 0 13 0 6 0-240 1 69 0 22 0 40 0 42 0 21 0 19 0 2 0-221 1 31 0 63 0 4 0 12 0 92 0-208 1 4 0 17 0 17 0 33 0 61 0 39 0 16 0 27 0 57 0-205 1 2 0 18 0 8 0 30 0 32 0 17 0 9 0 21 0 1 0 20 0 14 0-216 1 20 0 16 0 22 0 47 0 55 0 11 0 22 0 1 0 53 0-210 1 19 0 1 0 7 0 49 0 72 0 17 0-221 1 15 0 31 0 29 0 47 0 12 0 71 0 8 0 55 0-282 1 7 0 14 0 10 0 18 0 4 0 19 0 8 0 116 0-169 1 12 0 2 0 45 0 2 0 3 0 51 0 17 0-24 1 2 0 70 0 52 0-247 1 37 0 15 0 20 0 37 0 28 0 2 0 8 0 8 0 4 0 35 0 13 0 1 0 38 0 16 0-245 1 2 0 42 0 76 0-128 1 19 0 47 0 23 0 108 0 48 0-236 1 57 0 9 0 151 0 28 0-257 1 13 0 17 0 25 0 12 0 72 0 18 0 8 0 20 0 22 0 48 0-191 1 9 0 9 0 5 0 51 0-146 1 38 0 43 0 2 0 47 0 99 0-225 1 68 0 112 0 19 0 16 0 40 0-184 1 72 0 55 0 70 0-276 1 8 0 58 0 93 0 13 0 80 0 15 0-201 1 21 0 51 0 53 0-152 1 12 0 31 0 9 0 31 0 71 0 7 0-204 1 82 0 15 0 3 0 48 0 28 0 96 0 7 0-194 1 88 0 11 0 4 0 35 0 5 0 14 0 11 0-230 1 25 0 23 0 12 0 34 0 75 0 29 0 21 0-231 1 69 0 13 0 7 0 57 0 53 0 5 0 11 0 3 0-220 1 114 0 54 0 4 0 17 0 1 0 4 0 28 0 25 0 25 0-198 1 6 0 15 0 42 0 72 0-200 1 3 0 16 0 20 0 68 0 83 0 25 0 12 0-166 1 4 0 33 0 12 0 13 0 43 0 33 0 5 0 24 0-226 1 59 0 7 0 14 0 89 0 35 0 6 0 38 0-262 1 21 0 67 0 10 0 10 0 39 0 63 0 31 0 1 0 20 0 2 0-274 1 37 0 10 0 22 0 101 0-162 1 5 0 64 0 24 0 4 0 57 0 69 0 26 0 28 0-284 1 39 0 59 0 42 0 42 0 23 0 21 0-225 1 19 0 13 0 14 0 39 0 41 0 2 0 8 0 24 0 46 0 27 0 3 0-212 1 13 0 64 0 56 0 10 0 19 0 18 0 2 0 50 0 3 0 3 0-206 1 4 0 23 0 6 0 10 0 5 0 13 0 4 0 13 0 9 0 4 0 51 0 21 0 20 0 1 0 35 0 3 0-268 1 2 0 17 0 16 0 9 0 32 0 8 0 21 0 18 0 73 0 11 0-204 1 6 0 15 0 9 0 8 0 64 0 3 0 19 0 24 0 1 0 59 0 29 0-229 1 1 0 11 0 1 0 2 0 8 0 16 0 13 0 11 0 15 0 4 0 21 0 16 0 19 0 109 0-255 1 22 0 42 0 21 0 37 0 127 0 16 0 4 0-280 1 6 0 6 0 23 0 19 0 73 0 11 0 40 0 1 0 13 0 7 0 34 0-222 1 8 0 23 0 32 0 81 0 13 0 31 0 7 0 52 0-255 1 1 0 21 0 9 0 9 0 11 0 37 0 23 0 41 0 12 0 4 0 43 0 54 0 11 0-237 1 7 0 43 0 61 0 27 0 15 0 24 0 14 0 30 0-233 1 17 0 11 0 4 0 25 0 32 0 8 0 1 0 10 0 17 0 56 0 38 0-246 1 19 0 34 0 25 0 4 0 23 0 125 0 29 0 3 0 12 0-263 1 41 0 31 0 5 0 6 0 2 0 46 0 69 0 25 0 3 0 11 0 6 0-256 1 3 0 8 0 5 0 7 0 5 0 23 0 4 0 3 0 24 0 20 0 26 0 10 0 9 0 13 0 89 0-206 1 2 0 8 0 7 0 67 0 23 0 22 0 18 0 21 0 7 0 17 0 13 0-236 1 6 0 6 0 78 0 19 0 46 0 25 0 23 0 40 0 18 0-261 1 3 0 50 0 23 0 4 0 31 0 24 0 36 0 1 0 54 0-244 1 55 0 31 0 33 0 12 0 31 0 46 0 66 0 9 0-262 1 2 0 8 0 1 0 8 0 17 0 32 0 7 0 15 0 42 0 13 0 1 0 10 0 20 0 27 0 3 0 6 0-227 1 4 0 20 0 1 0 17 0 11 0 7 0 8 0 6 0 60 0 21 0 54 0 26 0 8 0 7 0-229 1 3 0 5 0 6 0 24 0 2 0 10 0 3 0 14 0 15 0 12 0 2 0 26 0 22 0 39 0 23 0 1 0 25 0-220 1 51 0 11 0 29 0 79 0 23 0 45 0-262 1 12 0 16 0 6 0 10 0 20 0 9 0 5 0 32 0 120 0 32 0-260 1 72 0 18 0 14 0 7 0 75 0 7 0 21 0-221 1 11 0 42 0 19 0 2 0 11 0 6 0 23 0 29 0 12 0 50 0 53 0-235 1 53 0 21 0 2 0 48 0 8 0 8 0 24 0 39 0-233 1 13 0 7 0 17 0 7 0 11 0 7 0 5 0 70 0 45 0 3 0 30 0 27 0 21 0-253 1 4 0 11 0 17 0 4 0 6 0 5 0 33 0 138 0-186 1 10 0 10 0 1 0 23 0 3 0 35 0 28 0 37 0 34 0 7 0 17 0 7 0-256 1 26 0 2 0 1 0 5 0 3 0 13 0 36 0 3 0 36 0 3 0 10 0 15 0 15 0 35 0 75 0-269 1 2 0 1 0 7 0 3 0 7 0 3 0 7 0 3 0 33 0 139 0 30 0 3 0-222 1 22 0 1 0 19 0 54 0 40 0 90 0 26 0 5 0-271 1 9 0 9 0 18 0 6 0 1 0 12 0 23 0 19 0 121 0 2 0 11 0 3 0 9 0-247 1 13 0 25 0 19 0 33 0 21 0 4 0 15 0 10 0 12 0 4 0 40 0 29 0-219 1 6 0 6 0 16 0 40 0 10 0 36 0 7 0 5 0 15 0-116 1 19 0 1 0 20 0 68 0 88 0 35 0-248 1 29 0 82 0 8 0 23 0 10 0 13 0 37 0 55 0-264 1 1 0 17 0 185 0 4 0 9 0 13 0-216 1 62 0-2 1 10 0" marker-start="url(#i0)" marker-mid="url(#i0)" marker-end="url(#i0)"/><path d="m773 1242-38 1-6 2 4 0 98 0-99 1-48 1 76 0 32 0-144 1 4 0 78 1-21 1 52 0 19 0 17 0-161 1 90 0-85 1 102 0 5 0 1 0-112 1 77 0 18 0 25 0 6 0 13 0-118 1 57 0 15 0 3 0 1 0 18 0 5 0-136 1 15 0 4 0 20 0 50 0 4 0 5 0 12 0 17 0 46 0-85 1 20 0 26 0-140 1 5 0 29 0 1 0 3 0 5 0 5 0 39 0-87 1 2 0 43 0 50 0 26 0 18 0-115 1 13 0 12 0-42 1 5 0 4 0 32 0 73 0-131 1 7 0 4 0 14 0 7 0 2 0 3 0 18 0 20 0 35 0 19 0 22 0-147 1 3 0 6 0 36 0 2 0 10 0 1 0 66 0 58 0-188 1 5 0 4 0 2 0 13 0 1 0 16 0 51 0 10 0 4 0 11 0 36 0-140 1 10 0 7 0 13 0 20 0 12 0 17 0 3 0 10 0 17 0-110 1 18 0 4 0 23 0 6 0 15 0 11 0 65 0 50 0-150 1 19 0 27 0 19 0 22 0 8 0 12 0 26 0-181 1 7 0 9 0 6 0 10 0 4 0 29 0 6 0 13 0 4 0 3 0 6 0 37 0 54 0 12 0-215 1 9 0 2 0 37 0 1 0 59 0 19 0 6 0 65 0 3 0 15 0-207 1 20 0 3 0 5 0 7 0 26 0 130 0-180 1 13 0 6 0 13 0 19 0 13 0 50 0 29 0 1 0 5 0 24 0-156 1 13 0 31 0 2 0 5 0 1 0 7 0 3 0 1 0 65 0 5 0 28 0-183 1 1 0 8 0 22 0 17 0 14 0 64 0 7 0 24 0 4 0 13 0 8 0-202 1 16 0 2 0 17 0 25 0 32 0 2 0 2 0 5 0 4 0 49 0 42 0 48 0-222 1 3 0 14 0 18 0 19 0 25 0 18 0 13 0 3 0 17 0-143 1 16 0 5 0 42 0 5 0 5 0 16 0 11 0-109 1 13 0 21 0 28 0 27 0 26 0 4 0 1 0-110 1 11 0 14 0 20 0 11 0 16 0 10 0 10 0 3 0 20 0 2 0 21 0 43 0 11 0-179 1 47 0 23 0 24 0 24 0 2 0 9 0 39 0 15 0-196 1 78 0 13 0 23 0 18 0 4 0 12 0 1 0 3 0 39 0 4 0 25 0-220 1 6 0 36 0 30 0 8 0 39 0 4 0 101 0-219 1 47 0 4 0 29 0 5 0 28 0 46 0 3 0 5 0 11 0 31 0-205 1 159 0 57 0 11 0-235 1 81 0 21 0 38 0 68 0 13 0 1 0 2 0 10 0-150 1 6 0 4 0 27 0 6 0 44 0 7 0 4 0 5 0 6 0 17 0 2 0 14 0 5 0 2 0-177 1 8 0 18 0 11 0 2 0 44 0 24 0 73 0-242 1 1 0 2 0 44 0 14 0 39 0 4 0 13 0 22 0 4 0 5 0 55 0 5 0 1 0 5 0 11 0 12 0 5 0-164 1 5 0 4 0 8 0 5 0 36 0 2 0 1 0 29 0 17 0 24 0 7 0 4 0 3 0-136 1 6 0 95 0 26 0 7 0 39 0-256 1 45 0 10 0 5 0 17 0 10 0 13 0 15 0 16 0 43 0 31 0 9 0-146 1 5 0 7 0 1 0 28 0 51 0 72 0-236 1 6 0 25 0 30 0 16 0 1 0 30 0 5 0 3 0 38 0 40 0 44 0-242 1 2 0 26 0 62 0 8 0 86 0 2 0 8 0 1 0 43 0-236 1 4 0 3 0 80 0 4 0 1 0 3 0 19 0 20 0 45 0-110 1 27 0 4 0 8 0 15 0 60 0 6 0 1 0 2 0-186 1 4 0 56 0 5 0 43 0 1 0 16 0 2 0 1 0 1 0 18 0 65 0-205 1 69 0 24 0 6 0 1 0 17 0 46 0 6 0 9 0-188 1 6 0 5 0 62 0 8 0 38 0 30 0 25 0 32 0 8 0-219 1 14 0 70 0 20 0 5 0 94 0 2 0-201 1 107 0 30 0 3 0 34 0-172 1 2 0 86 0 11 0 16 0 22 0 27 0 8 0 36 0 28 0-211 1 42 0 67 0 22 0 52 0-214 1 4 0 1 0 8 0 7 0 60 0 10 0 14 0 1 0 28 0 2 0 8 0 5 0 22 0 6 0 35 0-183 1 78 0 22 0 55 0 52 0-232 1 11 0 5 0 14 0 45 0 36 0 13 0 2 0 1 0 1 0 41 0 25 0 5 0 4 0-194 1 11 0 37 0 13 0 35 0 26 0 33 0 5 0 3 0 19 0 57 0-252 1 13 0 5 0 4 0 3 0 7 0 29 0 10 0 18 0 5 0 14 0 3 0 2 0 15 0 9 0-122 1 11 0 5 0 29 0 6 0 23 0 3 0 16 0 2 0 3 0 30 0-142 1 2 0 9 0 10 0 1 0 9 0 46 0 4 0 4 0 5 0 18 0 4 0 15 0 65 0 6 0 6 0-189 1 2 0 1 0 18 0 44 0 7 0 10 0 55 0 12 0-144 1 24 0 19 0 18 0 5 0 7 0 6 0 3 0 74 0 13 0 2 0 12 0-186 1 3 0 3 0 1 0 45 0 7 0 7 0 45 0-119 1 28 0 50 0 17 0 2 0 21 0 3 0 5 0 4 0 4 0 12 0 46 0-175 1 10 0 4 0 5 0 12 0 27 0 6 0 10 0 3 0 1 0 9 0 18 0 9 0-116 1 19 0 34 0 28 0 24 0 10 0 34 0 11 0-162 1 20 0 8 0 8 0 16 0 35 0 30 0 13 0 32 0 32 0-204 1 7 0 12 0 11 0 32 0 45 0 8 0 3 0 12 0 32 0 43 0-192 1 5 0 34 0 33 0 8 0 7 0 2 0 29 0 83 0-205 1 8 0 57 0 36 0 21 0 68 0 7 0-194 1 6 0 18 0 42 0 5 0 2 0 25 0 7 0 20 0 10 0 15 0-152 1 54 0 10 0 1 0 5 0 51 0 35 0-164 1 22 0 42 0 3 0 12 0 40 0 21 0-128 1 15 0 2 0 5 0 3 0 4 0 18 0 55 0 26 0 14 0 8 0-148 1 35 0 1 0 2 0 1 0 5 0 12 0 121 0-134 1 5 0 12 0 83 0 32 0 10 0-211 1 27 0 19 0 5 0 14 0 33 0 6 0 2 0 105 0-168 1 11 0 4 0 6 0 7 0 2 0 12 0 78 0 3 0 43 0-190 1 23 0 8 0 11 0 11 0 62 0 25 0-131 1 23 0 6 0 7 0 38 0 3 0-66 1 6 0 21 0 2 0 11 0 84 0 3 0 8 0-127 1 21 0 67 0 41 0-165 1 30 0 9 0 82 0 3 0 10 0-137 1 54 0 20 0 32 0 30 0-106 1 4 0 14 0 4 0 24 0 32 0-69 1 2 0 8 0 85 0-79 1 53 0 7 0 78 0 2 0-181 1 184 0-90 2 44 0 28 0-86 1 61 0 13 1-198 1 105 0-11 1 9 0 87 0 56 7-167 2 164 0-187 1 192 1-160 4 111 1-111 2 136 0-99 5-59 2 30 1 56 0-58 4-31 3 23 3 119 3-109 5-14 1 195 0-64 1-115 2-13 2 60 0 84 0-144 2 1 1 2 0-6 1 2 1 147 0-146 1 161 0-166 2 17 0-16 1 5 0 3 0 126 0-192 1 63 0 1 0 2 1 1 1 26 0-60 1 161 0-206 2 4 0 3 0 11 0 27 0-42 1 12 0 8 0 55 0-6 1 5 0 3 0 2 0-65 1 6 0 2 0 50 0-58 1 20 0 8 0 26 0-48 1 50 0-82 1 9 0 7 0 14 0 10 0-11 1 13 0 2 1 0 1 6 0-29 1 30 0-22 1 54 0 2 0 2 0-67 1 31 1 29 0-50 3 23 0-37 2 3 0-1 1 14 0 47 1-71 1 1 1 30 0-33 1 18 0 31 0-7 1-33 1 20 3 16 0-41 1" marker-start="url(#i1)" marker-mid="url(#i1)" marker-end="url(#i1)"/><path d="m709 1250 100 5-177 1-2 1 74 0-42 1 1 0 76 0-90 1 6 0 6 0 66 0 28 0 25 0-153 1 32 0 52 0 20 0-99 1 30 0 4 0-38 1 32 0 1 0-25 1 1 0 11 0 4 0-16 1 1 0 4 0 6 0 4 0 9 0-19 1 38 0 2 0-69 1 2 0 21 0 42 0 2 0 2 0-57 1 10 0 135 0-157 1 31 0 3 0 30 0-61 1 24 0 15 0 2 0 35 0-42 1 12 0 129 0-187 1 31 0 3 0 4 0 11 0 9 0-34 1 34 0 3 0 2 0 11 0 94 0-146 1 2 0 21 0 26 0 36 0 81 0-174 1 16 0 27 0 6 0-61 1 23 0 14 0 4 0 10 0 10 0 2 0 1 0 4 0 3 0 4 0 5 0 34 0-101 1 6 0 4 0 16 0 3 0 3 0 6 0 23 0 61 0 77 0-208 1 11 0 3 0 30 0 10 0 27 0 48 0 2 0-100 1 8 0 5 0 36 0 4 0-86 1 6 0 25 0 22 0 2 0 69 0 58 0 27 0-208 1 10 0 4 0 21 0 2 0 6 0 19 0 57 0 5 0-124 1 2 0 31 0 3 0 34 0 5 0 5 0 4 0 40 0 105 0-237 1 8 0 8 0 20 0 24 0 5 0 67 0-133 1 21 0 2 0 13 0 6 0 3 0 12 0 3 0 23 0 46 0 1 0 1 0 1 0-109 1 22 0 8 0 8 0 15 0 5 0 29 0 54 0 1 0-161 1 3 0 43 0 9 0 15 0 6 0 135 0-218 1 7 0 38 0-45 1 17 0 38 0 79 0 80 0-205 1 48 0 7 0 20 0 15 0 115 0-207 1 46 0 124 0-172 1 2 0 4 0 3 0 35 0 9 0 59 0 1 0 74 0 23 0-207 1 7 0 1 0 31 0 8 0 2 0 6 0 6 0 3 0 22 0 12 0 11 0 62 0 2 0 50 0 5 0-221 1 35 0 14 0 15 0 1 0 5 0 20 0-105 1 8 0 3 0 46 0 23 0 8 0 6 0-99 1 3 0 15 0 55 0 6 0 17 0 12 0 3 0 79 0-178 1 22 0 24 0 5 0 19 0 3 0 1 0 3 0-47 1 20 0 14 0 17 0 1 0 10 0 4 0 127 0-223 1 14 0 11 0 1 0 7 0 9 0 7 0 3 0 4 0 2 0 8 0 9 0 9 0 7 0 1 0 7 0 76 0-158 1 4 0 26 0 7 0 6 0 3 0 3 0 1 0 30 0 31 0 37 0-115 1 24 0 5 0 10 0 39 0-123 1 9 0 55 0 1 0 10 0 6 0 7 0 5 0 27 0 35 0-91 1-52 1 5 0 27 0 7 0 1 0 12 0 12 0 2 0-93 1 32 0 67 0 26 0-123 1 19 0 10 0 40 0-73 1 64 0 9 0 9 0 6 0 4 0 1 0 34 0 6 0-116 1 5 0 18 0 14 0 9 0 17 0-60 1 10 0 14 0 16 0 22 0 11 0 12 0 80 0-139 1 14 0 1 0 10 0 20 0-66 1 13 0 19 0 11 0 7 0 15 0 2 0 103 0 3 0-181 1 17 0 4 0 2 0 11 0 34 0 45 0 64 0 1 0-169 1 1 0 9 0 21 0 1 0 7 0 11 0 92 0-141 1 6 0 4 0 9 0 1 0 21 0 24 0-50 1 13 0 1 0 10 0 17 0 9 0 1 0 3 0 35 0-99 1 14 0 7 0 7 0 10 0 3 0 9 0 8 0 98 0-151 1 14 0 7 0 19 0 6 0 6 0 129 0-189 1 3 0 32 0 2 0 1 0 5 0 1 0 1 0 1 0 15 0 5 0-64 1 3 0 23 0 4 0 6 0 9 0 6 0 2 0 6 0 3 0 5 0-66 1 4 0 20 0-5 1 13 0 24 0 6 0 46 0 31 0-136 1 8 0 7 0-16 1 13 0 3 0 3 0 2 0 19 0 2 0 9 0 34 0-84 1 15 0 13 0 4 0 1 0 41 0-51 1-21 1 28 0 5 0 1 0-33 1 22 0 3 0 2 0 4 0-11 1-1 1-16 1 1 0 9 0 7 0 76 0-76 1-8 6 16 58-5 2 6 1 9 8-12 1 1 0 1 0-74 1-1 1 73 0 1 0 5 1-76 3 30 0 45 0-31 4-1 3-37 4-2 2 62 2-41 1 41 0-31 2 1 0-33 4" marker-start="url(#i2)" marker-mid="url(#i2)" marker-end="url(#i2)"/><path d="m715 1254-65 3 9 2-45 1 27 3 58 0-49 1-14 1 7 0 34 0-53 1 23 0 1 0 1 0 1 0 2 0-41 1 71 0-43 1 6 0 8 0-43 1 4 0 1 0 11 0 7 0 17 0-29 1 6 0 9 0 19 0-48 1 1 0 1 0 1 0 1 0 24 0 17 0 3 0 4 0 3 0 19 0-75 1 9 0 23 0 4 0 11 0 2 0 1 0 4 0 2 0 16 0 2 0 3 0-77 1 34 0 13 0 24 0 2 0 4 0 109 0-186 1 3 0 10 0 11 0 3 0 2 0 25 0-48 1 3 0 45 0 7 0 8 0 5 0 59 0-123 1 4 0 1 0 4 0 4 0 7 0 1 0 20 0 11 0-38 1 2 0 2 0 15 0 6 0 24 0-64 1 6 0 3 0 12 0 15 0 2 0 10 0 6 0-51 1 3 0 15 0 29 0 14 0-80 1 16 0 14 0 18 0 11 0 16 0 5 0-70 1 6 0 4 0 5 0 1 0 2 0 18 0 3 0 3 0 5 0 1 0 1 0 2 0 15 0 87 0 54 0-146 1 2 0 1 0 3 0 3 0-74 1 14 0 1 0 8 0 11 0 4 0 1 0 22 0 3 0 5 0 1 0 5 0 6 0-69 1 1 0 9 0 21 0 7 0 1 0 3 0 3 0 4 0 1 0 1 0 1 0 61 0-126 1 2 0 1 0 21 0 19 0 2 0 28 0 17 0-91 1 23 0 3 0 32 0 3 0 1 0 2 0-65 1 1 0 7 0 11 0 1 0 3 0 25 0 11 0 1 0 5 0 2 0 9 0 2 0-36 1 7 0 9 0 3 0-54 1 11 0 2 0 26 0 2 0 18 0 1 0 8 0-76 1 6 0 5 0 7 0 1 0 2 0 4 0 36 0 2 0 6 0 8 0-58 1 3 0 1 0 38 0 12 0 3 0-73 1 5 0 1 0 10 0 8 0 3 0 14 0 5 0 4 0 3 0 24 0-75 1 20 0 5 0 14 0 3 0 1 0 6 0 11 0-52 1 10 0 7 0 11 0 3 0 10 0 14 0 5 0-70 1 3 0 9 0 23 0 4 0 2 0 5 0 5 0 10 0 8 0 17 0 9 0-79 1 2 0 13 0 1 0 15 0 8 0 9 0 9 0 2 0 8 0 1 0 2 0-79 1 18 0 19 0 4 0 8 0 23 0 6 0 2 0-88 1 1 0 1 0 1 0 4 0 10 0 7 0 1 0 6 0 1 0 11 0 9 0 3 0 1 0 1 0 3 0 4 0 11 0 1 0 8 0 6 0-97 1 7 0 14 0 9 0 13 0 1 0 3 0 3 0 30 0 10 0 1 0 6 0 7 0-93 1 11 0 2 0 1 0 10 0 3 0 12 0 3 0 2 0 1 0 3 0 19 0 5 0 2 0-70 1 16 0 8 0 19 0 8 0 5 0-62 1 6 0 23 0 2 0 5 0 1 0 27 0 7 0 16 0-84 1 16 0 1 0 2 0 5 0 7 0 21 0 4 0 3 0 4 0 6 0 1 0 2 0-55 1 3 0 11 0 9 0 5 0 4 0 20 0 3 0 10 0-82 1 12 0 7 0 1 0 1 0 14 0 2 0 5 0 3 0 16 0 5 0 5 0-68 1 21 0 2 0 2 0 8 0 12 0 2 0 10 0 3 0 1 0 7 0 114 0-183 1 12 0 10 0 6 0 21 0 6 0 7 0-50 1 2 0 18 0 5 0 9 0 1 0 1 0 5 0-50 1 20 0 6 0 3 0 11 0 15 0 1 0-46 1 21 0 22 0 115 0-162 1 7 0 9 0 4 0 7 0 3 0 5 0 6 0 5 0 11 0 2 0-24 1 27 0 98 0-157 1 5 0 4 0 20 0 4 0 3 0 13 0 10 0-59 1 5 0 11 0 4 0 11 0 3 0 8 0 21 0-56 1 6 0 7 0 3 0 7 0 2 0 4 0 12 0 1 0 9 0 49 0-106 1 8 0 1 0 10 0 6 0 1 0 4 0 13 0 1 0 13 0 5 0-58 1 1 0 13 0 7 0 25 0 1 0 13 0 1 0-74 1 17 0 27 0 18 0 2 0-49 1 11 0 2 0 10 0 6 0 9 0 22 0-48 1 3 0 123 0-140 1 39 0 3 1-41 1 40 0 97 0-121 1 2 0 1 0 47 0-57 1 10 0 9 0-6 1 4 0-2 1-3 2-12 3-21 85-28 2 1 4" marker-start="url(#i3)" marker-mid="url(#i3)" marker-end="url(#i3)"/><path d="m646 1264 4 0-26 2 26 0-16 2 10 0 8 0-18 2 14 0 2 0-38 2 24 0 46 0-52 2 4 0 2 0 2 0 12 0 30 0-66 2 4 0 4 0 12 0 12 0 4 0 2 0 10 0 78 0-122 2 2 0 12 0 2 0 18 0 2 0-46 2 6 0 8 0 2 0 2 0 2 0 2 0 2 0 10 0 6 0 8 0 4 0 2 0 8 0 6 0 4 0-70 2 2 0 2 0 2 0 6 0 2 0 4 0 4 0 8 0 2 0 4 0 2 0 16 0 4 0 10 0 2 0 50 0 2 0-124 2 2 0 2 0 2 0 4 0 4 0 2 0 14 0 2 0 2 0 6 0 12 0 4 0 2 0 4 0 6 0 4 0-70 2 2 0 2 0 2 0 2 0 8 0 4 0 2 0 2 0 6 0 2 0 10 0 8 0 2 0 8 0-66 2 8 0 2 0 2 0 2 0 8 0 2 0 6 0 4 0 4 0 4 0 2 0 2 0 16 0 2 0-64 2 14 0 4 0 4 0 2 0 4 0 2 0 12 0 2 0 14 0 2 0 2 0 6 0-58 2 6 0 8 0 2 0 2 0 4 0 2 0 2 0 2 0 6 0 4 0 12 0 2 0 2 0-56 2 2 0 2 0 6 0 6 0 2 0 12 0 2 0 8 0 14 0 18 0 2 0-78 2 6 0 4 0 2 0 2 0 8 0 6 0 10 0 10 0 6 0 18 0 4 0 2 0 10 0-88 2 2 0 2 0 2 0 8 0 6 0 10 0 2 0 2 0 4 0 4 0 6 0 14 0 28 0-90 2 4 0 2 0 14 0 10 0 2 0 4 0 2 0 2 0 2 0 4 0 8 0 4 0 10 0 2 0-50 2 2 0 2 0 2 0 4 0 4 0 10 0 12 0 4 0 2 0 2 0 4 0-44 2 6 0 2 0 2 0 2 0 22 0 2 0 2 0 2 0-46 2 2 0 10 0 4 0 8 0 2 0 4 0 2 0 2 0 2 0 10 0 6 0-70 2 14 0 2 0 12 0 2 0 2 0 4 0 14 0 2 0-42 2 2 0 2 0 12 0 6 0 2 0 2 0 4 0 4 0 2 0 2 0 14 0 10 0-58 2 2 0 10 0 10 0 6 0 30 0-58 2 2 0 14 0 2 0 16 0 18 0-52 2 4 0 16 0 10 0 24 0-54 2 4 0 16 0 16 4 6 0-18 4 4 0" marker-start="url(#i4)" marker-mid="url(#i4)" marker-end="url(#i4)"/><path d="m648 1266 18 6 12 0-42 2-4 2 4 0 14 0 2 0-20 2 2 0-10 2 6 0 2 0 36 0-64 2 4 0 2 0 2 0 12 0 2 0 4 0 2 0-28 2 4 0 4 0 20 0-26 2 8 0 2 0 12 0 8 0 4 0 20 0-60 2 8 0 4 0 2 0 10 0 2 0 6 0 2 0 6 0 22 0-46 2 2 0 12 0 40 0-42 2 6 0 4 0 4 0 24 0 4 0-54 2 2 0 2 0 16 0 2 0-26 2 6 0 2 0 16 0 6 0 42 0-74 2 2 0 2 0 0 2 14 0 6 0 10 0 2 0-40 2 22 0 2 0 8 0 4 0 2 0 12 0 22 0-46 2 2 0 2 0 2 0 10 0 4 0 26 0-52 2 8 0 4 0 2 0-4 2 4 0-20 2 16 0 12 0-20 4 14 0 12 10-6 2" marker-start="url(#i5)" marker-mid="url(#i5)" marker-end="url(#i5)"/><path d="m636 1276-10 4 6 0-4 2 2 0-16 2 16 0 34 0-56 2 4 0 18 0 4 0-16 2 10 0 4 0 2 0-10 2 2 0 6 0 2 0 2 0 2 0 28 0-46 2 16 0 2 0 2 0-4 2 2 0-26 2 18 0 6 2 6 0 2 0 44 0-50 2 6 0-8 2 0 2 2 0 2 0-4 2" marker-start="url(#i6)" marker-mid="url(#i6)" marker-end="url(#i6)"/><path d="m636 1274-4 8 0 2-16 2 12 2 6 0 4 0 2 0-8 2 4 2 2 0-22 2 18 0 6 0-10 8 2 0 14 0" marker-start="url(#i7)" marker-mid="url(#i7)" marker-end="url(#i7)"/><path d="m630 1282 2 0-20 2 20 2 2 2 2 0 0 2 2 0-4 2 2 0 2 0 2 0-4 14" marker-start="url(#i8)" marker-mid="url(#i8)" marker-end="url(#i8)"/></g><rect x="546.3" y="1177.3" width="339.6" height="341.7" fill="none" stroke="#9a9a9a" stroke-width="1.2"/><rect x="576.7" y="1235.8" width="277.5" height="165.2" fill="none" stroke="#000" stroke-width="2.2"/><path d="M537.3 1208h9M537.3 1290.3h9M537.3 1383.4h9M537.3 1496.4h9M538.3 1440.2h8M538.3 1441.7h8M538.3 1443.2h8M538.3 1444.7h8M538.3 1446.2h8" stroke="#222" stroke-width="1.8" fill="none"/><path d="M541.8 1355.4h4.5M541.8 1339h4.5M541.8 1327.3h4.5M541.8 1318.3h4.5M541.8 1311h4.5M541.8 1304.7h4.5M541.8 1299.3h4.5M541.8 1294.6h4.5M541.8 1265.5h4.5M541.8 1251h4.5M541.8 1240.8h4.5M541.8 1232.8h4.5M541.8 1226.3h4.5M541.8 1220.7h4.5M541.8 1216h4.5M541.8 1211.8h4.5M541.8 1183.2h4.5M541.8 1394.2h4.5M541.8 1403.1h4.5M541.8 1410.3h4.5M541.8 1416.9h4.5M541.8 1422.9h4.5M541.8 1428.2h4.5M541.8 1433h4.5M541.8 1437.2h4.5M541.8 1487.4h4.5M541.8 1478.3h4.5M541.8 1469.8h4.5M541.8 1462.4h4.5M541.8 1454.9h4.5M541.8 1448.5h4.5" stroke="#222" stroke-width="1.1" fill="none"/><text x="506.7" y="1219.6" font-size="14.2" textLength="15.6" lengthAdjust="spacingAndGlyphs" fill="#222">10</text><text x="523" y="1208.8" font-size="13.2" textLength="7.3" lengthAdjust="spacingAndGlyphs" fill="#222">5</text><text x="506.7" y="1301.9" font-size="14.2" textLength="15.6" lengthAdjust="spacingAndGlyphs" fill="#222">10</text><text x="523.2" y="1291.1" font-size="13.2" textLength="6.8" lengthAdjust="spacingAndGlyphs" fill="#222">4</text><text x="506.7" y="1395" font-size="14.2" textLength="15.6" lengthAdjust="spacingAndGlyphs" fill="#222">10</text><text x="523" y="1384.2" font-size="13" textLength="7.3" lengthAdjust="spacingAndGlyphs" fill="#222">3</text><text x="514.4" y="1449" font-size="14.2" textLength="10" lengthAdjust="spacingAndGlyphs" fill="#222">0</text><text x="499.6" y="1508" font-size="14.2" textLength="22.8" lengthAdjust="spacingAndGlyphs" fill="#222">-10</text><text x="523" y="1497.2" font-size="13" textLength="7.3" lengthAdjust="spacingAndGlyphs" fill="#222">3</text><path d="M547 1519v10M611.4 1519v10M675.7 1519v10M740 1519v10M804.4 1519v10M868.8 1519v10" stroke="#222" stroke-width="2" fill="none"/><path d="M559.9 1519v5M572.7 1519v5M585.6 1519v5M598.5 1519v5M624.2 1519v5M637.1 1519v5M650 1519v5M662.8 1519v5M688.6 1519v5M701.4 1519v5M714.3 1519v5M727.2 1519v5M752.9 1519v5M765.8 1519v5M778.7 1519v5M791.5 1519v5M817.3 1519v5M830.1 1519v5M843 1519v5M855.9 1519v5" stroke="#222" stroke-width="1.2" fill="none"/><text x="544.9" y="1545.8" font-size="13.5" textLength="8.1" lengthAdjust="spacingAndGlyphs" fill="#333">0</text><text x="598.2" y="1545.8" font-size="13.5" textLength="25.9" lengthAdjust="spacingAndGlyphs" fill="#333">50K</text><text x="658.2" y="1545.8" font-size="13.5" textLength="34.1" lengthAdjust="spacingAndGlyphs" fill="#333">100K</text><text x="722.6" y="1545.8" font-size="13.5" textLength="34.1" lengthAdjust="spacingAndGlyphs" fill="#333">150K</text><text x="787.1" y="1545.8" font-size="13.5" textLength="34.1" lengthAdjust="spacingAndGlyphs" fill="#333">200K</text><text x="851.4" y="1545.8" font-size="13.5" textLength="34.1" lengthAdjust="spacingAndGlyphs" fill="#333">250K</text><text x="639.7" y="1169" font-size="31.7" textLength="143.5" lengthAdjust="spacingAndGlyphs" fill="#000">MLN4924</text><text x="731.7" y="1358.7" font-size="22.5" font-weight="bold" textLength="114.5" lengthAdjust="spacingAndGlyphs" fill="#000">pMCM2 +</text><text x="762.9" y="1391.2" font-size="22.5" font-weight="bold" textLength="50.7" lengthAdjust="spacingAndGlyphs" fill="#000">91.9</text><g fill="none" stroke="none"><path d="m1212 1251-59 2 46 2 18 1-6 1 0 2-53 1 16 1 49 4-7 2-44 1 49 3-6 1-50 1 13 0-6 3 47 1-57 1 36 0 19 1-31 2-73 1 20 0 2 0 6 0 1 0 3 0 22 0 15 1 40 0-94 1 18 0 71 0 4 0 15 0 12 0 49 0-182 1 18 0 6 0 58 0 89 0-157 1 21 0 76 0 43 0-148 1 14 0 2 0 129 0-160 1 12 0 11 0 37 0 9 0 25 0 51 0 1 0 7 0-143 1 12 0 5 0 1 0 27 0 34 0 32 0 2 0 49 0-158 1 8 0 11 0 2 0 1 0 1 0 7 0 5 0 51 0 11 0 5 0 12 0-36 1 20 0 4 0-102 1 11 0 8 0 1 0 87 0 8 0 5 0 16 0-136 1 1 0 15 0 35 0 46 0 4 0 3 0 16 0 32 0-144 1 7 0 6 0 2 0 6 0 26 0 43 0 15 0 6 0 13 0 3 0 5 0-133 1 2 0 6 0 1 0 1 0 1 0 1 0 1 0 3 0 23 0 54 0 4 0 11 0 2 0 11 0 2 0-143 1 14 0 8 0 2 0 65 0 25 0 2 0 22 0 12 0 3 0-137 1 1 0 5 0 1 0 1 0 1 0 1 0 1 0 68 0 16 0 10 0 1 0 2 0 2 0 3 0 1 0 7 0 2 0 6 0-133 1 7 0 1 0 14 0 7 0 1 0 3 0 82 0 5 0 3 0 13 0 7 0 4 0 7 0 2 0 12 0-173 1 3 0 8 0 2 0 2 0 13 0 4 0 29 0 31 0 5 0 1 0 11 0 7 0 3 0 3 0 3 0 6 0 7 0 5 0 2 0 17 0 2 0 2 0 1 0 6 0 4 0-179 1 4 0 10 0 10 0 3 0 3 0 9 0 26 0 32 0 22 0 12 0 6 0 1 0 4 0 6 0 9 0 3 0-166 1 11 0 3 0 2 0 1 0 6 0 2 0 3 0 3 0 2 0 77 0 6 0 5 0 2 0 11 0 8 0 9 0 2 0 7 0 7 0-159 1 2 0 3 0 1 0 3 0 5 0 5 0 15 0 57 0 14 0 16 0 4 0 1 0 10 0 1 0 3 0 8 0 1 0 5 0 7 0 7 0-171 1 23 0 6 0 15 0 63 0 11 0 1 0 3 0 5 0 2 0 1 0 1 0 4 0 14 0 4 0 7 0 3 0 15 0 13 0-201 1 14 0 6 0 3 0 1 0 13 0 66 0 8 0 11 0 1 0 6 0 4 0 2 0 1 0 9 0 5 0 13 0 5 0 1 0 4 0 3 0 2 0 3 0 12 0-180 1 12 0 10 0 10 0 65 0 4 0 2 0 1 0 2 0 3 0 3 0 8 0 6 0 16 0 11 0 1 0 2 0 6 0-163 1 5 0 4 0 11 0 5 0 6 0 1 0 3 0 58 0 11 0 2 0 5 0 7 0 5 0 5 0 2 0 7 0 5 0 3 0 4 0 4 0 15 0 3 0 2 0-162 1 2 0 14 0 5 0 7 0 54 0 12 0 1 0 2 0 1 0 3 0 1 0 6 0 4 0 4 0 4 0 8 0 15 0 1 0 7 0 3 0 2 0 4 0 2 0 12 0-176 1 17 0 4 0 2 0 50 0 17 0 10 0 5 0 10 0 3 0 1 0 3 0 1 0 5 0 11 0 3 0 7 0 2 0 8 0 12 0-179 1 1 0 18 0 5 0 9 0 2 0 5 0 14 0 34 0 2 0 12 0 9 0 1 0 1 0 2 0 1 0 4 0 13 0 3 0 4 0 1 0 1 0 4 0 10 0 2 0 8 0 5 0 4 0 6 0-188 1 6 0 6 0 3 0 10 0 15 0 42 0 18 0 8 0 2 0 4 0 5 0 4 0 1 0 9 0 8 0 12 0 8 0 13 0 6 0 3 0 2 0-176 1 19 0 3 0 6 0 3 0 7 0 50 0 2 0 15 0 9 0 1 0 1 0 15 0 10 0 3 0 3 0 26 0-179 1 6 0 2 0 32 0 34 0 22 0 24 0 3 0 1 0 5 0 4 0 14 0 5 0-143 1 4 0 19 0 1 0 2 0 6 0 3 0 28 0 32 0 14 0 3 0 1 0 2 0 15 0 2 0 3 0 2 0 11 0 5 0 1 0 10 0-172 1 5 0 20 0 2 0 7 0 35 0 25 0 15 0 4 0 1 0 11 0 2 0 4 0 4 0 1 0 9 0 8 0 2 0 21 0 3 0 3 0 2 0-180 1 7 0 18 0 5 0 4 0 14 0 42 0 16 0 10 0 8 0 2 0 27 0 1 0 1 0 20 0 4 0-192 1 9 0 5 0 1 0 2 0 27 0 77 0 13 0 10 0 8 0 1 0 8 0 1 0 3 0 3 0 2 0 9 0-167 1 6 0 1 0 16 0 1 0 3 0 7 0 6 0 38 0 14 0 18 0 1 0 1 0 10 0 7 0 2 0 1 0 3 0 8 0 9 0-165 1 8 0 2 0 6 0 8 0 17 0 6 0 3 0 66 0 13 0 5 0 10 0 2 0 1 0 13 0 26 0-173 1 4 0 21 0 2 0 1 0 1 0 20 0 34 0 24 0 5 0 8 0 1 0 7 0 1 0 3 0 9 0 3 0 1 0 4 0 7 0 1 0 1 0 19 0-172 1 5 0 12 0 10 0 4 0 3 0 4 0 54 0 16 0 4 0 2 0 13 0 5 0 4 0 1 0 4 0 1 0 5 0 1 0 21 0 1 0 3 0 1 0-175 1 27 0 2 0 3 0 4 0 53 0 12 0 13 0 3 0 19 0 2 0 4 0 1 0 1 0 4 0 2 0 2 0 19 0 3 0 2 0-176 1 6 0 8 0 10 0 2 0 8 0 1 0 60 0 8 0 5 0 30 0 5 0 1 0 10 0 5 0 18 0-192 1 6 0 1 0 2 0 2 0 5 0 6 0 8 0 11 0 1 0 3 0 6 0 97 0 6 0 1 0 4 0 4 0 8 0-162 1 3 0 3 0 1 0 5 0 19 0 6 0 79 0 18 0 28 0 18 0-185 1 43 0 6 0 48 0 21 0 1 0 42 0 3 0 1 0-161 1 11 0 16 0 1 0 2 0 12 0 15 0 51 0 1 0 29 0 2 0 6 0 2 0 21 0 10 0-183 1 5 0 3 0 5 0 22 0 10 0 95 0 23 0 7 0 2 0 12 0-184 1 8 0 2 0 4 0 2 0 1 0 21 0 3 0 1 0 1 0 7 0 7 0 96 0 4 0 8 0 20 0-190 1 7 0 6 0 1 0 6 0 25 0 4 0 3 0 1 0 100 0 16 0 22 0 2 0-182 1 3 0 1 0 9 0 20 0 7 0 138 0-192 1 12 0 1 0 14 0 2 0 14 0 7 0 111 0 10 0 1 0-160 1 6 0 1 0 1 0 4 0 5 0 10 0 3 0 5 0 1 0 122 0 6 0 10 0-178 1 5 0 10 0 5 0 8 0 2 0 10 0 11 0 26 0 74 0 18 0 16 0-182 1 7 0 4 0 34 0 17 0 27 0 58 0 35 0 1 0-173 1 1 0 1 0 9 0 8 0 5 0 3 0 2 0 1 0 126 0 13 0 3 0-181 1 14 0 7 0 7 0 6 0 1 0 34 0 76 0 19 0-163 1 4 0 4 0 1 0 1 0 6 0 2 0 12 0 6 0 4 0 21 0 9 0 88 0 7 0 7 0-177 1 5 0 3 0 3 0 5 0 3 0 10 0 2 0 14 0 120 0 2 0 15 0-174 1 12 0 12 0 7 0 5 0 128 0-163 1 9 0 10 0 1 0 13 0 19 0 42 0 43 0 26 0 2 0 10 0 6 0-187 1 10 0 13 0 1 0 5 0 137 0 14 0 4 0-175 1 9 0 1 0 3 0 5 0 1 0 15 0 48 0-87 1 8 0 7 0 7 0 3 0 7 0 129 0 18 0 3 0-180 1 13 0 13 0 3 0 129 0 2 0 3 0 13 0-178 1 4 0 9 0 5 0 77 0 50 0 18 0-170 1 6 0 10 0 1 0 6 0 25 0 15 0 83 0 26 0 12 0-175 1 8 0 11 0 4 0 2 0 3 0 2 0 3 0 3 0 20 0 69 0 32 0 6 0 8 0 4 0 3 0-178 1 14 0 3 0 5 0 5 0 5 0 20 0 88 0 22 0 13 0 2 0-177 1 6 0 9 0 10 0 6 0 1 0 26 0 101 0-174 1 12 0 3 0 1 0 12 0 1 0 8 0 4 0 132 0 21 0-182 1 14 0 3 0 6 0 4 0 19 0 115 0 17 0 1 0 5 0-178 1 1 0 20 0 4 0 2 0 3 0 127 0-160 1 2 0 3 0 1 0 2 0 14 0 1 0 42 0 87 0 9 0 3 0 11 0 7 0-192 1 14 0 1 0 6 0 1 0 16 0 2 0 9 0 52 0 82 0-146 1 1 0 3 0 2 0 6 0 29 0 92 0 15 0 3 0 4 0-181 1 5 0 3 0 2 0 1 0 4 0 1 0 6 0 10 0 116 0 23 0-168 1 4 0 11 0 5 0 2 0 152 0-179 1 6 0 1 0 10 0 2 0 5 0 37 0 97 0 2 0 3 0 14 0-183 1 5 0 8 0 2 0 20 0 16 0 111 0 9 0 11 0 1 0 2 0 1 0 1 0 3 0-192 1 12 0 17 0 2 0 2 0 136 0 5 0 3 0 7 0-166 1 3 0 7 0 1 0 1 0 148 0 2 0 4 0 5 0 1 0-181 1 8 0 4 0 3 0 1 0 8 0 1 0 5 0 133 0 1 0 2 0 4 0 4 0 5 0-160 1 14 0 1 0 126 0 1 0 11 0 1 0 2 0-171 1 4 0 16 0 4 0 7 0 30 0 53 0 3 0 42 0 1 0 2 0 8 0 1 0-168 1 3 0 4 0 25 0 121 0 12 0-176 1 10 0 4 0 3 0 5 0 1 0 7 0 138 0 4 0 1 0 8 0-162 1 2 0 8 0 135 0 1 0 4 0 9 0 1 0 3 0-171 1 1 0 11 0 1 0 3 0 7 0 21 0 66 0 27 0 8 0 14 0-163 1 2 0 3 0 1 0 2 0 4 0 2 0 1 0 11 0 10 0 121 0 9 0 2 0 4 0-169 1 11 0 1 0 1 0 9 0 13 0 116 0 7 0 2 0 6 0 5 0 3 0-171 1 12 0 1 0 1 0 5 0 126 0 5 0 14 0 1 0-162 1 2 0 35 0 110 0 3 0 2 0 1 0 11 0 6 0-203 1 18 0 17 0 7 0 2 0 143 0 2 0 6 0 2 0-176 1 11 0 9 0 8 0 14 0 32 0 80 0 4 0 1 0 10 0 1 0 6 0-179 1 15 0 1 0 12 0 121 0 12 0 4 0 9 0 6 0-163 1 7 0 144 0-171 1 6 0 4 0 5 0 14 0 132 0 12 0 1 0 1 0 8 0-171 1 10 0 2 0 9 0 10 0 40 0 31 0 52 0 6 0 7 0 1 0 4 0 1 0 3 0-186 1 11 0 3 0 5 0 7 0 11 0 90 0 37 0 11 0 5 0 1 0-183 1 15 0 7 0 5 0 28 0 40 0 74 0 5 0 4 0 6 0-195 1 28 0 3 0 145 0 2 0 1 0 15 0-163 1 2 0 1 0 1 0 12 0 4 0 11 0 108 0 10 0 1 0 2 0 13 0 4 0-123 1 73 0 30 0 6 0 2 0 1 0 6 0-178 1 9 0 12 0 7 0 4 0 140 0 4 0 1 0-179 1 5 0 4 0 4 0 8 0 2 0 4 0 5 0 60 0 73 0 7 0-167 1 1 0 7 0 3 0 10 0 10 0 104 0 21 0 1 0 8 0 4 0 3 0 3 0 6 0-204 1 27 0 2 0 3 0 4 0 1 0 1 0 1 0 15 0 30 0 26 0 71 0 1 0 1 0 17 0-191 1 12 0 5 0 9 0 14 0 77 0 56 0 13 0-172 1 3 0 6 0 1 0 2 0 12 0 9 0 134 0 6 0-167 1 3 0 2 0 3 0 3 0 134 0 8 0 3 0 7 0 5 0-161 1 4 0 6 0 5 0 1 0 70 0 60 0 8 0 6 0 1 0 2 0-185 1 11 0 7 0 10 0 1 0 104 0 23 0 10 0 10 0 3 0 8 0-181 1 7 0 2 0 10 0 9 0 9 0 5 0 73 0 37 0 9 0 3 0 11 0 2 0-187 1 20 0 2 0 8 0 4 0 7 0 42 0 83 0 8 0 4 0 2 0 1 0 3 0-172 1 10 0 1 0 5 0 6 0 4 0 3 0 10 0 67 0 37 0 17 0-173 1 24 0 10 0 9 0 56 0 77 0 2 0 4 0 2 0 5 0-179 1 3 0 25 0 2 0 121 0 2 0 24 0-154 1 4 0 9 0 103 0 19 0 1 0 3 0 7 0 10 0-193 1 24 0 5 0 1 0 2 0 3 0 3 0 3 0 1 0 70 0 62 0 1 0 12 0-154 1 1 0 5 0 2 0 4 0 41 0 4 0 22 0 44 0 32 0 4 0-191 1 7 0 8 0 2 0 7 0 1 0 1 0 12 0 8 0 88 0 33 0 3 0 1 0 6 0 1 0-152 1 15 0 9 0 8 0 51 0 58 0 3 0 5 0 3 0 1 0 4 0 1 0 4 0 4 0-152 1 8 0 124 0 9 0 13 0-175 1 15 0 8 0 102 0 29 0 2 0 15 0-163 1 1 0 3 0 17 0 2 0 115 0 7 0 2 0 1 0 11 0 1 0 2 0-159 1 2 0 3 0 1 0 1 0 2 0 15 0 71 0 32 0 17 0 4 0 1 0 2 0-161 1 6 0 6 0 8 0 3 0 6 0 8 0 114 0 4 0 3 0 2 0 4 0 7 0-171 1 8 0 6 0 16 0 121 0 6 0 7 0 2 0 4 0-164 1 4 0 1 0 1 0 7 0 5 0 120 0 9 0 16 0-158 1 14 0 1 0 6 0 129 0 8 0 5 0-184 1 13 0 3 0 9 0 3 0 2 0 13 0 5 0 113 0 2 0 1 0 6 0 4 0-150 1 4 0 5 0 126 0 12 0-138 1 1 0 4 0 1 0 1 0 20 0 29 0 27 0 24 0 21 0 1 0 13 0 3 0 1 0-155 1 2 0 3 0 1 0 13 0 100 0 24 0 1 0 2 0 3 0 9 0-159 1 19 0 19 0 102 0 8 0 1 0 3 0 7 0-187 1 11 0 26 0 26 0 67 0 33 0 5 0 7 0-180 1 32 0 18 0 9 0 1 0 13 0 95 0 4 0 5 0 4 0 1 0 1 0-127 1 116 0 6 0 10 0-157 1 27 0 1 0 107 0 17 0 2 0-175 1 21 0 1 0 145 0 7 0 13 0-197 1 37 0 22 0 4 0 44 0 9 0 8 0 15 0 13 0 10 0 3 0 4 0 2 0 3 0 7 0 14 0-201 1 66 0 2 0 83 0 10 0 13 0 4 0 10 0 1 0 3 0-154 1 2 0 29 0 75 0 2 0 4 0 4 0 20 0 3 0 2 0 7 0 3 0-123 1 11 0 31 0 13 0 23 0 19 0 4 0 1 0 22 0 7 0-211 1 22 0 2 0 25 0 2 0 1 0 1 0 33 0 26 0 47 0 13 0 11 0 4 0 15 0 1 0 3 0 2 0-206 1 2 0 34 0 8 0 2 0 30 0 10 0 1 0 7 0 25 0 8 0 10 0 15 0 10 0 8 0 4 0 3 0 8 0 9 0 10 0-194 1 19 0 18 0 5 0 56 0 9 0 6 0 2 0 8 0 3 0 2 0 5 0 10 0 5 0 7 0 7 0 5 0 19 0 4 0 10 0-175 1 1 0 51 0 22 0 20 0 9 0 3 0 13 0 4 0 8 0 1 0 4 0 1 0 17 0 11 0 2 0 1 0-201 1 36 0 3 0 6 0 28 0 3 0 9 0 4 0 31 0 2 0 10 0 11 0 6 0 1 0 4 0 4 0 10 0 1 0 5 0 3 0 2 0 27 0 2 0-201 1 22 0 10 0 40 0 24 0 7 0 22 0 6 0 1 0 1 0 2 0 1 0 2 0 3 0 1 0 2 0 13 0 1 0 4 0 3 0 1 0 7 0 14 0 4 0 1 0 5 0-187 1 2 0 2 0 1 0 6 0 9 0 41 0 20 0 18 0 3 0 2 0 7 0 11 0 10 0 6 0 1 0 9 0 16 0 1 0 3 0 4 0 3 0 7 0 3 0 5 0-171 1 11 0 26 0 2 0 11 0 3 0 18 0 24 0 5 0 1 0 5 0 8 0 2 0 6 0 2 0 4 0 12 0 1 0 7 0 2 0 3 0 8 0 4 0 2 0 6 0-196 1 2 0 10 0 23 0 1 0 25 0 7 0 3 0 14 0 9 0 4 0 12 0 8 0 3 0 3 0 4 0 1 0 1 0 2 0 10 0 11 0 2 0 5 0 6 0 2 0 10 0 1 0 13 0-198 1 8 0 13 0 12 0 8 0 26 0 2 0 10 0 13 0 21 0 11 0 10 0 2 0 11 0 5 0 10 0 2 0 12 0 1 0 1 0 13 0-183 1 10 0 16 0 11 0 6 0 11 0 17 0 22 0 14 0 7 0 4 0 4 0 8 0 5 0 2 0 1 0 12 0 5 0 9 0 13 0 4 0 8 0 5 0-210 1 16 0 17 0 22 0 15 0 8 0 36 0 1 0 13 0 11 0 1 0 2 0 1 0 6 0 1 0 4 0 21 0 1 0 19 0-195 1 32 0 17 0 8 0 41 0 19 0 7 0 10 0 17 0 4 0 1 0 3 0 1 0 2 0 1 0 4 0 1 0 1 0 7 0 4 0 1 0 15 0 7 0-207 1 1 0 38 0 9 0 9 0 4 0 2 0 2 0 6 0 12 0 4 0 9 0 9 0 2 0 27 0 2 0 4 0 8 0 6 0 2 0 7 0 5 0 3 0 1 0 1 0 3 0 1 0 2 0 5 0 6 0-153 1 20 0 3 0 10 0 1 0 3 0 10 0 40 0 12 0 3 0 7 0 1 0 3 0 19 0 7 0 2 0 2 0 6 0 7 0 3 0 2 0-182 1 10 0 6 0 13 0 8 0 8 0 11 0 23 0 17 0 24 0 4 0 6 0 10 0 10 0 6 0 3 0 1 0 6 0 11 0-137 1 7 0 45 0 14 0 17 0 11 0 46 0 2 0-110 1 5 0 58 0 41 0 11 0" marker-start="url(#i0)" marker-mid="url(#i0)" marker-end="url(#i0)"/><path d="m1121 1288 116 6-107 1 106 0-106 1 106 0-107 1 105 0 5 0-106 1 6 0 96 0-101 1-3 1 1 0 105 0 11 0-120 1 1 0 1 0 6 0 1 0 6 0 1 0 88 0 1 0 6 0 9 0-112 1 1 0 3 0 1 0 1 0 90 0 28 0 10 0 3 0 5 0-148 1 3 0 8 0 89 0 16 0 2 0 10 0 18 0-146 1 3 0 4 0 2 0 2 0 2 0 78 0 1 0 6 0 4 0 11 0 6 0 18 0 2 0-143 1 2 0 3 0 118 0 3 0 9 0 3 0 5 0 7 0-151 1 2 0 1 0 4 0 1 0 9 0 101 0 1 0 6 0 3 0 4 0 3 0 9 0 7 0 7 0-161 1 9 0 6 0 1 0 1 0 5 0 81 0 7 0 2 0 19 0 17 0-151 1 7 0 4 0 2 0 2 0 3 0 1 0 110 0 26 0 1 0 3 0 2 0-165 1 16 0 102 0 7 0 24 0 7 0 4 0-151 1 3 0 2 0 3 0 2 0 2 0 3 0 102 0 12 0 5 0 1 0 5 0 20 0-172 1 2 0 12 0 11 0 3 0 1 0 3 0 115 0 1 0 7 0 8 0 1 0 1 0 3 0 5 0-164 1 5 0 2 0 5 0 1 0 1 0 1 0 3 0 93 0 2 0 2 0 23 0 2 0 12 0 1 0 2 0 4 0 1 0 2 0 1 0 3 0-173 1 2 0 4 0 12 0 6 0 1 0 2 0 7 0 35 0 49 0 15 0 9 0 4 0 10 0 3 0 5 0 2 0-155 1 5 0 5 0 4 0 4 0 116 0 2 0 14 0 4 0 2 0 1 0 1 0 1 0 5 0-173 1 2 0 16 0 10 0 2 0 92 0 16 0 5 0 3 0 3 0 12 0 9 0-168 1 3 0 14 0 3 0 2 0 2 0 3 0 130 0 4 0 3 0 4 0 2 0-171 1 4 0 2 0 4 0 4 0 1 0 9 0 6 0 95 0 31 0 3 0-151 1 2 0 3 0 10 0 8 0 92 0-123 1 10 0 1 0 6 0 128 0 14 0 4 0 2 0 5 0 1 0-164 1 4 0 1 0 1 0 2 0 2 0 4 0 6 0 5 0 109 0 18 0 1 0 8 0 1 0-158 1 6 0 4 0 12 0 124 0 6 0 2 0 4 0-170 1 4 0 7 0 7 0 6 0 4 0 118 0 13 0 2 0 7 0 1 0-168 1 2 0 7 0 2 0 1 0 8 0 3 0 133 0 6 0 4 0-165 1 5 0 10 0 4 0 149 0 2 0 5 0-172 1 7 0 3 0 4 0 1 0 7 0 136 0 2 0-165 1 5 0 1 0 3 0 3 0 2 0 2 0 6 0 3 0 2 0 134 0 1 0-159 1 5 0 3 0 1 0 3 0 154 0 4 0 4 0-179 1 5 0 1 0 3 0 4 0 2 0 2 0 4 0 2 0 3 0 2 0 1 0 2 0 137 0 11 0-170 1 2 0 8 0 3 0 4 0 2 0 129 0 2 0 16 0-163 1 8 0 1 0 1 0 3 0 1 0 139 0 1 0-171 1 2 0 9 0 1 0 3 0 4 0 2 0 3 0 2 0 10 0 1 0 137 0 7 0-164 1 1 0 2 0 1 0 4 0 1 0 2 0 8 0 130 0 11 0 1 0 2 0-177 1 8 0 9 0 2 0 3 0 15 0 136 0-165 1 10 0 4 0 7 0 2 0 137 0-155 1 2 0 7 0 2 0 2 0 1 0 138 0 1 0 9 0 1 0 2 0-172 1 2 0 7 0 8 0 8 0 5 0 137 0-151 1 2 0 2 0 8 0 135 0 3 0 3 0-164 1 4 0 1 0 11 0 140 0 8 0-163 1 1 0 6 0 1 0 149 0 11 0-170 1 11 0 4 0 142 0 3 0 4 0 1 0 1 0 2 0-170 1 4 0 155 0 2 0-162 1 8 0 158 0 1 0 5 0-172 1 159 0 4 0 1 0 1 0 1 0 5 0-167 1 1 0 10 0 5 0 4 0 139 0 7 0-168 1 2 0 2 0 7 0-12 1 2 0 1 0 1 0 5 0 1 0 14 0 147 0 1 0-171 1 4 0 1 0 5 0 1 0 5 0 142 0 5 0 1 0 1 0-166 1 6 0 7 0 4 0 149 0 1 0-164 1 2 0 2 0 8 0 147 0 8 0-158 1 2 0 1 0 1 0 1 0 1 0 4 0 4 0 135 0 5 0 5 0-170 1 4 0 8 0 3 0 2 0 1 0 139 0 2 0 6 0 3 0 3 0-173 1 4 0 2 0 5 0 5 0 4 0 141 0 1 0 6 0 1 0-156 1 3 0 2 0 1 0 2 0 140 0 2 0 7 0-160 1 8 0 10 0 132 0 6 0 1 0-159 1 1 0 8 0 5 0 137 0 8 0 3 0-167 1 6 0 1 0 2 0 3 0 3 0 1 0 140 0 10 0-166 1 7 0 3 0 3 0 7 0 2 0 135 0 2 0 3 0-160 1 3 0 2 0 4 0 12 0 134 0 1 0 6 0 2 0 7 0-166 1 8 0 144 0 5 0 3 0-163 1 1 0 7 0 144 0 10 0-157 1 10 0 140 0 4 0 5 0-168 1 1 0 5 0 1 0 151 0 3 0 9 0-169 1 6 0 11 0 9 0 129 0 6 0 3 0-5 1 0 1 2 0-150 1 8 0-6 1 150 0 4 0 5 0-162 1 146 0-148 1 2 0 150 1-154 1 152 0 4 0 3 0 1 0-158 1 151 0 5 0-152 1 151 0-157 1 1 0 148 0 8 0 3 0-158 1 3 0 155 0-6 1 2 0 6 0 1 0 2 1-13 1 3 0 0 1 7 0-10 1 2 0 5 0-153 1 146 0 3 0-150 1 150 0 1 0-158 1 153 0 6 0-156 1 150 0 1 0 4 0-159 1 9 0 147 1 1 0 4 0 1 0-166 1 6 0 154 0 2 0 1 0 1 0 6 0-163 1 148 0 4 0 5 0-149 1 146 0 10 0-159 1 146 0 2 0 1 0 1 0 1 0-159 1 157 0 2 0-148 1 143 0 3 0 5 0-9 1 2 0 1 0 6 0 4 0-10 1 3 0 4 0-154 1 141 0 7 0 10 0-10 1-143 1 143 0-4 1 1 0 5 0-4 1 2 0 1 0 3 0 2 0-7 1-2 1 2 0 1 0 1 0 1 0 7 0-14 1 2 0 3 0 1 0 2 0 2 0-154 1 143 0 7 0 2 0-2 2 2 0-9 1-1 1 9 0 3 0 2 0-150 1 141 0 8 0-148 1 6 0 132 0 1 0-152 1 9 0 4 0 133 0 4 0 1 0 1 0 1 0 2 0-142 1 136 0 2 0 4 0 1 0 2 0-144 1 4 0 1 0 3 0 4 0 132 0 2 0 1 0-140 1 1 0 1 0 1 0 125 0 3 0 7 0 3 0-154 1 2 0 1 0 4 0 7 0 3 0 3 0 122 0 8 0-147 1 1 0 1 0 1 0 5 0 1 0 5 0 3 0 2 0 120 0 5 0 2 0-149 1 3 0 4 0 1 0 12 0 125 0-144 1 4 0 4 0 7 0 3 0-14 1 10 0 5 0 1 0 1 0 2 0 116 0 8 0-147 1 17 0 4 0 112 0 7 0 4 0-142 1 1 0 5 0 4 0 1 0 7 0 2 0-25 1 2 0 1 0 23 0 1 0 109 0 2 0 6 0 3 0-143 1 2 0 18 0 119 0 6 0 1 0-145 1 20 0 119 0 6 0-146 1 134 0 3 0 2 0 4 0 6 0-155 1 4 0 87 0 55 0 2 0 3 0-149 1 1 0 5 0 119 0 10 0 3 0 2 0 7 0 3 0 2 0-127 1 62 0 38 0 9 0 1 0 2 0 1 0 2 0 2 0-140 1 107 0 31 0 2 0 6 0 2 0-151 1 1 0 2 0 27 0 43 0 19 0 11 0 11 0 18 0 9 0 3 0 4 0-145 1 3 0 81 0 12 0 6 0 17 0 8 0 2 0 8 0 3 0 1 0 3 0-144 1 23 0 1 0 73 0 14 0 15 0 4 0 1 0 4 0 2 0 4 0 6 0-145 1 2 0 76 0 13 0 2 0 23 0 10 0-124 1 4 0 70 0 5 0 11 0 5 0 6 0 33 0-128 1 9 0 2 0 88 0 9 0-113 1 12 0 57 0 10 0 27 0 6 0 2 0 11 0-120 1 10 0 87 0 3 0 15 0-121 1 77 0 1 0 28 0 8 0 11 0-125 1 14 0 89 0 11 0 4 0 3 0-10 1-98 1 3 0 75 0 1 1" marker-start="url(#i1)" marker-mid="url(#i1)" marker-end="url(#i1)"/><path d="m1129 1300 3 0-3 1 3 1 9 0 87 0 5 0 24 0-125 1 4 0 4 0-10 2 103 0 14 0 22 0-143 1 149 0-150 1 11 1 142 0-152 1 5 0-4 1 4 0 127 0 17 0-151 1 10 0 5 0 92 0 44 0 1 0 1 0-151 1 2 0 8 0 9 0 126 0 1 0-142 1 3 0 2 0 1 0 135 0 3 0 10 0-150 1 140 0 1 0 2 0 2 0 2 0 1 0-157 1 1 0 2 0 4 0 140 0 3 0 3 0 6 0 1 0-165 1 6 0 3 0 1 0 147 0 7 0-154 1 5 0 141 0 1 0 3 0-155 1 2 0 1 0 3 0 143 0 2 0 2 0 7 0-158 1 4 0 2 0 143 0 2 0 4 0 2 0 1 0-159 1 5 0 2 0 2 0 145 0-148 1 7 0 5 0 132 0 5 0-153 1 2 0 4 0 153 0-158 1 4 0 140 0 9 0 2 0 1 0-166 1 9 0 1 0 3 0 152 0-163 1 4 0 2 0 2 0 4 0 145 0 8 0-163 1 12 0 3 0 5 0 137 0-155 1 3 0 3 0 13 0 139 0-154 1 1 0 2 0 10 0 4 0 1 0 140 0 2 0-171 1 20 0 152 0-168 1 10 0 6 0 140 0 1 0 3 0 2 0 2 0 2 0 2 0-163 1 153 1 1 0-170 1 34 0 137 0-160 1 10 0 147 0 3 0 2 0-149 1 143 0 7 0 1 0-7 1 8 0-158 1 158 0 0 1 1 0-8 2 1 0 1 0-159 2 158 0 7 0-10 1 4 0 2 0 6 0-167 1 163 0 2 0-168 1 169 0-164 1 4 0 10 0 143 0 7 0-166 1 164 0-163 1 156 0 6 0-155 1 10 0 136 0 6 0 1 0-1 1 2 0 1 0 1 0-158 1 152 0 1 1 3 0 2 0-164 1 9 0 153 0 6 0-171 1 1 0 11 0 4 0 147 0 2 0 2 0 3 0-158 1 152 0 3 0 1 0 3 0-164 1 3 0 1 0 151 0 3 0 1 0 1 0 1 0-5 1 4 0-159 1 157 0 1 0-4 2 7 0-10 2 2 0-3 1 13 1-9 2-159 1 165 3-1 1-3 2 4 0-4 1 2 0 2 2 2 2-157 3-7 5 154 2 3 0-1 1 2 0 5 0-3 1 1 0-6 1 1 0-1 1 4 0-1 1 1 3 6 4-2 1-6 1 4 1-1 1-1 4-6 2 5 0 1 0-139 2 0 1 4 0-5 1 5 0 134 0-137 1 130 0-132 1 9 0 3 0-16 1 1 0 9 0 1 0 2 0-11 1 2 0 9 0 3 0 4 0-21 1 3 0 5 0 1 0 2 0 129 0-141 1 5 0 3 0 6 0 2 0-18 1 5 0 4 0 13 0 2 0-23 1 3 0 134 0-135 1 16 0-21 1 1 0 4 0 1 0 16 0 2 0 116 0 2 0-122 1 4 0-25 1 24 0 2 0 109 0-134 1 3 0 18 0 115 0 6 0 6 0-147 1 3 0 1 0 137 0 10 0-145 1 1 0 16 0 111 0 3 0-135 1 1 0 2 0 2 0 14 0 116 0-135 1 2 0 96 0 34 0-133 1 4 0 1 0 1 0-3 1 14 0 3 0-3 1-6 1 1 0 4 0 3 0-9 1 6 1-6 1 3 0 83 0-90 1" marker-start="url(#i2)" marker-mid="url(#i2)" marker-end="url(#i2)"/><path d="m1140 1300-11 1 0 2 1 0 0 2 1 2-4 2 4 0-4 2-2 1 1 0 1 0 1 0 2 0 146 0-150 1 148 0-143 1 6 0 140 0-2 1-148 1 2 0 152 0-149 1 1 0 148 0-156 1 2 0 3 0 149 0 2 0 1 0 5 0-152 1 150 0-156 1 148 0 1 1 6 0-155 1 4 0 150 0-154 1 2 0 4 0 3 0 3 0 139 0 1 0-151 1 3 0 1 0 1 0 1 0 7 0 144 0-158 1 153 0 3 0 1 0-154 1 2 0 1 0 2 0 146 0 1 0 1 0 2 0-158 1 4 0 3 0 143 0 6 0 1 0 1 0-168 1 167 0 1 0-9 1 2 0 1 0 1 0 1 0 2 0 3 0-159 1 5 0 146 0 1 0 1 0 1 0 1 0 2 0-6 1 1 0 2 0 0 1-150 1 145 0 2 0 1 0 2 0 2 0-151 1 148 0 4 0-2 1-6 1 5 0 1 0 5 0-159 1 151 1 4 0 0 1-161 1 158 0-1 1 6 0 2 0-164 1 155 0 1 0 1 0 3 0 1 0 1 0 2 0 1 0-8 1 1 0 3 0-1 1 1 0 1 0-5 1 2 0 4 0-2 1 3 0-167 1 161 0 2 0-167 1 163 0-144 1 141 1 6 0 4 0-6 3 1 0 5 0-161 1 154 0 3 1 1 0-153 1 156 3 0 1 1 13-8 15 1 6-135 19 2 0-7 1-1 1 8 0 0 1 2 0 7 0-12 1 2 0 3 0 4 0 124 0-137 1 10 0 3 0 2 0-22 1 4 0 2 0 1 0 2 0 5 0 3 0 1 0-11 1 3 0 1 0 2 0 5 0-7 1 5 0 1 0 3 0 2 0-13 1 1 0 2 0 2 0 2 0 3 0 2 0 1 0-18 1 3 0 3 0 2 0 3 0 7 0-18 1 3 0 3 0 2 0 11 0 2 0-22 1 1 0 4 0 1 0 3 0 12 0 124 0-146 1 2 0 1 0 1 0 1 0 3 0 130 0-116 1 117 0-140 1 2 0 2 0 2 0 13 0 4 0 109 0-130 1 1 0 3 0 132 0-131 1 13 0 1 0-14 1 7 0 2 0 3 0 1 0-12 1 7 0 2 0 1 0-13 1 2 0 9 0 90 0-98 1 1 0 5 0 3 0 1 0 88 0-91 1-2 1" marker-start="url(#i3)" marker-mid="url(#i3)" marker-end="url(#i3)"/><path d="m1132 1304-4 6-2 2 2 0 2 0-2 4 152 0-152 2 152 0-150 2-2 2 156 0-158 2 156 0 4 2-6 2 8 0-8 2 2 0 2 0-6 2 2 0 2 0 2 0 0 2-2 2 4 0-8 4 8 0-6 2 4 0 2 0-4 2 2 0 4 0-6 2 2 0 2 0-2 2-2 6 2 2 2 0-136 60 4 0-14 2 2 0 2 0 4 0-2 2 4 0-10 2 4 0 2 0 2 0 2 0 2 0 2 0-12 2 2 0 2 0 2 0 2 0 2 0 2 0-16 2 2 0 2 0 2 0 2 0 2 0 2 0 2 0 4 0 116 0 4 0-136 2 2 0 2 0 2 0 6 0 2 0 2 0-18 2 2 0 4 0 2 0 2 0 4 0 2 0 2 0 2 0-18 2 6 0 2 0 2 0 4 0 2 0-10 2 2 0 2 0 2 0" marker-start="url(#i4)" marker-mid="url(#i4)" marker-end="url(#i4)"/><path d="m1128 1310-2 2 2 2 150 14 10 14-142 78 4 0 4 0-16 2 10 0 2 0 2 0 2 0-8 2 2 0 2 0 2 0 4 0-14 2 2 0 2 0 2 0 2 0 2 0 2 0 2 0-14 2 2 0 2 0 4 0 4 0-12 2 4 0 2 0 4 0 2 0-8 2 2 0 2 0 4 2" marker-start="url(#i5)" marker-mid="url(#i5)" marker-end="url(#i5)"/><path d="m1146 1422 2 0 4 0-8 2 4 0 2 0 4 0-8 2 2 0 2 0 4 0 2 0-12 2 4 0 2 0 2 0 2 0-10 2 4 0 2 0 4 0-2 2" marker-start="url(#i6)" marker-mid="url(#i6)" marker-end="url(#i6)"/><path d="m1150 1422 0 2-2 2 2 0-6 2 4 0 4 0 2 0 2 0-10 2 4 0 0 2" marker-start="url(#i7)" marker-mid="url(#i7)" marker-end="url(#i7)"/><path d="m1152 1420-4 4 4 0-4 2 2 0 2 0-4 2 2 0 2 0-6 2 4 0 2 0" marker-start="url(#i8)" marker-mid="url(#i8)" marker-end="url(#i8)"/></g><rect x="1041.1" y="1181.3" width="323.9" height="337.6" fill="none" stroke="#9a9a9a" stroke-width="1.2"/><path d="M1209.6 1181.3V1518.9M1041.1 1366.5H1365" stroke="#111" stroke-width="2"/><path d="M1032.1 1213.4h9M1032.1 1293.8h9M1032.1 1386h9M1032.1 1497.1h9M1033.1 1440.1h8M1033.1 1441.6h8M1033.1 1443.1h8M1033.1 1444.6h8M1033.1 1446.1h8" stroke="#222" stroke-width="1.8" fill="none"/><path d="M1036.6 1358.2h4.5M1036.6 1342h4.5M1036.6 1330.5h4.5M1036.6 1321.6h4.5M1036.6 1314.3h4.5M1036.6 1308.1h4.5M1036.6 1302.7h4.5M1036.6 1298h4.5M1036.6 1269.6h4.5M1036.6 1255.4h4.5M1036.6 1245.4h4.5M1036.6 1237.6h4.5M1036.6 1231.2h4.5M1036.6 1225.9h4.5M1036.6 1221.2h4.5M1036.6 1217.1h4.5M1036.6 1189.2h4.5M1036.6 1396.3h4.5M1036.6 1404.8h4.5M1036.6 1411.7h4.5M1036.6 1418h4.5M1036.6 1423.7h4.5M1036.6 1428.8h4.5M1036.6 1433.4h4.5M1036.6 1437.4h4.5M1036.6 1487.9h4.5M1036.6 1478.7h4.5M1036.6 1470.1h4.5M1036.6 1462.5h4.5M1036.6 1455h4.5M1036.6 1448.5h4.5" stroke="#222" stroke-width="1.1" fill="none"/><text x="1003.8" y="1224.4" font-size="13.7" textLength="15.7" lengthAdjust="spacingAndGlyphs" fill="#222">10</text><text x="1018.7" y="1212.9" font-size="14.4" textLength="7.9" lengthAdjust="spacingAndGlyphs" fill="#222">5</text><text x="1003.8" y="1304.8" font-size="13.7" textLength="15.7" lengthAdjust="spacingAndGlyphs" fill="#222">10</text><text x="1019" y="1293.3" font-size="14.4" textLength="7.4" lengthAdjust="spacingAndGlyphs" fill="#222">4</text><text x="1003.8" y="1397" font-size="13.7" textLength="15.7" lengthAdjust="spacingAndGlyphs" fill="#222">10</text><text x="1018.8" y="1385.5" font-size="14.2" textLength="7.9" lengthAdjust="spacingAndGlyphs" fill="#222">3</text><text x="1011.5" y="1448.9" font-size="13.7" textLength="10" lengthAdjust="spacingAndGlyphs" fill="#222">0</text><text x="996.7" y="1508.1" font-size="13.7" textLength="22.9" lengthAdjust="spacingAndGlyphs" fill="#222">-10</text><text x="1018.8" y="1496.6" font-size="14.2" textLength="7.9" lengthAdjust="spacingAndGlyphs" fill="#222">3</text><path d="M1077.2 1519.6v9M1138 1519.6v9M1199 1519.6v9M1259.2 1519.6v9M1320.2 1519.6v9" stroke="#222" stroke-width="2" fill="none"/><path d="M1095.5 1519.6v5M1106.2 1519.6v5M1113.8 1519.6v5M1119.7 1519.6v5M1124.5 1519.6v5M1128.6 1519.6v5M1132.1 1519.6v5M1135.2 1519.6v5M1045.4 1519.6v5M1053 1519.6v5M1058.9 1519.6v5M1063.7 1519.6v5M1067.8 1519.6v5M1071.3 1519.6v5M1074.4 1519.6v5M1156.4 1519.6v5M1167.1 1519.6v5M1174.7 1519.6v5M1180.6 1519.6v5M1185.5 1519.6v5M1189.6 1519.6v5M1193.1 1519.6v5M1196.2 1519.6v5M1217.1 1519.6v5M1227.7 1519.6v5M1235.2 1519.6v5M1241.1 1519.6v5M1245.8 1519.6v5M1249.9 1519.6v5M1253.4 1519.6v5M1256.4 1519.6v5M1277.6 1519.6v5M1288.3 1519.6v5M1295.9 1519.6v5M1301.8 1519.6v5M1306.7 1519.6v5M1310.8 1519.6v5M1314.3 1519.6v5M1317.4 1519.6v5M1338.6 1519.6v5M1349.3 1519.6v5M1356.9 1519.6v5M1362.8 1519.6v5" stroke="#222" stroke-width="1.1" fill="none"/><text x="1075.8" y="1554.9" font-size="14.6" textLength="16.1" lengthAdjust="spacingAndGlyphs" fill="#222">10</text><text x="1091.6" y="1543" font-size="14.7" textLength="6.5" lengthAdjust="spacingAndGlyphs" fill="#222">1</text><text x="1136.6" y="1554.9" font-size="14.6" textLength="16.1" lengthAdjust="spacingAndGlyphs" fill="#222">10</text><text x="1152.5" y="1543" font-size="14.5" textLength="8.4" lengthAdjust="spacingAndGlyphs" fill="#222">2</text><text x="1197.6" y="1554.9" font-size="14.6" textLength="16.1" lengthAdjust="spacingAndGlyphs" fill="#222">10</text><text x="1213.7" y="1543" font-size="14.5" textLength="8.1" lengthAdjust="spacingAndGlyphs" fill="#222">3</text><text x="1257.8" y="1554.9" font-size="14.6" textLength="16.1" lengthAdjust="spacingAndGlyphs" fill="#222">10</text><text x="1274.2" y="1543" font-size="14.7" textLength="7.6" lengthAdjust="spacingAndGlyphs" fill="#222">4</text><text x="1318.8" y="1554.9" font-size="14.6" textLength="16.1" lengthAdjust="spacingAndGlyphs" fill="#222">10</text><text x="1334.9" y="1543" font-size="14.7" textLength="8.1" lengthAdjust="spacingAndGlyphs" fill="#222">5</text><text x="1155.6" y="1170.8" font-size="30.8" textLength="109.8" lengthAdjust="spacingAndGlyphs" fill="#000">Control</text><text x="1053.2" y="1205.6" font-size="22" font-weight="bold" textLength="33.7" lengthAdjust="spacingAndGlyphs" fill="#000">Q1</text><text x="1045.3" y="1239" font-size="22" font-weight="bold" textLength="50.3" lengthAdjust="spacingAndGlyphs" fill="#000">31.2</text><text x="1308.9" y="1205.6" font-size="22" font-weight="bold" textLength="34.1" lengthAdjust="spacingAndGlyphs" fill="#000">Q2</text><text x="1300.9" y="1239" font-size="22" font-weight="bold" textLength="50" lengthAdjust="spacingAndGlyphs" fill="#000">33.5</text><text x="1057.4" y="1475.7" font-size="22" font-weight="bold" textLength="33.2" lengthAdjust="spacingAndGlyphs" fill="#000">Q4</text><text x="1048.3" y="1509.1" font-size="22" font-weight="bold" textLength="51.4" lengthAdjust="spacingAndGlyphs" fill="#000">19.3</text><text x="1317.8" y="1475.7" font-size="22" font-weight="bold" textLength="34" lengthAdjust="spacingAndGlyphs" fill="#000">Q3</text><text x="1309" y="1509.1" font-size="22" font-weight="bold" textLength="51.3" lengthAdjust="spacingAndGlyphs" fill="#000">15.9</text><path d="M982.9 1466.8V1566.5H1069.5" stroke="#000" stroke-width="4.5" fill="none" stroke-linejoin="miter"/><path d="M982.9 1454.8l7 13h-14z" fill="#000"/><path d="M1081.5 1566.5l-13 7v-14z" fill="#000"/><text transform="translate(968 1569) rotate(-90)" x="-1.7" y="0" font-size="16.9" font-weight="bold" textLength="91.8" lengthAdjust="spacingAndGlyphs" fill="#000">pMCM2</text><text x="999.7" y="1603.8" font-size="21.1" font-weight="bold" textLength="46.5" lengthAdjust="spacingAndGlyphs" fill="#000">EdU</text><g fill="none" stroke="none"><path d="m1628 1229-10 2 4 2-6 2 5 0 12 0-21 1 11 1 6 1-48 1 25 0 10 0-32 1 22 0 20 0-44 1 3 0 1 0-3 1 32 0 25 0 1 0-39 1 9 0 7 0 1 0 4 0-53 1 12 0 29 0 22 0 1 0 3 0-47 1 14 0 37 0-69 1 13 0 26 0 17 0 8 0 12 0-55 1 26 0 11 0-54 1 3 0 32 0 6 0 2 0 6 0-109 1 56 0 20 0 11 0 50 0 1 0-138 1 45 0 28 0 6 0 3 0 5 0 24 0 2 0 1 0 5 0 5 0 3 0 14 0-87 1 26 0 9 0 6 0 34 0-101 1 16 0 7 0 8 0 4 0 9 0 24 0 15 0 4 0 8 0 4 0-120 1 12 0 21 0 8 0 5 0 1 0 1 0 3 0 13 0 26 0 13 0 5 0 31 0 1 0-97 1 21 0 7 0 6 0 15 0 16 0 10 0 11 0-98 1 10 0 15 0 2 0 16 0 6 0 19 0 20 0 3 0 2 0 2 0 13 0 3 0-128 1 26 0 28 0 13 0 5 0 8 0 4 0 11 0 6 0 4 0 19 0 4 0-119 1 4 0 31 0 4 0 16 0 49 0 7 0-119 1 4 0 5 0 9 0 49 0 11 0 18 0 14 0 6 0 8 0-145 1 22 0 1 0 23 0 17 0 29 0 28 0 4 0 11 0 8 0 3 0-147 1 39 0 6 0 7 0 9 0 21 0 9 0 7 0 15 0 2 0 11 0 1 0 2 0 4 0 20 0-130 1 5 0 17 0 13 0 1 0 16 0 2 0 5 0 22 0 41 0 3 0-131 1 18 0 2 0 10 0 2 0 16 0 10 0 2 0 18 0 33 0 6 0 7 0 9 0-137 1 1 0 1 0 16 0 4 0 7 0 5 0 18 0 6 0 9 0 11 0 38 0 12 0 14 0-117 1 1 0 14 0 29 0 69 0-144 1 21 0 9 0 16 0 5 0 49 0 23 0 3 0 3 0 1 0 6 0-132 1 4 0 16 0 4 0 10 0 4 0 15 0 6 0 9 0 23 0 47 0 20 0-169 1 14 0 4 0 9 0 25 0 31 0 40 0 18 0 6 0 2 0 17 0-169 1 25 0 21 0 8 0 15 0 43 0 7 0-112 1 28 0 72 0 31 0-115 1 5 0 17 0 69 0 17 0 17 0 4 0-155 1 10 0 25 0 4 0 35 0 38 0 24 0 13 0 5 0 4 0-154 1 3 0 3 0 10 0 5 0 15 0 22 0 83 0 1 0 8 0 9 0-54 1 10 0 20 0 22 0-135 1 5 0 12 0 22 0 21 0 39 0-110 1 15 0 7 0-30 1 8 0 1 0 3 0 10 0 5 0 6 0 5 0 81 0 2 0 8 0-101 1 14 0 6 0 22 0 60 0 8 0 6 0 3 0 2 0 5 0-146 1 8 0 45 0 69 0 26 0-156 1 3 0 6 0 11 0 7 0 18 0 27 0-66 1 6 0 111 0 24 0-148 1 6 0 3 0 5 0 6 0 1 0 95 0 39 0 1 0-129 1 112 0 18 0-141 1 2 0 14 0 1 0 8 0 81 0 29 0-136 1 109 0 5 0 24 0 2 0-171 1 38 0 7 0 120 0 11 0-148 1 9 0 5 0 5 0 14 0-54 1 9 0 117 0 27 0 2 0 8 0-142 1 10 0 26 0 74 0 26 0 16 0-162 1 11 0 25 0 108 0-150 1 17 0 136 0-150 1 13 0 7 0 2 0 5 0 93 0 6 0-115 1 10 0 40 0 57 0 35 0 1 0-156 1 24 0 5 0 90 0 10 0 12 0 22 0 6 0-135 1 98 0 3 0-121 1 7 0 6 0 112 0 22 0-151 1 23 0 101 0 20 0 9 0-173 1 4 0 14 0 9 0 103 0 37 0 5 0 5 0-168 1 12 0 66 0 50 0 12 0-141 1 1 0 36 0 6 0 37 0 38 0 11 0 31 0-143 1 115 0 4 0 11 0 5 0 4 0 4 0-155 1 25 0 6 0 8 0 100 0-144 1 10 0 4 0 35 0 58 0 23 0 7 0 23 0-165 1 15 0 96 0 5 0 7 0 5 0 30 0 18 0-95 1 79 0-149 1 2 0 34 0 1 0 32 0 43 0 23 0 31 0-137 1 50 0 30 0 1 0 18 0 12 0 9 0 9 0 2 0 15 0-192 1 7 0 1 0 1 0 16 0 11 0 8 0 7 0 32 0 13 0 31 0 22 0 11 0 2 0-147 1 2 0 15 0 25 0 67 0 22 0 8 0 20 0 1 0-156 1 8 0 5 0 28 0 25 0 9 0 26 0-106 1 26 0 18 0 3 0 22 0 63 0-129 1 1 0 4 0 36 0 39 0 10 0 15 0 50 0-162 1 13 0 8 0 8 0 3 0 1 0 34 0 8 0 2 0 14 0 17 0 31 0 4 0 12 0 19 0-168 1 67 0 3 0 17 0 8 0 11 0 15 0 4 0 6 0-132 1 19 0 8 0 24 0 43 0 31 0 11 0 5 0 11 0 2 0 6 0-174 1 10 0 28 0 32 0 22 0 19 0 1 0 2 0 5 0 8 0 27 0 14 0 3 0 13 0-183 1 10 0 21 0 1 0 3 0 95 0 50 0-137 1 20 0 44 0 25 0 7 0 12 0 9 0-161 1 7 0 20 0 34 0 12 0 48 0 4 0 1 0 32 0 27 0-175 1 26 0 36 0 58 0 1 0 2 0 10 0 3 0-131 1 39 0 4 0 99 0-149 1 29 0 1 0 7 0 3 0 3 0 19 0 23 0 25 0 6 0 9 0 19 0 1 0-149 1 1 0 15 0 5 0 2 0 9 0 5 0 69 0 25 0 23 0-145 1 1 0 20 0 11 0 23 0 66 0 16 0 4 0 6 0 5 0 1 0-163 1 16 0 92 0 17 0 29 0-151 1 27 0 10 0 42 0 21 0 34 0 10 0-145 1 20 0 77 0 7 0 17 0 27 0-132 1 1 0 7 0 18 0 29 0 2 0 6 0 8 0 6 0 6 0 7 0 1 0 35 0-144 1 6 0 26 0 35 0 11 0 7 0 2 0 6 0 5 0 8 0 4 0 13 0 21 0-109 1 3 0 9 0 69 0 3 0 21 0 17 0-148 1 4 0 11 0 1 0 11 0 44 0 7 0 12 0 1 0 25 0 5 0 23 0 12 0-132 1 24 0 35 0 10 0 12 0 4 0 3 0 3 0 5 0 12 0-128 1 2 0 27 0 8 0 2 0 14 0 6 0 3 0 27 0 13 0 9 0 29 0-156 1 18 0 13 0 4 0 16 0 16 0 7 0 13 0 12 0 1 0 43 0 7 0 6 0 14 0-149 1 11 0 11 0 14 0 23 0 2 0 9 0 5 0 16 0 4 0 15 0 5 0-126 1 6 0 9 0 33 0 12 0 17 0 5 0 2 0 12 0 5 0 9 0 39 0-156 1 21 0 11 0 3 0 24 0 1 0 29 0 12 0 20 0 6 0 8 0 1 0 6 0-131 1 37 0 30 0 22 0 16 0 6 0 2 0 18 0-132 1 19 0 4 0 7 0 26 0 4 0 17 0 6 0 5 0 2 0 9 0 19 0 14 0 7 0 2 0 9 0-154 1 1 0 13 0 7 0 23 0 44 0 9 0 16 0 18 0 8 0-133 1 2 0 15 0 13 0 3 0 10 0 8 0 13 0 21 0 26 0 2 0 8 0-115 1 25 0 10 0 13 0 18 0 4 0 19 0 4 0-90 1 45 0 14 0 37 0 19 0-119 1 12 0 5 0 12 0 14 0 4 0 1 0 27 0 65 0 5 0-136 1 33 0 12 0 3 0 55 0 15 0-134 1 34 0 18 0 3 0 6 0 45 0-94 1 4 0 10 0 20 0 17 0 31 0 52 0-152 1 15 0 1 0 2 0 9 0 23 0 19 0 24 0 39 0-114 1 9 0 7 0 7 0 22 0 20 0 19 0 35 0 17 0-137 1 31 0 17 0 20 0 35 0 11 0 8 0-120 1 16 0 20 0 5 0 38 0 10 0 28 0-106 1 13 0 5 0 1 0 3 0 36 0 55 0 14 0-144 1 18 0 4 0 3 0 6 0 9 0 15 0 6 0 41 0 22 0-128 1 4 0 8 0 33 0 10 0 5 0 25 0 7 0 56 0-159 1 3 0 10 0 12 0 17 0 1 0 15 0 32 0 49 0-80 1 15 0 39 0 35 0-126 1 7 0 9 0 38 0 15 0 5 0 40 0 16 0-133 1 9 0 21 0 24 0 62 0-96 1 9 0 5 0 1 0 5 0 29 0 9 0 8 0 14 0-106 1 8 0 5 0 10 0 30 0 7 0 76 0 6 0-137 1 9 0 16 0 2 0 79 0-116 1 29 0 1 0 21 0 69 0 2 0-117 1 22 0 7 0 9 0 10 0 43 0 6 0 30 0 6 0-135 1 21 0 5 0 14 0 2 0 16 0 8 0 59 0 4 0 5 0-127 1 14 0 2 0 14 0 49 0 6 0 51 0-120 1 18 0 8 0 1 0 42 0 36 0 19 0-138 1 25 0 45 0-53 1 1 0 16 0 6 0-34 1 38 0-39 1-2 1 14 0 7 0 9 0 4 0 78 0 5 0-148 1 42 0 9 0 67 0 20 0-112 1 4 0 20 0 3 0 9 0 42 0 43 0 8 0-162 1 15 0 15 0 12 0 9 0 2 0 11 0 11 0 12 0 10 0 6 0 4 0 8 0 23 0 1 0 22 0 14 0-157 1 8 0 55 0 3 0 9 0 9 0 72 0 2 0-163 1 19 0 43 0 18 0 16 0 15 0 4 0 4 0 9 0 11 0 11 0-145 1 16 0 12 0 5 0 12 0 4 0 21 0 30 0 3 0 3 0 1 0 7 0 2 0 8 0 37 0-139 1 4 0 1 0 15 0 2 0 41 0 46 0 6 0 3 0 19 0-162 1 10 0 1 0 8 0 4 0 9 0 16 0 10 0 4 0 4 0 8 0 20 0 9 0 2 0 54 0-157 1 23 0 2 0 53 0 20 0 4 0 14 0 12 0 10 0 10 0-154 1 4 0 8 0 48 0 3 0 6 0 2 0 22 0 3 0 30 0 31 0 4 0-158 1 20 0 2 0 11 0 1 0 1 0 7 0 40 0 1 0 30 0 14 0-137 1 14 0 2 0 2 0 82 0 7 0 1 0 58 0 5 0 2 0-144 1 12 0 12 0 14 0 11 0 5 0 44 0 16 0 24 0 1 0-142 1 12 0 1 0 26 0 4 0 13 0 23 0 25 0 30 0-164 1 10 0 12 0 17 0 19 0 30 0 32 0 21 0 22 0 13 0-101 1 49 0 10 0 31 0-164 1 65 0 15 0 44 0 28 0 12 0 3 0 5 0-160 1 28 0 4 0 39 0 35 0 13 0 46 0-172 1 7 0 41 0 17 0 9 0 5 0 3 0 13 0 3 0 10 0 19 0 3 0 3 0 18 0 12 0-162 1 4 0 6 0 4 0 6 0 3 0 11 0 22 0 46 0 10 0 13 0 22 0 6 0 7 0 5 0 5 0-158 1 14 0 7 0 13 0 17 0 4 0 5 0 90 0-160 1 46 0 3 0 26 0 4 0 15 0 1 0 10 0 9 0-118 1 8 0 25 0 6 0 2 0 18 0 4 0 22 0 21 0 5 0 17 0 20 0 3 0 12 0 7 0-154 1 13 0 21 0 2 0 7 0 1 0 3 0 16 0 67 0 1 0 6 0 8 0 3 0 4 0-126 1 30 0 16 0 9 0 26 0 10 0 26 0-165 1 29 0 21 0 12 0 1 0 2 0 13 0 32 0 5 0 7 0 39 0 19 0-173 1 83 0 48 0 3 0 34 0-144 1 24 0 7 0 1 0 4 0 7 0 12 0 26 0 7 0 22 0 16 0 6 0 1 0 15 0-171 1 7 0 20 0 42 0 26 0 19 0 2 0 27 0 4 0-148 1 7 0 5 0 28 0 43 0 6 0 2 0 47 0-134 1 40 0 12 0 21 0 5 0 1 0 8 0 6 0 10 0 19 0 10 0 21 0-112 1 3 0 86 0 1 0 26 0-139 1 10 0 5 0 15 0 17 0 16 0 11 0 20 0 4 0-95 1 35 0 8 0 24 0 32 0 8 0 3 0 8 0 2 0 28 0-177 1 31 0 21 0 4 0 9 0 27 0 2 0 1 0 20 0-85 1 3 0 47 0 2 0 3 0 16 0 19 0 50 0-169 1 6 0 20 0 21 0 9 0 2 0 16 0 16 0 20 0 2 0 17 0-124 1 13 0 5 0 30 0 12 0 8 0 3 0 6 0 3 0 24 0 6 0 4 0 19 0 22 0-148 1 1 0 7 0 18 0 3 0 5 0 42 0 9 0 3 0 16 0 7 0 10 0 6 0 7 0 5 0 12 0 4 0-153 1 74 0 10 0 24 0 39 0 10 0-155 1 2 0 23 0 13 0 17 0 2 0 21 0 27 0 30 0-141 1 33 0 5 0 2 0 6 0 24 0 5 0 15 0-87 1 6 0 15 0 40 0 5 0 10 0 3 0 24 0 23 0 9 0 7 0-119 1 18 0 58 0 25 0 24 0-151 1 13 0 15 0 62 0 12 0 37 0 3 0 1 0 16 0-144 1 21 0 17 0 7 0 47 0 2 0 14 0 6 0 11 0 12 0 10 0-162 1 5 0 11 0 2 0 14 0 15 0 22 0 20 0 5 0 37 0 13 0 6 0 3 0-160 1 5 0 2 0 12 0 21 0 4 0 12 0 38 0 43 0 11 0 20 0 2 0-171 1 22 0 11 0 67 0 70 0-204 1 95 0 15 0 14 0 27 0-121 1 10 0 35 0 6 0 30 0 16 0 7 0 6 0 11 0 1 0 16 0 2 0 37 0-172 1 12 0 12 0 16 0 9 0 11 0 16 0 4 0 5 0 9 0 15 0 6 0 26 0 10 0 9 0 2 0 3 0-175 1 11 0 17 0 19 0 22 0 10 0-79 1 10 0 26 0 37 0 37 0 29 0 7 0 11 0 5 0 7 0 8 0-160 1 3 0 11 0 9 0 40 0 7 0 19 0 2 0 7 0 2 0 8 0 2 0 33 0 19 0 2 0 2 0-207 1 20 0 12 0 9 0 64 0 17 0 22 0 1 0 4 0 3 0 14 0 21 0-187 1 8 0 2 0 19 0 16 0 22 0 15 0 10 0 16 0 53 0 10 0 2 0 26 0-170 1 16 0 2 0 14 0 29 0 16 0 7 0 18 0 14 0 34 0 20 0-195 1 28 0 2 0 9 0 7 0 46 0 4 0 5 0 12 0 9 0 5 0 5 0 23 0 13 0 4 0-127 1 34 0 1 0 38 0 25 0 7 0 16 0 16 0 2 0 1 0-191 1 26 0 45 0 54 0 1 0 28 0 3 0 14 0 2 0 17 0-172 1 4 0 18 0 1 0 4 0 24 0 1 0 30 0 34 0 12 0 53 0 4 0-186 1 27 0 30 0 25 0 15 0 3 0 21 0 12 0 6 0 37 0-146 1 39 0 6 0 5 0 31 0 55 0 15 0-166 1 18 0 14 0 14 0 19 0 3 0 54 0 22 0 14 0 12 0-194 1 18 0 7 0 26 0 22 0 1 0 15 0 8 0 3 0 6 0 10 0 6 0 11 0 11 0 7 0 8 0 10 0-147 1 19 0 22 0 44 0 21 0 10 0 37 0 4 0 1 0 4 0 15 0-182 1 6 0 17 0 34 0 21 0 45 0 31 0 21 0-151 1 49 0-61 1 16 0 1 0 31 0 2 0 39 0 29 0 31 0-180 1 92 0 25 0 21 0 9 0 29 0 4 0 10 0-60 1 47 0 12 0" marker-start="url(#i0)" marker-mid="url(#i0)" marker-end="url(#i0)"/><path d="m1639 1241-30 3 7 2-14 2 38 0-39 1 8 0-7 1 4 0-14 1 16 0 11 0 3 0-28 1 12 0 11 0 8 0-38 1 30 0 5 0 11 0 5 0-15 1 5 0 2 0-43 1 1 0 7 0 4 0 10 0 6 0 21 0-99 1 56 0 7 0 6 0-47 1 38 0 35 0 17 0-54 1 24 0 5 0 9 0 8 0-53 1 9 0 16 0 2 0-43 1 1 0 9 0 8 0 8 0 15 0 4 0 5 0 13 0 2 0 14 0-101 1 33 0 9 0 26 0 1 0 35 0-96 1 18 0 6 0 18 0 4 0 9 0 6 0 5 0 3 0 3 0 1 0-47 1 4 0 19 0 2 0 24 0 3 0 1 0 7 0 8 0-94 1 16 0 15 0 37 0-82 1 30 0 24 0 6 0 20 0 5 0 6 0 9 0-87 1 18 0 15 0 3 0 7 0 3 0 9 0 2 0 9 0 12 0 8 0 1 0 10 0 11 0-78 1 15 0 37 0 6 0 2 0 4 0 4 0-97 1 10 0 7 0 11 0 2 0 4 0 2 0 4 0 9 0 13 0 14 0 4 0 8 0-78 1 1 0 9 0 16 0 6 0 1 0 9 0 14 0 10 0 3 0 7 0 10 0-139 1 42 0 1 0 18 0 26 0 5 0 4 0 13 0 1 0 7 0 6 0 27 0-127 1 8 0 16 0 2 0 1 0 3 0 3 0 11 0 12 0 17 0 6 0 34 0 3 0-108 1 8 0 2 0 11 0 11 0 4 0 9 0 2 0 8 0 26 0 22 0 1 0 6 0-98 1 1 0 7 0 12 0 1 0 4 0 10 0 6 0 34 0 1 0 6 0 2 0 14 0 2 0 4 0-104 1 4 0 4 0 7 0 14 0 6 0 3 0 4 0 3 0 1 0 1 0 7 0 26 0 1 0 3 0 3 0 6 0 5 0 5 0-138 1 27 0 48 0 8 0 3 0 14 0 2 0 8 0 29 0-116 1 5 0 8 0 26 0 7 0 3 0 15 0 9 0 16 0-111 1 17 0 33 0 6 0 21 0 28 0 1 0 23 0 8 0-119 1 19 0 2 0 19 0 17 0 5 0 9 0 17 0 1 0 1 0 22 0-121 1 18 0 3 0 9 0 8 0 41 0 17 0 28 0 2 0-123 1 9 0 6 0 3 0 12 0 3 0 16 0 8 0 6 0 5 0 11 0 9 0 20 0 11 0-131 1 26 0 5 0 6 0 15 0 5 0 1 0 3 0 40 0 2 0 7 0 2 0 7 0 5 0 6 0 1 0 4 0-118 1 24 0 54 0 4 0 7 0 19 0 2 0 6 0-111 1 7 0 5 0 14 0 17 0 49 0 5 0 19 0 1 0-108 1 23 0 67 0 4 0 8 0-115 1 42 0 47 0 2 0 4 0 3 0 3 0 6 0 1 0-105 1 9 0 8 0 5 0 2 0 9 0 9 0 60 0 10 0-136 1 22 0 6 0 2 0 2 0 13 0 7 0 6 0 1 0 62 0 5 0 5 0-117 1 9 0 82 0 29 0 1 0-112 1 4 0 1 0 25 0 4 0 8 0 56 0 4 0 16 0-146 1 8 0 21 0 24 0 15 0 51 0 9 0 3 0 3 0 10 0-148 1 9 0 28 0 22 0 11 0 4 0 38 0 6 0 8 0 8 0 12 0 3 0 5 0-104 1 25 0 49 0 11 0 7 0 4 0 3 0-140 1 40 0 13 0 67 0 1 0 9 0 7 0 9 0-148 1 3 0 1 0 15 0 5 0 10 0 23 0 14 0 30 0 3 0 18 0 1 0 3 0 2 0 11 0 4 0-129 1 16 0 24 0 3 0 40 0 5 0 11 0 4 0 14 0 8 0 1 0 7 0 1 0-134 1 1 0 5 0 6 0 78 0 11 0 19 0-112 1 6 0 4 0 2 0 10 0 14 0 10 0 31 0 9 0 4 0 5 0 1 0 4 0 8 0 4 0 3 0 5 0-138 1 7 0 7 0 1 0 10 0 5 0 7 0 16 0-55 1 23 0 2 0 2 0 39 0 31 0 14 0-111 1 16 0 8 0 32 0 2 0 8 0 33 0 4 0 10 0 3 0 3 0 17 0-127 1 3 0 5 0 5 0 7 0 15 0 30 0 1 0 14 0 21 0 24 0-126 1 5 0 24 0 22 0 4 0 7 0 47 0 7 0 9 0-133 1 7 0 3 0 2 0 4 0 1 0 7 0 5 0 5 0 7 0 5 0 34 0 27 0 21 0 2 0 7 0 1 0-130 1 1 0 8 0 11 0 6 0 7 0 5 0 1 0 1 0 12 0 2 0 13 0 35 0 3 0 6 0 2 0 2 0 3 0 1 0 10 0-137 1 13 0 1 0 30 0 4 0 4 0 22 0 7 0 8 0 13 0 10 0 7 0 7 0 7 0 8 0 2 0-138 1 6 0 2 0 8 0 5 0 4 0 35 0 5 0 15 0 17 0 10 0 12 0 10 0 20 0-150 1 35 0 21 0 25 0 8 0 3 0 8 0 13 0 3 0 16 0 20 0-157 1 3 0 16 0 3 0 4 0 19 0 5 0 4 0 13 0 6 0 25 0 20 0 9 0 9 0-134 1 11 0 29 0 1 0 2 0 8 0 4 0 13 0 2 0 8 0 3 0 7 0 4 0 8 0 7 0 6 0 2 0 14 0 9 0-144 1 18 0 11 0 33 0 17 0 5 0 13 0 20 0 9 0 8 0 8 0-134 1 6 0 1 0 15 0 3 0 4 0 11 0 8 0 25 0 15 0 2 0 4 0 8 0 16 0 2 0 12 0 2 0-101 1 2 0 18 0 16 0 4 0 13 0 20 0 7 0 5 0 1 0 6 0-101 1 20 0 70 0 8 0-123 1 4 0 1 0 19 0 12 0 3 0 1 0 2 0 5 0 17 0 3 0 43 0 8 0 3 0-123 1 2 0 24 0 14 0 21 0 11 0 18 0 17 0 4 0 10 0 17 0-140 1 9 0 20 0 3 0 26 0 2 0 19 0 7 0 12 0 5 0 36 0-146 1 39 0 18 0 6 0 14 0 1 0 3 0 5 0 1 0 13 0 8 0 15 0 8 0 15 0-136 1 6 0 8 0 5 0 17 0 12 0 41 0 9 0 22 0 5 0-128 1 5 0 6 0 4 0 2 0 1 0 7 0 5 0 12 0 7 0 9 0 6 0 15 0 1 0 7 0 1 0 6 0 2 0 1 0 19 0 1 0 4 0-97 1 22 0 5 0 13 0 5 0 2 0 14 0 5 0 12 0 27 0-127 1 3 0 6 0 20 0 27 0 34 0 3 0 5 0 4 0 2 0 13 0 8 0-120 1 2 0 29 0 1 0 26 0 15 0 1 0 6 0 1 0-65 1 21 0 3 0 13 0 17 0 27 0 13 0 8 0-115 1 2 0 2 0 13 0 6 0 25 0 16 0 2 0 4 0 10 0 4 0 9 0 1 0-93 1 21 0 9 0 1 0 4 0 8 0 7 0 9 0 21 0 9 0 25 0 5 0-102 1 6 0 18 0 9 0 3 0 2 0 6 0 1 0 1 0 7 0 18 0 4 0 3 0 13 0 6 0-119 1 7 0 53 0 25 0 12 0-116 1 19 0 12 0 5 0 70 0 27 0 4 0 3 0-119 1 9 0 14 0 6 0 2 0 7 0 3 0 3 0 19 0 34 0 13 0-97 1 17 0 6 0 7 0 3 0 3 0 37 0 5 0 19 0 3 0-126 1 38 0 3 0 17 0 2 0 16 0 48 0-92 1 14 0-45 1 5 0 10 0 8 0 27 0 2 0 14 0 6 0 4 0 46 0 3 0-119 1 9 0 13 0 6 0 15 0 10 0 5 0 3 0 4 0 40 0 12 0-111 1 3 0 16 0 2 0 43 0-71 1 1 0 21 0 11 0 67 0 5 0-93 1 1 0 17 0 17 0 5 0 57 0-93 1 1 0 62 0-78 1 32 0-34 1 27 0 36 0-46 1 6 0 15 0-31 1 6 0 1 0 5 0 0 1 1 0 1 0 2 0 1 0 10 0 38 0-77 1 20 0 30 0 3 0-20 1 2 0 2 0 1 1 8 0-7 1-4 1 3 1 1 0 6 0 61 0-96 1 29 0-22 1 20 1 5 0-41 1 38 0 7 0 1 1 84 0-83 1-13 3-6 1 3 0-24 1 24 0 4 1 57 0-89 1 38 0-37 1 27 0 17 0 4 1-28 9 97 1-15 2 1 1 21 0-116 1 47 0 47 0 45 0-142 1 118 0-24 3-53 1 52 1 36 0-122 3 131 3-141 2 36 0 72 1-119 1 98 0-108 3 152 0-40 3-27 1-85 1 8 0 77 0-4 1-15 2-37 1 2 0 42 0 65 0-64 2 13 0-47 1 32 0-71 2 64 0-29 1 31 0 37 0 60 0-136 1 1 0 100 0 37 0-53 2-69 1 117 1-63 1-59 1 75 0-57 1 82 1-139 2 9 0 1 0 44 0-3 1 109 0-161 1 73 0 33 0-114 5 7 0 167 0 4 0-171 1 115 1-38 1 39 0-120 1 5 0 62 0 55 0-51 1 2 0 43 3 7 0-58 1" marker-start="url(#i1)" marker-mid="url(#i1)" marker-end="url(#i1)"/><path d="m1610 1247-4 2 1 1-13 2 22 0-10 1 2 0 9 0 1 0-21 4 1 0 1 0 14 0-15 1 17 0 20 0 17 0-31 2 10 0-23 1 22 0-23 1 10 0-14 1 8 0 2 0 1 0 7 0 7 0-24 1 1 0 7 0 1 0 15 1 5 0 6 0-52 1 33 0 20 0-35 1 25 0 10 0-83 1 33 0 9 0 5 0 12 0 24 0-84 1 50 0 4 0 16 0 6 0 16 0 19 0-109 1 13 0 7 0 36 0 1 0 21 0 5 0-77 1 12 0 26 0 13 0 13 0-40 1 3 0 24 0 8 0 26 0-76 1 2 0 1 0 7 0 2 0 1 0 61 0 13 0-96 1 16 0 11 0 3 0 8 0 4 0 7 0 2 0 25 0 10 0-88 1 1 0 13 0 10 0 1 0 2 0 33 0 1 0 3 0 13 0 9 0-69 1 3 0 16 0 3 0 2 0 31 0 9 0 5 0-61 1 11 0 22 0 3 0 2 0 23 0 8 0-97 1 13 0 1 0 2 0 4 0 2 0 11 0 21 0 6 0 40 0-118 1 12 0 7 0 9 0 1 0 5 0 17 0-51 1 3 0 5 0 21 0 3 0 3 0 4 0 8 0 28 0 6 0 5 0 2 0 31 0-118 1 34 0 4 0 7 0 31 0 4 0 4 0 3 0 30 0-115 1 45 0 1 0 29 0 8 0 16 0-96 1 14 0 6 0 3 0 10 0 30 0 10 0 3 0 8 0 25 0-102 1 18 0 7 0 32 0 46 0-99 1 13 0 13 0 2 0 4 0 38 0 2 0 4 0 15 0 3 0-93 1 2 0 8 0 8 0 9 0 27 0 3 0 8 0 4 0 3 0 4 0 12 0 4 0-99 1 4 0 64 0 5 0 24 0 4 0-107 1 21 0 5 0 8 0 4 0 4 0 1 0 34 0 6 0 3 0-113 1 39 0 1 0 6 0 3 0 4 0 6 0 31 0 7 0 7 0 3 0 6 0 18 0-101 1 7 0 15 0 1 0 11 0 38 0 6 0 1 0 6 0 19 0 6 0-142 1 2 0 32 0 2 0 1 0 7 0 18 0 39 0 12 0 21 0 14 0-117 1 14 0 2 0 5 0 11 0 3 0 38 0 24 0 15 0-126 1 1 0 13 0 9 0 8 0 1 0 5 0 10 0 22 0 4 0 13 0 10 0-95 1 11 0 1 0 10 0 18 0 45 0 1 0 11 0 20 0-135 1 5 0 1 0 3 0 10 0 22 0 10 0 6 0 8 0 1 0 10 0 17 0 3 0 14 0-90 1 20 0 1 0 27 0 1 0 3 0 24 0 3 0 14 0 2 0 27 0-124 1 21 0 24 0 3 0 3 0 9 0 16 0 10 0 3 0 8 0 22 0-115 1 16 0 38 0 23 0-66 1 7 0 5 0 10 0 2 0 6 0 3 0 15 0 22 0 31 0 1 0-92 1 1 0 13 0 7 0 13 0 17 0 15 0 1 0 9 0-99 1 44 0 1 0 7 0 7 0 10 0 5 0 9 0 15 0 1 0-53 1 6 0 23 0 4 0 12 0-107 1 39 0 1 0 2 0 2 0 7 0 11 0 54 0 2 0 4 0-50 1 8 0 11 0 9 0 8 0 33 0-132 1 1 0 21 0 22 0 3 0 8 0 5 0 12 0 38 0-87 1 11 0 41 0 3 0 20 0 1 0 1 0-75 1 10 0 11 0 1 0 23 0 7 0 7 0 3 0 2 0 6 0-76 1 30 0 7 0 51 0 20 0-133 1 23 0 20 0 3 0 8 0 7 0 27 0 1 0 4 0 25 0 15 0-135 1 24 0 22 0 74 0-119 1 17 0 7 0 11 0 56 0 16 0 2 0 17 0-23 1 6 0 5 0 19 0-129 1 5 0 18 0 29 0 23 0 30 0-107 1 24 0 3 0 9 0 11 0 2 0 3 0-56 1 6 0 22 0 11 0 3 0 7 0 3 0 2 0 10 0 10 0 6 0 33 0 3 0-116 1 1 0 4 0 32 0 14 0 12 0 8 0 8 0 12 0-90 1 30 0 4 0 15 0 23 0 1 0 6 0 1 0 37 0-87 1 26 0 3 0 3 0 13 0 1 0 5 0 14 0 2 0 22 0 16 0-113 1 6 0 2 0 24 0 10 0 1 0 19 0 18 0-71 1 12 0 23 0 1 0 14 0 3 0-54 1 24 0 4 0 36 0 23 0 5 0 2 0 1 0-117 1 37 0 10 0 27 0 15 0 3 0 18 0 5 0-116 1 29 0 22 0 10 0 28 0 29 0-85 1 39 0 38 0 2 0 1 0 3 0 3 0-120 1 4 0 21 0 2 0 5 0 12 0 8 0 9 0 12 0 23 0-68 1 2 0 61 0 1 0 6 0-69 1 8 0 4 0 26 0 1 0 44 0 4 0-79 1 3 0-17 1 5 0 54 0 20 0-88 1 23 0 4 0 3 0 1 0 33 0 29 0 2 0-100 1 26 0 13 0 16 0 15 0-47 2 64 0-74 1-2 1 19 0-24 6-5 4 81 29-34 31-17 5-7 23" marker-start="url(#i2)" marker-mid="url(#i2)" marker-end="url(#i2)"/><path d="m1590 1250 45 10-3 1 4 0-17 2 14 0-25 1 8 0 1 0 12 0 5 0-7 1 6 0 1 0-20 1 2 0 1 0 21 0-38 1 13 0 1 0 37 0-45 1 1 0-2 1 7 0 2 0 21 0-39 1 3 0 7 0 4 0 3 0-49 1 23 0 4 0 2 0 8 0-14 1-3 1 18 0 38 0-79 1 14 0 18 0 21 0 2 0-35 1 2 0 36 0 4 0 26 0-87 1 40 0 5 0 8 0 1 0 2 0 4 0-57 1 11 0 4 0 1 0 8 0 10 0 1 0 6 0 7 0 1 0 2 0 1 0 7 0-9 1 3 0 3 0-58 1 18 0 12 0 5 0 9 0 9 0 2 0-56 1 15 0 14 0 2 0 10 0 16 0-42 1 23 0 6 0 3 0 1 0 3 0 2 0 2 0-72 1 6 0 20 0 2 0 18 0 1 0 2 0 2 0 3 0 11 0-27 1 8 0 23 0 1 0 1 0-40 1 26 0 6 0 2 0 4 0 1 0 18 0 22 0-87 1 6 0 1 0 4 0 13 0 5 0 29 0 2 0 23 0-87 1 3 0 6 0 35 0 2 0 1 0 1 0 2 0 2 0 7 0 1 0 3 0 27 0-85 1 24 0 2 0 25 0 6 0 1 0 6 0 3 0-77 1 2 0 2 0 15 0 1 0 1 0 7 0 4 0 13 0 2 0 3 0 4 0 10 0-62 1 4 0 4 0 23 0 17 0 3 0 4 0 1 0 4 0 1 0 29 0-96 1 2 0 3 0 7 0 12 0 2 0 6 0 3 0 19 0 4 0 6 0 3 0 1 0-56 1 7 0 7 0 8 0 2 0 1 0 14 0 1 0 10 0 26 0 8 0-96 1 1 0 8 0 18 0 8 0 8 0 6 0 3 0 4 0 1 0 2 0 4 0-65 1 2 0 36 0 20 0 18 0-81 1 5 0 3 0 2 0 2 0 3 0 16 0 1 0 16 0 7 0 3 0 2 0 3 0 6 0 14 0 1 0 2 0 23 0-94 1 10 0 10 0 24 0 10 0-62 1 11 0 22 0 8 0 1 0 1 0 20 0 7 0-77 1 9 0 2 0 4 0 12 0 12 0 6 0 15 0 23 0-76 1 7 0 5 0 1 0 1 0 1 0 6 0 7 0 12 0 6 0 5 0 21 0-61 1 11 0 7 0 4 0 4 0 1 0 5 0 5 0 4 0 7 0 10 0-61 1 5 0 3 0 8 0 1 0 12 0 11 0 3 0 2 0 1 0 1 0 6 0 1 0 35 0-90 1 10 0 2 0 27 0 5 0 7 0 1 0 5 0 3 0-87 1 13 0 13 0 4 0 13 0 18 0 5 0 2 0 6 0 2 0 15 0-49 1 23 0 9 0-46 1 8 0 1 0 7 0 4 0 6 0 12 0 7 0 1 0 1 0 4 0 23 0-66 1 3 0 1 0 3 0 1 0 11 0 17 0 18 0 8 0 5 0-73 1 4 0 3 0 8 0 56 0-93 1 10 0 20 0 5 0 39 0 13 0-81 1 5 0 59 0 11 0 19 0-120 1 27 0 4 0 1 0 18 0 19 0 33 0 10 0-106 1 20 0 1 0 18 0 4 1 29 0 30 0 4 0-64 1-20 1 1 0 16 0 3 0 60 0-84 1 84 0-50 1-57 1 4 0 22 0 9 0 30 0-61 1 42 0 23 0-43 1 28 0 13 0 7 1 9 0-24 1 10 0 7 0 8 0-29 1 26 0-77 1 50 0 2 0 5 0 36 1-59 2 1 0 16 0 1 0 40 0-61 1 2 0 83 0-84 1 36 0 2 0 24 0-61 1 1 0 1 0 2 0 7 0-7 2-28 10 13 1" marker-start="url(#i3)" marker-mid="url(#i3)" marker-end="url(#i3)"/><path d="m1634 1260-8 4 6 0-8 4-34 2 30 0-32 2 26 0-14 2 6 2 16 0-50 2 20 0 4 0 2 0 6 0-10 2 2 0 2 0 4 0 2 0 2 0 2 0 4 0-48 2 14 0 4 0 12 0 2 0 2 0 4 0 2 0 6 0 6 0 2 0-28 2 4 0 10 0 2 0 2 0 4 0 2 0 2 0 10 0 2 0-66 2 30 0 4 0 8 0 2 0 6 0 2 0 16 0 4 0 16 0-90 2 6 0 18 0 6 0 2 0 2 0 8 0 2 0 6 0 2 0 6 0-60 2 4 0 32 0 2 0 6 0 8 0 4 0 2 0 6 0-66 2 8 0 14 0 10 0 4 0 2 0 6 0 2 0 8 0-46 2 12 0 8 0 6 0 6 0 2 0 2 0 2 0 10 0 4 0 2 0-54 2 2 0 2 0 2 0 2 0 12 0 12 0 6 0 6 0 4 0-50 2 4 0 2 0 8 0 16 0 2 0 2 0 2 0 2 0 2 0 2 0 2 0 2 0 18 0-60 2 6 0 18 0 8 0 10 0 2 0 8 0-50 2 8 0 28 0 6 0-58 2 24 0 26 0-28 2 2 0 26 0 2 0 6 0 2 0-52 8 10 0 28 2 18 4 2 2-52 2-8 2" marker-start="url(#i4)" marker-mid="url(#i4)" marker-end="url(#i4)"/><path d="m1612 1270 6 4-24 4-22 2 22 0 10 0-40 2 28 0 6 0 2 0 2 0-6 2 2 0 4 0 2 0 8 0 14 0-30 2 2 0 4 0 6 0 2 0-42 2 28 0 2 0 2 0 2 0 8 0-18 2 4 0 2 0 2 0 4 0-12 2 2 0 8 0 14 0-22 2 2 0 4 0 20 0-22 2 2 0 2 0-30 2 28 0 2 0 6 2-18 2 12 4-40 20 4 2" marker-start="url(#i5)" marker-mid="url(#i5)" marker-end="url(#i5)"/><path d="m1604 1278-6 4 2 0 8 0-14 2 4 0 2 0 2 0-4 2 2 0-4 2 2 0-2 2 2 0 2 0 2 2-10 2 6 0 16 0-14 2 2 4-28 2" marker-start="url(#i6)" marker-mid="url(#i6)" marker-end="url(#i6)"/><path d="m1596 1280 8 2-4 2-2 2 2 0 12 2-14 4" marker-start="url(#i7)" marker-mid="url(#i7)" marker-end="url(#i7)"/><path d="m1598 1284 2 0 2 0-6 2 2 0 2 0-4 2 6 0" marker-start="url(#i8)" marker-mid="url(#i8)" marker-end="url(#i8)"/></g><rect x="1404.6" y="1182.8" width="324.3" height="337" fill="none" stroke="#9a9a9a" stroke-width="1.2"/><path d="M1572.7 1182.8V1519.8M1404.6 1367H1728.9" stroke="#111" stroke-width="2"/><path d="M1395.6 1213.7h9M1395.6 1294.2h9M1395.6 1386.8h9M1395.6 1497.7h9M1396.6 1442.7h8M1396.6 1444.2h8M1396.6 1445.7h8M1396.6 1447.2h8M1396.6 1448.7h8" stroke="#222" stroke-width="1.8" fill="none"/><path d="M1400.1 1358.9h4.5M1400.1 1342.6h4.5M1400.1 1331h4.5M1400.1 1322.1h4.5M1400.1 1314.7h4.5M1400.1 1308.5h4.5M1400.1 1303.2h4.5M1400.1 1298.4h4.5M1400.1 1270h4.5M1400.1 1255.8h4.5M1400.1 1245.7h4.5M1400.1 1237.9h4.5M1400.1 1231.6h4.5M1400.1 1226.2h4.5M1400.1 1221.5h4.5M1400.1 1217.4h4.5M1400.1 1189.5h4.5M1400.1 1397.4h4.5M1400.1 1406.2h4.5M1400.1 1413.3h4.5M1400.1 1419.8h4.5M1400.1 1425.7h4.5M1400.1 1431h4.5M1400.1 1435.7h4.5M1400.1 1439.8h4.5M1400.1 1488.9h4.5M1400.1 1480h4.5M1400.1 1471.7h4.5M1400.1 1464.4h4.5M1400.1 1457.1h4.5M1400.1 1450.9h4.5" stroke="#222" stroke-width="1.1" fill="none"/><text x="1372.5" y="1223.7" font-size="12" textLength="9.5" lengthAdjust="spacingAndGlyphs" fill="#333">.0</text><text x="1382" y="1212.7" font-size="10.5" textLength="7" lengthAdjust="spacingAndGlyphs" fill="#333">5</text><text x="1372.5" y="1304.2" font-size="12" textLength="9.5" lengthAdjust="spacingAndGlyphs" fill="#333">.0</text><text x="1382.2" y="1293.2" font-size="10.5" textLength="6.6" lengthAdjust="spacingAndGlyphs" fill="#333">4</text><text x="1372.5" y="1396.8" font-size="12" textLength="9.5" lengthAdjust="spacingAndGlyphs" fill="#333">.0</text><text x="1382" y="1385.8" font-size="10.5" textLength="7" lengthAdjust="spacingAndGlyphs" fill="#333">3</text><text x="1374.8" y="1451.5" font-size="12" textLength="9.3" lengthAdjust="spacingAndGlyphs" fill="#333">0</text><text x="1374.5" y="1507" font-size="12" textLength="7.6" lengthAdjust="spacingAndGlyphs" fill="#333">0</text><text x="1382" y="1495" font-size="10.5" textLength="7" lengthAdjust="spacingAndGlyphs" fill="#333">3</text><path d="M1441 1519.8v9M1502 1519.8v9M1562.6 1519.8v9M1622.9 1519.8v9M1684 1519.8v9" stroke="#222" stroke-width="2" fill="none"/><path d="M1459.4 1519.8v5M1470.1 1519.8v5M1477.7 1519.8v5M1483.6 1519.8v5M1488.5 1519.8v5M1492.6 1519.8v5M1496.1 1519.8v5M1499.2 1519.8v5M1409.1 1519.8v5M1416.7 1519.8v5M1422.6 1519.8v5M1427.5 1519.8v5M1431.6 1519.8v5M1435.1 1519.8v5M1438.2 1519.8v5M1520.2 1519.8v5M1530.9 1519.8v5M1538.5 1519.8v5M1544.4 1519.8v5M1549.2 1519.8v5M1553.2 1519.8v5M1556.7 1519.8v5M1559.8 1519.8v5M1580.8 1519.8v5M1591.4 1519.8v5M1598.9 1519.8v5M1604.7 1519.8v5M1609.5 1519.8v5M1613.6 1519.8v5M1617.1 1519.8v5M1620.1 1519.8v5M1641.3 1519.8v5M1652.1 1519.8v5M1659.7 1519.8v5M1665.6 1519.8v5M1670.4 1519.8v5M1674.5 1519.8v5M1678.1 1519.8v5M1681.2 1519.8v5M1702.4 1519.8v5M1713.2 1519.8v5M1720.8 1519.8v5M1726.7 1519.8v5" stroke="#222" stroke-width="1.1" fill="none"/><text x="1439.6" y="1555.1" font-size="14.6" textLength="16.1" lengthAdjust="spacingAndGlyphs" fill="#222">10</text><text x="1455.4" y="1543.2" font-size="14.7" textLength="6.5" lengthAdjust="spacingAndGlyphs" fill="#222">1</text><text x="1500.6" y="1555.1" font-size="14.6" textLength="16.1" lengthAdjust="spacingAndGlyphs" fill="#222">10</text><text x="1516.5" y="1543.2" font-size="14.5" textLength="8.4" lengthAdjust="spacingAndGlyphs" fill="#222">2</text><text x="1561.2" y="1555.1" font-size="14.6" textLength="16.1" lengthAdjust="spacingAndGlyphs" fill="#222">10</text><text x="1577.3" y="1543.2" font-size="14.5" textLength="8.1" lengthAdjust="spacingAndGlyphs" fill="#222">3</text><text x="1621.5" y="1555.1" font-size="14.6" textLength="16.1" lengthAdjust="spacingAndGlyphs" fill="#222">10</text><text x="1637.9" y="1543.2" font-size="14.7" textLength="7.6" lengthAdjust="spacingAndGlyphs" fill="#222">4</text><text x="1682.6" y="1555.1" font-size="14.6" textLength="16.1" lengthAdjust="spacingAndGlyphs" fill="#222">10</text><text x="1698.7" y="1543.2" font-size="14.7" textLength="8.1" lengthAdjust="spacingAndGlyphs" fill="#222">5</text><text x="1502.7" y="1170.8" font-size="30.5" textLength="143.8" lengthAdjust="spacingAndGlyphs" fill="#000">MLN4924</text><text x="1416" y="1207.4" font-size="22" font-weight="bold" textLength="33.5" lengthAdjust="spacingAndGlyphs" fill="#000">Q1</text><text x="1408.4" y="1240.4" font-size="22" font-weight="bold" textLength="50.4" lengthAdjust="spacingAndGlyphs" fill="#000">21.9</text><text x="1672.5" y="1207.4" font-size="22" font-weight="bold" textLength="34.1" lengthAdjust="spacingAndGlyphs" fill="#000">Q2</text><text x="1664.2" y="1240.4" font-size="22" font-weight="bold" textLength="50.5" lengthAdjust="spacingAndGlyphs" fill="#000">62.9</text><text x="1421.2" y="1477" font-size="22" font-weight="bold" textLength="32.9" lengthAdjust="spacingAndGlyphs" fill="#000">Q4</text><text x="1412.8" y="1510" font-size="22" font-weight="bold" textLength="50.2" lengthAdjust="spacingAndGlyphs" fill="#000">4.95</text><text x="1681.6" y="1477" font-size="22" font-weight="bold" textLength="33.6" lengthAdjust="spacingAndGlyphs" fill="#000">Q3</text><text x="1673.2" y="1510" font-size="22" font-weight="bold" textLength="50.8" lengthAdjust="spacingAndGlyphs" fill="#000">10.2</text><defs><filter id="fb" filterUnits="userSpaceOnUse" x="0" y="1600" width="1771" height="400"><feGaussianBlur stdDeviation="1.05"/></filter><filter id="fb2" filterUnits="userSpaceOnUse" x="900" y="1700" width="871" height="300"><feGaussianBlur stdDeviation="1.3"/></filter><filter id="ng1" x="0" y="0" width="100%" height="100%" color-interpolation-filters="sRGB"><feTurbulence type="fractalNoise" baseFrequency="0.12" numOctaves="2" seed="4"/><feColorMatrix values="0.22 0 0 0 -0.02  0 0.1 0 0 -0.03  0 0 0.03 0 -0.01  0 0 0 0 1"/><feComposite operator="in" in2="SourceGraphic"/></filter><filter id="ng2" x="0" y="0" width="100%" height="100%" color-interpolation-filters="sRGB"><feTurbulence type="fractalNoise" baseFrequency="0.12" numOctaves="2" seed="9"/><feColorMatrix values="0.22 0 0 0 -0.02  0 0.1 0 0 -0.03  0 0 0.03 0 -0.01  0 0 0 0 1"/><feComposite operator="in" in2="SourceGraphic"/></filter><filter id="nh1" x="0" y="0" width="100%" height="100%" color-interpolation-filters="sRGB"><feTurbulence type="fractalNoise" baseFrequency="0.25 0.06" numOctaves="2" seed="5"/><feColorMatrix values="0.2 0 0 0 0.075  0 0.17 0 0 0.068  0 0 0.05 0 0.02  0 0 0 0 1"/><feComposite operator="in" in2="SourceGraphic"/></filter><filter id="nh2" x="0" y="0" width="100%" height="100%" color-interpolation-filters="sRGB"><feTurbulence type="fractalNoise" baseFrequency="0.25 0.06" numOctaves="2" seed="12"/><feColorMatrix values="0.2 0 0 0 0.075  0 0.17 0 0 0.068  0 0 0.05 0 0.02  0 0 0 0 1"/><feComposite operator="in" in2="SourceGraphic"/></filter><linearGradient id="gr1" gradientUnits="userSpaceOnUse" x1="134" y1="0" x2="251" y2="0"><stop offset="0.000" stop-color="#3ee03a"/><stop offset="1.000" stop-color="#3ee03a"/></linearGradient><linearGradient id="gr2" gradientUnits="userSpaceOnUse" x1="241" y1="0" x2="275" y2="0"><stop offset="0.000" stop-color="#3ee03a"/><stop offset="1.000" stop-color="#3ee03a"/></linearGradient><linearGradient id="gr3" gradientUnits="userSpaceOnUse" x1="309.5" y1="0" x2="546.7" y2="0"><stop offset="0.000" stop-color="#3ee03a"/><stop offset="0.390" stop-color="#3ee03a"/><stop offset="0.415" stop-color="#ff3214"/><stop offset="1.000" stop-color="#ff3214"/></linearGradient><linearGradient id="gr4" gradientUnits="userSpaceOnUse" x1="557" y1="0" x2="734" y2="0"><stop offset="0.000" stop-color="#ff3214"/><stop offset="0.492" stop-color="#ff5a1e"/><stop offset="0.525" stop-color="#3ee03a"/><stop offset="1.000" stop-color="#3ee03a"/></linearGradient><linearGradient id="gr5" gradientUnits="userSpaceOnUse" x1="772.5" y1="0" x2="915.5" y2="0"><stop offset="0.000" stop-color="#3ee03a"/><stop offset="0.591" stop-color="#3ee03a"/><stop offset="0.626" stop-color="#ff3214"/><stop offset="1.000" stop-color="#ff3214"/></linearGradient><linearGradient id="gr6" gradientUnits="userSpaceOnUse" x1="588" y1="0" x2="730.4" y2="0"><stop offset="0.000" stop-color="#3ee03a"/><stop offset="0.471" stop-color="#3ee03a"/><stop offset="0.506" stop-color="#ff3214"/><stop offset="1.000" stop-color="#ff3214"/></linearGradient><linearGradient id="gr7" gradientUnits="userSpaceOnUse" x1="159.7" y1="0" x2="196.3" y2="0"><stop offset="0.000" stop-color="#ff3214"/><stop offset="0.500" stop-color="#f0c020"/><stop offset="0.773" stop-color="#3ee03a"/><stop offset="1.000" stop-color="#3ee03a"/></linearGradient><linearGradient id="gr8" gradientUnits="userSpaceOnUse" x1="283.5" y1="0" x2="336.7" y2="0"><stop offset="0.000" stop-color="#ff3214"/><stop offset="0.404" stop-color="#ff8020"/><stop offset="0.536" stop-color="#3ee03a"/><stop offset="1.000" stop-color="#3ee03a"/></linearGradient><linearGradient id="gr9" gradientUnits="userSpaceOnUse" x1="386.2" y1="0" x2="412.2" y2="0"><stop offset="0.000" stop-color="#3ee03a"/><stop offset="0.608" stop-color="#3ee03a"/><stop offset="1.000" stop-color="#ff8020"/></linearGradient><linearGradient id="gr10" gradientUnits="userSpaceOnUse" x1="321.8" y1="0" x2="346.6" y2="0"><stop offset="0.000" stop-color="#ff3214"/><stop offset="0.411" stop-color="#ff3214"/><stop offset="0.573" stop-color="#3ee03a"/><stop offset="1.000" stop-color="#3ee03a"/></linearGradient><linearGradient id="gr11" gradientUnits="userSpaceOnUse" x1="481.5" y1="0" x2="531" y2="0"><stop offset="0.000" stop-color="#ddc030"/><stop offset="0.374" stop-color="#ff8020"/><stop offset="0.677" stop-color="#ff3214"/><stop offset="0.879" stop-color="#ff3214"/><stop offset="1.000" stop-color="#3ee03a"/></linearGradient><linearGradient id="gr12" gradientUnits="userSpaceOnUse" x1="451.8" y1="0" x2="556" y2="0"><stop offset="0.000" stop-color="#3ee03a"/><stop offset="0.463" stop-color="#a0d030"/><stop offset="0.750" stop-color="#f0c020"/><stop offset="1.000" stop-color="#e0a030"/></linearGradient><linearGradient id="gr13" gradientUnits="userSpaceOnUse" x1="586.8" y1="0" x2="690.8" y2="0"><stop offset="0.000" stop-color="#ff8020"/><stop offset="0.319" stop-color="#f0c020"/><stop offset="0.415" stop-color="#3ee03a"/><stop offset="1.000" stop-color="#3ee03a"/></linearGradient><linearGradient id="gr14" gradientUnits="userSpaceOnUse" x1="621.5" y1="0" x2="650.7" y2="0"><stop offset="0.000" stop-color="#ff8020"/><stop offset="0.360" stop-color="#3ee03a"/><stop offset="1.000" stop-color="#3ee03a"/></linearGradient><linearGradient id="gr15" gradientUnits="userSpaceOnUse" x1="773.7" y1="0" x2="815.8" y2="0"><stop offset="0.000" stop-color="#ff3214"/><stop offset="0.387" stop-color="#f0c020"/><stop offset="0.577" stop-color="#3ee03a"/><stop offset="1.000" stop-color="#3ee03a"/></linearGradient><linearGradient id="gr16" gradientUnits="userSpaceOnUse" x1="799.7" y1="0" x2="839.3" y2="0"><stop offset="0.000" stop-color="#ff3214"/><stop offset="0.386" stop-color="#f0c020"/><stop offset="0.563" stop-color="#3ee03a"/><stop offset="1.000" stop-color="#3ee03a"/></linearGradient><linearGradient id="gr17" gradientUnits="userSpaceOnUse" x1="985.7" y1="0" x2="1123.5" y2="0"><stop offset="0.000" stop-color="#c02010"/><stop offset="0.104" stop-color="#ff3214"/><stop offset="0.321" stop-color="#ff7020"/><stop offset="0.430" stop-color="#e0d040"/><stop offset="0.539" stop-color="#b8e030"/><stop offset="1.000" stop-color="#90e040"/></linearGradient><linearGradient id="gr18" gradientUnits="userSpaceOnUse" x1="1223.8" y1="0" x2="1354.7" y2="0"><stop offset="0.000" stop-color="#90e040"/><stop offset="0.468" stop-color="#b8e030"/><stop offset="0.582" stop-color="#ffa030"/><stop offset="0.735" stop-color="#ff3214"/><stop offset="1.000" stop-color="#d02010"/></linearGradient><linearGradient id="gr19" gradientUnits="userSpaceOnUse" x1="1072" y1="0" x2="1275.3" y2="0"><stop offset="0.000" stop-color="#c02010"/><stop offset="0.064" stop-color="#ff3214"/><stop offset="0.261" stop-color="#ff6020"/><stop offset="0.300" stop-color="#d8e040"/><stop offset="0.654" stop-color="#b8e030"/><stop offset="0.679" stop-color="#ffa030"/><stop offset="0.738" stop-color="#ff3214"/><stop offset="1.000" stop-color="#ff2010"/></linearGradient><linearGradient id="gr20" gradientUnits="userSpaceOnUse" x1="1397.3" y1="0" x2="1532.5" y2="0"><stop offset="0.000" stop-color="#801008"/><stop offset="0.220" stop-color="#ff3214"/><stop offset="0.538" stop-color="#ff7020"/><stop offset="0.656" stop-color="#f0d040"/><stop offset="0.700" stop-color="#b8e030"/><stop offset="1.000" stop-color="#90e040"/></linearGradient><linearGradient id="gr21" gradientUnits="userSpaceOnUse" x1="1664" y1="0" x2="1745.9" y2="0"><stop offset="0.000" stop-color="#90e040"/><stop offset="0.317" stop-color="#b8e030"/><stop offset="0.440" stop-color="#ffa030"/><stop offset="0.623" stop-color="#ff3214"/><stop offset="1.000" stop-color="#b01808"/></linearGradient><linearGradient id="gr22" gradientUnits="userSpaceOnUse" x1="1490.3" y1="0" x2="1670.2" y2="0"><stop offset="0.000" stop-color="#d02010"/><stop offset="0.082" stop-color="#ff3214"/><stop offset="0.387" stop-color="#ff6020"/><stop offset="0.454" stop-color="#d0e040"/><stop offset="0.832" stop-color="#b8e030"/><stop offset="0.877" stop-color="#ff3214"/><stop offset="1.000" stop-color="#ff3214"/></linearGradient></defs><rect x="133.7" y="1767.9" width="781.8" height="94.5" fill="#1a0503"/><rect x="133.7" y="1767.9" width="781.8" height="94.5" fill="#000" filter="url(#ng1)"/><rect x="133" y="1870.6" width="783.8" height="91.9" fill="#1a0503"/><rect x="133" y="1870.6" width="783.8" height="91.9" fill="#000" filter="url(#ng2)"/><path d="M134 1784L251 1789.5" stroke="url(#gr1)" stroke-width="3.6" stroke-linecap="round" filter="url(#fb)"/><path d="M241 1796L275 1796.5" stroke="url(#gr2)" stroke-width="3.1" stroke-linecap="round" filter="url(#fb)"/><path d="M309.5 1791L546.7 1795.5" stroke="url(#gr3)" stroke-width="3.8000000000000003" stroke-linecap="round" filter="url(#fb)"/><path d="M557 1797L734 1799" stroke="url(#gr4)" stroke-width="3.8000000000000003" stroke-linecap="round" filter="url(#fb)"/><path d="M772.5 1799.5L915.5 1800.2" stroke="url(#gr5)" stroke-width="4.0" stroke-linecap="round" filter="url(#fb)"/><path d="M588 1842.4L730.4 1844.7" stroke="url(#gr6)" stroke-width="3.6" stroke-linecap="round" filter="url(#fb)"/><circle cx="248.8" cy="1771.9" r="3" fill="#3ee03a" filter="url(#fb)"/><circle cx="585" cy="1818.2" r="3.5" fill="#3ee03a" filter="url(#fb)"/><circle cx="670.5" cy="1826.8" r="3" fill="#3ee03a" filter="url(#fb)"/><circle cx="738.3" cy="1814.5" r="3" fill="#3ee03a" filter="url(#fb)"/><circle cx="567" cy="1812.7" r="2" fill="#3ee03a" filter="url(#fb)"/><circle cx="595.5" cy="1835.5" r="2.2" fill="#3ee03a" filter="url(#fb)"/><circle cx="528.7" cy="1854.8" r="2.2" fill="#3ee03a" filter="url(#fb)"/><circle cx="544.8" cy="1851.1" r="2.2" fill="#3ee03a" filter="url(#fb)"/><circle cx="789.3" cy="1848.6" r="2.2" fill="#3ee03a" filter="url(#fb)"/><circle cx="798" cy="1852.8" r="2" fill="#3ee03a" filter="url(#fb)"/><circle cx="166" cy="1798" r="2.2" fill="#3ee03a" filter="url(#fb)"/><circle cx="232" cy="1799" r="1.8" fill="#3ee03a" filter="url(#fb)"/><circle cx="237" cy="1810" r="1.8" fill="#3ee03a" filter="url(#fb)"/><circle cx="224" cy="1810" r="1.6" fill="#3ee03a" filter="url(#fb)"/><circle cx="460" cy="1831" r="2.2" fill="#3ee03a" filter="url(#fb)"/><circle cx="495" cy="1838" r="2" fill="#3ee03a" filter="url(#fb)"/><circle cx="857" cy="1836" r="2" fill="#3ee03a" filter="url(#fb)"/><circle cx="893" cy="1838" r="2" fill="#3ee03a" filter="url(#fb)"/><circle cx="910" cy="1853" r="1.6" fill="#3ee03a" filter="url(#fb)"/><circle cx="421" cy="1813" r="1.6" fill="#3ee03a" filter="url(#fb)"/><circle cx="473" cy="1821" r="1.6" fill="#3ee03a" filter="url(#fb)"/><circle cx="860" cy="1822" r="1.6" fill="#3ee03a" filter="url(#fb)"/><circle cx="690" cy="1790" r="1.5" fill="#3ee03a" filter="url(#fb)"/><circle cx="882" cy="1813" r="2.2" fill="#3ee03a" filter="url(#fb)"/><circle cx="890" cy="1820" r="2" fill="#3ee03a" filter="url(#fb)"/><path d="M159.7 1916L196.3 1916" stroke="url(#gr7)" stroke-width="4.0" stroke-linecap="round" filter="url(#fb)"/><path d="M283.5 1888.2L336.7 1888" stroke="url(#gr8)" stroke-width="4.0" stroke-linecap="round" filter="url(#fb)"/><path d="M386.2 1888L412.2 1888" stroke="url(#gr9)" stroke-width="4.0" stroke-linecap="round" filter="url(#fb)"/><path d="M321.8 1927.8L346.6 1927.8" stroke="url(#gr10)" stroke-width="3.6" stroke-linecap="round" filter="url(#fb)"/><path d="M481.5 1908.5L531 1908.5" stroke="url(#gr11)" stroke-width="4.0" stroke-linecap="round" filter="url(#fb)"/><path d="M451.8 1934L556 1934" stroke="url(#gr12)" stroke-width="3.6" stroke-linecap="round" filter="url(#fb)"/><path d="M586.8 1931.5L690.8 1930.3" stroke="url(#gr13)" stroke-width="3.8000000000000003" stroke-linecap="round" filter="url(#fb)"/><path d="M621.5 1956.3L650.7 1956.3" stroke="url(#gr14)" stroke-width="3.6" stroke-linecap="round" filter="url(#fb)"/><path d="M773.7 1884.5L815.8 1884.5" stroke="url(#gr15)" stroke-width="4.2" stroke-linecap="round" filter="url(#fb)"/><path d="M799.7 1917.2L839.3 1917.2" stroke="url(#gr16)" stroke-width="4.2" stroke-linecap="round" filter="url(#fb)"/><circle cx="606.6" cy="1951.8" r="3.2" fill="#ff8020" filter="url(#fb)"/><circle cx="679.2" cy="1896.6" r="2.5" fill="#3ee03a" filter="url(#fb)"/><circle cx="840.5" cy="1927" r="2.5" fill="#3ee03a" filter="url(#fb)"/><circle cx="597.5" cy="1879.6" r="2" fill="#3ee03a" filter="url(#fb)"/><circle cx="711" cy="1916.4" r="2" fill="#3ee03a" filter="url(#fb)"/><circle cx="876" cy="1907.3" r="2" fill="#3ee03a" filter="url(#fb)"/><circle cx="850.4" cy="1953.8" r="2.2" fill="#3ee03a" filter="url(#fb)"/><circle cx="443" cy="1936" r="3" fill="#3ee03a" filter="url(#fb)"/><circle cx="470.8" cy="1923.6" r="2.5" fill="#3ee03a" filter="url(#fb)"/><circle cx="160" cy="1922" r="2.3" fill="#3ee03a" filter="url(#fb)"/><circle cx="207" cy="1904" r="2.5" fill="#3ee03a" filter="url(#fb)"/><circle cx="253" cy="1917" r="1.8" fill="#3ee03a" filter="url(#fb)"/><circle cx="248" cy="1900" r="1.6" fill="#3ee03a" filter="url(#fb)"/><circle cx="535" cy="1920" r="1.6" fill="#3ee03a" filter="url(#fb)"/><circle cx="565" cy="1880" r="1.6" fill="#3ee03a" filter="url(#fb)"/><circle cx="784" cy="1940" r="1.6" fill="#3ee03a" filter="url(#fb)"/><circle cx="655" cy="1935" r="2" fill="#3ee03a" filter="url(#fb)"/><circle cx="382" cy="1921" r="1.6" fill="#3ee03a" filter="url(#fb)"/><circle cx="304" cy="1928" r="1.6" fill="#3ee03a" filter="url(#fb)"/><circle cx="896" cy="1902" r="2" fill="#3ee03a" filter="url(#fb)"/><circle cx="200" cy="1906" r="2" fill="#b01808" filter="url(#fb)"/><circle cx="350" cy="1905" r="1.8" fill="#b01808" filter="url(#fb)"/><circle cx="447" cy="1914" r="1.6" fill="#b01808" filter="url(#fb)"/><circle cx="757" cy="1895" r="1.8" fill="#b01808" filter="url(#fb)"/><circle cx="910" cy="1905" r="1.8" fill="#b01808" filter="url(#fb)"/><circle cx="880" cy="1940" r="1.8" fill="#b01808" filter="url(#fb)"/><text x="136" y="1854.8" font-size="32.8" font-weight="bold" textLength="117.6" lengthAdjust="spacingAndGlyphs" fill="#f7dc9c">Control</text><text x="136.4" y="1953.6" font-size="33.4" font-weight="bold" textLength="151" lengthAdjust="spacingAndGlyphs" fill="#f7dc9c">MLN4924</text><text x="285.3" y="1998.4" font-size="26.2" textLength="256.4" lengthAdjust="spacingAndGlyphs" fill="#000">Green: IdU; Red: CldU</text><path d="M249.8 2321h3M248.6 2310h3M300.4 2329.8h3M264.8 2345.2h3M232.3 2334.2h3M234.6 2347.4h3M303.4 2318.8h3M266.4 2268.2h3M229.2 2336.4h3M265.4 2338.6h3M264.8 2303.4h3M260 2310h3M299.8 2316.6h3M294.9 2347.4h3M234.2 2321h3M245.6 2296.8h3M259.5 2356.2h3M291.2 2334.2h3M269.1 2367.2h3M277.3 2356.2h3M267.4 2367.2h3M240.7 2327.6h3M282.5 2354h3M228.8 2312.2h3M279.8 2316.6h3M239.4 2327.6h3M263.8 2378.2h3M301.7 2336.4h3M267.7 2323.2h3M229.9 2316.6h3M261.1 2360.6h3M277.2 2334.2h3M235.1 2347.4h3M246.8 2343h3M247 2281.4h3M267.4 2343h3M254.9 2321h3M264.7 2288h3M248.7 2338.6h3M277.3 2325.4h3M238.9 2316.6h3M296.7 2318.8h3M291.2 2354h3M263.9 2318.8h3M263.7 2268.2h3M281.5 2360.6h3M254.8 2290.2h3M288.1 2316.6h3M248.3 2338.6h3M266.2 2233h3M256 2294.6h3M270.5 2354h3M298.2 2318.8h3M237.7 2301.2h3M289.7 2327.6h3M266.8 2296.8h3M254.7 2323.2h3M256.2 2296.8h3M255.5 2263.8h3M246.3 2340.8h3M273.8 2314.4h3M232.4 2334.2h3M277.7 2316.6h3M291.9 2351.8h3M301.8 2338.6h3M296.4 2327.6h3M278 2288h3M254 2277h3M290.2 2356.2h3M243.1 2343h3M285.4 2299h3M277.6 2369.4h3M274.2 2334.2h3M266.2 2323.2h3M256.2 2272.6h3M265.6 2296.8h3M247.4 2332h3M234.2 2332h3M234 2327.6h3M270 2259.4h3M298.4 2334.2h3M235.3 2329.8h3M230.3 2310h3M245.2 2325.4h3M234.5 2327.6h3M245.3 2351.8h3M271.2 2321h3M258.3 2334.2h3M262.3 2277h3M247.9 2299h3M277.8 2321h3M252.8 2296.8h3M256.3 2332h3M263.2 2281.4h3M297.1 2321h3M249.3 2301.2h3M276.7 2356.2h3M251.1 2310h3M281.5 2362.8h3M260.9 2369.4h3M264.9 2329.8h3M290.4 2345.2h3M277.8 2316.6h3M262.3 2219.8h3M238.8 2345.2h3M302 2338.6h3M228.9 2314.4h3M251.7 2303.4h3M302.1 2325.4h3M224.7 2327.6h3M246.2 2296.8h3M246.5 2303.4h3M237.9 2349.6h3M262.2 2323.2h3M271.9 2318.8h3M252.9 2349.6h3M235.6 2312.2h3M286.3 2345.2h3M276.8 2285.8h3M269.2 2314.4h3M236 2318.8h3M267.7 2338.6h3M275.1 2325.4h3M262 2369.4h3M286.7 2351.8h3M256.8 2307.8h3M264.8 2371.6h3M246.5 2290.2h3M267.1 2365h3M278.1 2294.6h3M280.8 2345.2h3M252.3 2292.4h3M302.7 2316.6h3M275 2360.6h3M262.4 2272.6h3M262.7 2263.8h3M287.2 2323.2h3M238 2329.8h3M275.9 2325.4h3M279 2347.4h3M265.1 2279.2h3M293.7 2336.4h3M262 2323.2h3M262 2343h3M248 2338.6h3M288.1 2354h3M259.4 2272.6h3M280.5 2325.4h3M260.8 2285.8h3M299.4 2321h3M298 2340.8h3M226.2 2332h3M303 2336.4h3M272.9 2321h3M230 2332h3M264.3 2329.8h3M240.7 2356.2h3M268 2343h3M260 2252.8h3M254.6 2340.8h3M252.1 2349.6h3M271.7 2310h3M271.6 2266h3M286.5 2358.4h3M250.5 2327.6h3M269.8 2338.6h3M244.3 2365h3M257.8 2294.6h3M301.7 2321h3M234.4 2318.8h3M291.5 2343h3M274.6 2305.6h3M248.3 2336.4h3M287.3 2325.4h3M251.5 2351.8h3M287.5 2354h3M254.2 2268.2h3M234.4 2336.4h3M282.7 2312.2h3M260.4 2321h3M236.3 2334.2h3M265.6 2336.4h3M252.8 2299h3M268.5 2329.8h3M284.5 2325.4h3M293.1 2321h3M250.7 2277h3M269.6 2296.8h3M297.9 2307.8h3M261.4 2338.6h3M278.7 2356.2h3M247.7 2285.8h3M279.7 2285.8h3M271.2 2325.4h3M288.5 2301.2h3M278.8 2292.4h3M282 2290.2h3M245.5 2288h3M281.7 2334.2h3M258.9 2259.4h3M251.1 2354h3M256.5 2290.2h3M270.4 2303.4h3M270.3 2290.2h3M268.6 2239.6h3M255.1 2261.6h3M245.9 2351.8h3M258.6 2362.8h3M279.8 2292.4h3M267.7 2349.6h3M265.5 2321h3M276.7 2290.2h3M271.4 2362.8h3M257.8 2371.6h3M234 2312.2h3M261.5 2318.8h3M295.6 2327.6h3M272.3 2318.8h3M233.3 2345.2h3M261.6 2360.6h3M255 2325.4h3M270 2347.4h3M268.4 2362.8h3M293.2 2303.4h3M251.3 2323.2h3M258.2 2307.8h3M272 2347.4h3M293.7 2340.8h3M278 2349.6h3M262.5 2345.2h3M288.4 2314.4h3M263.4 2343h3M297 2310h3M249.1 2310h3M261.7 2233h3M281.8 2358.4h3M255.5 2288h3M292.8 2323.2h3M273.3 2321h3M265 2358.4h3M231.5 2334.2h3M279.4 2294.6h3M229.2 2323.2h3M301.2 2318.8h3M295.3 2329.8h3M258.2 2277h3M234.5 2321h3M276 2371.6h3M263 2340.8h3M251.3 2369.4h3M264.5 2387h3M244.6 2336.4h3M262.2 2268.2h3M275.7 2318.8h3M289.3 2351.8h3M284.8 2347.4h3M253.2 2277h3M262.8 2316.6h3M263.9 2318.8h3M304.2 2323.2h3M231.6 2318.8h3M265 2292.4h3M289.9 2301.2h3M256.9 2314.4h3M249.2 2349.6h3M268 2303.4h3M251 2340.8h3M279.4 2279.2h3M241.1 2354h3M240.5 2325.4h3M231 2321h3M276.1 2356.2h3M261.9 2248.4h3M272.6 2261.6h3M295.9 2334.2h3M286.5 2292.4h3M247.6 2307.8h3M253.6 2378.2h3M256.2 2312.2h3M302.1 2323.2h3M285.3 2318.8h3M236.8 2349.6h3M281.1 2329.8h3M298.7 2327.6h3M278.9 2274.8h3M279.8 2310h3M293.7 2321h3M270.6 2259.4h3M253.4 2336.4h3M232.1 2332h3M273.5 2365h3M258.4 2257.2h3M259.8 2285.8h3M285.9 2288h3M267.8 2296.8h3M266.2 2316.6h3M298.2 2314.4h3M246.8 2329.8h3M305.5 2327.6h3M297.2 2318.8h3M264 2200h3M263.6 2217.6h3M262.3 2222h3M266.8 2219.8h3M261 2246.2h3M263 2191.2h3M266.4 2211h3M265.1 2222h3M265 2164.8h3M265.2 2160.4h3M263.1 2129.6h3M263.3 2116.4h3M264.5 2404.6h3M260.2 2393.6h3M264.5 2391.4h3M265.2 2186.8h3" stroke="#2020d8" stroke-width="3" fill="none"/><path d="M397.7 2391.4h2.8M392.8 2404.6h2.8M348.1 2387h2.8M373 2358.4h2.8M417.2 2393.6h2.8M353.9 2389.2h2.8M387.5 2389.2h2.8M349.8 2382.6h2.8M410.3 2409h2.8M357.9 2389.2h2.8M378.1 2400.2h2.8M386.9 2358.4h2.8M401.5 2400.2h2.8M410.9 2369.4h2.8M389.8 2329.8h2.8M372.3 2391.4h2.8M351.2 2395.8h2.8M400.5 2380.4h2.8M422.6 2384.8h2.8M350.3 2402.4h2.8M402.7 2371.6h2.8M380.9 2299h2.8M381.5 2391.4h2.8M386.7 2389.2h2.8M392.9 2402.4h2.8M419.7 2376h2.8M397.1 2406.8h2.8M377.4 2404.6h2.8M390.8 2340.8h2.8M382.4 2402.4h2.8M381.7 2349.6h2.8M381.9 2329.8h2.8M384.3 2378.2h2.8M371.5 2369.4h2.8M381.4 2303.4h2.8M356 2389.2h2.8M380.1 2395.8h2.8M371.7 2406.8h2.8M411.5 2384.8h2.8M392.6 2332h2.8M378.4 2356.2h2.8M393.5 2402.4h2.8M414.8 2400.2h2.8M373.5 2395.8h2.8M388.8 2378.2h2.8M380.2 2389.2h2.8M396 2380.4h2.8M417.9 2378.2h2.8M355.2 2391.4h2.8M422.3 2384.8h2.8M397.2 2380.4h2.8M408.8 2387h2.8M393.4 2371.6h2.8M390.2 2307.8h2.8M374.5 2369.4h2.8M401.2 2382.6h2.8M371.6 2411.2h2.8M385.4 2373.8h2.8M394.1 2413.4h2.8M366.3 2406.8h2.8M364.7 2358.4h2.8M400.3 2365h2.8M410 2389.2h2.8M394 2411.2h2.8M370.2 2393.6h2.8M397.1 2398h2.8M361.2 2367.2h2.8M386.2 2279.2h2.8M390.5 2380.4h2.8M393.7 2400.2h2.8M381.2 2404.6h2.8M362.6 2387h2.8M403.3 2389.2h2.8M382.4 2404.6h2.8M403.8 2382.6h2.8M375.6 2404.6h2.8M370.7 2349.6h2.8M386.3 2351.8h2.8M389.1 2349.6h2.8M418.9 2393.6h2.8M409.1 2371.6h2.8M348.7 2387h2.8M407 2393.6h2.8M365.3 2391.4h2.8M397.5 2406.8h2.8M377.4 2409h2.8M376.1 2360.6h2.8M383.8 2389.2h2.8M387.1 2380.4h2.8M392.4 2354h2.8M392.4 2411.2h2.8M398.3 2400.2h2.8M376 2380.4h2.8M396.9 2373.8h2.8M372.2 2393.6h2.8M388.8 2351.8h2.8M381.8 2380.4h2.8M389 2404.6h2.8M349.6 2402.4h2.8M384.7 2360.6h2.8M366.6 2371.6h2.8M378.9 2413.4h2.8M373.7 2338.6h2.8M394 2367.2h2.8M395.1 2338.6h2.8M372.9 2393.6h2.8M352.4 2391.4h2.8M393 2404.6h2.8M382 2255h2.8M416.8 2389.2h2.8M377.3 2325.4h2.8M374 2398h2.8M384.4 2380.4h2.8M363.3 2411.2h2.8M370 2393.6h2.8M375.9 2354h2.8M398.8 2406.8h2.8M402.2 2349.6h2.8M375.1 2376h2.8M405.3 2402.4h2.8M355.9 2395.8h2.8M391.3 2393.6h2.8M379.4 2387h2.8M367.8 2395.8h2.8M408.9 2400.2h2.8M405 2391.4h2.8M358.9 2402.4h2.8M371.4 2406.8h2.8M410.6 2387h2.8M406.7 2358.4h2.8M391.4 2409h2.8M414.5 2384.8h2.8M422.7 2398h2.8M402.1 2402.4h2.8M391.4 2358.4h2.8M362.4 2395.8h2.8M382 2329.8h2.8M394.2 2400.2h2.8M414 2373.8h2.8M368.6 2389.2h2.8M376.8 2400.2h2.8M356.5 2369.4h2.8M400.9 2389.2h2.8M381.5 2367.2h2.8M408.8 2387h2.8M366.3 2404.6h2.8M397.8 2387h2.8M398.5 2382.6h2.8M383.3 2356.2h2.8M361.9 2402.4h2.8M377 2384.8h2.8M398.4 2411.2h2.8M367.4 2367.2h2.8M356.3 2404.6h2.8M382.8 2411.2h2.8M363.3 2387h2.8M395.2 2349.6h2.8M403.7 2409h2.8M415.7 2404.6h2.8M410.9 2400.2h2.8M394.9 2404.6h2.8M363.3 2376h2.8M409.2 2400.2h2.8M402.4 2398h2.8M399.5 2369.4h2.8M399.9 2400.2h2.8M406.8 2373.8h2.8M370.2 2402.4h2.8M396.3 2404.6h2.8M385.7 2411.2h2.8M382.4 2310h2.8M370.6 2391.4h2.8M359.3 2378.2h2.8M384.1 2384.8h2.8M374.8 2380.4h2.8M378.6 2382.6h2.8M389.7 2305.6h2.8M397.6 2402.4h2.8M395.4 2409h2.8M419.2 2402.4h2.8M366.8 2406.8h2.8M385.2 2362.8h2.8M365.5 2360.6h2.8M377.1 2402.4h2.8M412.9 2406.8h2.8M351 2391.4h2.8M391.2 2336.4h2.8M398.8 2417.8h2.8M385.4 2371.6h2.8M405.5 2404.6h2.8M382.6 2351.8h2.8M374.6 2404.6h2.8M385.3 2391.4h2.8M366.5 2409h2.8M371 2402.4h2.8M380 2336.4h2.8M408 2360.6h2.8M371.4 2393.6h2.8M364.7 2400.2h2.8M407.7 2413.4h2.8M355.3 2393.6h2.8M422.3 2384.8h2.8M413.5 2387h2.8M396.7 2387h2.8M379.8 2404.6h2.8M360.3 2387h2.8M353.1 2384.8h2.8M373.8 2340.8h2.8M382.6 2307.8h2.8M377.2 2387h2.8M417.1 2400.2h2.8M387.7 2387h2.8M423.6 2398h2.8M401.7 2400.2h2.8M356.2 2387h2.8M388.6 2402.4h2.8M364.9 2367.2h2.8M347.3 2387h2.8M417.5 2378.2h2.8M371.5 2389.2h2.8M360.9 2398h2.8M355.9 2402.4h2.8M397.3 2389.2h2.8M381.7 2395.8h2.8M348.6 2378.2h2.8M402 2384.8h2.8M369.4 2406.8h2.8M406.9 2382.6h2.8M384.1 2406.8h2.8M387.6 2398h2.8M381.3 2391.4h2.8M393.4 2413.4h2.8M423.1 2382.6h2.8M407.6 2380.4h2.8M349.6 2389.2h2.8M384.4 2393.6h2.8M363.1 2393.6h2.8M356.2 2402.4h2.8M359.8 2391.4h2.8M364.7 2395.8h2.8M420.7 2382.6h2.8M401.1 2404.6h2.8M411 2378.2h2.8M400.1 2380.4h2.8M369.8 2387h2.8M376 2393.6h2.8M381.2 2369.4h2.8M373.1 2411.2h2.8M379.7 2371.6h2.8M404.8 2378.2h2.8M354 2378.2h2.8M369.5 2373.8h2.8M383.2 2398h2.8M399.2 2391.4h2.8M393.1 2367.2h2.8M399.8 2373.8h2.8M355.2 2380.4h2.8M365.7 2409h2.8M373 2369.4h2.8M377.8 2347.4h2.8M394.6 2354h2.8M421.4 2378.2h2.8M395.6 2409h2.8M365.4 2356.2h2.8M368.3 2389.2h2.8M397.5 2417.8h2.8M414 2376h2.8M390.5 2409h2.8M375 2406.8h2.8M373.4 2398h2.8M388.6 2340.8h2.8M414.5 2393.6h2.8M373.2 2378.2h2.8M379.6 2316.6h2.8M374.9 2325.4h2.8M355.3 2387h2.8M413.6 2389.2h2.8M392.9 2406.8h2.8M422.9 2398h2.8M356 2373.8h2.8M375.7 2373.8h2.8M407.8 2382.6h2.8M391.1 2354h2.8M351.8 2400.2h2.8M376.8 2387h2.8M392 2362.8h2.8M396 2369.4h2.8M383.1 2349.6h2.8M363.6 2373.8h2.8M423 2391.4h2.8M382.5 2376h2.8M400.3 2402.4h2.8M386.8 2411.2h2.8M359.8 2369.4h2.8M363.5 2387h2.8M353.5 2376h2.8M367.5 2411.2h2.8M360.3 2393.6h2.8M378.1 2395.8h2.8M371.6 2400.2h2.8M378.5 2415.6h2.8M410.7 2391.4h2.8M363.9 2358.4h2.8M357.5 2376h2.8M409.2 2395.8h2.8M387.5 2384.8h2.8M381.7 2362.8h2.8M375.7 2417.8h2.8M388.2 2387h2.8M367.7 2369.4h2.8M404.3 2365h2.8M390.5 2318.8h2.8M378.9 2347.4h2.8M350.8 2376h2.8M412.7 2378.2h2.8M374.9 2362.8h2.8M397.4 2395.8h2.8M413.7 2384.8h2.8M397.7 2358.4h2.8M389.5 2303.4h2.8M383.9 2389.2h2.8M412.4 2387h2.8M381.9 2380.4h2.8M378.6 2338.6h2.8M383.3 2384.8h2.8M381.1 2332h2.8M404.1 2402.4h2.8M412 2389.2h2.8M355.4 2389.2h2.8M368.3 2362.8h2.8M380.5 2351.8h2.8M382.6 2409h2.8M418.2 2402.4h2.8M415.9 2376h2.8M421.3 2398h2.8M398.5 2409h2.8M391.4 2351.8h2.8M370.2 2371.6h2.8M376.7 2371.6h2.8M344.6 2393.6h2.8M397.3 2351.8h2.8M366.4 2389.2h2.8M370.1 2349.6h2.8M371.3 2402.4h2.8M371.6 2400.2h2.8M401.6 2380.4h2.8M346.5 2398h2.8M370 2365h2.8M413.9 2378.2h2.8M410.7 2402.4h2.8M394.9 2382.6h2.8M389.6 2391.4h2.8M372.9 2356.2h2.8M414.3 2398h2.8M406 2393.6h2.8M385.2 2345.2h2.8M381.8 2281.4h2.8M381.3 2299h2.8M375.3 2382.6h2.8M372.2 2380.4h2.8M375.5 2327.6h2.8M377.2 2387h2.8M381.1 2402.4h2.8M368.3 2382.6h2.8M377.2 2373.8h2.8M372.2 2400.2h2.8M377.8 2411.2h2.8M392.1 2409h2.8M384.7 2365h2.8M361.7 2400.2h2.8M408.9 2387h2.8M385.8 2380.4h2.8M382.4 2367.2h2.8M402.3 2391.4h2.8M400.8 2371.6h2.8M410.5 2402.4h2.8M410.2 2393.6h2.8M396.8 2402.4h2.8M392.2 2347.4h2.8M357.2 2384.8h2.8M400.1 2398h2.8M364.7 2391.4h2.8M365 2389.2h2.8M364.5 2365h2.8M378.8 2409h2.8M350.9 2402.4h2.8M397.6 2393.6h2.8M386.7 2255h2.8M396.1 2356.2h2.8M354.6 2387h2.8M392.3 2365h2.8M388.6 2294.6h2.8M346.8 2389.2h2.8M359.8 2393.6h2.8M377.7 2345.2h2.8M382.4 2371.6h2.8M366.8 2365h2.8M387.9 2395.8h2.8M382.7 2305.6h2.8M387.5 2318.8h2.8M386.7 2369.4h2.8M394.9 2365h2.8M372.2 2413.4h2.8M396.5 2367.2h2.8M404 2389.2h2.8M399.6 2373.8h2.8M361.3 2365h2.8M421.3 2391.4h2.8M389.1 2411.2h2.8M369 2376h2.8M379.7 2398h2.8M386.2 2391.4h2.8M386.2 2395.8h2.8M364.2 2391.4h2.8M374.2 2415.6h2.8M380.7 2345.2h2.8M405.5 2378.2h2.8M382.7 2349.6h2.8M379 2301.2h2.8M381 2384.8h2.8M368.8 2411.2h2.8M348.9 2402.4h2.8M416.6 2404.6h2.8M368.2 2395.8h2.8M387.7 2382.6h2.8M377.7 2413.4h2.8M353.4 2376h2.8M408.8 2409h2.8M416.2 2378.2h2.8M359.3 2387h2.8M378.1 2391.4h2.8M374.6 2387h2.8M358.2 2395.8h2.8M397.6 2398h2.8M400.6 2411.2h2.8M405.7 2384.8h2.8M387.4 2310h2.8M378.8 2301.2h2.8M377.6 2338.6h2.8M385.6 2365h2.8M400.6 2398h2.8M382.1 2334.2h2.8M380.7 2387h2.8M412.4 2387h2.8M345.7 2391.4h2.8M366.7 2382.6h2.8M367.7 2393.6h2.8M424.8 2387h2.8M365.9 2404.6h2.8M347.8 2393.6h2.8M384.1 2279.2h2.8M396.9 2387h2.8M356.4 2389.2h2.8M405.8 2369.4h2.8M368.7 2365h2.8M398.9 2404.6h2.8M357.1 2389.2h2.8M401.1 2356.2h2.8M363 2378.2h2.8M402.7 2382.6h2.8M391.8 2327.6h2.8M365.7 2398h2.8M352.9 2382.6h2.8M391.7 2395.8h2.8M384.8 2329.8h2.8M383.7 2413.4h2.8M406.7 2398h2.8M381.8 2395.8h2.8M384.6 2365h2.8M384.1 2367.2h2.8M383.7 2336.4h2.8M379.3 2409h2.8M367.5 2362.8h2.8M368 2391.4h2.8M366.4 2398h2.8M369.3 2369.4h2.8M405.5 2402.4h2.8M366 2413.4h2.8M360.7 2393.6h2.8M386.4 2409h2.8M370.1 2398h2.8M366.8 2376h2.8M375.8 2376h2.8M384.8 2325.4h2.8M399.1 2389.2h2.8M412.8 2409h2.8M411.8 2400.2h2.8M379.7 2402.4h2.8M381.6 2404.6h2.8M379.2 2373.8h2.8M364.3 2398h2.8M407.6 2413.4h2.8M361.6 2365h2.8M360.8 2387h2.8M396.1 2376h2.8M391.8 2382.6h2.8M372.2 2367.2h2.8M419.4 2384.8h2.8M382.1 2343h2.8M391.2 2373.8h2.8M382.1 2239.6h2.8M391.9 2321h2.8M377.6 2321h2.8M383.1 2314.4h2.8M390.6 2310h2.8M387.9 2244h2.8M389.8 2301.2h2.8M389.5 2307.8h2.8M382.7 2261.6h2.8M375.2 2327.6h2.8M383.5 2338.6h2.8M381.5 2252.8h2.8M388 2246.2h2.8M377.2 2312.2h2.8M383.4 2261.6h2.8M374.7 2349.6h2.8M379.3 2296.8h2.8M384.8 2270.4h2.8M377.5 2316.6h2.8M390.1 2303.4h2.8M386.3 2266h2.8M383.7 2268.2h2.8M392.5 2332h2.8M387 2252.8h2.8M379.8 2343h2.8M386.4 2215.4h2.8M393.2 2325.4h2.8M386.9 2316.6h2.8M381.9 2325.4h2.8M386.5 2211h2.8M391.8 2312.2h2.8M383.6 2266h2.8M383.1 2211h2.8M386.6 2217.6h2.8M390.2 2347.4h2.8M382.5 2279.2h2.8M385.3 2268.2h2.8M383.4 2252.8h2.8M390.6 2305.6h2.8M382.6 2307.8h2.8M373.1 2354h2.8M369.3 2349.6h2.8M383.5 2274.8h2.8M399.1 2343h2.8M379.3 2325.4h2.8M384.2 2305.6h2.8M398.9 2343h2.8M367.8 2349.6h2.8M383.7 2222h2.8M388.1 2292.4h2.8M376.9 2325.4h2.8M388 2252.8h2.8M397.4 2351.8h2.8M378.5 2318.8h2.8M385.2 2215.4h2.8M385.1 2224.2h2.8M386.3 2261.6h2.8M379.5 2340.8h2.8M383.1 2307.8h2.8M375.7 2349.6h2.8M380.9 2323.2h2.8M373.4 2349.6h2.8M394.8 2336.4h2.8M387.9 2263.8h2.8M381 2338.6h2.8M389.1 2332h2.8M384.7 2224.2h2.8M381.8 2305.6h2.8M382.7 2305.6h2.8M397.9 2340.8h2.8M383.8 2239.6h2.8M385.4 2257.2h2.8M388.5 2274.8h2.8M383.2 2266h2.8M393.1 2338.6h2.8M378.3 2316.6h2.8M386.7 2270.4h2.8M386.3 2217.6h2.8M387 2237.4h2.8M388.6 2261.6h2.8M386.6 2279.2h2.8M402.3 2351.8h2.8M383.5 2226.4h2.8M385.5 2345.2h2.8M377.8 2334.2h2.8M381.7 2255h2.8M384.4 2237.4h2.8M386.3 2241.8h2.8M387.5 2288h2.8M374.6 2327.6h2.8M399.8 2349.6h2.8M383.3 2230.8h2.8M383.9 2213.2h2.8M390.7 2318.8h2.8M387.1 2228.6h2.8M387.5 2296.8h2.8M382.3 2310h2.8M384.5 2281.4h2.8M397.4 2351.8h2.8M383.4 2290.2h2.8M390.9 2325.4h2.8M386.9 2250.6h2.8M384.5 2281.4h2.8M387.1 2228.6h2.8M384.2 2226.4h2.8M385.7 2206.6h2.8M385.2 2202.2h2.8M384.3 2178h2.8M384.9 2158.2h2.8M385.1 2145h2.8M384.9 2138.4h2.8M369.2 2417.8h2.8M407.3 2415.6h2.8M405.3 2415.6h2.8M365.4 2417.8h2.8M405.9 2413.4h2.8M386.4 2413.4h2.8" stroke="#cc20cc" stroke-width="2.8" fill="none"/><path d="M266 2293V2340M246 2293h40M246 2340h40M227 2319.8h78" stroke="#000" stroke-width="3" fill="none"/><path d="M386.2 2338.8V2396M365.9 2338.8h40.6M365.9 2396h40.6M347.2 2377.7h78" stroke="#000" stroke-width="3" fill="none"/><path d="M186.5 2100V2427.4H465.2M180.1 2100h6.4M180.1 2181.5h6.4M180.1 2263.9h6.4M180.1 2345.7h6.4M180.1 2427.4h6.4M266 2427.4v9.8M386.2 2427.4v9.8" stroke="#000" stroke-width="2.4" fill="none"/><text x="166.2" y="2112.1" font-size="24.9" textLength="10.4" lengthAdjust="spacingAndGlyphs" fill="#222">4</text><text x="165.8" y="2193.6" font-size="24.5" textLength="11" lengthAdjust="spacingAndGlyphs" fill="#222">3</text><text x="165.6" y="2276" font-size="24.5" textLength="11.5" lengthAdjust="spacingAndGlyphs" fill="#222">2</text><text x="164.9" y="2357.8" font-size="24.9" textLength="12.1" lengthAdjust="spacingAndGlyphs" fill="#222">1</text><text x="165.8" y="2439.5" font-size="24.5" textLength="10.9" lengthAdjust="spacingAndGlyphs" fill="#222">0</text><text x="251.9" y="2093.8" font-size="26" textLength="152.8" lengthAdjust="spacingAndGlyphs" fill="#222">****p&lt;0.0001</text><text transform="translate(145.4 2394.9) rotate(-90)" x="-1.9" y="0" font-size="18.5" textLength="281.5" lengthAdjust="spacingAndGlyphs" fill="#222">Replication fork rate, kb/min</text><text x="225.8" y="2459" font-size="20.7" textLength="76.1" lengthAdjust="spacingAndGlyphs" fill="#222">Control</text><text x="233.7" y="2479.6" font-size="23" textLength="52" lengthAdjust="spacingAndGlyphs" fill="#222">(316)</text><text x="336.2" y="2459" font-size="21.5" textLength="98.7" lengthAdjust="spacingAndGlyphs" fill="#222">MLN4924</text><text x="356.2" y="2479.6" font-size="23" textLength="52" lengthAdjust="spacingAndGlyphs" fill="#222">(622)</text><path d="M677.9 2298h0M676.8 2352.2h0M672.1 2267.7h0M661.1 2399.3h0M679.4 2322.4h0M638.6 2320.8h0M648.6 2313.7h0M662 2282h0M651.2 2365.9h0M641.7 2266.6h0M677.1 2308.6h0M680.4 2334.3h0M661.5 2373.4h0M661.3 2363.4h0M645.6 2279h0M666.6 2351.4h0M671.6 2295.2h0M684.3 2240.7h0M645.3 2242.3h0M677 2213.5h0M701.5 2314.9h0M659 2358h0M675.7 2243h0M688.4 2281.8h0M671.8 2237.3h0M649.6 2298.1h0M670.4 2233.4h0M684.8 2252.5h0M643.7 2259.6h0M664.3 2271.2h0M633.5 2277h0M690.5 2286h0M685.7 2286.4h0M644.8 2244.6h0M682 2326.7h0M670.1 2203.9h0M637.2 2304.5h0M666.8 2244.9h0M680 2303.7h0M653.4 2312.2h0M665.7 2187.7h0M700.3 2315.6h0M670.4 2368.5h0M665.7 2337.8h0M634 2316.1h0M660.3 2181h0M691.1 2287.4h0M677.2 2247.7h0M681.2 2353.5h0M671 2279.5h0M670 2262h0M666.3 2200.3h0M679.6 2336.8h0M655.4 2265.8h0M665.4 2282.2h0M664.2 2354.6h0M677.9 2299.8h0M644.6 2313.1h0M658.5 2399.3h0M640.8 2266h0M645.6 2269.2h0M690.3 2322.7h0M672.7 2371.9h0M673.1 2217.9h0M661.6 2284.2h0M647.8 2243.2h0M664.5 2221.7h0M689.7 2327.2h0M666.1 2254.4h0M675.4 2311.9h0M656 2302.2h0M639 2303.4h0M675.2 2298.8h0M665 2237.9h0M654.1 2292h0M647.4 2307.1h0M680 2313.9h0M653 2280.1h0M669.5 2347.6h0M649.5 2326.2h0M684.9 2301.6h0M657.5 2329.7h0M664 2305.2h0M692.5 2332.1h0M669.3 2189.2h0M673.8 2226.1h0M655.1 2274.2h0M691.5 2301.7h0M664.1 2179h0M699.6 2281.1h0M695.7 2303.5h0M676.8 2282.2h0M688.9 2282h0M667 2221.7h0M683.3 2299.8h0M659.9 2184h0M690.8 2346.9h0M682.6 2260.8h0M648.9 2353.5h0M660.1 2199.4h0M671 2316.8h0M685.6 2301.9h0M648.7 2248.2h0M682.6 2230.1h0M659.1 2359.5h0M701.2 2317.7h0M673.4 2375h0M664.5 2291.2h0M655.2 2304.3h0M636.6 2317.8h0M640.9 2336.1h0M674.8 2319.8h0M681.3 2339.5h0M691.2 2269.8h0M661.7 2215.9h0M672.1 2399.3h0M650.2 2305.1h0M696.3 2321.6h0M692.4 2271.8h0M648.8 2350.8h0M692.9 2306.7h0M674.8 2355.6h0M677 2260.7h0M691.1 2293.3h0M668.4 2307.6h0M666.1 2278.5h0M655.7 2312.2h0M674.6 2383.7h0M689.8 2266.2h0M641.6 2283h0M686.2 2307.2h0M655.3 2244.9h0M653.6 2232.1h0M652.6 2358.4h0M669.7 2341.4h0M659.4 2214.2h0M657.4 2221.2h0M642.5 2339.1h0M658.7 2363.3h0M682.5 2333.6h0M633.5 2326h0M665.2 2385.3h0M673.4 2297h0M649.7 2368.7h0M657.7 2364.9h0M685.3 2248.7h0M695.2 2336.1h0M692.2 2302.6h0M646.1 2264.4h0M679.4 2254.3h0M662.1 2317.2h0M640.7 2296.3h0M664.6 2343.8h0M675.3 2203.2h0M687.6 2263.2h0M661 2359h0M632.5 2298.5h0M688 2259.7h0M697 2272.5h0M665.8 2198.8h0M656.5 2223.7h0M668.5 2328.2h0M680.5 2303.6h0M665 2368.8h0M665 2129.3h0M664.2 2143.5h0M664.3 2147.9h0M662.4 2153.4h0M661.6 2397.1h0M672.4 2399.3h0" stroke="#1a1ad8" stroke-width="6" stroke-linecap="round" fill="none"/><path d="M747.4 2359h6.5M797.2 2362h6.5M783.1 2215.9h6.5M774.5 2363.7h6.5M786.1 2405.2h6.5M761.9 2383.1h6.5M793.1 2363.2h6.5M794.2 2393.9h6.5M797 2387h6.5M780.7 2376.1h6.5M812.9 2356h6.5M807.6 2371.1h6.5M786.1 2387.4h6.5M791.3 2339.5h6.5M765.4 2380.2h6.5M812.7 2379.3h6.5M790 2395.8h6.5M808.2 2385.4h6.5M768.7 2344.9h6.5M808.9 2399.3h6.5M752.9 2368.5h6.5M783 2342.3h6.5M753.4 2376.4h6.5M759.8 2359.3h6.5M798.2 2391.5h6.5M766.3 2315.6h6.5M776.2 2325.9h6.5M760 2359.4h6.5M800.7 2401.1h6.5M754.1 2390.3h6.5M773.4 2331.5h6.5M788.4 2292.9h6.5M794 2357.5h6.5M788.8 2318.8h6.5M815.6 2381.7h6.5M746.9 2371.7h6.5M793 2366.5h6.5M782 2151.2h6.5M783.4 2241.9h6.5M783.3 2249.6h6.5M771.4 2298.7h6.5M760.2 2405.9h6.5" stroke="#c020c0" stroke-width="6.5" fill="none"/><path d="M665.6 2259V2340.7M645.8 2259h39.6M645.8 2340.7h39.6M626.2 2300.6h78.8" stroke="#000" stroke-width="2.6" fill="none"/><path d="M784.5 2335.3V2384.6M764.6 2335.3h39.8M764.6 2384.6h39.8M745.5 2365.5h78" stroke="#000" stroke-width="2.6" fill="none"/><path d="M586.9 2101.9V2429.9H864.2M579 2101.9h7.9M579 2210.8h7.9M579 2320.4h7.9M579 2429.9h7.9M665.6 2429.9v9M784.5 2429.9v9" stroke="#000" stroke-width="2.4" fill="none"/><text x="539.7" y="2110.5" font-size="24.6" textLength="37.6" lengthAdjust="spacingAndGlyphs" fill="#222">300</text><text x="539.5" y="2219.4" font-size="24.6" textLength="37.9" lengthAdjust="spacingAndGlyphs" fill="#222">200</text><text x="538.8" y="2329" font-size="24.6" textLength="38.6" lengthAdjust="spacingAndGlyphs" fill="#222">100</text><text x="565.7" y="2438.5" font-size="24.6" textLength="11.6" lengthAdjust="spacingAndGlyphs" fill="#222">0</text><text x="649.2" y="2093.2" font-size="26" textLength="151.4" lengthAdjust="spacingAndGlyphs" fill="#222">****p&lt;0.0001</text><text transform="translate(520.7 2372.9) rotate(-90)" x="-2.1" y="0" font-size="18.7" textLength="234.4" lengthAdjust="spacingAndGlyphs" fill="#222">Inter-origin distance, kb</text><text x="625.3" y="2459.6" font-size="20.7" textLength="75.2" lengthAdjust="spacingAndGlyphs" fill="#222">Control</text><text x="637" y="2483" font-size="23" textLength="51.7" lengthAdjust="spacingAndGlyphs" fill="#222">(170)</text><text x="734.3" y="2459.6" font-size="21.5" textLength="99" lengthAdjust="spacingAndGlyphs" fill="#222">MLN4924</text><text x="762" y="2483" font-size="23" textLength="39.1" lengthAdjust="spacingAndGlyphs" fill="#222">(42)</text><rect x="960.6" y="1776.4" width="412.2" height="63.4" fill="#000"/><rect x="960.6" y="1779.4" width="412.2" height="53.4" fill="#2e2a0e"/><rect x="960.6" y="1779.4" width="412.2" height="53.4" fill="#000" filter="url(#nh1)"/><rect x="962" y="1875.8" width="410.8" height="62.1" fill="#000"/><rect x="962" y="1878.8" width="410.8" height="57.1" fill="#140402"/><rect x="962" y="1878.8" width="410.8" height="57.1" fill="#000" filter="url(#ng2)"/><rect x="1047.5" y="1885" width="252.9" height="50.5" fill="#2e2a0e"/><rect x="1047.5" y="1885" width="252.9" height="50.5" fill="#000" filter="url(#nh2)"/><rect x="1388.6" y="1776.4" width="378.4" height="63.3" fill="#000"/><rect x="1388.6" y="1779.4" width="378.4" height="53.3" fill="#2e2a0e"/><rect x="1388.6" y="1779.4" width="378.4" height="53.3" fill="#000" filter="url(#nh2)"/><rect x="1388.6" y="1876.2" width="379.7" height="62" fill="#000"/><rect x="1388.6" y="1879.2" width="379.7" height="57" fill="#140402"/><rect x="1388.6" y="1879.2" width="379.7" height="57" fill="#000" filter="url(#ng2)"/><rect x="1459.8" y="1883.1" width="237.2" height="48.2" fill="#2e2a0e"/><rect x="1459.8" y="1883.1" width="237.2" height="48.2" fill="#000" filter="url(#nh1)"/><path d="M985.7 1806.5L1123.5 1806.5" stroke="url(#gr17)" stroke-width="6.5" stroke-linecap="round" filter="url(#fb2)"/><path d="M1223.8 1810.4L1354.7 1810.4" stroke="url(#gr18)" stroke-width="6.5" stroke-linecap="round" filter="url(#fb2)"/><path d="M1072 1907.8L1275.3 1907.8" stroke="url(#gr19)" stroke-width="6.5" stroke-linecap="round" filter="url(#fb2)"/><path d="M1397.3 1810.4L1532.5 1810.4" stroke="url(#gr20)" stroke-width="8.5" stroke-linecap="round" filter="url(#fb2)"/><path d="M1664 1809.2L1745.9 1809.2" stroke="url(#gr21)" stroke-width="8" stroke-linecap="round" filter="url(#fb2)"/><path d="M1490.3 1904.7L1670.2 1904.7" stroke="url(#gr22)" stroke-width="6.5" stroke-linecap="round" filter="url(#fb2)"/><circle cx="1563.5" cy="1793.8" r="4" fill="#c8d020" filter="url(#fb2)"/><circle cx="1532" cy="1786" r="2.5" fill="#c8d020" filter="url(#fb2)"/><circle cx="1660" cy="1826" r="2.5" fill="#c8d020" filter="url(#fb2)"/><circle cx="1081" cy="1787" r="2" fill="#c8d020" filter="url(#fb2)"/><circle cx="1047" cy="1818" r="2" fill="#c8d020" filter="url(#fb2)"/><circle cx="1142" cy="1822" r="3" fill="#c8d020" filter="url(#fb2)"/><circle cx="1257" cy="1797" r="2" fill="#c8d020" filter="url(#fb2)"/><circle cx="1120" cy="1883" r="2.2" fill="#c8d020" filter="url(#fb2)"/><circle cx="1094" cy="1917" r="2" fill="#c8d020" filter="url(#fb2)"/><circle cx="1100" cy="1929" r="2.2" fill="#c8d020" filter="url(#fb2)"/><circle cx="1700" cy="1878" r="3.5" fill="#c8d020" filter="url(#fb2)"/><circle cx="1432" cy="1920" r="2" fill="#c8d020" filter="url(#fb2)"/><circle cx="1480" cy="1885" r="2.2" fill="#c8d020" filter="url(#fb2)"/><circle cx="1526" cy="1922" r="2.5" fill="#c8d020" filter="url(#fb2)"/><circle cx="1410" cy="1790" r="2" fill="#c8d020" filter="url(#fb2)"/><circle cx="1555" cy="1830" r="2" fill="#c8d020" filter="url(#fb2)"/><path d="M984 1852.7H1052.5" stroke="#c41818" stroke-width="4"/><path d="M994.1 1844.2L982.9 1852.7L994.1 1861.2" stroke="#c41818" stroke-width="4.5" fill="none" stroke-linecap="round" stroke-linejoin="round"/><path d="M1053 1852.7H1127.2" stroke="#3ae84a" stroke-width="4"/><path d="M1063.8 1844.2L1052.5 1852.7L1063.8 1861.2" stroke="#3ae84a" stroke-width="4.5" fill="none" stroke-linecap="round" stroke-linejoin="round"/><path d="M1224.6 1852.7H1297" stroke="#3ae84a" stroke-width="4"/><path d="M1285.8 1844.2L1297 1852.7L1285.8 1861.2" stroke="#3ae84a" stroke-width="4.5" fill="none" stroke-linecap="round" stroke-linejoin="round"/><path d="M1297 1852.7H1359" stroke="#c41818" stroke-width="4"/><path d="M1349 1844.2L1360.2 1852.7L1349 1861.2" stroke="#c41818" stroke-width="4.5" fill="none" stroke-linecap="round" stroke-linejoin="round"/><path d="M1061 1951H1120.8" stroke="#c41818" stroke-width="4"/><path d="M1070.8 1942.5L1059.5 1951L1070.8 1959.5" stroke="#c41818" stroke-width="4.5" fill="none" stroke-linecap="round" stroke-linejoin="round"/><path d="M1121 1951H1205.7" stroke="#3ae84a" stroke-width="5.5"/><path d="M1132 1942.5L1120.8 1951L1132 1959.5" stroke="#3ae84a" stroke-width="4.5" fill="none" stroke-linecap="round" stroke-linejoin="round"/><path d="M1194.5 1942.5L1205.7 1951L1194.5 1959.5" stroke="#3ae84a" stroke-width="4.5" fill="none" stroke-linecap="round" stroke-linejoin="round"/><path d="M1206 1951H1270" stroke="#c41818" stroke-width="4"/><path d="M1259.8 1942.5L1271.1 1951L1259.8 1959.5" stroke="#c41818" stroke-width="4.5" fill="none" stroke-linecap="round" stroke-linejoin="round"/><path d="M1428 1851.9H1485.4" stroke="#c41818" stroke-width="4"/><path d="M1437.8 1843.4L1426.6 1851.9L1437.8 1860.4" stroke="#c41818" stroke-width="4.5" fill="none" stroke-linecap="round" stroke-linejoin="round"/><path d="M1486 1851.9H1537.5" stroke="#3ae84a" stroke-width="4"/><path d="M1496.7 1843.4L1485.4 1851.9L1496.7 1860.4" stroke="#3ae84a" stroke-width="4.5" fill="none" stroke-linecap="round" stroke-linejoin="round"/><path d="M1667.8 1851.9H1712.4" stroke="#3ae84a" stroke-width="4"/><path d="M1701.2 1843.4L1712.4 1851.9L1701.2 1860.4" stroke="#3ae84a" stroke-width="4.5" fill="none" stroke-linecap="round" stroke-linejoin="round"/><path d="M1712.4 1851.9H1741" stroke="#c41818" stroke-width="4"/><path d="M1731 1843.4L1742.2 1851.9L1731 1860.4" stroke="#c41818" stroke-width="4.5" fill="none" stroke-linecap="round" stroke-linejoin="round"/><path d="M1498 1951.9H1573.5" stroke="#c41818" stroke-width="4"/><path d="M1507.8 1943.4L1496.6 1951.9L1507.8 1960.4" stroke="#c41818" stroke-width="4.5" fill="none" stroke-linecap="round" stroke-linejoin="round"/><path d="M1574 1951.9H1644.2" stroke="#3ae84a" stroke-width="5.5"/><path d="M1584.8 1943.4L1573.5 1951.9L1584.8 1960.4" stroke="#3ae84a" stroke-width="4.5" fill="none" stroke-linecap="round" stroke-linejoin="round"/><path d="M1633 1943.4L1644.2 1951.9L1633 1960.4" stroke="#3ae84a" stroke-width="4.5" fill="none" stroke-linecap="round" stroke-linejoin="round"/><path d="M1644.5 1951.9H1678" stroke="#c41818" stroke-width="4"/><path d="M1667.7 1943.4L1678.9 1951.9L1667.7 1960.4" stroke="#c41818" stroke-width="4.5" fill="none" stroke-linecap="round" stroke-linejoin="round"/><text x="1057.9" y="1766.4" font-size="24.6" font-weight="bold" textLength="228.3" lengthAdjust="spacingAndGlyphs" fill="#000">Symmetric forks</text><text x="1448.7" y="1765" font-size="28" font-weight="bold" textLength="245.6" lengthAdjust="spacingAndGlyphs" fill="#000">Asymmetric forks</text><text x="1159.9" y="1860.5" font-size="26.9" font-weight="bold" textLength="38.2" lengthAdjust="spacingAndGlyphs" fill="#000">ori</text><text x="1579.7" y="1860.8" font-size="26.9" font-weight="bold" textLength="39.4" lengthAdjust="spacingAndGlyphs" fill="#000">ori</text><text x="1025.1" y="1984.4" font-size="25.1" font-weight="bold" textLength="104.8" lengthAdjust="spacingAndGlyphs" fill="#000">Left fork</text><text x="1213.7" y="1984.4" font-size="25.1" font-weight="bold" textLength="121.5" lengthAdjust="spacingAndGlyphs" fill="#000">Right fork</text><text x="1427.3" y="1983.4" font-size="25.1" font-weight="bold" textLength="104" lengthAdjust="spacingAndGlyphs" fill="#000">Left fork</text><text x="1641.3" y="1983.4" font-size="25.1" font-weight="bold" textLength="122" lengthAdjust="spacingAndGlyphs" fill="#000">Right fork</text><path d="M1020.6 2394.2L1235.1 2071.5" stroke="#e02020" stroke-width="1.4"/><path d="M1020.6 2394.2L1342.3 2179.1" stroke="#e02020" stroke-width="2.4"/><path d="M1212.7 2125h0M1248.2 2175.4h0M1193.7 2186.1h0M1206.3 2189.9h0M1235 2189.1h0M1235.3 2193.6h0M1116.1 2197.6h0M1145.8 2206.9h0M1156.8 2206.6h0M1186.5 2210.2h0M1200.4 2211.4h0M1168.1 2216.1h0M1224.6 2217.6h0M1155.5 2219.1h0M1193.7 2220.6h0M1197.4 2224h0M1165.7 2224.5h0M1251.9 2227h0M1144.4 2226.5h0M1147.6 2224.8h0M1146.4 2230.7h0M1183 2231h0M1202.3 2234.4h0M1150.9 2234.9h0M1160.7 2234.4h0M1154.3 2237.4h0M1164 2240.4h0M1138 2241.8h0M1232 2244.4h0M1275.1 2243.8h0M1135 2250.3h0M1152.8 2248.5h0M1158 2247h0M1183.6 2252.2h0M1155 2256h0M1164 2253h0M1171.4 2253.7h0M1175.1 2258.2h0M1186 2257.4h0M1204.1 2262.2h0M1124.6 2266h0M1149.1 2264.9h0M1162.5 2268.6h0M1134.3 2270.1h0M1138.7 2272.3h0M1177.3 2272.3h0M1150.6 2273h0M1120.9 2276.7h0M1143.2 2276.7h0M1166.2 2276.7h0M1152.1 2279.7h0M1096.8 2283.4h0M1111.2 2283.4h0M1112 2287.9h0M1152.8 2285.6h0M1161.7 2287.9h0M1196.6 2283.7h0M1186.2 2288.6h0M1141.7 2291.6h0M1125.3 2293.8h0M1131.3 2294.6h0M1153.6 2295.3h0M1103.8 2296.8h0M1106.8 2300.5h0M1131 2300.5h0M1127.6 2306.4h0M1159.2 2307.6h0M1078.6 2309.4h0M1098.3 2312.7h0M1109 2314.6h0M1117.9 2314.6h0M1129.8 2313.9h0M1147.6 2311.6h0M1145.8 2315.4h0M1098.3 2328h0M1103.1 2325h0M1140 2280h0M1146 2268h0M1157 2262h0M1128 2278h0M1134 2287h0M1160.2 2276.4h0M1148.6 2247.7h0M1130.2 2253.1h0M1144.3 2234.5h0M1130 2287h0M1154.1 2244.9h0M1145.4 2285.6h0M1163.9 2278.4h0M1143.7 2259.1h0M1155.1 2235.3h0M1150.2 2246.9h0M1163.2 2235.5h0M1155.2 2279.9h0M1137.1 2281.2h0M1162.9 2233h0M1156.3 2232.1h0M1148.1 2256h0M1136.1 2249.9h0M1160.2 2249.4h0M1134 2270.4h0M1145.9 2275.9h0M1137.4 2249.6h0M1160 2259.9h0M1148.3 2245h0M1128.6 2283.3h0M1131.4 2278.5h0" stroke="#000" stroke-width="8.4" stroke-linecap="round" fill="none"/><rect x="1020.6" y="2071.5" width="321.7" height="322.7" fill="none" stroke="#000" stroke-width="2.6"/><path d="M1012.6 2394.2h8M1012.6 2286.6h8M1012.6 2179.1h8M1012.6 2071.5h8M1020.6 2394.2v8M1127.8 2394.2v8M1235.1 2394.2v8M1342.3 2394.2v8" stroke="#000" stroke-width="2.4"/><text x="996.7" y="2402.5" font-size="24.5" textLength="12.2" lengthAdjust="spacingAndGlyphs" fill="#111">0</text><text x="1014.4" y="2428" font-size="24.5" textLength="12.3" lengthAdjust="spacingAndGlyphs" fill="#111">0</text><text x="995.7" y="2294.9" font-size="24.5" textLength="13.5" lengthAdjust="spacingAndGlyphs" fill="#111">1</text><text x="1120.7" y="2428" font-size="24.5" textLength="13.7" lengthAdjust="spacingAndGlyphs" fill="#111">1</text><text x="996.4" y="2187.4" font-size="24.5" textLength="12.8" lengthAdjust="spacingAndGlyphs" fill="#111">2</text><text x="1228.6" y="2428" font-size="24.5" textLength="12.9" lengthAdjust="spacingAndGlyphs" fill="#111">2</text><text x="996.8" y="2079.8" font-size="24.5" textLength="12.3" lengthAdjust="spacingAndGlyphs" fill="#111">3</text><text x="1336.1" y="2428" font-size="24.5" textLength="12.4" lengthAdjust="spacingAndGlyphs" fill="#111">3</text><text x="1032.5" y="2099.3" font-size="24.2" font-weight="bold" textLength="93.3" lengthAdjust="spacingAndGlyphs" fill="#000">Control</text><text x="1273.7" y="2382" font-size="23.6" textLength="61.7" lengthAdjust="spacingAndGlyphs" fill="#111">n=106</text><text transform="translate(976.9 2315) rotate(-90)" x="-2" y="0" font-size="20.4" textLength="189.6" lengthAdjust="spacingAndGlyphs" fill="#111">Left forks, kb/min</text><text x="1086.1" y="2463.1" font-size="24.2" textLength="205" lengthAdjust="spacingAndGlyphs" fill="#111">Right forks, kb/min</text><text x="1061.6" y="2509.9" font-size="24.2" textLength="255.6" lengthAdjust="spacingAndGlyphs" fill="#111">Asymmetric  forks, 8.6%</text><path d="M1440.1 2393.9L1654.1 2072.6" stroke="#e02020" stroke-width="1.4"/><path d="M1440.1 2393.9L1761.1 2179.7" stroke="#e02020" stroke-width="2.4"/><path d="M1603.6 2159.4h0M1532.4 2207.7h0M1588.9 2206.2h0M1637.7 2248.1h0M1483.3 2257.8h0M1568 2257.8h0M1534.2 2260.3h0M1538 2264.7h0M1595.2 2267.2h0M1545.7 2273h0M1600.3 2274.8h0M1618.9 2275.6h0M1609.7 2280.7h0M1474.4 2285h0M1522.3 2284.5h0M1534.2 2283.2h0M1529.1 2289.6h0M1555.3 2290.1h0M1564 2293.4h0M1579.2 2293.4h0M1532.4 2293.4h0M1525.3 2297.2h0M1527.3 2299.8h0M1559.6 2301h0M1517.2 2306.1h0M1548.7 2307.9h0M1501.1 2309.9h0M1557.1 2312h0M1527.3 2317.6h0M1557.9 2318.1h0M1503.7 2316.3h0M1483.3 2320.1h0M1463 2325.2h0M1498.6 2323.9h0M1507 2323.9h0M1494.8 2329h0M1510 2330.3h0M1582.5 2330.3h0M1505 2335.4h0M1515.1 2336.6h0M1530.4 2332.8h0M1541.1 2338.4h0M1492.2 2337.9h0M1497.3 2341.7h0M1463 2343h0M1460.5 2349.4h0M1491 2345.5h0M1507 2346.8h0M1475.7 2344.3h0M1479.5 2348.1h0M1484.6 2350.6h0M1469.4 2351.9h0M1456.6 2355.7h0M1464.3 2355.7h0M1474.4 2357h0M1479.5 2359.5h0M1497.3 2358.3h0M1502.4 2357h0M1515.6 2353.2h0M1456.6 2363.3h0M1466.8 2363.3h0M1471.9 2362.1h0M1487.2 2365.9h0M1457.9 2371h0M1464.3 2373.5h0M1470.6 2374.8h0M1480.8 2373.5h0M1461.7 2378.6h0M1479.5 2340.4h0M1460.5 2355.7h0M1469.9 2368.4h0M1452 2368h0M1475 2366h0M1486 2356h0M1491 2362h0M1452 2376h0M1458 2346h0M1467 2339h0M1486 2335h0M1497 2330h0M1474 2330h0M1469 2345h0M1472.6 2347.9h0M1474.3 2345.9h0M1482.7 2356.4h0M1492.6 2330.5h0M1489.5 2342h0M1464.8 2364.7h0M1458.7 2371.2h0M1486.9 2347.8h0M1495.7 2346.9h0M1473.8 2350.1h0M1473.3 2352.9h0M1485.7 2329.7h0M1506 2311.9h0M1496.2 2348.1h0M1491.1 2325.7h0M1474.4 2355.6h0M1478.6 2339.2h0M1469.9 2364h0M1453 2380.8h0M1486.7 2328.5h0M1502.4 2335h0M1505.8 2338.6h0M1497 2347.3h0M1474.6 2367.8h0M1498.8 2316.2h0M1460.4 2371.6h0M1466.8 2365.4h0M1482.5 2360.8h0M1499.2 2340.1h0M1476.9 2366.6h0" stroke="#000" stroke-width="8.4" stroke-linecap="round" fill="none"/><rect x="1440.1" y="2072.6" width="321" height="321.3" fill="none" stroke="#000" stroke-width="2.6"/><path d="M1432.1 2393.9h8M1432.1 2286.8h8M1432.1 2179.7h8M1432.1 2072.6h8M1440.1 2393.9v8M1547.1 2393.9v8M1654.1 2393.9v8M1761.1 2393.9v8" stroke="#000" stroke-width="2.4"/><text x="1416.2" y="2402.2" font-size="24.5" textLength="12.2" lengthAdjust="spacingAndGlyphs" fill="#111">0</text><text x="1433.9" y="2427.7" font-size="24.5" textLength="12.3" lengthAdjust="spacingAndGlyphs" fill="#111">0</text><text x="1415.2" y="2295.1" font-size="24.5" textLength="13.5" lengthAdjust="spacingAndGlyphs" fill="#111">1</text><text x="1539.9" y="2427.7" font-size="24.5" textLength="13.7" lengthAdjust="spacingAndGlyphs" fill="#111">1</text><text x="1415.9" y="2188" font-size="24.5" textLength="12.8" lengthAdjust="spacingAndGlyphs" fill="#111">2</text><text x="1647.6" y="2427.7" font-size="24.5" textLength="12.9" lengthAdjust="spacingAndGlyphs" fill="#111">2</text><text x="1416.3" y="2080.9" font-size="24.5" textLength="12.3" lengthAdjust="spacingAndGlyphs" fill="#111">3</text><text x="1754.9" y="2427.7" font-size="24.5" textLength="12.4" lengthAdjust="spacingAndGlyphs" fill="#111">3</text><text x="1450.3" y="2100.1" font-size="25.1" font-weight="bold" textLength="120.5" lengthAdjust="spacingAndGlyphs" fill="#000">MLN4924</text><text x="1686.6" y="2381.1" font-size="23.6" textLength="62.1" lengthAdjust="spacingAndGlyphs" fill="#111">n=103</text><text transform="translate(1396.3 2317.6) rotate(-90)" x="-2" y="0" font-size="18.5" textLength="189.4" lengthAdjust="spacingAndGlyphs" fill="#111">Left forks, kb/min</text><text x="1493.3" y="2467.6" font-size="24.2" textLength="205.3" lengthAdjust="spacingAndGlyphs" fill="#111">Right forks, kb/min</text><text x="1470.6" y="2509.6" font-size="24.2" textLength="269.2" lengthAdjust="spacingAndGlyphs" fill="#111">Asymmetric  forks, 24.3%</text><text x="1243.4" y="2053.4" font-size="23.3" textLength="274.6" lengthAdjust="spacingAndGlyphs" fill="#111">Chi-square test, p=0.0022</text></svg></body></html>
